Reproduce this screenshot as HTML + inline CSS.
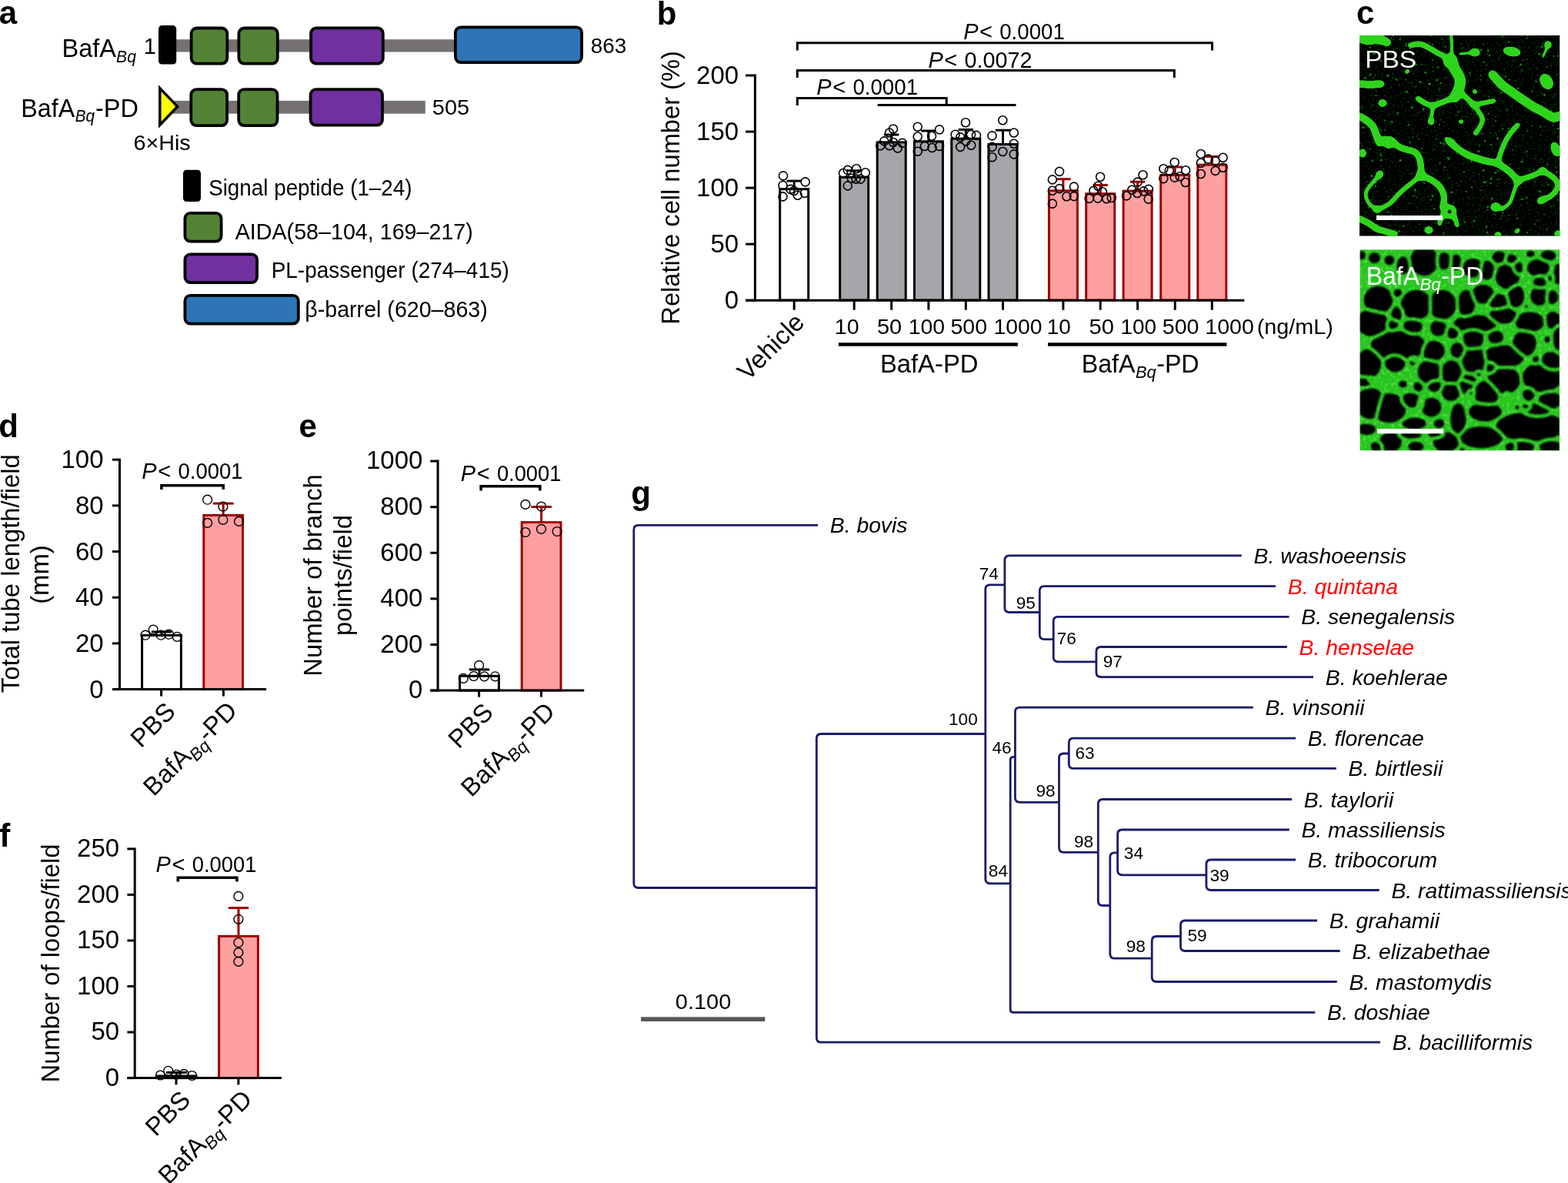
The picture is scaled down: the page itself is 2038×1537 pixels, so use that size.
<!DOCTYPE html><html><head><meta charset="utf-8"><title>Figure</title><style>html,body{margin:0;padding:0;background:#fff;overflow:hidden;}svg{display:block;}text{font-family:'Liberation Sans', Arial, Helvetica, sans-serif;}</style></head><body>
<svg width="2038" height="1537" viewBox="0 0 2038 1537">
<rect width="2038" height="1537" fill="#fff"/>
<text x="-1.26" y="30.5" font-size="42" font-weight="bold">a</text>
<text x="853.87" y="31.5" font-size="42" font-weight="bold">b</text>
<text x="1762.92" y="30.8" font-size="42" font-weight="bold">c</text>
<text x="-1.68" y="568.3" font-size="42" font-weight="bold">d</text>
<text x="388.62" y="567.8" font-size="42" font-weight="bold">e</text>
<text x="-0.73" y="1100.3" font-size="42" font-weight="bold">f</text>
<text x="820.32" y="655" font-size="42" font-weight="bold">g</text>
<rect x="225" y="51.2" width="370" height="16.3" fill="#767171"/>
<rect x="206" y="33.1" width="23.2" height="50.5" rx="4.5" fill="#000"/>
<rect x="248.60" y="36.50" width="46.70" height="46.10" rx="7" fill="#548235" stroke="#000" stroke-width="3.8"/>
<rect x="310.40" y="36.50" width="50.40" height="46.10" rx="7" fill="#548235" stroke="#000" stroke-width="3.8"/>
<rect x="404.10" y="36.40" width="93.70" height="46.30" rx="7" fill="#7030a0" stroke="#000" stroke-width="3.8"/>
<rect x="591.90" y="35.40" width="164.20" height="45.70" rx="7" fill="#2e75b6" stroke="#000" stroke-width="3.8"/>
<text x="80.52" y="73.50" font-size="34" textLength="70.38" lengthAdjust="spacingAndGlyphs">BafA</text>
<text x="151.06" y="80.80" font-size="22.5" font-style="italic" textLength="25.96" lengthAdjust="spacingAndGlyphs">Bq</text>
<text x="186.74" y="69.60" font-size="29">1</text>
<text x="767.82" y="69.00" font-size="28.3" textLength="46.39" lengthAdjust="spacingAndGlyphs">863</text>
<rect x="225" y="130.9" width="327.8" height="16.8" fill="#767171"/>
<path d="M207.8,114.6 L230.6,138.4 L207.8,162.4 Z" fill="#ffff00" stroke="#000" stroke-width="3.5" stroke-linejoin="miter"/>
<rect x="248.30" y="116.10" width="46.80" height="47.00" rx="7" fill="#548235" stroke="#000" stroke-width="3.8"/>
<rect x="310.20" y="116.10" width="50.30" height="47.00" rx="7" fill="#548235" stroke="#000" stroke-width="3.8"/>
<rect x="403.60" y="116.20" width="93.40" height="46.50" rx="7" fill="#7030a0" stroke="#000" stroke-width="3.8"/>
<text x="27.34" y="151.60" font-size="34" textLength="69.86" lengthAdjust="spacingAndGlyphs">BafA</text>
<text x="97.68" y="158.30" font-size="22.5" font-style="italic" textLength="25.44" lengthAdjust="spacingAndGlyphs">Bq</text>
<text x="123.94" y="151.60" font-size="34" textLength="56.00" lengthAdjust="spacingAndGlyphs">-PD</text>
<text x="561.84" y="148.50" font-size="28.3" textLength="48.35" lengthAdjust="spacingAndGlyphs">505</text>
<text x="173.46" y="195.40" font-size="27" textLength="74.23" lengthAdjust="spacingAndGlyphs">6×His</text>
<rect x="238" y="220.8" width="23" height="41.2" rx="4.5" fill="#000"/>
<rect x="240.40" y="276.90" width="47.20" height="36.80" rx="7" fill="#548235" stroke="#000" stroke-width="3.8"/>
<rect x="240.40" y="330.40" width="93.70" height="36.70" rx="7" fill="#7030a0" stroke="#000" stroke-width="3.8"/>
<rect x="240.40" y="383.90" width="147.40" height="36.80" rx="7" fill="#2e75b6" stroke="#000" stroke-width="3.8"/>
<text x="271.15" y="254.00" font-size="29" textLength="264.38" lengthAdjust="spacingAndGlyphs">Signal peptide (1–24)</text>
<text x="305.73" y="310.50" font-size="29" textLength="309.09" lengthAdjust="spacingAndGlyphs">AIDA(58–104, 169–217)</text>
<text x="352.70" y="360.80" font-size="29" textLength="309.07" lengthAdjust="spacingAndGlyphs">PL-passenger (274–415)</text>
<text x="396.30" y="412.00" font-size="29" textLength="237.48" lengthAdjust="spacingAndGlyphs">β-barrel (620–863)</text>
<line x1="981.40" y1="96.50" x2="981.40" y2="391.70" stroke="#000" stroke-width="3" stroke-linecap="butt"/>
<line x1="969.10" y1="390.20" x2="981.40" y2="390.20" stroke="#000" stroke-width="3" stroke-linecap="butt"/>
<text x="941.82" y="401.10" font-size="33">0</text>
<line x1="969.10" y1="317.15" x2="981.40" y2="317.15" stroke="#000" stroke-width="3" stroke-linecap="butt"/>
<text x="923.51" y="328.05" font-size="33">50</text>
<line x1="969.10" y1="244.10" x2="981.40" y2="244.10" stroke="#000" stroke-width="3" stroke-linecap="butt"/>
<text x="905.11" y="255.00" font-size="33">100</text>
<line x1="969.10" y1="171.05" x2="981.40" y2="171.05" stroke="#000" stroke-width="3" stroke-linecap="butt"/>
<text x="905.11" y="181.95" font-size="33">150</text>
<line x1="969.10" y1="98.00" x2="981.40" y2="98.00" stroke="#000" stroke-width="3" stroke-linecap="butt"/>
<text x="905.11" y="108.90" font-size="33">200</text>
<rect x="1013.70" y="245.70" width="37.00" height="144.30" rx="0" fill="#fff" stroke="#000" stroke-width="3"/>
<line x1="1032.20" y1="245.70" x2="1032.20" y2="235.10" stroke="#000" stroke-width="3" stroke-linecap="butt"/>
<line x1="1022.50" y1="235.10" x2="1041.90" y2="235.10" stroke="#000" stroke-width="3" stroke-linecap="butt"/>
<circle cx="1018.0" cy="228.4" r="5.5" fill="none" stroke="#000" stroke-width="1.6"/>
<circle cx="1046.7" cy="236.4" r="5.5" fill="none" stroke="#000" stroke-width="1.6"/>
<circle cx="1017.5" cy="240.9" r="5.5" fill="none" stroke="#000" stroke-width="1.6"/>
<circle cx="1027.5" cy="245.9" r="5.5" fill="none" stroke="#000" stroke-width="1.6"/>
<circle cx="1036.7" cy="253.8" r="5.5" fill="none" stroke="#000" stroke-width="1.6"/>
<circle cx="1017.5" cy="255.4" r="5.5" fill="none" stroke="#000" stroke-width="1.6"/>
<circle cx="1045.9" cy="250.9" r="5.5" fill="none" stroke="#000" stroke-width="1.6"/>
<circle cx="1032.0" cy="248.0" r="5.5" fill="none" stroke="#000" stroke-width="1.6"/>
<rect x="1091.70" y="230.30" width="37.00" height="159.70" rx="0" fill="#a6a5aa" stroke="#000" stroke-width="3"/>
<line x1="1110.20" y1="230.30" x2="1110.20" y2="221.70" stroke="#000" stroke-width="3" stroke-linecap="butt"/>
<line x1="1100.50" y1="221.70" x2="1119.90" y2="221.70" stroke="#000" stroke-width="3" stroke-linecap="butt"/>
<circle cx="1096.0" cy="225.0" r="5.5" fill="none" stroke="#000" stroke-width="1.6"/>
<circle cx="1101.8" cy="220.9" r="5.5" fill="none" stroke="#000" stroke-width="1.6"/>
<circle cx="1113.1" cy="219.2" r="5.5" fill="none" stroke="#000" stroke-width="1.6"/>
<circle cx="1124.8" cy="224.2" r="5.5" fill="none" stroke="#000" stroke-width="1.6"/>
<circle cx="1101.8" cy="241.4" r="5.5" fill="none" stroke="#000" stroke-width="1.6"/>
<circle cx="1106.8" cy="231.7" r="5.5" fill="none" stroke="#000" stroke-width="1.6"/>
<circle cx="1112.6" cy="232.6" r="5.5" fill="none" stroke="#000" stroke-width="1.6"/>
<circle cx="1118.5" cy="232.6" r="5.5" fill="none" stroke="#000" stroke-width="1.6"/>
<rect x="1140.20" y="184.90" width="37.00" height="205.10" rx="0" fill="#a6a5aa" stroke="#000" stroke-width="3"/>
<line x1="1158.70" y1="184.90" x2="1158.70" y2="175.00" stroke="#000" stroke-width="3" stroke-linecap="butt"/>
<line x1="1149.00" y1="175.00" x2="1168.40" y2="175.00" stroke="#000" stroke-width="3" stroke-linecap="butt"/>
<circle cx="1161.0" cy="167.5" r="5.5" fill="none" stroke="#000" stroke-width="1.6"/>
<circle cx="1156.0" cy="172.5" r="5.5" fill="none" stroke="#000" stroke-width="1.6"/>
<circle cx="1149.3" cy="183.4" r="5.5" fill="none" stroke="#000" stroke-width="1.6"/>
<circle cx="1144.3" cy="189.2" r="5.5" fill="none" stroke="#000" stroke-width="1.6"/>
<circle cx="1156.0" cy="189.2" r="5.5" fill="none" stroke="#000" stroke-width="1.6"/>
<circle cx="1161.0" cy="185.0" r="5.5" fill="none" stroke="#000" stroke-width="1.6"/>
<circle cx="1166.8" cy="192.5" r="5.5" fill="none" stroke="#000" stroke-width="1.6"/>
<circle cx="1172.7" cy="185.9" r="5.5" fill="none" stroke="#000" stroke-width="1.6"/>
<rect x="1188.40" y="183.80" width="37.00" height="206.20" rx="0" fill="#a6a5aa" stroke="#000" stroke-width="3"/>
<line x1="1206.90" y1="183.80" x2="1206.90" y2="170.00" stroke="#000" stroke-width="3" stroke-linecap="butt"/>
<line x1="1197.20" y1="170.00" x2="1216.60" y2="170.00" stroke="#000" stroke-width="3" stroke-linecap="butt"/>
<circle cx="1192.7" cy="164.7" r="5.5" fill="none" stroke="#000" stroke-width="1.6"/>
<circle cx="1221.0" cy="168.4" r="5.5" fill="none" stroke="#000" stroke-width="1.6"/>
<circle cx="1192.7" cy="177.5" r="5.5" fill="none" stroke="#000" stroke-width="1.6"/>
<circle cx="1211.0" cy="176.7" r="5.5" fill="none" stroke="#000" stroke-width="1.6"/>
<circle cx="1201.9" cy="190.0" r="5.5" fill="none" stroke="#000" stroke-width="1.6"/>
<circle cx="1211.5" cy="192.0" r="5.5" fill="none" stroke="#000" stroke-width="1.6"/>
<circle cx="1221.0" cy="190.0" r="5.5" fill="none" stroke="#000" stroke-width="1.6"/>
<circle cx="1192.7" cy="196.7" r="5.5" fill="none" stroke="#000" stroke-width="1.6"/>
<rect x="1236.80" y="180.20" width="37.00" height="209.80" rx="0" fill="#a6a5aa" stroke="#000" stroke-width="3"/>
<line x1="1255.30" y1="180.20" x2="1255.30" y2="168.40" stroke="#000" stroke-width="3" stroke-linecap="butt"/>
<line x1="1245.60" y1="168.40" x2="1265.00" y2="168.40" stroke="#000" stroke-width="3" stroke-linecap="butt"/>
<circle cx="1255.0" cy="159.2" r="5.5" fill="none" stroke="#000" stroke-width="1.6"/>
<circle cx="1241.6" cy="174.7" r="5.5" fill="none" stroke="#000" stroke-width="1.6"/>
<circle cx="1248.2" cy="178.4" r="5.5" fill="none" stroke="#000" stroke-width="1.6"/>
<circle cx="1262.0" cy="175.0" r="5.5" fill="none" stroke="#000" stroke-width="1.6"/>
<circle cx="1269.0" cy="175.9" r="5.5" fill="none" stroke="#000" stroke-width="1.6"/>
<circle cx="1255.3" cy="183.4" r="5.5" fill="none" stroke="#000" stroke-width="1.6"/>
<circle cx="1248.2" cy="190.9" r="5.5" fill="none" stroke="#000" stroke-width="1.6"/>
<circle cx="1262.3" cy="188.7" r="5.5" fill="none" stroke="#000" stroke-width="1.6"/>
<rect x="1285.00" y="187.50" width="37.00" height="202.50" rx="0" fill="#a6a5aa" stroke="#000" stroke-width="3"/>
<line x1="1303.50" y1="187.50" x2="1303.50" y2="169.20" stroke="#000" stroke-width="3" stroke-linecap="butt"/>
<line x1="1293.80" y1="169.20" x2="1313.20" y2="169.20" stroke="#000" stroke-width="3" stroke-linecap="butt"/>
<circle cx="1303.3" cy="156.3" r="5.5" fill="none" stroke="#000" stroke-width="1.6"/>
<circle cx="1289.5" cy="176.4" r="5.5" fill="none" stroke="#000" stroke-width="1.6"/>
<circle cx="1317.8" cy="172.5" r="5.5" fill="none" stroke="#000" stroke-width="1.6"/>
<circle cx="1317.8" cy="186.7" r="5.5" fill="none" stroke="#000" stroke-width="1.6"/>
<circle cx="1289.5" cy="190.9" r="5.5" fill="none" stroke="#000" stroke-width="1.6"/>
<circle cx="1303.3" cy="197.0" r="5.5" fill="none" stroke="#000" stroke-width="1.6"/>
<circle cx="1289.5" cy="204.2" r="5.5" fill="none" stroke="#000" stroke-width="1.6"/>
<circle cx="1317.8" cy="200.4" r="5.5" fill="none" stroke="#000" stroke-width="1.6"/>
<rect x="1363.40" y="247.80" width="37.00" height="142.20" rx="0" fill="#ffa0a0" stroke="#9c0000" stroke-width="3"/>
<line x1="1381.90" y1="247.80" x2="1381.90" y2="232.70" stroke="#9c0000" stroke-width="3" stroke-linecap="butt"/>
<line x1="1372.20" y1="232.70" x2="1391.60" y2="232.70" stroke="#9c0000" stroke-width="3" stroke-linecap="butt"/>
<circle cx="1377.0" cy="222.9" r="5.5" fill="none" stroke="#000" stroke-width="1.6"/>
<circle cx="1367.9" cy="233.4" r="5.5" fill="none" stroke="#000" stroke-width="1.6"/>
<circle cx="1395.9" cy="242.6" r="5.5" fill="none" stroke="#000" stroke-width="1.6"/>
<circle cx="1367.9" cy="247.7" r="5.5" fill="none" stroke="#000" stroke-width="1.6"/>
<circle cx="1377.0" cy="245.1" r="5.5" fill="none" stroke="#000" stroke-width="1.6"/>
<circle cx="1386.4" cy="255.3" r="5.5" fill="none" stroke="#000" stroke-width="1.6"/>
<circle cx="1395.9" cy="255.1" r="5.5" fill="none" stroke="#000" stroke-width="1.6"/>
<circle cx="1367.9" cy="264.6" r="5.5" fill="none" stroke="#000" stroke-width="1.6"/>
<rect x="1411.70" y="251.70" width="37.00" height="138.30" rx="0" fill="#ffa0a0" stroke="#9c0000" stroke-width="3"/>
<line x1="1430.20" y1="251.70" x2="1430.20" y2="240.40" stroke="#9c0000" stroke-width="3" stroke-linecap="butt"/>
<line x1="1420.50" y1="240.40" x2="1439.90" y2="240.40" stroke="#9c0000" stroke-width="3" stroke-linecap="butt"/>
<circle cx="1430.1" cy="229.8" r="5.5" fill="none" stroke="#000" stroke-width="1.6"/>
<circle cx="1427.2" cy="241.7" r="5.5" fill="none" stroke="#000" stroke-width="1.6"/>
<circle cx="1421.4" cy="247.7" r="5.5" fill="none" stroke="#000" stroke-width="1.6"/>
<circle cx="1432.9" cy="249.3" r="5.5" fill="none" stroke="#000" stroke-width="1.6"/>
<circle cx="1415.7" cy="257.9" r="5.5" fill="none" stroke="#000" stroke-width="1.6"/>
<circle cx="1426.8" cy="257.6" r="5.5" fill="none" stroke="#000" stroke-width="1.6"/>
<circle cx="1438.3" cy="258.3" r="5.5" fill="none" stroke="#000" stroke-width="1.6"/>
<circle cx="1444.7" cy="257.0" r="5.5" fill="none" stroke="#000" stroke-width="1.6"/>
<rect x="1460.10" y="248.10" width="37.00" height="141.90" rx="0" fill="#ffa0a0" stroke="#9c0000" stroke-width="3"/>
<line x1="1478.60" y1="248.10" x2="1478.60" y2="236.20" stroke="#9c0000" stroke-width="3" stroke-linecap="butt"/>
<line x1="1468.90" y1="236.20" x2="1488.30" y2="236.20" stroke="#9c0000" stroke-width="3" stroke-linecap="butt"/>
<circle cx="1485.5" cy="227.3" r="5.5" fill="none" stroke="#000" stroke-width="1.6"/>
<circle cx="1478.6" cy="236.6" r="5.5" fill="none" stroke="#000" stroke-width="1.6"/>
<circle cx="1471.2" cy="246.8" r="5.5" fill="none" stroke="#000" stroke-width="1.6"/>
<circle cx="1486.3" cy="248.4" r="5.5" fill="none" stroke="#000" stroke-width="1.6"/>
<circle cx="1492.9" cy="245.9" r="5.5" fill="none" stroke="#000" stroke-width="1.6"/>
<circle cx="1464.2" cy="254.4" r="5.5" fill="none" stroke="#000" stroke-width="1.6"/>
<circle cx="1478.2" cy="251.0" r="5.5" fill="none" stroke="#000" stroke-width="1.6"/>
<circle cx="1492.6" cy="258.6" r="5.5" fill="none" stroke="#000" stroke-width="1.6"/>
<rect x="1508.70" y="227.50" width="37.00" height="162.50" rx="0" fill="#ffa0a0" stroke="#9c0000" stroke-width="3"/>
<line x1="1527.20" y1="227.50" x2="1527.20" y2="217.00" stroke="#9c0000" stroke-width="3" stroke-linecap="butt"/>
<line x1="1517.50" y1="217.00" x2="1536.90" y2="217.00" stroke="#9c0000" stroke-width="3" stroke-linecap="butt"/>
<circle cx="1526.7" cy="211.0" r="5.5" fill="none" stroke="#000" stroke-width="1.6"/>
<circle cx="1512.3" cy="219.3" r="5.5" fill="none" stroke="#000" stroke-width="1.6"/>
<circle cx="1519.7" cy="221.6" r="5.5" fill="none" stroke="#000" stroke-width="1.6"/>
<circle cx="1541.1" cy="221.3" r="5.5" fill="none" stroke="#000" stroke-width="1.6"/>
<circle cx="1512.3" cy="232.1" r="5.5" fill="none" stroke="#000" stroke-width="1.6"/>
<circle cx="1526.7" cy="230.6" r="5.5" fill="none" stroke="#000" stroke-width="1.6"/>
<circle cx="1533.7" cy="229.3" r="5.5" fill="none" stroke="#000" stroke-width="1.6"/>
<circle cx="1540.7" cy="237.0" r="5.5" fill="none" stroke="#000" stroke-width="1.6"/>
<rect x="1556.80" y="214.20" width="37.00" height="175.80" rx="0" fill="#ffa0a0" stroke="#9c0000" stroke-width="3"/>
<line x1="1575.30" y1="214.20" x2="1575.30" y2="203.40" stroke="#9c0000" stroke-width="3" stroke-linecap="butt"/>
<line x1="1565.60" y1="203.40" x2="1585.00" y2="203.40" stroke="#9c0000" stroke-width="3" stroke-linecap="butt"/>
<circle cx="1560.8" cy="200.0" r="5.5" fill="none" stroke="#000" stroke-width="1.6"/>
<circle cx="1589.6" cy="204.7" r="5.5" fill="none" stroke="#000" stroke-width="1.6"/>
<circle cx="1570.5" cy="206.6" r="5.5" fill="none" stroke="#000" stroke-width="1.6"/>
<circle cx="1579.7" cy="209.1" r="5.5" fill="none" stroke="#000" stroke-width="1.6"/>
<circle cx="1560.8" cy="211.7" r="5.5" fill="none" stroke="#000" stroke-width="1.6"/>
<circle cx="1589.6" cy="217.8" r="5.5" fill="none" stroke="#000" stroke-width="1.6"/>
<circle cx="1579.7" cy="221.9" r="5.5" fill="none" stroke="#000" stroke-width="1.6"/>
<circle cx="1560.8" cy="226.0" r="5.5" fill="none" stroke="#000" stroke-width="1.6"/>
<line x1="969.00" y1="390.20" x2="1617.30" y2="390.20" stroke="#000" stroke-width="3" stroke-linecap="butt"/>
<line x1="1032.20" y1="390.20" x2="1032.20" y2="402.70" stroke="#000" stroke-width="3" stroke-linecap="butt"/>
<line x1="1110.20" y1="390.20" x2="1110.20" y2="402.70" stroke="#000" stroke-width="3" stroke-linecap="butt"/>
<line x1="1158.70" y1="390.20" x2="1158.70" y2="402.70" stroke="#000" stroke-width="3" stroke-linecap="butt"/>
<line x1="1206.90" y1="390.20" x2="1206.90" y2="402.70" stroke="#000" stroke-width="3" stroke-linecap="butt"/>
<line x1="1255.30" y1="390.20" x2="1255.30" y2="402.70" stroke="#000" stroke-width="3" stroke-linecap="butt"/>
<line x1="1303.50" y1="390.20" x2="1303.50" y2="402.70" stroke="#000" stroke-width="3" stroke-linecap="butt"/>
<line x1="1381.90" y1="390.20" x2="1381.90" y2="402.70" stroke="#000" stroke-width="3" stroke-linecap="butt"/>
<line x1="1430.20" y1="390.20" x2="1430.20" y2="402.70" stroke="#000" stroke-width="3" stroke-linecap="butt"/>
<line x1="1478.60" y1="390.20" x2="1478.60" y2="402.70" stroke="#000" stroke-width="3" stroke-linecap="butt"/>
<line x1="1527.20" y1="390.20" x2="1527.20" y2="402.70" stroke="#000" stroke-width="3" stroke-linecap="butt"/>
<line x1="1575.30" y1="390.20" x2="1575.30" y2="402.70" stroke="#000" stroke-width="3" stroke-linecap="butt"/>
<path d="M1036.3,65.5 V55.8 H1575.5 V65.5" fill="none" stroke="#000" stroke-width="3"/>
<path d="M1036.3,100.9 V91.4 H1526.3 V100.9" fill="none" stroke="#000" stroke-width="3"/>
<path d="M1036.3,137.0 V127.6 H1230.2 V136.5" fill="none" stroke="#000" stroke-width="3"/>
<line x1="1140.70" y1="136.50" x2="1320.50" y2="136.50" stroke="#000" stroke-width="3" stroke-linecap="butt"/>
<text x="1061.33" y="122.80" font-size="29" font-style="italic">P</text>
<text x="1082.15" y="122.80" font-size="29">&lt;</text>
<text x="1108.39" y="122.80" font-size="29" textLength="84.66" lengthAdjust="spacingAndGlyphs">0.0001</text>
<text x="1206.53" y="87.80" font-size="29" font-style="italic">P</text>
<text x="1227.35" y="87.80" font-size="29">&lt;</text>
<text x="1253.55" y="87.80" font-size="29" textLength="88.02" lengthAdjust="spacingAndGlyphs">0.0072</text>
<text x="1252.13" y="50.60" font-size="29" font-style="italic">P</text>
<text x="1272.95" y="50.60" font-size="29">&lt;</text>
<text x="1299.19" y="50.60" font-size="29" textLength="84.66" lengthAdjust="spacingAndGlyphs">0.0001</text>
<text x="1084.76" y="434.30" font-size="28.2" textLength="31.78" lengthAdjust="spacingAndGlyphs">10</text>
<text x="1139.94" y="434.30" font-size="28.2" textLength="32.21" lengthAdjust="spacingAndGlyphs">50</text>
<text x="1180.67" y="434.30" font-size="28.2" textLength="47.43" lengthAdjust="spacingAndGlyphs">100</text>
<text x="1235.46" y="434.30" font-size="28.2" textLength="47.64" lengthAdjust="spacingAndGlyphs">500</text>
<text x="1291.47" y="434.30" font-size="28.2" textLength="63.05" lengthAdjust="spacingAndGlyphs">1000</text>
<text x="1360.81" y="434.30" font-size="28.2" textLength="31.00" lengthAdjust="spacingAndGlyphs">10</text>
<text x="1415.43" y="434.30" font-size="28.2" textLength="32.43" lengthAdjust="spacingAndGlyphs">50</text>
<text x="1456.41" y="434.30" font-size="28.2" textLength="46.57" lengthAdjust="spacingAndGlyphs">100</text>
<text x="1510.86" y="434.30" font-size="28.2" textLength="47.64" lengthAdjust="spacingAndGlyphs">500</text>
<text x="1566.36" y="434.30" font-size="28.2" textLength="63.37" lengthAdjust="spacingAndGlyphs">1000</text>
<text x="1633.80" y="434.30" font-size="28.2" textLength="99.00" lengthAdjust="spacingAndGlyphs">(ng/mL)</text>
<line x1="1089.90" y1="447.50" x2="1322.90" y2="447.50" stroke="#000" stroke-width="4.4" stroke-linecap="butt"/>
<line x1="1362.00" y1="447.50" x2="1594.40" y2="447.50" stroke="#000" stroke-width="4.4" stroke-linecap="butt"/>
<text x="1143.89" y="484.10" font-size="33" textLength="127.57" lengthAdjust="spacingAndGlyphs">BafA-PD</text>
<text x="1405.75" y="484.20" font-size="33" textLength="69.76" lengthAdjust="spacingAndGlyphs">BafA</text>
<text x="1476.00" y="491.20" font-size="22.5" font-style="italic" textLength="26.70" lengthAdjust="spacingAndGlyphs">Bq</text>
<text x="1503.20" y="484.20" font-size="33" textLength="55.41" lengthAdjust="spacingAndGlyphs">-PD</text>
<g transform="translate(882.8,243.9) rotate(-90)">
<text x="-177.76" y="0.00" font-size="33" textLength="355.51" lengthAdjust="spacingAndGlyphs">Relative cell number (%)</text>
</g>
<g transform="translate(1047.3,420.7) rotate(-45)">
<text x="-106.42" y="0.00" font-size="33">Vehicle</text>
</g>
<defs><clipPath id="cp1"><rect x="0" y="0" width="260.4" height="260.7"/></clipPath><clipPath id="cp2"><rect x="0" y="0" width="259.6" height="261.3"/></clipPath><filter id="soft" x="-5%" y="-5%" width="110%" height="110%"><feGaussianBlur stdDeviation="2.2" result="b"/><feColorMatrix in="b" values="1 0 0 0 0  0 1 0 0 0  0 0 1 0 0  0 0 0 9 -3.6" result="g"/><feGaussianBlur in="g" stdDeviation="0.7"/></filter><filter id="soft2" x="-5%" y="-5%" width="110%" height="110%"><feGaussianBlur stdDeviation="1.1"/></filter><filter id="tex2" x="0" y="0" width="100%" height="100%"><feTurbulence type="fractalNoise" baseFrequency="0.22" numOctaves="2" seed="5"/><feColorMatrix values="0 0 0 0 0.22  0 0 0 0 0.95  0 0 0 0 0.12  0 0 0 1.6 -0.8"/></filter><filter id="haze1" x="0" y="0" width="100%" height="100%"><feTurbulence type="fractalNoise" baseFrequency="0.35" numOctaves="2" seed="9"/><feColorMatrix values="0 0 0 0 0  0 0 0 0 0.4  0 0 0 0 0  0 0 0 1.5 -0.85"/></filter></defs>
<g transform="translate(1767,46)" clip-path="url(#cp1)"><rect width="260.4" height="260.7" fill="#000"/><rect width="260.4" height="260.7" filter="url(#haze1)"/><g fill="#1f9a1a" opacity="0.8"><circle cx="84.2" cy="39.2" r="0.6"/><circle cx="18.8" cy="139.3" r="1.0"/><circle cx="151.5" cy="236.5" r="0.8"/><circle cx="9.7" cy="112.7" r="0.6"/><circle cx="62.6" cy="143.3" r="0.6"/><circle cx="215.0" cy="32.2" r="0.8"/><circle cx="164.0" cy="151.6" r="0.6"/><circle cx="150.0" cy="103.1" r="0.8"/><circle cx="12.1" cy="223.2" r="1.0"/><circle cx="109.0" cy="140.6" r="1.5"/><circle cx="80.2" cy="212.2" r="0.8"/><circle cx="26.8" cy="148.5" r="0.8"/><circle cx="96.8" cy="142.4" r="0.6"/><circle cx="146.7" cy="160.9" r="1.2"/><circle cx="176.9" cy="111.2" r="1.0"/><circle cx="121.1" cy="240.1" r="1.0"/><circle cx="77.9" cy="206.5" r="0.8"/><circle cx="21.3" cy="78.1" r="1.2"/><circle cx="227.5" cy="189.7" r="1.0"/><circle cx="158.3" cy="19.0" r="1.5"/><circle cx="108.7" cy="196.9" r="0.8"/><circle cx="242.7" cy="109.6" r="0.6"/><circle cx="198.8" cy="149.0" r="1.0"/><circle cx="88.4" cy="91.0" r="1.2"/><circle cx="150.8" cy="118.6" r="0.6"/><circle cx="245.6" cy="123.3" r="0.6"/><circle cx="15.8" cy="182.4" r="1.5"/><circle cx="258.2" cy="213.7" r="1.0"/><circle cx="186.3" cy="230.6" r="1.0"/><circle cx="5.9" cy="120.0" r="0.8"/><circle cx="158.8" cy="128.4" r="0.8"/><circle cx="199.7" cy="33.6" r="0.8"/><circle cx="103.5" cy="238.4" r="1.2"/><circle cx="21.0" cy="116.8" r="1.5"/><circle cx="72.2" cy="35.6" r="1.2"/><circle cx="224.6" cy="72.4" r="1.2"/><circle cx="256.5" cy="177.5" r="1.2"/><circle cx="249.0" cy="39.2" r="0.8"/><circle cx="39.3" cy="171.2" r="0.6"/><circle cx="126.1" cy="153.2" r="1.0"/><circle cx="73.3" cy="37.9" r="1.5"/><circle cx="96.0" cy="147.2" r="0.8"/><circle cx="179.5" cy="134.0" r="1.5"/><circle cx="170.3" cy="192.3" r="1.2"/><circle cx="233.9" cy="202.8" r="1.5"/><circle cx="102.0" cy="103.7" r="0.6"/><circle cx="125.2" cy="104.1" r="0.8"/><circle cx="17.5" cy="54.3" r="0.8"/><circle cx="28.6" cy="156.2" r="0.6"/><circle cx="0.1" cy="39.3" r="0.6"/><circle cx="246.7" cy="159.6" r="0.6"/><circle cx="227.3" cy="159.7" r="0.8"/><circle cx="164.9" cy="248.4" r="1.5"/><circle cx="94.7" cy="31.9" r="1.2"/><circle cx="258.2" cy="121.2" r="1.2"/><circle cx="81.1" cy="37.5" r="1.0"/><circle cx="192.5" cy="124.4" r="0.8"/><circle cx="134.2" cy="53.4" r="1.5"/><circle cx="94.1" cy="179.4" r="0.6"/><circle cx="197.1" cy="77.5" r="0.6"/><circle cx="181.0" cy="67.9" r="1.0"/><circle cx="236.1" cy="92.5" r="0.8"/><circle cx="138.5" cy="202.6" r="1.0"/><circle cx="165.5" cy="159.4" r="0.8"/><circle cx="209.6" cy="212.8" r="0.8"/><circle cx="52.0" cy="128.1" r="0.6"/><circle cx="257.3" cy="205.4" r="1.2"/><circle cx="67.4" cy="180.1" r="1.0"/><circle cx="116.3" cy="243.6" r="1.0"/><circle cx="248.3" cy="94.8" r="0.8"/><circle cx="26.6" cy="122.2" r="1.0"/><circle cx="53.1" cy="162.3" r="1.5"/><circle cx="218.5" cy="124.7" r="1.0"/><circle cx="207.9" cy="22.0" r="0.6"/><circle cx="236.5" cy="203.4" r="0.8"/><circle cx="124.3" cy="46.4" r="1.0"/><circle cx="22.6" cy="246.0" r="1.2"/><circle cx="120.4" cy="193.3" r="0.6"/><circle cx="188.4" cy="44.2" r="0.8"/><circle cx="7.2" cy="153.6" r="1.2"/><circle cx="209.7" cy="38.0" r="1.5"/><circle cx="254.9" cy="170.9" r="1.0"/><circle cx="40.5" cy="142.6" r="0.6"/><circle cx="3.7" cy="252.4" r="0.6"/><circle cx="136.9" cy="242.7" r="1.2"/><circle cx="256.5" cy="50.6" r="0.8"/><circle cx="7.3" cy="55.3" r="1.5"/><circle cx="62.5" cy="152.5" r="1.0"/><circle cx="141.5" cy="216.9" r="0.6"/><circle cx="236.6" cy="92.0" r="1.2"/><circle cx="172.2" cy="211.9" r="1.5"/><circle cx="109.4" cy="238.6" r="1.5"/><circle cx="34.0" cy="39.5" r="1.5"/><circle cx="4.9" cy="114.4" r="0.8"/><circle cx="158.2" cy="201.8" r="0.8"/><circle cx="44.8" cy="123.1" r="0.6"/><circle cx="144.7" cy="84.8" r="1.5"/><circle cx="138.0" cy="125.4" r="0.6"/><circle cx="229.6" cy="14.8" r="0.8"/><circle cx="72.0" cy="200.8" r="1.5"/><circle cx="117.6" cy="7.2" r="0.6"/><circle cx="115.2" cy="159.3" r="1.5"/><circle cx="157.6" cy="51.8" r="1.0"/><circle cx="117.6" cy="138.7" r="1.2"/><circle cx="132.0" cy="64.4" r="1.5"/><circle cx="227.9" cy="245.0" r="1.0"/><circle cx="239.9" cy="232.1" r="0.8"/><circle cx="218.4" cy="35.7" r="0.6"/><circle cx="102.0" cy="82.2" r="0.8"/><circle cx="111.4" cy="55.3" r="1.0"/><circle cx="203.8" cy="233.2" r="0.8"/><circle cx="244.3" cy="167.3" r="1.0"/><circle cx="37.2" cy="229.5" r="1.2"/><circle cx="57.1" cy="247.7" r="1.2"/><circle cx="230.1" cy="42.3" r="0.8"/><circle cx="42.0" cy="112.2" r="1.5"/><circle cx="105.0" cy="109.5" r="1.0"/><circle cx="82.8" cy="187.8" r="0.6"/><circle cx="87.9" cy="119.3" r="0.6"/><circle cx="99.9" cy="134.5" r="1.0"/><circle cx="133.2" cy="16.7" r="0.8"/><circle cx="252.6" cy="27.2" r="1.0"/><circle cx="70.7" cy="235.5" r="0.8"/><circle cx="70.3" cy="33.7" r="1.2"/><circle cx="220.9" cy="175.8" r="1.0"/><circle cx="105.5" cy="139.5" r="1.5"/><circle cx="148.4" cy="182.1" r="0.6"/><circle cx="72.6" cy="207.9" r="0.8"/><circle cx="110.6" cy="18.8" r="0.6"/><circle cx="165.0" cy="208.4" r="0.6"/><circle cx="158.1" cy="57.8" r="1.0"/><circle cx="224.3" cy="118.0" r="1.0"/><circle cx="258.5" cy="108.6" r="1.0"/><circle cx="161.6" cy="11.2" r="0.8"/><circle cx="243.9" cy="252.0" r="1.0"/><circle cx="13.1" cy="52.5" r="1.0"/><circle cx="163.5" cy="138.1" r="0.8"/><circle cx="75.4" cy="130.0" r="0.8"/><circle cx="70.3" cy="209.0" r="1.0"/><circle cx="9.6" cy="4.8" r="1.5"/><circle cx="143.3" cy="49.3" r="1.2"/><circle cx="63.9" cy="116.2" r="1.2"/><circle cx="170.7" cy="141.9" r="1.2"/><circle cx="252.3" cy="80.0" r="0.8"/><circle cx="255.4" cy="89.1" r="0.8"/><circle cx="105.2" cy="90.4" r="0.6"/><circle cx="217.6" cy="3.7" r="1.0"/><circle cx="112.0" cy="14.4" r="1.2"/><circle cx="226.3" cy="174.3" r="1.0"/><circle cx="155.7" cy="180.1" r="0.6"/><circle cx="119.5" cy="41.0" r="1.2"/><circle cx="0.9" cy="94.7" r="1.0"/><circle cx="252.9" cy="142.2" r="0.8"/><circle cx="9.0" cy="229.4" r="0.8"/><circle cx="92.7" cy="0.3" r="1.2"/><circle cx="21.8" cy="72.5" r="0.8"/><circle cx="64.5" cy="201.8" r="0.6"/><circle cx="68.7" cy="23.3" r="1.2"/><circle cx="152.6" cy="102.4" r="1.0"/><circle cx="79.1" cy="60.5" r="1.5"/><circle cx="249.0" cy="221.8" r="0.8"/><circle cx="171.0" cy="186.2" r="1.5"/><circle cx="101.3" cy="84.8" r="1.2"/><circle cx="38.9" cy="188.3" r="0.8"/><circle cx="11.4" cy="217.2" r="1.5"/><circle cx="163.1" cy="190.8" r="1.5"/><circle cx="36.2" cy="136.2" r="1.5"/><circle cx="147.8" cy="211.4" r="0.6"/><circle cx="214.9" cy="151.9" r="0.8"/><circle cx="22.1" cy="10.9" r="1.0"/><circle cx="249.5" cy="97.9" r="1.2"/><circle cx="145.2" cy="163.2" r="1.5"/><circle cx="177.0" cy="127.2" r="0.6"/><circle cx="118.8" cy="18.2" r="1.5"/><circle cx="233.4" cy="23.9" r="1.5"/><circle cx="17.2" cy="191.6" r="1.0"/><circle cx="210.4" cy="220.0" r="0.8"/><circle cx="189.6" cy="53.4" r="1.2"/><circle cx="128.4" cy="99.5" r="1.2"/><circle cx="236.7" cy="74.7" r="0.6"/><circle cx="160.4" cy="167.1" r="0.6"/><circle cx="155.9" cy="86.3" r="1.0"/><circle cx="161.5" cy="34.7" r="1.2"/><circle cx="15.8" cy="69.9" r="0.6"/><circle cx="180.0" cy="175.7" r="1.0"/><circle cx="184.3" cy="74.2" r="1.2"/><circle cx="121.2" cy="30.8" r="1.5"/><circle cx="51.8" cy="254.3" r="1.2"/><circle cx="4.6" cy="119.3" r="1.5"/><circle cx="251.7" cy="116.9" r="1.0"/><circle cx="100.6" cy="238.3" r="0.8"/><circle cx="19.4" cy="23.5" r="1.5"/><circle cx="68.1" cy="93.5" r="1.5"/><circle cx="213.3" cy="132.3" r="0.6"/><circle cx="182.9" cy="60.2" r="1.2"/><circle cx="102.5" cy="41.4" r="1.2"/><circle cx="177.2" cy="105.4" r="0.8"/><circle cx="108.2" cy="97.8" r="0.6"/><circle cx="218.5" cy="0.5" r="1.0"/><circle cx="218.2" cy="31.2" r="0.8"/><circle cx="185.4" cy="234.4" r="1.0"/><circle cx="65.8" cy="16.9" r="1.2"/><circle cx="259.7" cy="153.2" r="1.0"/><circle cx="240.6" cy="196.5" r="0.6"/><circle cx="73.0" cy="13.4" r="1.0"/><circle cx="165.1" cy="38.7" r="1.0"/><circle cx="113.4" cy="82.1" r="1.0"/><circle cx="204.1" cy="111.2" r="0.6"/><circle cx="211.1" cy="164.0" r="1.5"/><circle cx="142.8" cy="187.1" r="0.6"/><circle cx="242.7" cy="106.8" r="1.5"/><circle cx="195.7" cy="167.6" r="1.0"/><circle cx="126.2" cy="237.1" r="1.5"/><circle cx="33.1" cy="122.8" r="1.0"/><circle cx="73.3" cy="66.5" r="1.0"/><circle cx="105.6" cy="62.1" r="1.2"/><circle cx="144.9" cy="102.5" r="0.8"/><circle cx="167.2" cy="19.5" r="1.5"/><circle cx="235.5" cy="129.2" r="0.8"/><circle cx="117.8" cy="86.5" r="1.2"/><circle cx="111.1" cy="142.4" r="0.8"/><circle cx="23.6" cy="88.9" r="0.6"/><circle cx="83.0" cy="95.8" r="1.5"/><circle cx="52.6" cy="5.2" r="1.2"/><circle cx="99.5" cy="193.9" r="0.8"/><circle cx="98.0" cy="87.9" r="0.6"/><circle cx="129.5" cy="149.3" r="1.0"/><circle cx="32.7" cy="130.9" r="0.8"/><circle cx="24.1" cy="233.2" r="1.2"/><circle cx="103.9" cy="115.9" r="1.0"/><circle cx="220.7" cy="227.0" r="0.6"/><circle cx="33.1" cy="110.6" r="1.2"/><circle cx="251.8" cy="127.4" r="0.6"/><circle cx="101.8" cy="241.0" r="1.5"/><circle cx="222.4" cy="252.8" r="0.8"/><circle cx="203.6" cy="58.2" r="0.8"/><circle cx="135.8" cy="177.3" r="1.2"/><circle cx="22.1" cy="202.0" r="0.6"/><circle cx="203.4" cy="60.5" r="0.6"/><circle cx="167.8" cy="79.0" r="0.8"/><circle cx="162.9" cy="137.3" r="1.2"/><circle cx="181.6" cy="29.2" r="0.6"/><circle cx="78.1" cy="245.3" r="0.8"/><circle cx="100.9" cy="58.1" r="1.5"/><circle cx="0.3" cy="139.7" r="1.2"/><circle cx="72.4" cy="82.3" r="0.8"/><circle cx="123.6" cy="61.0" r="0.8"/><circle cx="7.6" cy="107.1" r="1.0"/><circle cx="14.4" cy="50.5" r="1.2"/><circle cx="21.1" cy="59.2" r="1.2"/><circle cx="240.5" cy="59.0" r="0.6"/><circle cx="180.9" cy="186.8" r="1.0"/><circle cx="177.5" cy="51.5" r="1.0"/><circle cx="192.2" cy="131.3" r="0.8"/><circle cx="128.9" cy="52.1" r="0.8"/><circle cx="60.0" cy="57.6" r="1.0"/><circle cx="28.3" cy="162.1" r="1.5"/><circle cx="48.7" cy="58.1" r="1.2"/><circle cx="236.7" cy="14.7" r="1.5"/><circle cx="38.1" cy="102.3" r="0.8"/><circle cx="6.1" cy="155.0" r="1.2"/><circle cx="13.5" cy="15.6" r="1.2"/><circle cx="116.9" cy="185.1" r="1.0"/><circle cx="190.5" cy="259.4" r="0.8"/><circle cx="85.6" cy="48.2" r="1.5"/><circle cx="194.0" cy="8.3" r="1.2"/><circle cx="218.2" cy="256.1" r="1.2"/><circle cx="44.0" cy="0.7" r="1.0"/><circle cx="21.0" cy="109.2" r="0.6"/><circle cx="145.9" cy="197.3" r="1.2"/><circle cx="92.7" cy="213.6" r="1.2"/><circle cx="22.8" cy="183.4" r="0.8"/><circle cx="96.9" cy="239.1" r="0.8"/><circle cx="84.1" cy="191.7" r="1.2"/><circle cx="7.9" cy="106.8" r="1.2"/><circle cx="10.6" cy="9.1" r="0.6"/><circle cx="208.9" cy="16.1" r="0.8"/><circle cx="194.3" cy="233.6" r="1.0"/><circle cx="94.4" cy="87.1" r="1.5"/><circle cx="11.3" cy="194.1" r="1.0"/><circle cx="240.3" cy="77.3" r="1.5"/><circle cx="238.3" cy="164.8" r="0.6"/><circle cx="6.3" cy="60.8" r="1.2"/><circle cx="186.0" cy="121.1" r="1.2"/><circle cx="205.3" cy="237.5" r="1.2"/><circle cx="34.5" cy="129.1" r="0.6"/><circle cx="208.7" cy="192.0" r="0.8"/><circle cx="157.9" cy="85.2" r="1.0"/><circle cx="119.8" cy="203.8" r="1.5"/><circle cx="20.5" cy="51.3" r="0.8"/><circle cx="64.3" cy="16.8" r="0.6"/><circle cx="125.2" cy="141.6" r="0.8"/><circle cx="254.9" cy="229.7" r="0.6"/><circle cx="68.9" cy="21.9" r="0.6"/><circle cx="109.5" cy="257.0" r="1.2"/><circle cx="45.0" cy="34.6" r="1.2"/><circle cx="161.3" cy="175.3" r="1.5"/><circle cx="220.2" cy="172.8" r="0.6"/><circle cx="202.7" cy="76.4" r="1.0"/><circle cx="147.4" cy="97.0" r="1.0"/><circle cx="51.8" cy="64.3" r="0.8"/><circle cx="61.2" cy="73.2" r="1.5"/><circle cx="48.9" cy="16.8" r="1.0"/><circle cx="258.0" cy="131.9" r="0.8"/><circle cx="168.9" cy="26.1" r="1.2"/><circle cx="257.6" cy="26.6" r="1.2"/><circle cx="229.5" cy="60.1" r="1.2"/><circle cx="237.7" cy="10.5" r="1.0"/><circle cx="60.6" cy="13.1" r="1.5"/><circle cx="253.0" cy="151.6" r="0.6"/><circle cx="96.8" cy="225.2" r="1.2"/><circle cx="156.8" cy="201.5" r="0.6"/><circle cx="27.5" cy="155.0" r="1.5"/><circle cx="90.9" cy="9.7" r="1.0"/><circle cx="36.8" cy="53.0" r="1.0"/><circle cx="9.9" cy="190.4" r="0.8"/><circle cx="211.8" cy="212.9" r="1.2"/><circle cx="176.4" cy="48.1" r="1.0"/><circle cx="20.3" cy="8.2" r="1.2"/><circle cx="142.5" cy="16.5" r="0.6"/><circle cx="206.9" cy="172.6" r="0.8"/><circle cx="166.2" cy="23.7" r="0.8"/><circle cx="103.4" cy="70.5" r="1.0"/><circle cx="173.6" cy="108.6" r="0.6"/><circle cx="81.2" cy="147.3" r="1.0"/><circle cx="107.7" cy="4.7" r="1.0"/><circle cx="167.6" cy="101.6" r="1.2"/><circle cx="53.0" cy="1.5" r="0.8"/><circle cx="110.2" cy="213.3" r="1.2"/><circle cx="150.2" cy="94.8" r="0.8"/><circle cx="33.8" cy="13.4" r="0.8"/><circle cx="166.6" cy="236.5" r="0.6"/><circle cx="148.9" cy="241.1" r="1.5"/><circle cx="44.6" cy="90.5" r="0.8"/><circle cx="135.5" cy="240.6" r="0.6"/><circle cx="99.8" cy="195.9" r="0.8"/><circle cx="78.4" cy="217.7" r="0.6"/><circle cx="253.6" cy="125.5" r="0.6"/><circle cx="158.0" cy="165.5" r="0.6"/><circle cx="235.1" cy="161.3" r="0.8"/><circle cx="166.5" cy="222.7" r="1.5"/><circle cx="105.2" cy="220.1" r="1.2"/><circle cx="47.6" cy="56.7" r="1.2"/><circle cx="244.0" cy="40.7" r="1.0"/><circle cx="32.0" cy="64.2" r="0.8"/><circle cx="10.7" cy="146.2" r="0.6"/><circle cx="173.7" cy="84.3" r="1.2"/><circle cx="155.9" cy="143.0" r="1.0"/><circle cx="168.7" cy="80.1" r="0.8"/><circle cx="110.7" cy="171.3" r="1.2"/><circle cx="130.9" cy="46.5" r="0.6"/><circle cx="160.9" cy="127.3" r="0.8"/><circle cx="116.2" cy="160.8" r="1.2"/><circle cx="217.5" cy="210.7" r="1.2"/><circle cx="27.8" cy="33.4" r="1.2"/><circle cx="95.0" cy="208.6" r="1.5"/><circle cx="132.6" cy="10.6" r="0.8"/><circle cx="21.4" cy="190.7" r="1.5"/><circle cx="20.8" cy="195.5" r="1.2"/><circle cx="169.7" cy="203.9" r="0.6"/><circle cx="222.8" cy="259.0" r="0.6"/><circle cx="50.4" cy="255.2" r="1.2"/><circle cx="74.8" cy="210.9" r="0.8"/><circle cx="178.4" cy="187.5" r="0.8"/><circle cx="17.0" cy="91.2" r="1.0"/><circle cx="41.3" cy="233.1" r="1.0"/><circle cx="235.3" cy="118.7" r="1.0"/><circle cx="130.6" cy="239.2" r="0.8"/><circle cx="153.9" cy="160.1" r="0.8"/><circle cx="83.0" cy="9.6" r="0.8"/><circle cx="104.9" cy="165.5" r="1.0"/><circle cx="176.7" cy="232.8" r="0.8"/><circle cx="206.0" cy="68.7" r="1.5"/><circle cx="12.6" cy="223.2" r="1.2"/><circle cx="144.3" cy="150.8" r="0.6"/><circle cx="65.5" cy="139.3" r="1.2"/><circle cx="191.9" cy="96.6" r="1.2"/><circle cx="257.5" cy="150.1" r="1.0"/><circle cx="86.0" cy="21.2" r="0.8"/><circle cx="46.0" cy="193.3" r="0.6"/><circle cx="77.1" cy="134.2" r="1.0"/><circle cx="166.2" cy="255.9" r="1.5"/><circle cx="241.4" cy="232.9" r="0.6"/><circle cx="194.3" cy="57.6" r="1.0"/><circle cx="160.2" cy="112.4" r="1.5"/><circle cx="94.7" cy="12.4" r="1.2"/><circle cx="59.1" cy="169.8" r="0.6"/><circle cx="14.1" cy="147.5" r="1.0"/><circle cx="27.7" cy="92.9" r="0.8"/><circle cx="107.4" cy="78.3" r="0.8"/><circle cx="53.1" cy="162.2" r="1.2"/><circle cx="41.2" cy="3.7" r="0.8"/><circle cx="183.9" cy="117.2" r="0.6"/><circle cx="165.9" cy="226.5" r="1.0"/><circle cx="104.5" cy="68.7" r="0.6"/><circle cx="14.6" cy="213.4" r="1.0"/><circle cx="154.6" cy="150.4" r="1.5"/><circle cx="243.7" cy="190.7" r="0.8"/><circle cx="42.9" cy="0.1" r="0.6"/><circle cx="138.2" cy="105.6" r="0.8"/><circle cx="41.4" cy="237.1" r="0.6"/><circle cx="3.2" cy="143.2" r="0.8"/><circle cx="37.0" cy="51.9" r="1.5"/><circle cx="167.1" cy="168.4" r="1.2"/><circle cx="211.5" cy="45.4" r="1.0"/><circle cx="16.6" cy="162.8" r="1.2"/><circle cx="186.0" cy="1.7" r="1.2"/><circle cx="193.7" cy="121.0" r="1.2"/><circle cx="45.6" cy="259.1" r="1.0"/><circle cx="60.4" cy="10.1" r="1.0"/><circle cx="231.7" cy="240.5" r="1.0"/><circle cx="185.0" cy="69.2" r="1.5"/><circle cx="176.6" cy="178.3" r="1.5"/><circle cx="252.7" cy="76.9" r="0.8"/><circle cx="22.2" cy="131.9" r="0.8"/><circle cx="67.7" cy="61.4" r="0.8"/><circle cx="245.6" cy="194.0" r="1.0"/><circle cx="49.9" cy="101.1" r="1.5"/><circle cx="62.2" cy="236.0" r="1.5"/><circle cx="122.1" cy="218.3" r="0.6"/></g><g filter="url(#soft)"><path d="M0.0,4.0 C2.0,4.5 8.0,6.8 12.0,7.0 C16.0,7.2 20.0,4.7 24.0,5.0 C28.0,5.3 34.0,8.3 36.0,9.0" fill="none" stroke="#2fd41c" stroke-width="10.35" stroke-linecap="round" stroke-linejoin="round" opacity="1"/><ellipse cx="28" cy="6" rx="8" ry="6" transform="rotate(0 28 6)" fill="#2fd41c" opacity="1"/><ellipse cx="20" cy="-2" rx="10" ry="5" transform="rotate(0 20 -2)" fill="#2fd41c" opacity="1"/><path d="M66.0,13.0 C68.0,12.7 74.0,10.5 78.0,11.0 C82.0,11.5 86.0,14.0 90.0,16.0 C94.0,18.0 98.3,21.0 102.0,23.0 C105.7,25.0 110.3,27.2 112.0,28.0" fill="none" stroke="#2fd41c" stroke-width="6.90" stroke-linecap="round" stroke-linejoin="round" opacity="1"/><circle cx="118" cy="33" r="6.5" fill="none" stroke="#2fd41c" stroke-width="6"/><path d="M119.0,-2.0 C119.2,0.3 119.8,7.2 120.0,12.0 C120.2,16.8 120.0,24.5 120.0,27.0" fill="none" stroke="#2fd41c" stroke-width="4.02" stroke-linecap="round" stroke-linejoin="round" opacity="1"/><path d="M121.0,39.0 C122.0,40.7 125.3,45.8 127.0,49.0 C128.7,52.2 130.7,54.5 131.0,58.0 C131.3,61.5 130.2,66.3 129.0,70.0 C127.8,73.7 124.8,78.3 124.0,80.0" fill="none" stroke="#2fd41c" stroke-width="13.80" stroke-linecap="round" stroke-linejoin="round" opacity="1"/><path d="M124.0,80.0 C121.7,81.0 114.8,84.2 110.0,86.0 C105.2,87.8 99.2,90.7 95.0,91.0 C90.8,91.3 88.2,89.5 85.0,88.0 C81.8,86.5 77.5,83.0 76.0,82.0" fill="none" stroke="#2fd41c" stroke-width="6.90" stroke-linecap="round" stroke-linejoin="round" opacity="1"/><path d="M96.0,91.0 C95.7,92.8 94.5,98.8 94.0,102.0 C93.5,105.2 93.2,108.7 93.0,110.0" fill="none" stroke="#2fd41c" stroke-width="4.60" stroke-linecap="round" stroke-linejoin="round" opacity="1"/><ellipse cx="93" cy="112" rx="4.5" ry="5" transform="rotate(0 93 112)" fill="#2fd41c" opacity="1"/><path d="M0.0,63.0 C2.3,63.2 9.3,64.0 14.0,64.0 C18.7,64.0 25.7,63.2 28.0,63.0" fill="none" stroke="#2fd41c" stroke-width="9.20" stroke-linecap="round" stroke-linejoin="round" opacity="1"/><ellipse cx="30" cy="88" rx="6" ry="5" transform="rotate(0 30 88)" fill="#2fd41c" opacity="1"/><ellipse cx="62" cy="47" rx="4" ry="3" transform="rotate(-40 62 47)" fill="#2fd41c" opacity="1"/><ellipse cx="28" cy="38" rx="3" ry="3" transform="rotate(0 28 38)" fill="#2fd41c" opacity="0.6"/><ellipse cx="91" cy="63" rx="3.5" ry="2" transform="rotate(-20 91 63)" fill="#2fd41c" opacity="1"/><path d="M0.0,105.0 C1.7,106.0 7.0,108.7 10.0,111.0 C13.0,113.3 16.0,115.8 18.0,119.0 C20.0,122.2 20.7,126.5 22.0,130.0 C23.3,133.5 25.3,138.3 26.0,140.0" fill="none" stroke="#2fd41c" stroke-width="9.20" stroke-linecap="round" stroke-linejoin="round" opacity="1"/><path d="M129.0,24.0 L142.0,23.0" fill="none" stroke="#2fd41c" stroke-width="3.45" stroke-linecap="round" stroke-linejoin="round" opacity="1"/><ellipse cx="150" cy="22" rx="7" ry="5.5" transform="rotate(0 150 22)" fill="#2fd41c" opacity="1"/><ellipse cx="198" cy="21" rx="12" ry="6" transform="rotate(10 198 21)" fill="#2fd41c" opacity="1"/><ellipse cx="245" cy="12" rx="5" ry="5" transform="rotate(0 245 12)" fill="#2fd41c" opacity="1"/><path d="M245.0,13.0 C244.3,14.5 242.2,19.3 241.0,22.0 C239.8,24.7 238.5,27.8 238.0,29.0" fill="none" stroke="#2fd41c" stroke-width="3.45" stroke-linecap="round" stroke-linejoin="round" opacity="1"/><path d="M173.0,51.0 C175.0,53.2 181.2,60.5 185.0,64.0 C188.8,67.5 191.8,69.0 196.0,72.0 C200.2,75.0 205.2,78.7 210.0,82.0 C214.8,85.3 220.0,89.0 225.0,92.0 C230.0,95.0 235.5,97.5 240.0,100.0 C244.5,102.5 248.5,106.3 252.0,107.0 C255.5,107.7 259.5,104.5 261.0,104.0" fill="none" stroke="#2fd41c" stroke-width="11.50" stroke-linecap="round" stroke-linejoin="round" opacity="1"/><ellipse cx="243" cy="60" rx="8" ry="11" transform="rotate(-30 243 60)" fill="#2fd41c" opacity="1"/><ellipse cx="150" cy="73" rx="4" ry="3" transform="rotate(30 150 73)" fill="#2fd41c" opacity="1"/><path d="M130.0,73.0 C131.7,74.5 137.0,79.2 140.0,82.0 C143.0,84.8 146.7,88.7 148.0,90.0" fill="none" stroke="#2fd41c" stroke-width="6.90" stroke-linecap="round" stroke-linejoin="round" opacity="1"/><path d="M148.0,90.0 C150.0,89.7 155.5,88.8 160.0,88.0 C164.5,87.2 172.5,85.5 175.0,85.0" fill="none" stroke="#2fd41c" stroke-width="5.75" stroke-linecap="round" stroke-linejoin="round" opacity="1"/><path d="M148.0,90.0 C149.5,92.0 155.0,98.7 157.0,102.0 C159.0,105.3 160.2,107.0 160.0,110.0 C159.8,113.0 157.5,117.2 156.0,120.0 C154.5,122.8 151.8,125.8 151.0,127.0" fill="none" stroke="#2fd41c" stroke-width="5.75" stroke-linecap="round" stroke-linejoin="round" opacity="1"/><ellipse cx="151" cy="127" rx="3.5" ry="3.5" transform="rotate(0 151 127)" fill="#2fd41c" opacity="1"/><ellipse cx="132" cy="112" rx="4" ry="3" transform="rotate(0 132 112)" fill="#2fd41c" opacity="1"/><path d="M206.0,116.0 C204.5,117.7 199.7,122.5 197.0,126.0 C194.3,129.5 192.2,132.8 190.0,137.0 C187.8,141.2 185.7,146.3 184.0,151.0 C182.3,155.7 180.7,162.7 180.0,165.0" fill="none" stroke="#2fd41c" stroke-width="6.32" stroke-linecap="round" stroke-linejoin="round" opacity="1"/><circle cx="38" cy="140" r="5" fill="none" stroke="#2fd41c" stroke-width="4.5"/><path d="M27.0,137.0 C29.2,136.7 36.2,133.8 40.0,135.0 C43.8,136.2 46.7,141.8 50.0,144.0 C53.3,146.2 56.2,146.7 60.0,148.0 C63.8,149.3 70.0,150.0 73.0,152.0 C76.0,154.0 76.8,156.7 78.0,160.0 C79.2,163.3 79.7,168.3 80.0,172.0 C80.3,175.7 80.0,180.3 80.0,182.0" fill="none" stroke="#2fd41c" stroke-width="8.05" stroke-linecap="round" stroke-linejoin="round" opacity="1"/><path d="M80.0,182.0 C78.3,183.3 73.3,187.3 70.0,190.0 C66.7,192.7 63.3,195.2 60.0,198.0 C56.7,200.8 53.3,203.7 50.0,207.0 C46.7,210.3 44.2,214.8 40.0,218.0 C35.8,221.2 27.5,224.7 25.0,226.0" fill="none" stroke="#2fd41c" stroke-width="5.75" stroke-linecap="round" stroke-linejoin="round" opacity="1"/><ellipse cx="23" cy="226" rx="6" ry="5" transform="rotate(0 23 226)" fill="#2fd41c" opacity="1"/><path d="M22.0,226.0 C20.3,224.7 14.3,221.5 12.0,218.0 C9.7,214.5 7.7,208.8 8.0,205.0 C8.3,201.2 11.7,198.2 14.0,195.0 C16.3,191.8 19.8,188.5 22.0,186.0 C24.2,183.5 26.2,181.0 27.0,180.0" fill="none" stroke="#2fd41c" stroke-width="4.60" stroke-linecap="round" stroke-linejoin="round" opacity="1"/><ellipse cx="26" cy="181" rx="5" ry="6" transform="rotate(30 26 181)" fill="#2fd41c" opacity="1"/><path d="M80.0,182.0 C82.0,182.8 88.0,184.7 92.0,187.0 C96.0,189.3 101.0,192.2 104.0,196.0 C107.0,199.8 109.3,205.3 110.0,210.0 C110.7,214.7 108.3,221.7 108.0,224.0" fill="none" stroke="#2fd41c" stroke-width="8.05" stroke-linecap="round" stroke-linejoin="round" opacity="1"/><circle cx="117" cy="229" r="6.5" fill="none" stroke="#2fd41c" stroke-width="6"/><path d="M108.0,232.0 L104.0,245.0" fill="none" stroke="#2fd41c" stroke-width="5.75" stroke-linecap="round" stroke-linejoin="round" opacity="1"/><path d="M124.0,236.0 L127.0,247.0" fill="none" stroke="#2fd41c" stroke-width="5.75" stroke-linecap="round" stroke-linejoin="round" opacity="1"/><ellipse cx="119" cy="139" rx="8" ry="5" transform="rotate(40 119 139)" fill="#2fd41c" opacity="1"/><ellipse cx="112" cy="134" rx="3" ry="2" transform="rotate(40 112 134)" fill="#2fd41c" opacity="1"/><ellipse cx="4" cy="153" rx="5" ry="6" transform="rotate(0 4 153)" fill="#2fd41c" opacity="1"/><path d="M0.0,238.0 C2.0,239.0 8.3,241.8 12.0,244.0 C15.7,246.2 18.2,249.2 22.0,251.0 C25.8,252.8 31.0,253.8 35.0,255.0 C39.0,256.2 44.2,257.5 46.0,258.0" fill="none" stroke="#2fd41c" stroke-width="8.05" stroke-linecap="round" stroke-linejoin="round" opacity="1"/><ellipse cx="90" cy="253" rx="6" ry="5" transform="rotate(0 90 253)" fill="#2fd41c" opacity="1"/><path d="M116.0,137.0 C117.7,138.5 122.0,143.0 126.0,146.0 C130.0,149.0 134.3,152.3 140.0,155.0 C145.7,157.7 153.3,160.0 160.0,162.0 C166.7,164.0 174.0,164.3 180.0,167.0 C186.0,169.7 191.7,174.3 196.0,178.0 C200.3,181.7 204.3,187.2 206.0,189.0" fill="none" stroke="#2fd41c" stroke-width="8.62" stroke-linecap="round" stroke-linejoin="round" opacity="1"/><path d="M205.0,188.0 C207.5,187.3 214.7,185.8 220.0,184.0 C225.3,182.2 234.2,178.2 237.0,177.0" fill="none" stroke="#2fd41c" stroke-width="6.90" stroke-linecap="round" stroke-linejoin="round" opacity="1"/><ellipse cx="238" cy="176" rx="6" ry="5" transform="rotate(0 238 176)" fill="#2fd41c" opacity="1"/><path d="M238.0,177.0 C240.0,178.0 246.7,180.3 250.0,183.0 C253.3,185.7 257.5,189.3 258.0,193.0 C258.5,196.7 255.5,201.8 253.0,205.0 C250.5,208.2 244.7,210.8 243.0,212.0" fill="none" stroke="#2fd41c" stroke-width="6.90" stroke-linecap="round" stroke-linejoin="round" opacity="1"/><ellipse cx="237" cy="214" rx="7" ry="5" transform="rotate(-30 237 214)" fill="#2fd41c" opacity="1"/><path d="M205.0,190.0 C204.2,192.5 201.7,200.3 200.0,205.0 C198.3,209.7 197.5,214.5 195.0,218.0 C192.5,221.5 186.7,224.7 185.0,226.0" fill="none" stroke="#2fd41c" stroke-width="4.60" stroke-linecap="round" stroke-linejoin="round" opacity="1"/><ellipse cx="177" cy="223" rx="7" ry="6" transform="rotate(0 177 223)" fill="#2fd41c" opacity="1"/><ellipse cx="255" cy="148" rx="6" ry="10" transform="rotate(-20 255 148)" fill="#2fd41c" opacity="1"/><ellipse cx="218" cy="151" rx="2.5" ry="2.5" transform="rotate(0 218 151)" fill="#2fd41c" opacity="1"/><ellipse cx="148" cy="204" rx="2" ry="2" transform="rotate(0 148 204)" fill="#2fd41c" opacity="1"/><ellipse cx="162" cy="191" rx="2.5" ry="2.5" transform="rotate(0 162 191)" fill="#2fd41c" opacity="1"/><ellipse cx="205" cy="254" rx="5" ry="3" transform="rotate(-40 205 254)" fill="#2fd41c" opacity="1"/><ellipse cx="180" cy="259" rx="5" ry="4" transform="rotate(0 180 259)" fill="#2fd41c" opacity="1"/><ellipse cx="258" cy="258" rx="5" ry="5" transform="rotate(0 258 258)" fill="#2fd41c" opacity="1"/><ellipse cx="124" cy="80" rx="7" ry="7" transform="rotate(0 124 80)" fill="#2fd41c" opacity="1"/><ellipse cx="148" cy="90" rx="5" ry="5" transform="rotate(0 148 90)" fill="#2fd41c" opacity="1"/><ellipse cx="80" cy="182" rx="7" ry="7" transform="rotate(0 80 182)" fill="#2fd41c" opacity="1"/><ellipse cx="206" cy="189" rx="6" ry="6" transform="rotate(0 206 189)" fill="#2fd41c" opacity="1"/><ellipse cx="180" cy="166" rx="5" ry="5" transform="rotate(0 180 166)" fill="#2fd41c" opacity="1"/><ellipse cx="27" cy="137" rx="6" ry="6" transform="rotate(0 27 137)" fill="#2fd41c" opacity="1"/><ellipse cx="122" cy="38" rx="7" ry="7" transform="rotate(0 122 38)" fill="#2fd41c" opacity="1"/><ellipse cx="96" cy="91" rx="4" ry="4" transform="rotate(0 96 91)" fill="#2fd41c" opacity="1"/><ellipse cx="238" cy="177" rx="4" ry="4" transform="rotate(0 238 177)" fill="#2fd41c" opacity="1"/></g></g>
<g transform="translate(1767.4,324.2)" clip-path="url(#cp2)"><rect width="259.6" height="261.3" fill="#27c41f"/><rect width="259.6" height="261.3" filter="url(#tex2)"/><g fill="#55f045" opacity="0.7"><circle cx="117.6" cy="145.5" r="1.0"/><circle cx="117.5" cy="222.3" r="0.7"/><circle cx="48.0" cy="133.1" r="1.3"/><circle cx="159.6" cy="48.4" r="1.0"/><circle cx="78.9" cy="23.6" r="1.3"/><circle cx="165.0" cy="154.8" r="1.0"/><circle cx="250.8" cy="170.0" r="1.3"/><circle cx="169.0" cy="162.0" r="1.3"/><circle cx="16.4" cy="9.3" r="0.7"/><circle cx="155.9" cy="202.3" r="1.0"/><circle cx="114.5" cy="219.0" r="1.3"/><circle cx="60.7" cy="76.5" r="0.7"/><circle cx="172.2" cy="118.9" r="1.0"/><circle cx="105.8" cy="143.3" r="0.7"/><circle cx="184.0" cy="82.0" r="0.7"/><circle cx="133.4" cy="7.7" r="1.3"/><circle cx="199.2" cy="104.1" r="1.0"/><circle cx="100.5" cy="249.1" r="1.3"/><circle cx="0.1" cy="54.5" r="0.7"/><circle cx="122.2" cy="254.9" r="1.0"/><circle cx="109.1" cy="147.2" r="0.7"/><circle cx="202.4" cy="70.1" r="0.7"/><circle cx="80.9" cy="3.9" r="1.0"/><circle cx="197.1" cy="30.7" r="0.7"/><circle cx="183.8" cy="2.8" r="1.0"/><circle cx="207.2" cy="46.2" r="1.3"/><circle cx="49.0" cy="132.3" r="1.3"/><circle cx="200.1" cy="109.0" r="1.0"/><circle cx="30.3" cy="109.4" r="0.7"/><circle cx="0.1" cy="224.7" r="1.3"/><circle cx="79.1" cy="230.1" r="0.7"/><circle cx="48.7" cy="258.9" r="1.3"/><circle cx="166.9" cy="26.1" r="0.7"/><circle cx="55.4" cy="67.2" r="1.3"/><circle cx="85.5" cy="77.0" r="0.7"/><circle cx="19.3" cy="54.3" r="1.3"/><circle cx="63.2" cy="156.3" r="1.0"/><circle cx="161.8" cy="33.1" r="1.3"/><circle cx="125.8" cy="149.4" r="1.0"/><circle cx="47.5" cy="40.1" r="0.7"/><circle cx="212.6" cy="64.9" r="0.7"/><circle cx="41.2" cy="163.5" r="1.3"/><circle cx="51.1" cy="247.0" r="1.0"/><circle cx="156.9" cy="109.6" r="0.7"/><circle cx="28.4" cy="133.2" r="1.0"/><circle cx="62.0" cy="183.2" r="1.0"/><circle cx="109.4" cy="235.3" r="1.0"/><circle cx="76.3" cy="45.6" r="1.3"/><circle cx="254.1" cy="32.9" r="1.0"/><circle cx="145.4" cy="221.6" r="1.3"/><circle cx="19.3" cy="55.2" r="0.7"/><circle cx="194.7" cy="18.0" r="1.0"/><circle cx="115.9" cy="15.7" r="0.7"/><circle cx="73.3" cy="138.1" r="0.7"/><circle cx="24.0" cy="36.0" r="1.0"/><circle cx="254.9" cy="170.8" r="1.3"/><circle cx="135.7" cy="246.2" r="1.3"/><circle cx="9.1" cy="4.7" r="1.0"/><circle cx="182.3" cy="250.3" r="0.7"/><circle cx="155.6" cy="19.5" r="0.7"/><circle cx="189.9" cy="82.9" r="0.7"/><circle cx="19.6" cy="142.0" r="1.3"/><circle cx="11.6" cy="243.4" r="1.3"/><circle cx="183.0" cy="206.2" r="1.0"/><circle cx="91.5" cy="178.1" r="0.7"/><circle cx="226.5" cy="108.5" r="0.7"/><circle cx="224.5" cy="148.9" r="1.3"/><circle cx="172.2" cy="98.6" r="0.7"/><circle cx="158.3" cy="20.9" r="1.3"/><circle cx="30.1" cy="66.9" r="1.0"/><circle cx="189.3" cy="101.0" r="1.3"/><circle cx="180.5" cy="119.0" r="1.0"/><circle cx="218.0" cy="21.8" r="1.3"/><circle cx="7.7" cy="156.3" r="1.0"/><circle cx="5.8" cy="248.9" r="0.7"/><circle cx="129.3" cy="159.8" r="1.0"/><circle cx="66.5" cy="2.9" r="1.0"/><circle cx="37.2" cy="159.1" r="1.3"/><circle cx="44.1" cy="235.5" r="1.3"/><circle cx="241.9" cy="129.6" r="0.7"/><circle cx="85.0" cy="173.1" r="0.7"/><circle cx="164.9" cy="209.0" r="0.7"/><circle cx="228.9" cy="99.9" r="1.3"/><circle cx="239.4" cy="54.6" r="0.7"/><circle cx="129.1" cy="217.6" r="0.7"/><circle cx="184.9" cy="247.0" r="1.0"/><circle cx="213.7" cy="29.3" r="1.0"/><circle cx="71.5" cy="55.7" r="1.0"/><circle cx="99.5" cy="135.2" r="1.3"/><circle cx="82.0" cy="218.2" r="1.3"/><circle cx="117.6" cy="19.4" r="0.7"/><circle cx="72.3" cy="158.0" r="1.3"/><circle cx="184.2" cy="148.4" r="1.0"/><circle cx="168.8" cy="146.7" r="1.3"/><circle cx="35.3" cy="118.3" r="0.7"/><circle cx="200.0" cy="69.3" r="0.7"/><circle cx="207.2" cy="255.8" r="0.7"/><circle cx="116.1" cy="163.8" r="1.3"/><circle cx="166.4" cy="95.9" r="0.7"/><circle cx="178.0" cy="51.8" r="1.0"/><circle cx="66.6" cy="185.7" r="1.0"/><circle cx="139.1" cy="9.4" r="0.7"/><circle cx="70.8" cy="89.9" r="1.3"/><circle cx="246.2" cy="130.1" r="0.7"/><circle cx="102.3" cy="205.9" r="0.7"/><circle cx="22.7" cy="242.5" r="1.3"/><circle cx="100.9" cy="117.1" r="0.7"/><circle cx="162.6" cy="236.6" r="1.0"/><circle cx="143.0" cy="169.7" r="1.3"/><circle cx="207.2" cy="245.5" r="1.0"/><circle cx="84.9" cy="255.4" r="0.7"/><circle cx="187.7" cy="212.8" r="1.3"/><circle cx="240.3" cy="32.1" r="0.7"/><circle cx="234.0" cy="254.9" r="1.0"/><circle cx="139.6" cy="205.6" r="1.0"/><circle cx="68.1" cy="186.7" r="0.7"/><circle cx="90.6" cy="21.5" r="1.0"/><circle cx="88.9" cy="109.6" r="1.0"/><circle cx="126.7" cy="7.4" r="0.7"/><circle cx="111.5" cy="9.1" r="1.3"/><circle cx="87.1" cy="204.9" r="0.7"/><circle cx="122.3" cy="260.0" r="1.3"/><circle cx="134.7" cy="176.3" r="1.0"/><circle cx="245.9" cy="128.1" r="1.3"/><circle cx="22.4" cy="57.6" r="1.3"/><circle cx="145.3" cy="216.1" r="1.3"/><circle cx="166.1" cy="135.9" r="1.3"/><circle cx="66.7" cy="174.5" r="1.3"/><circle cx="54.1" cy="221.2" r="1.3"/><circle cx="136.3" cy="149.0" r="0.7"/><circle cx="106.9" cy="29.7" r="0.7"/><circle cx="157.4" cy="7.2" r="0.7"/><circle cx="134.2" cy="104.2" r="1.3"/><circle cx="31.7" cy="24.2" r="0.7"/><circle cx="17.1" cy="140.1" r="1.0"/><circle cx="239.4" cy="208.1" r="1.0"/><circle cx="70.0" cy="123.0" r="0.7"/><circle cx="88.3" cy="234.2" r="1.0"/><circle cx="136.5" cy="28.2" r="1.0"/><circle cx="160.7" cy="240.6" r="0.7"/><circle cx="182.5" cy="254.1" r="0.7"/><circle cx="50.5" cy="59.1" r="1.3"/><circle cx="73.9" cy="188.1" r="0.7"/><circle cx="161.1" cy="27.3" r="1.3"/><circle cx="151.4" cy="221.5" r="1.3"/><circle cx="65.1" cy="51.4" r="1.3"/><circle cx="228.5" cy="6.0" r="1.3"/><circle cx="107.5" cy="137.6" r="0.7"/><circle cx="139.9" cy="224.6" r="1.3"/><circle cx="166.0" cy="137.7" r="1.3"/><circle cx="159.0" cy="222.8" r="0.7"/><circle cx="237.9" cy="163.2" r="1.0"/><circle cx="234.7" cy="82.1" r="1.0"/><circle cx="231.6" cy="50.6" r="0.7"/><circle cx="230.8" cy="34.8" r="0.7"/><circle cx="34.5" cy="22.9" r="1.0"/><circle cx="25.2" cy="216.4" r="1.0"/><circle cx="141.3" cy="183.3" r="0.7"/><circle cx="104.7" cy="178.2" r="0.7"/><circle cx="25.0" cy="148.2" r="1.0"/><circle cx="237.0" cy="251.8" r="0.7"/><circle cx="183.2" cy="165.0" r="1.0"/><circle cx="130.7" cy="178.3" r="0.7"/><circle cx="208.7" cy="125.3" r="0.7"/><circle cx="9.7" cy="143.4" r="1.3"/><circle cx="235.3" cy="125.1" r="0.7"/><circle cx="48.0" cy="53.0" r="0.7"/><circle cx="257.5" cy="241.0" r="0.7"/><circle cx="150.7" cy="35.0" r="1.3"/><circle cx="120.1" cy="198.8" r="1.0"/><circle cx="101.6" cy="110.9" r="1.0"/><circle cx="111.8" cy="156.2" r="0.7"/><circle cx="164.8" cy="10.6" r="0.7"/><circle cx="47.1" cy="118.0" r="1.3"/><circle cx="96.3" cy="239.7" r="1.3"/><circle cx="42.9" cy="133.3" r="0.7"/><circle cx="84.2" cy="22.1" r="1.3"/><circle cx="227.7" cy="236.3" r="1.0"/><circle cx="148.1" cy="49.6" r="1.3"/><circle cx="255.5" cy="209.3" r="1.0"/><circle cx="72.7" cy="30.2" r="1.3"/><circle cx="202.3" cy="211.8" r="1.0"/><circle cx="34.6" cy="85.8" r="1.3"/><circle cx="180.6" cy="199.5" r="0.7"/><circle cx="105.5" cy="187.9" r="0.7"/><circle cx="207.3" cy="78.4" r="0.7"/><circle cx="2.8" cy="92.5" r="1.3"/><circle cx="234.7" cy="12.9" r="1.0"/><circle cx="245.6" cy="173.2" r="1.0"/><circle cx="56.2" cy="105.6" r="0.7"/><circle cx="138.6" cy="101.3" r="1.0"/><circle cx="167.0" cy="182.3" r="1.0"/><circle cx="254.8" cy="5.9" r="1.3"/><circle cx="28.1" cy="61.6" r="1.0"/><circle cx="104.4" cy="13.1" r="0.7"/><circle cx="168.5" cy="2.8" r="1.0"/><circle cx="65.2" cy="235.5" r="1.3"/><circle cx="140.5" cy="108.1" r="1.3"/><circle cx="147.7" cy="258.7" r="1.3"/><circle cx="115.5" cy="167.6" r="1.3"/><circle cx="155.4" cy="197.4" r="0.7"/><circle cx="100.5" cy="244.0" r="1.0"/><circle cx="122.7" cy="44.0" r="1.0"/><circle cx="140.9" cy="155.1" r="1.0"/><circle cx="245.8" cy="109.4" r="1.3"/><circle cx="103.6" cy="81.2" r="1.3"/><circle cx="74.3" cy="170.3" r="1.3"/><circle cx="241.7" cy="172.5" r="1.3"/><circle cx="77.0" cy="3.6" r="0.7"/><circle cx="152.3" cy="164.6" r="1.0"/><circle cx="196.2" cy="101.4" r="1.0"/><circle cx="194.6" cy="13.0" r="1.3"/><circle cx="245.6" cy="19.1" r="0.7"/><circle cx="111.7" cy="124.2" r="0.7"/><circle cx="11.8" cy="25.6" r="1.3"/><circle cx="236.5" cy="37.5" r="0.7"/><circle cx="156.9" cy="29.9" r="1.3"/><circle cx="108.5" cy="30.7" r="0.7"/><circle cx="92.7" cy="40.2" r="1.0"/><circle cx="115.1" cy="173.7" r="1.0"/><circle cx="156.3" cy="166.3" r="1.3"/><circle cx="109.1" cy="202.3" r="1.3"/><circle cx="211.9" cy="35.6" r="1.0"/><circle cx="190.9" cy="62.0" r="0.7"/><circle cx="130.8" cy="80.2" r="1.3"/><circle cx="162.5" cy="93.4" r="1.0"/><circle cx="158.6" cy="188.5" r="1.3"/><circle cx="153.8" cy="164.6" r="0.7"/><circle cx="49.4" cy="64.7" r="1.3"/><circle cx="238.1" cy="228.5" r="0.7"/><circle cx="163.4" cy="2.5" r="1.0"/><circle cx="110.6" cy="162.1" r="0.7"/><circle cx="57.9" cy="72.4" r="0.7"/><circle cx="237.4" cy="41.8" r="0.7"/><circle cx="164.1" cy="97.0" r="1.0"/><circle cx="92.1" cy="87.9" r="1.0"/><circle cx="193.7" cy="218.0" r="0.7"/><circle cx="208.6" cy="116.3" r="1.3"/><circle cx="217.9" cy="199.9" r="1.0"/><circle cx="110.3" cy="67.1" r="0.7"/><circle cx="95.9" cy="170.0" r="1.3"/><circle cx="84.6" cy="142.6" r="1.3"/><circle cx="214.8" cy="47.8" r="1.3"/><circle cx="96.0" cy="25.2" r="1.0"/><circle cx="20.4" cy="21.6" r="1.3"/><circle cx="147.7" cy="212.0" r="1.0"/><circle cx="77.7" cy="201.6" r="0.7"/><circle cx="80.6" cy="236.8" r="1.3"/><circle cx="21.2" cy="79.0" r="1.3"/><circle cx="198.7" cy="85.3" r="0.7"/><circle cx="56.9" cy="170.9" r="1.0"/><circle cx="95.3" cy="30.5" r="1.3"/><circle cx="114.7" cy="154.6" r="1.3"/><circle cx="237.5" cy="113.9" r="1.0"/><circle cx="119.2" cy="57.5" r="1.3"/><circle cx="232.6" cy="64.6" r="1.0"/><circle cx="215.4" cy="6.3" r="1.3"/><circle cx="102.9" cy="100.8" r="0.7"/><circle cx="192.1" cy="95.7" r="1.0"/><circle cx="140.5" cy="217.5" r="1.3"/></g><g fill="#000" filter="url(#soft2)"><path fill-rule="evenodd" d="M85.6,33.9 L85.1,33.9 L84.6,34.0 L84.1,34.0 L83.6,34.0 L83.1,34.0 L82.6,34.0 L82.1,33.9 L81.6,33.9 L81.4,33.8 L80.9,33.8 L80.4,33.7 L80.1,33.6 L79.6,33.5 L79.1,33.4 L78.9,33.3 L78.4,33.2 L78.1,33.1 L77.6,32.9 L77.4,32.8 L76.9,32.6 L76.6,32.5 L76.3,32.4 L75.9,32.2 L75.6,32.0 L75.3,31.9 L74.9,31.6 L74.6,31.5 L74.4,31.3 L74.1,31.1 L73.7,30.9 L73.4,30.7 L73.1,30.5 L72.9,30.3 L72.6,30.1 L72.4,29.9 L72.1,29.6 L71.8,29.4 L71.5,29.1 L71.3,28.9 L71.0,28.6 L70.8,28.4 L70.5,28.1 L70.3,27.9 L70.1,27.6 L69.9,27.4 L69.6,27.1 L69.4,26.7 L69.1,26.4 L69.0,26.1 L68.8,25.9 L68.6,25.4 L68.5,25.1 L68.4,24.7 L68.3,24.4 L68.2,23.9 L68.1,23.4 L68.1,23.1 L68.1,22.6 L68.0,22.1 L68.0,21.6 L68.0,21.1 L68.0,20.6 L67.9,20.1 L67.9,19.7 L67.8,19.4 L67.8,18.9 L67.7,18.4 L67.6,17.9 L67.6,17.6 L67.5,17.1 L67.4,16.6 L67.4,16.4 L67.3,15.9 L67.1,15.4 L67.1,15.1 L66.9,14.6 L66.9,14.4 L66.7,13.9 L66.6,13.5 L66.5,13.1 L66.4,12.7 L66.3,12.4 L66.2,11.9 L66.1,11.4 L66.1,11.1 L66.1,10.6 L66.1,10.4 L66.2,9.9 L66.3,9.4 L66.4,9.1 L66.5,8.6 L66.6,8.3 L66.8,7.9 L66.9,7.6 L67.1,7.1 L67.2,6.9 L67.4,6.6 L67.6,6.1 L67.7,5.9 L67.9,5.6 L68.1,5.2 L68.3,4.9 L68.4,4.6 L68.6,4.3 L68.9,4.0 L69.1,3.6 L69.3,3.4 L69.5,3.1 L69.7,2.9 L69.9,2.6 L70.1,2.3 L70.4,2.0 L70.6,1.7 L70.9,1.4 L71.1,1.1 L71.2,0.9 L71.4,0.5 L71.4,0.1 L71.9,0.1 L72.4,0.0 L72.9,0.0 L73.4,0.0 L73.9,0.0 L74.4,0.0 L74.9,0.0 L75.4,0.0 L75.9,0.0 L76.4,0.0 L76.9,0.0 L77.4,0.0 L77.9,0.0 L78.4,0.0 L78.9,0.0 L79.4,0.0 L79.9,0.0 L80.4,0.0 L80.9,0.0 L81.4,0.0 L81.9,0.0 L82.4,0.0 L82.9,0.0 L83.4,0.0 L83.9,0.0 L84.4,0.0 L84.9,0.0 L85.4,0.0 L85.9,0.0 L86.4,0.0 L86.9,0.0 L87.4,0.0 L87.9,0.0 L88.4,0.0 L88.9,0.0 L89.4,0.0 L89.9,0.0 L90.4,0.0 L90.9,0.0 L91.4,0.0 L91.9,0.0 L92.4,0.0 L92.9,0.0 L93.4,0.0 L93.9,0.0 L94.4,0.0 L94.9,0.0 L95.4,0.1 L95.9,0.1 L96.1,0.4 L96.1,0.6 L96.4,1.1 L96.5,1.4 L96.7,1.6 L96.9,1.9 L97.1,2.1 L97.4,2.4 L97.6,2.7 L97.9,3.1 L98.1,3.4 L98.3,3.6 L98.4,3.9 L98.6,4.2 L98.9,4.6 L99.0,4.9 L99.1,5.2 L99.2,5.6 L99.3,6.1 L99.3,6.6 L99.2,7.1 L99.1,7.6 L99.1,7.9 L99.0,8.4 L98.9,8.9 L98.8,9.1 L98.7,9.6 L98.6,10.1 L98.6,10.4 L98.5,10.9 L98.4,11.4 L98.4,11.9 L98.4,12.1 L98.3,12.6 L98.3,13.1 L98.3,13.6 L98.3,14.1 L98.3,14.6 L98.3,15.1 L98.3,15.6 L98.3,16.1 L98.3,16.6 L98.3,17.1 L98.3,17.6 L98.4,18.1 L98.4,18.4 L98.4,18.9 L98.5,19.4 L98.6,19.9 L98.6,20.1 L98.7,20.6 L98.8,21.1 L98.9,21.4 L99.0,21.9 L99.1,22.4 L99.1,22.6 L99.2,23.1 L99.2,23.6 L99.2,24.1 L99.1,24.6 L99.1,24.9 L98.9,25.4 L98.7,25.6 L98.6,25.9 L98.4,26.2 L98.1,26.6 L97.9,26.9 L97.7,27.1 L97.5,27.4 L97.3,27.6 L97.1,27.9 L96.9,28.2 L96.6,28.4 L96.4,28.7 L96.1,28.9 L95.9,29.2 L95.6,29.4 L95.4,29.6 L95.1,29.9 L94.8,30.1 L94.4,30.4 L94.1,30.6 L93.9,30.8 L93.6,30.9 L93.4,31.1 L93.0,31.4 L92.6,31.6 L92.4,31.7 L92.1,31.9 L91.6,32.1 L91.4,32.2 L91.1,32.4 L90.6,32.6 L90.4,32.7 L89.9,32.9 L89.6,33.0 L89.2,33.1 L88.9,33.2 L88.4,33.4 L88.1,33.4 L87.6,33.6 L87.3,33.6 L86.9,33.7 L86.4,33.8 L85.9,33.9 L85.6,33.9Z M249.4,13.9 L248.9,14.0 L248.4,14.0 L247.9,14.0 L247.4,13.9 L247.1,13.9 L246.6,13.8 L246.1,13.6 L245.9,13.6 L245.4,13.5 L245.0,13.4 L244.6,13.3 L244.1,13.1 L243.9,13.1 L243.4,12.9 L243.1,12.8 L242.6,12.6 L242.4,12.6 L241.9,12.4 L241.6,12.3 L241.3,12.1 L240.9,12.0 L240.6,11.8 L240.1,11.6 L239.9,11.5 L239.6,11.4 L239.1,11.2 L238.9,11.0 L238.5,10.9 L238.1,10.7 L237.9,10.5 L237.6,10.4 L237.2,10.1 L236.9,9.9 L236.6,9.7 L236.4,9.6 L236.1,9.3 L235.9,9.1 L235.6,8.8 L235.4,8.4 L235.3,8.1 L235.2,7.6 L235.2,7.1 L235.3,6.6 L235.4,6.4 L235.6,5.9 L235.7,5.6 L235.9,5.4 L236.1,5.0 L236.4,4.7 L236.6,4.4 L236.9,4.1 L237.1,3.9 L237.4,3.7 L237.6,3.5 L237.9,3.3 L238.2,3.1 L238.6,2.9 L238.9,2.7 L239.1,2.6 L239.6,2.4 L239.9,2.3 L240.2,2.1 L240.6,2.0 L241.0,1.9 L241.4,1.8 L241.9,1.6 L242.1,1.6 L242.6,1.5 L243.1,1.4 L243.4,1.4 L243.9,1.3 L244.4,1.3 L244.9,1.2 L245.4,1.2 L245.9,1.3 L246.4,1.3 L246.8,1.4 L247.1,1.4 L247.6,1.5 L248.1,1.6 L248.4,1.7 L248.9,1.8 L249.1,1.9 L249.6,2.1 L249.9,2.2 L250.4,2.4 L250.6,2.5 L250.9,2.6 L251.4,2.9 L251.6,3.0 L251.9,3.2 L252.2,3.4 L252.5,3.6 L252.8,3.9 L253.1,4.1 L253.4,4.4 L253.6,4.6 L253.8,4.9 L254.0,5.1 L254.1,5.4 L254.4,5.8 L254.5,6.1 L254.6,6.4 L254.8,6.9 L254.8,7.4 L254.9,7.7 L254.9,8.1 L254.9,8.4 L254.8,8.9 L254.7,9.4 L254.6,9.6 L254.4,10.1 L254.3,10.4 L254.1,10.6 L253.9,11.0 L253.6,11.3 L253.4,11.6 L253.1,11.9 L252.9,12.1 L252.6,12.3 L252.4,12.5 L252.1,12.7 L251.8,12.9 L251.4,13.1 L251.1,13.3 L250.9,13.4 L250.4,13.6 L250.1,13.7 L249.6,13.9 L249.4,13.9Z M222.1,9.4 L221.6,9.5 L221.1,9.5 L220.6,9.5 L220.1,9.5 L219.6,9.4 L219.3,9.4 L218.9,9.3 L218.5,9.1 L218.1,8.9 L217.9,8.7 L217.6,8.5 L217.4,8.2 L217.1,7.9 L217.0,7.6 L216.9,7.3 L216.7,6.9 L216.7,6.4 L216.6,5.9 L216.7,5.4 L216.8,4.9 L216.9,4.6 L217.1,4.1 L217.3,3.9 L217.5,3.6 L217.7,3.4 L217.9,3.1 L218.2,2.9 L218.6,2.6 L218.9,2.4 L219.1,2.3 L219.5,2.1 L219.9,2.0 L220.1,1.9 L220.6,1.7 L221.1,1.6 L221.4,1.6 L221.9,1.6 L222.4,1.6 L222.7,1.6 L223.1,1.7 L223.6,1.8 L223.9,1.9 L224.4,2.1 L224.6,2.2 L225.0,2.4 L225.4,2.6 L225.6,2.8 L225.9,3.0 L226.1,3.2 L226.4,3.4 L226.6,3.8 L226.9,4.1 L227.0,4.4 L227.1,4.7 L227.2,5.1 L227.3,5.6 L227.3,6.1 L227.2,6.6 L227.1,6.9 L226.9,7.2 L226.6,7.5 L226.4,7.7 L226.1,7.9 L225.8,8.1 L225.4,8.4 L225.1,8.5 L224.9,8.6 L224.4,8.8 L224.1,8.9 L223.6,9.1 L223.4,9.2 L222.9,9.3 L222.4,9.4 L222.1,9.4Z M3.4,12.9 L2.9,12.9 L2.4,12.9 L2.1,12.9 L1.6,12.8 L1.1,12.7 L0.9,12.6 L0.4,12.5 L0.1,12.4 L0.1,11.9 L0.0,11.4 L0.0,10.9 L0.0,10.4 L0.0,9.9 L0.0,9.4 L0.0,8.9 L0.0,8.4 L0.0,7.9 L0.0,7.4 L0.0,6.9 L0.0,6.4 L0.0,5.9 L0.0,5.4 L0.0,4.9 L0.0,4.4 L0.0,3.9 L0.0,3.4 L0.1,2.9 L0.1,2.5 L0.6,2.4 L0.9,2.4 L1.4,2.3 L1.9,2.2 L2.3,2.1 L2.6,2.1 L3.1,2.1 L3.6,2.1 L3.9,2.2 L4.4,2.3 L4.6,2.4 L5.1,2.6 L5.4,2.7 L5.6,2.9 L5.9,3.1 L6.2,3.4 L6.5,3.6 L6.7,3.9 L6.9,4.2 L7.1,4.6 L7.2,4.9 L7.4,5.4 L7.4,5.6 L7.5,6.1 L7.5,6.6 L7.4,7.1 L7.4,7.4 L7.3,7.9 L7.2,8.4 L7.1,8.7 L7.0,9.1 L6.9,9.6 L6.8,9.9 L6.7,10.4 L6.6,10.6 L6.4,11.1 L6.2,11.4 L6.0,11.6 L5.8,11.9 L5.5,12.1 L5.1,12.4 L4.9,12.5 L4.6,12.6 L4.1,12.8 L3.6,12.9 L3.4,12.9Z M180.4,17.1 L179.9,17.2 L179.4,17.3 L178.9,17.3 L178.4,17.2 L178.1,17.1 L177.6,17.0 L177.4,16.8 L177.0,16.6 L176.7,16.4 L176.4,16.2 L176.1,15.9 L175.9,15.7 L175.6,15.5 L175.4,15.2 L175.1,15.0 L174.9,14.7 L174.6,14.4 L174.4,14.2 L174.1,13.9 L173.9,13.6 L173.7,13.4 L173.5,13.1 L173.3,12.9 L173.1,12.6 L172.9,12.2 L172.7,11.9 L172.5,11.6 L172.4,11.2 L172.3,10.9 L172.2,10.4 L172.1,9.9 L172.2,9.4 L172.2,8.9 L172.4,8.4 L172.4,8.1 L172.6,7.6 L172.7,7.4 L172.9,7.0 L173.0,6.6 L173.2,6.4 L173.4,6.1 L173.6,5.7 L173.9,5.4 L174.1,5.1 L174.4,4.9 L174.6,4.6 L174.9,4.4 L175.1,4.2 L175.4,4.0 L175.6,3.8 L176.0,3.6 L176.4,3.4 L176.6,3.3 L176.9,3.1 L177.4,2.9 L177.6,2.8 L178.1,2.7 L178.4,2.6 L178.9,2.5 L179.4,2.4 L179.6,2.4 L180.1,2.3 L180.6,2.3 L181.1,2.3 L181.6,2.3 L182.1,2.3 L182.5,2.4 L182.9,2.4 L183.4,2.5 L183.7,2.6 L184.1,2.7 L184.5,2.9 L184.9,3.0 L185.1,3.1 L185.6,3.4 L185.9,3.5 L186.1,3.7 L186.4,3.9 L186.8,4.1 L187.1,4.4 L187.4,4.6 L187.6,4.9 L187.8,5.1 L188.0,5.4 L188.1,5.6 L188.3,6.1 L188.4,6.4 L188.4,6.9 L188.4,7.4 L188.3,7.6 L188.2,8.1 L188.1,8.5 L188.0,8.9 L187.9,9.3 L187.8,9.6 L187.6,10.1 L187.6,10.4 L187.4,10.9 L187.4,11.1 L187.2,11.6 L187.1,12.1 L187.1,12.4 L186.9,12.9 L186.9,13.1 L186.7,13.6 L186.6,13.9 L186.4,14.4 L186.2,14.6 L186.0,14.9 L185.7,15.1 L185.4,15.4 L185.1,15.6 L184.9,15.7 L184.6,15.9 L184.1,16.1 L183.9,16.2 L183.4,16.3 L183.1,16.4 L182.6,16.6 L182.4,16.7 L181.9,16.8 L181.5,16.9 L181.1,17.0 L180.6,17.1 L180.4,17.1Z M19.1,17.9 L18.8,17.9 L18.4,17.9 L17.9,17.8 L17.4,17.7 L17.1,17.6 L16.6,17.5 L16.3,17.4 L15.9,17.2 L15.6,17.1 L15.1,16.9 L14.9,16.7 L14.6,16.6 L14.3,16.4 L14.0,16.1 L13.7,15.9 L13.4,15.6 L13.2,15.4 L13.0,15.1 L12.8,14.9 L12.6,14.6 L12.4,14.3 L12.2,13.9 L12.1,13.6 L11.9,13.1 L11.8,12.9 L11.7,12.4 L11.6,11.9 L11.6,11.6 L11.6,11.1 L11.6,10.9 L11.7,10.4 L11.8,9.9 L11.9,9.4 L11.9,9.1 L12.1,8.6 L12.2,8.4 L12.4,7.9 L12.5,7.6 L12.6,7.4 L12.9,7.0 L13.1,6.7 L13.4,6.4 L13.6,6.2 L13.9,6.0 L14.1,5.8 L14.4,5.6 L14.7,5.4 L15.1,5.1 L15.4,5.0 L15.7,4.9 L16.1,4.7 L16.4,4.6 L16.9,4.4 L17.1,4.4 L17.6,4.3 L18.1,4.2 L18.6,4.1 L18.9,4.1 L19.2,4.1 L19.6,4.1 L20.1,4.2 L20.6,4.3 L20.9,4.4 L21.4,4.5 L21.7,4.6 L22.1,4.8 L22.4,4.9 L22.9,5.1 L23.1,5.3 L23.4,5.4 L23.7,5.6 L24.0,5.9 L24.3,6.1 L24.6,6.4 L24.8,6.6 L25.0,6.9 L25.2,7.1 L25.4,7.4 L25.6,7.7 L25.8,8.1 L25.9,8.4 L26.1,8.9 L26.2,9.1 L26.3,9.6 L26.4,9.9 L26.4,10.4 L26.5,10.9 L26.4,11.4 L26.4,11.9 L26.4,12.1 L26.3,12.6 L26.1,13.1 L26.0,13.4 L25.9,13.8 L25.7,14.1 L25.6,14.4 L25.4,14.7 L25.1,15.0 L24.9,15.3 L24.6,15.6 L24.4,15.8 L24.1,16.0 L23.9,16.2 L23.6,16.4 L23.3,16.6 L22.9,16.9 L22.6,17.0 L22.3,17.1 L21.9,17.3 L21.6,17.4 L21.1,17.6 L20.9,17.6 L20.4,17.7 L19.9,17.8 L19.4,17.9 L19.1,17.9Z M110.1,25.9 L109.6,25.9 L109.1,26.0 L108.6,25.9 L108.1,25.9 L107.8,25.9 L107.4,25.8 L106.9,25.7 L106.6,25.6 L106.2,25.4 L105.9,25.2 L105.6,25.0 L105.4,24.8 L105.1,24.5 L104.9,24.2 L104.7,23.9 L104.6,23.6 L104.4,23.2 L104.3,22.9 L104.1,22.5 L104.0,22.1 L103.9,21.6 L103.8,21.4 L103.7,20.9 L103.6,20.6 L103.5,20.1 L103.4,19.6 L103.4,19.3 L103.3,18.9 L103.2,18.4 L103.2,17.9 L103.1,17.6 L103.1,17.1 L103.0,16.6 L103.0,16.1 L103.0,15.6 L103.0,15.1 L103.0,14.6 L103.0,14.1 L103.0,13.6 L103.1,13.1 L103.1,12.6 L103.1,12.4 L103.2,11.9 L103.3,11.4 L103.3,10.9 L103.4,10.6 L103.5,10.1 L103.6,9.6 L103.6,9.4 L103.7,8.9 L103.9,8.4 L103.9,8.1 L104.1,7.6 L104.2,7.4 L104.4,6.9 L104.5,6.6 L104.6,6.3 L104.8,5.9 L105.0,5.6 L105.2,5.4 L105.5,5.1 L105.8,4.9 L106.1,4.6 L106.4,4.5 L106.7,4.4 L107.1,4.3 L107.6,4.2 L107.9,4.1 L108.4,4.1 L108.9,4.0 L109.4,4.1 L109.9,4.1 L110.2,4.1 L110.6,4.2 L111.1,4.3 L111.4,4.4 L111.9,4.6 L112.1,4.7 L112.6,4.9 L112.9,5.0 L113.1,5.2 L113.4,5.4 L113.8,5.6 L114.1,5.9 L114.4,6.1 L114.6,6.3 L114.9,6.6 L115.1,6.8 L115.4,7.1 L115.6,7.4 L115.7,7.6 L115.9,7.9 L116.1,8.4 L116.1,8.6 L116.2,9.1 L116.3,9.6 L116.3,10.1 L116.3,10.6 L116.2,11.1 L116.2,11.6 L116.2,12.1 L116.1,12.5 L116.1,12.9 L116.1,13.4 L116.0,13.9 L116.0,14.4 L116.0,14.9 L115.9,15.4 L115.9,15.9 L115.9,16.3 L115.8,16.6 L115.8,17.1 L115.8,17.6 L115.8,18.1 L115.8,18.6 L115.7,19.1 L115.7,19.6 L115.7,20.1 L115.7,20.6 L115.6,21.1 L115.6,21.4 L115.5,21.9 L115.4,22.3 L115.2,22.6 L115.1,22.9 L114.9,23.2 L114.6,23.6 L114.4,23.8 L114.1,24.1 L113.9,24.3 L113.6,24.5 L113.4,24.7 L113.0,24.9 L112.6,25.1 L112.4,25.2 L112.0,25.4 L111.6,25.5 L111.4,25.6 L110.9,25.8 L110.4,25.9 L110.1,25.9Z M197.9,17.2 L197.4,17.2 L196.9,17.3 L196.4,17.2 L195.9,17.1 L195.6,17.1 L195.1,17.0 L194.7,16.9 L194.4,16.8 L194.0,16.6 L193.6,16.5 L193.4,16.4 L193.0,16.1 L192.6,15.9 L192.4,15.7 L192.1,15.4 L192.0,15.1 L191.9,14.9 L191.7,14.4 L191.7,13.9 L191.8,13.4 L191.8,12.9 L191.9,12.6 L192.0,12.1 L192.1,11.6 L192.2,11.4 L192.3,10.9 L192.4,10.6 L192.5,10.1 L192.6,9.8 L192.8,9.4 L192.9,9.1 L193.0,8.6 L193.2,8.4 L193.4,8.0 L193.6,7.6 L193.8,7.4 L194.1,7.1 L194.4,6.9 L194.6,6.8 L195.1,6.6 L195.4,6.5 L195.9,6.4 L196.3,6.4 L196.6,6.3 L197.1,6.3 L197.6,6.4 L197.9,6.4 L198.4,6.5 L198.9,6.6 L199.2,6.6 L199.6,6.8 L200.0,6.9 L200.4,7.0 L200.6,7.1 L201.1,7.4 L201.4,7.5 L201.6,7.7 L201.9,7.9 L202.3,8.1 L202.6,8.4 L202.8,8.6 L203.1,8.9 L203.3,9.1 L203.5,9.4 L203.6,9.6 L203.9,10.1 L204.0,10.4 L204.1,10.8 L204.2,11.1 L204.2,11.6 L204.1,11.9 L203.9,12.4 L203.7,12.6 L203.5,12.9 L203.3,13.1 L203.1,13.4 L202.8,13.6 L202.5,13.9 L202.2,14.1 L201.9,14.4 L201.6,14.6 L201.4,14.8 L201.1,15.0 L200.9,15.2 L200.6,15.4 L200.4,15.6 L200.1,15.9 L199.8,16.1 L199.4,16.4 L199.1,16.6 L198.9,16.7 L198.6,16.9 L198.1,17.1 L197.9,17.2Z M125.4,26.9 L124.9,26.9 L124.4,26.9 L124.1,26.8 L123.6,26.7 L123.3,26.6 L122.9,26.4 L122.6,26.3 L122.3,26.1 L122.0,25.9 L121.7,25.6 L121.4,25.4 L121.2,25.1 L121.0,24.9 L120.8,24.6 L120.6,24.2 L120.5,23.9 L120.4,23.4 L120.4,22.9 L120.4,22.4 L120.4,21.9 L120.4,21.4 L120.5,20.9 L120.5,20.4 L120.5,19.9 L120.5,19.4 L120.5,18.9 L120.5,18.4 L120.5,17.9 L120.6,17.4 L120.6,16.9 L120.6,16.6 L120.7,16.1 L120.7,15.6 L120.7,15.1 L120.8,14.6 L120.8,14.1 L120.8,13.6 L120.9,13.1 L120.9,12.9 L120.9,12.4 L121.0,11.9 L121.0,11.4 L121.0,10.9 L121.1,10.4 L121.1,10.0 L121.2,9.6 L121.3,9.1 L121.4,8.8 L121.5,8.4 L121.7,8.1 L121.9,7.8 L122.1,7.5 L122.4,7.3 L122.6,7.1 L123.0,6.9 L123.4,6.7 L123.6,6.6 L124.1,6.5 L124.6,6.4 L125.1,6.4 L125.6,6.5 L126.1,6.6 L126.4,6.6 L126.9,6.8 L127.1,6.9 L127.5,7.1 L127.9,7.4 L128.1,7.5 L128.4,7.7 L128.6,7.9 L128.9,8.2 L129.1,8.4 L129.4,8.7 L129.6,9.0 L129.9,9.4 L130.0,9.6 L130.2,9.9 L130.4,10.2 L130.6,10.6 L130.7,10.9 L130.9,11.3 L131.0,11.6 L131.1,12.0 L131.2,12.4 L131.3,12.9 L131.3,13.4 L131.3,13.9 L131.3,14.4 L131.3,14.9 L131.2,15.4 L131.1,15.7 L131.0,16.1 L130.9,16.6 L130.9,17.0 L130.8,17.4 L130.7,17.9 L130.6,18.2 L130.5,18.6 L130.4,19.1 L130.3,19.4 L130.2,19.9 L130.1,20.2 L130.0,20.6 L129.9,21.1 L129.8,21.4 L129.7,21.9 L129.6,22.2 L129.5,22.6 L129.4,23.0 L129.3,23.4 L129.1,23.8 L129.0,24.1 L128.9,24.5 L128.7,24.9 L128.5,25.1 L128.4,25.4 L128.1,25.7 L127.9,25.9 L127.6,26.1 L127.2,26.4 L126.9,26.5 L126.6,26.6 L126.1,26.8 L125.6,26.9 L125.4,26.9Z M40.1,19.9 L39.6,20.0 L39.1,20.0 L38.6,20.1 L38.1,20.1 L37.6,20.0 L37.1,19.9 L36.9,19.9 L36.4,19.7 L36.1,19.6 L35.6,19.4 L35.4,19.3 L35.0,19.1 L34.7,18.9 L34.4,18.7 L34.1,18.5 L33.9,18.2 L33.6,18.0 L33.4,17.7 L33.1,17.4 L33.0,17.1 L32.8,16.9 L32.6,16.5 L32.4,16.1 L32.4,15.9 L32.2,15.4 L32.1,14.9 L32.1,14.6 L32.1,14.1 L32.1,13.6 L32.1,13.1 L32.2,12.9 L32.3,12.4 L32.4,12.1 L32.6,11.6 L32.7,11.4 L32.9,11.0 L33.1,10.6 L33.3,10.4 L33.5,10.1 L33.8,9.9 L34.0,9.6 L34.3,9.4 L34.6,9.1 L34.9,9.0 L35.1,8.8 L35.5,8.6 L35.9,8.5 L36.1,8.4 L36.6,8.2 L36.9,8.1 L37.4,8.0 L37.9,8.0 L38.4,7.9 L38.9,7.9 L39.4,8.0 L39.9,8.1 L40.2,8.1 L40.6,8.2 L41.0,8.4 L41.4,8.5 L41.6,8.6 L42.1,8.9 L42.4,9.0 L42.6,9.2 L42.9,9.4 L43.1,9.6 L43.4,9.9 L43.6,10.1 L43.9,10.4 L44.1,10.7 L44.4,11.1 L44.5,11.4 L44.6,11.8 L44.7,12.1 L44.7,12.6 L44.7,13.1 L44.7,13.6 L44.6,14.1 L44.6,14.4 L44.5,14.9 L44.4,15.3 L44.3,15.6 L44.1,16.1 L44.0,16.4 L43.9,16.8 L43.7,17.1 L43.6,17.4 L43.4,17.8 L43.1,18.1 L42.9,18.4 L42.7,18.6 L42.4,18.9 L42.1,19.1 L41.9,19.2 L41.6,19.4 L41.1,19.6 L40.9,19.7 L40.4,19.8 L40.1,19.9Z M57.4,31.9 L56.9,31.9 L56.4,32.0 L55.9,31.9 L55.4,31.9 L55.1,31.8 L54.6,31.7 L54.3,31.6 L53.9,31.5 L53.6,31.3 L53.2,31.1 L52.9,30.9 L52.6,30.8 L52.4,30.6 L52.1,30.4 L51.8,30.1 L51.5,29.9 L51.2,29.6 L51.0,29.4 L50.8,29.1 L50.6,28.9 L50.4,28.6 L50.1,28.3 L49.9,27.9 L49.7,27.6 L49.6,27.4 L49.4,27.0 L49.2,26.6 L49.1,26.4 L48.9,25.9 L48.8,25.6 L48.6,25.1 L48.5,24.9 L48.4,24.4 L48.3,24.1 L48.2,23.6 L48.1,23.1 L48.1,22.9 L48.1,22.4 L48.0,21.9 L48.0,21.4 L48.0,20.9 L48.0,20.4 L48.1,19.9 L48.1,19.6 L48.2,19.1 L48.3,18.6 L48.4,18.4 L48.5,17.9 L48.6,17.5 L48.7,17.1 L48.9,16.7 L49.0,16.4 L49.1,15.9 L49.2,15.6 L49.3,15.1 L49.4,14.9 L49.6,14.4 L49.7,14.1 L49.9,13.7 L50.0,13.4 L50.2,13.1 L50.4,12.8 L50.6,12.5 L50.9,12.1 L51.1,11.9 L51.4,11.6 L51.6,11.4 L51.9,11.1 L52.1,10.9 L52.4,10.8 L52.6,10.6 L53.0,10.4 L53.4,10.2 L53.6,10.0 L54.0,9.9 L54.4,9.7 L54.7,9.6 L55.1,9.5 L55.6,9.4 L56.0,9.4 L56.4,9.4 L56.9,9.4 L57.1,9.4 L57.6,9.5 L58.1,9.6 L58.4,9.7 L58.9,9.9 L59.1,10.0 L59.4,10.1 L59.7,10.4 L60.0,10.6 L60.3,10.9 L60.5,11.1 L60.6,11.4 L60.9,11.8 L61.0,12.1 L61.2,12.4 L61.4,12.9 L61.5,13.1 L61.6,13.6 L61.7,13.9 L61.9,14.3 L62.0,14.6 L62.1,15.1 L62.2,15.4 L62.3,15.9 L62.4,16.1 L62.5,16.6 L62.6,17.1 L62.7,17.4 L62.8,17.9 L62.8,18.4 L62.9,18.6 L63.0,19.1 L63.0,19.6 L63.1,20.1 L63.1,20.4 L63.2,20.9 L63.2,21.4 L63.2,21.9 L63.2,22.4 L63.2,22.9 L63.2,23.4 L63.2,23.9 L63.2,24.4 L63.2,24.9 L63.2,25.4 L63.2,25.9 L63.2,26.4 L63.2,26.9 L63.1,27.1 L63.0,27.6 L62.9,28.0 L62.7,28.4 L62.5,28.6 L62.4,28.9 L62.1,29.2 L61.9,29.5 L61.6,29.8 L61.4,30.0 L61.1,30.2 L60.9,30.4 L60.6,30.6 L60.2,30.9 L59.9,31.1 L59.6,31.2 L59.3,31.4 L58.9,31.6 L58.6,31.6 L58.1,31.8 L57.6,31.9 L57.4,31.9Z M148.9,36.1 L148.4,36.2 L147.9,36.2 L147.4,36.2 L146.9,36.2 L146.4,36.2 L145.9,36.2 L145.4,36.2 L144.9,36.1 L144.6,36.1 L144.1,36.0 L143.6,35.9 L143.4,35.8 L142.9,35.7 L142.6,35.6 L142.1,35.4 L141.9,35.3 L141.4,35.1 L141.1,35.0 L140.8,34.9 L140.4,34.7 L140.1,34.5 L139.9,34.4 L139.4,34.1 L139.1,33.9 L138.9,33.8 L138.6,33.6 L138.4,33.4 L138.1,33.1 L137.8,32.9 L137.5,32.6 L137.3,32.4 L137.0,32.1 L136.8,31.9 L136.6,31.6 L136.3,31.4 L136.1,31.1 L135.9,30.8 L135.6,30.4 L135.4,30.1 L135.3,29.9 L135.1,29.6 L134.9,29.2 L134.7,28.9 L134.6,28.6 L134.4,28.1 L134.3,27.9 L134.1,27.4 L134.1,27.1 L134.0,26.6 L133.9,26.1 L133.9,25.9 L133.9,25.4 L133.9,25.1 L133.9,24.6 L134.0,24.1 L134.1,23.7 L134.2,23.4 L134.3,22.9 L134.4,22.6 L134.5,22.1 L134.6,21.7 L134.7,21.4 L134.8,20.9 L134.9,20.6 L135.0,20.1 L135.1,19.7 L135.2,19.4 L135.4,18.9 L135.4,18.6 L135.6,18.1 L135.7,17.9 L135.9,17.5 L136.1,17.1 L136.2,16.9 L136.4,16.6 L136.6,16.3 L136.9,16.0 L137.1,15.8 L137.4,15.5 L137.6,15.3 L137.9,15.1 L138.1,14.8 L138.4,14.6 L138.7,14.4 L139.1,14.1 L139.4,13.9 L139.6,13.8 L139.9,13.6 L140.3,13.4 L140.6,13.2 L140.9,13.1 L141.4,12.9 L141.6,12.8 L142.0,12.6 L142.4,12.5 L142.7,12.4 L143.1,12.3 L143.6,12.1 L143.9,12.1 L144.4,12.0 L144.9,11.9 L145.1,11.9 L145.6,11.8 L146.1,11.8 L146.6,11.8 L147.1,11.8 L147.6,11.8 L148.1,11.8 L148.6,11.8 L149.1,11.9 L149.4,11.9 L149.9,12.0 L150.4,12.1 L150.6,12.2 L151.1,12.3 L151.4,12.4 L151.9,12.6 L152.1,12.7 L152.6,12.9 L152.9,13.0 L153.2,13.1 L153.6,13.3 L153.9,13.5 L154.1,13.6 L154.5,13.9 L154.9,14.1 L155.1,14.3 L155.4,14.5 L155.6,14.8 L155.9,15.1 L156.0,15.4 L156.1,15.8 L156.2,16.1 L156.2,16.6 L156.2,17.1 L156.2,17.6 L156.1,18.0 L156.1,18.4 L156.0,18.9 L155.9,19.4 L155.9,19.7 L155.8,20.1 L155.7,20.6 L155.7,21.1 L155.6,21.4 L155.5,21.9 L155.5,22.4 L155.4,22.9 L155.4,23.1 L155.3,23.6 L155.2,24.1 L155.1,24.6 L155.1,24.9 L155.0,25.4 L154.9,25.9 L154.9,26.3 L154.8,26.6 L154.8,27.1 L154.7,27.6 L154.6,28.0 L154.6,28.4 L154.5,28.9 L154.4,29.4 L154.4,29.8 L154.3,30.1 L154.2,30.6 L154.2,31.1 L154.1,31.5 L154.1,31.9 L154.0,32.4 L153.9,32.9 L153.8,33.1 L153.7,33.6 L153.6,33.9 L153.4,34.2 L153.1,34.5 L152.9,34.8 L152.6,35.0 L152.4,35.1 L151.9,35.4 L151.6,35.5 L151.3,35.6 L150.9,35.7 L150.4,35.9 L150.1,35.9 L149.6,36.0 L149.1,36.1 L148.9,36.1Z M225.9,33.6 L225.4,33.6 L225.1,33.6 L224.6,33.5 L224.2,33.4 L223.9,33.2 L223.6,33.1 L223.2,32.9 L222.9,32.7 L222.6,32.5 L222.4,32.4 L222.1,32.1 L221.7,31.9 L221.4,31.6 L221.1,31.4 L220.9,31.2 L220.6,30.9 L220.4,30.7 L220.1,30.4 L219.9,30.1 L219.7,29.9 L219.5,29.6 L219.3,29.4 L219.1,29.1 L218.9,28.7 L218.7,28.4 L218.5,28.1 L218.4,27.8 L218.2,27.4 L218.1,27.1 L217.9,26.6 L217.8,26.4 L217.7,25.9 L217.6,25.4 L217.6,25.1 L217.6,24.6 L217.5,24.1 L217.5,23.6 L217.6,23.1 L217.6,22.7 L217.7,22.4 L217.8,21.9 L217.9,21.5 L218.0,21.1 L218.1,20.8 L218.3,20.4 L218.4,20.1 L218.6,19.7 L218.8,19.4 L219.0,19.1 L219.1,18.9 L219.4,18.5 L219.6,18.2 L219.9,17.9 L220.1,17.6 L220.3,17.4 L220.6,17.1 L220.8,16.9 L221.1,16.6 L221.4,16.4 L221.6,16.2 L221.9,16.0 L222.1,15.8 L222.4,15.6 L222.8,15.4 L223.1,15.2 L223.4,15.0 L223.6,14.9 L224.1,14.6 L224.4,14.5 L224.7,14.4 L225.1,14.2 L225.4,14.1 L225.9,13.9 L226.1,13.8 L226.6,13.6 L226.9,13.6 L227.4,13.4 L227.6,13.4 L228.1,13.2 L228.6,13.1 L228.9,13.1 L229.4,13.0 L229.9,12.9 L230.4,12.9 L230.8,12.9 L231.1,12.9 L231.4,12.9 L231.9,12.9 L232.4,13.1 L232.6,13.1 L233.1,13.4 L233.4,13.5 L233.7,13.6 L234.1,13.9 L234.4,14.0 L234.6,14.2 L234.9,14.4 L235.4,14.6 L235.6,14.8 L235.9,14.9 L236.3,15.1 L236.6,15.3 L236.9,15.4 L237.3,15.6 L237.6,15.8 L237.9,15.9 L238.4,16.1 L238.6,16.2 L239.0,16.4 L239.4,16.5 L239.7,16.6 L240.1,16.8 L240.4,16.9 L240.9,17.1 L241.1,17.2 L241.6,17.3 L241.9,17.4 L242.4,17.6 L242.6,17.7 L243.1,17.9 L243.4,18.0 L243.7,18.1 L244.1,18.4 L244.4,18.6 L244.6,18.8 L244.9,19.1 L245.1,19.4 L245.3,19.6 L245.4,19.9 L245.6,20.2 L245.8,20.6 L245.9,20.9 L246.1,21.4 L246.2,21.6 L246.3,22.1 L246.4,22.6 L246.4,22.9 L246.4,23.4 L246.5,23.9 L246.5,24.4 L246.4,24.9 L246.4,25.3 L246.3,25.6 L246.2,26.1 L246.1,26.5 L246.0,26.9 L245.9,27.2 L245.7,27.6 L245.6,27.9 L245.4,28.3 L245.2,28.6 L245.0,28.9 L244.8,29.1 L244.6,29.4 L244.4,29.7 L244.1,29.9 L243.9,30.2 L243.6,30.4 L243.3,30.6 L243.0,30.9 L242.7,31.1 L242.4,31.4 L242.1,31.5 L241.9,31.7 L241.6,31.9 L241.1,32.1 L240.9,32.2 L240.4,32.3 L239.9,32.3 L239.4,32.3 L238.9,32.3 L238.4,32.2 L237.9,32.1 L237.6,32.1 L237.1,32.1 L236.6,32.0 L236.1,32.0 L235.6,32.0 L235.1,32.0 L234.6,32.0 L234.1,32.0 L233.6,32.0 L233.1,32.1 L232.6,32.1 L232.4,32.1 L231.9,32.2 L231.4,32.3 L230.9,32.4 L230.6,32.4 L230.1,32.5 L229.7,32.6 L229.4,32.7 L228.9,32.9 L228.6,32.9 L228.1,33.1 L227.9,33.2 L227.4,33.3 L227.1,33.4 L226.6,33.5 L226.1,33.6 L225.9,33.6Z M166.1,39.1 L165.6,39.2 L165.1,39.2 L164.6,39.2 L164.1,39.2 L163.8,39.1 L163.4,39.1 L162.9,38.9 L162.6,38.9 L162.1,38.7 L161.9,38.6 L161.4,38.4 L161.1,38.3 L160.9,38.1 L160.5,37.9 L160.1,37.7 L159.9,37.5 L159.6,37.3 L159.4,37.0 L159.1,36.7 L158.9,36.4 L158.8,36.1 L158.6,35.6 L158.6,35.4 L158.6,34.9 L158.6,34.4 L158.6,33.9 L158.7,33.6 L158.7,33.1 L158.8,32.6 L158.9,32.1 L158.9,31.9 L159.0,31.4 L159.0,30.9 L159.1,30.4 L159.1,30.1 L159.2,29.6 L159.3,29.1 L159.4,28.6 L159.4,28.4 L159.5,27.9 L159.5,27.4 L159.6,26.9 L159.7,26.6 L159.7,26.1 L159.8,25.6 L159.9,25.2 L159.9,24.9 L160.0,24.4 L160.1,23.9 L160.1,23.5 L160.2,23.1 L160.3,22.6 L160.3,22.1 L160.4,21.8 L160.4,21.4 L160.5,20.9 L160.6,20.4 L160.6,20.1 L160.7,19.6 L160.8,19.1 L160.9,18.6 L160.9,18.4 L161.0,17.9 L161.1,17.4 L161.2,17.1 L161.3,16.6 L161.5,16.4 L161.6,16.1 L161.9,15.8 L162.1,15.5 L162.4,15.4 L162.9,15.1 L163.1,15.0 L163.6,14.9 L163.9,14.9 L164.4,14.8 L164.9,14.8 L165.4,14.8 L165.9,14.8 L166.2,14.9 L166.6,14.9 L167.1,15.1 L167.4,15.1 L167.9,15.3 L168.1,15.4 L168.6,15.6 L168.9,15.8 L169.1,15.9 L169.5,16.1 L169.8,16.4 L170.1,16.6 L170.4,16.8 L170.6,17.0 L170.9,17.3 L171.1,17.5 L171.4,17.8 L171.6,18.0 L171.9,18.3 L172.1,18.6 L172.4,18.8 L172.6,19.1 L172.8,19.4 L173.0,19.6 L173.1,19.9 L173.4,20.3 L173.5,20.6 L173.7,20.9 L173.9,21.3 L174.0,21.6 L174.1,22.0 L174.2,22.4 L174.3,22.9 L174.4,23.4 L174.4,23.9 L174.3,24.4 L174.3,24.9 L174.2,25.4 L174.1,25.9 L174.1,26.1 L174.0,26.6 L173.9,27.1 L173.9,27.4 L173.8,27.9 L173.7,28.4 L173.6,28.7 L173.5,29.1 L173.4,29.6 L173.4,29.9 L173.3,30.4 L173.1,30.9 L173.1,31.1 L173.0,31.6 L172.9,31.9 L172.7,32.4 L172.6,32.8 L172.5,33.1 L172.4,33.6 L172.3,33.9 L172.1,34.4 L172.1,34.6 L171.9,35.1 L171.8,35.4 L171.6,35.7 L171.4,36.1 L171.2,36.4 L171.0,36.6 L170.8,36.9 L170.5,37.1 L170.3,37.4 L169.9,37.6 L169.6,37.8 L169.4,38.0 L169.1,38.1 L168.6,38.4 L168.4,38.5 L168.1,38.6 L167.6,38.8 L167.4,38.9 L166.9,39.0 L166.4,39.1 L166.1,39.1Z M209.1,29.7 L208.6,29.8 L208.1,29.9 L207.6,29.9 L207.1,29.8 L206.6,29.6 L206.4,29.5 L206.0,29.4 L205.6,29.2 L205.4,29.0 L205.1,28.8 L204.9,28.6 L204.6,28.4 L204.4,28.1 L204.1,27.8 L203.9,27.5 L203.6,27.2 L203.4,26.9 L203.3,26.6 L203.1,26.4 L202.9,25.9 L202.7,25.6 L202.6,25.4 L202.4,24.9 L202.3,24.6 L202.1,24.1 L202.1,23.9 L201.9,23.4 L201.9,23.1 L201.8,22.6 L201.7,22.1 L201.7,21.6 L201.8,21.1 L201.9,20.9 L202.1,20.4 L202.3,20.1 L202.5,19.9 L202.8,19.6 L203.0,19.4 L203.3,19.1 L203.6,18.9 L203.9,18.6 L204.1,18.4 L204.4,18.2 L204.6,18.0 L204.9,17.8 L205.1,17.6 L205.4,17.4 L205.7,17.1 L206.1,16.9 L206.4,16.7 L206.6,16.6 L207.1,16.4 L207.6,16.4 L208.1,16.5 L208.4,16.6 L208.8,16.9 L209.1,17.1 L209.4,17.4 L209.6,17.6 L209.8,17.9 L210.0,18.1 L210.1,18.4 L210.4,18.8 L210.6,19.1 L210.7,19.4 L210.9,19.9 L210.9,20.1 L211.1,20.6 L211.1,21.0 L211.2,21.4 L211.2,21.9 L211.2,22.4 L211.2,22.9 L211.2,23.4 L211.2,23.9 L211.2,24.4 L211.2,24.9 L211.2,25.4 L211.2,25.9 L211.2,26.4 L211.1,26.9 L211.1,27.1 L211.0,27.6 L210.9,27.9 L210.7,28.4 L210.5,28.6 L210.3,28.9 L210.1,29.1 L209.8,29.4 L209.4,29.6 L209.1,29.7Z M257.6,45.1 L257.1,45.2 L256.6,45.1 L256.4,45.1 L255.9,44.9 L255.6,44.8 L255.4,44.6 L255.0,44.4 L254.8,44.1 L254.5,43.9 L254.3,43.6 L254.1,43.3 L253.9,42.9 L253.8,42.6 L253.7,42.1 L253.7,41.6 L253.7,41.1 L253.7,40.6 L253.8,40.1 L253.9,39.8 L254.0,39.4 L254.0,38.9 L254.1,38.4 L254.1,37.9 L254.1,37.4 L254.1,36.9 L254.0,36.4 L254.0,35.9 L253.9,35.5 L253.8,35.1 L253.7,34.6 L253.6,34.4 L253.4,33.9 L253.3,33.6 L253.1,33.1 L253.0,32.9 L252.9,32.5 L252.7,32.1 L252.6,31.9 L252.5,31.4 L252.4,31.0 L252.3,30.6 L252.3,30.1 L252.3,29.6 L252.4,29.1 L252.4,28.9 L252.5,28.4 L252.6,27.9 L252.6,27.5 L252.7,27.1 L252.8,26.6 L252.9,26.1 L252.9,25.9 L253.0,25.4 L253.1,24.9 L253.1,24.4 L253.2,24.1 L253.3,23.6 L253.3,23.1 L253.4,22.9 L253.5,22.4 L253.6,21.9 L253.7,21.6 L253.9,21.2 L254.0,20.9 L254.2,20.6 L254.4,20.3 L254.6,20.0 L254.9,19.8 L255.1,19.6 L255.4,19.4 L255.8,19.1 L256.1,19.0 L256.6,18.9 L256.9,18.8 L257.4,18.8 L257.6,18.9 L258.1,19.0 L258.6,19.1 L258.9,19.1 L259.4,19.2 L259.4,19.6 L259.5,20.1 L259.5,20.6 L259.5,21.1 L259.5,21.6 L259.5,22.1 L259.5,22.6 L259.5,23.1 L259.5,23.6 L259.5,24.1 L259.5,24.6 L259.5,25.1 L259.5,25.6 L259.5,26.1 L259.5,26.6 L259.5,27.1 L259.5,27.6 L259.5,28.1 L259.5,28.6 L259.5,29.1 L259.5,29.6 L259.5,30.1 L259.5,30.6 L259.5,31.1 L259.5,31.6 L259.5,32.1 L259.5,32.6 L259.5,33.1 L259.5,33.6 L259.5,34.1 L259.5,34.6 L259.5,35.1 L259.5,35.6 L259.5,36.1 L259.5,36.6 L259.5,37.1 L259.5,37.6 L259.5,38.1 L259.5,38.6 L259.5,39.1 L259.5,39.6 L259.5,40.1 L259.5,40.6 L259.5,41.1 L259.5,41.6 L259.5,42.1 L259.5,42.6 L259.5,43.1 L259.5,43.6 L259.4,44.1 L259.4,44.6 L259.1,44.8 L258.9,44.9 L258.4,45.0 L257.9,45.1 L257.6,45.1Z M190.9,50.9 L190.4,51.0 L189.9,51.0 L189.4,50.9 L189.0,50.9 L188.6,50.8 L188.1,50.7 L187.9,50.6 L187.4,50.5 L187.1,50.4 L186.6,50.2 L186.4,50.1 L185.9,49.9 L185.6,49.8 L185.3,49.6 L184.9,49.4 L184.6,49.3 L184.4,49.1 L183.9,48.9 L183.6,48.7 L183.4,48.5 L183.1,48.3 L182.8,48.1 L182.5,47.9 L182.2,47.6 L181.9,47.4 L181.6,47.1 L181.4,46.9 L181.1,46.7 L180.9,46.4 L180.6,46.1 L180.4,45.9 L180.2,45.6 L180.0,45.4 L179.8,45.1 L179.6,44.9 L179.4,44.6 L179.1,44.2 L178.9,43.9 L178.8,43.6 L178.6,43.4 L178.4,42.9 L178.2,42.6 L178.1,42.4 L177.9,41.9 L177.7,41.6 L177.6,41.4 L177.4,40.9 L177.3,40.6 L177.2,40.1 L177.1,39.9 L176.9,39.4 L176.9,39.1 L176.8,38.6 L176.7,38.1 L176.6,37.7 L176.6,37.4 L176.6,36.9 L176.6,36.5 L176.7,36.1 L176.8,35.6 L176.9,35.1 L176.9,34.9 L177.1,34.4 L177.1,34.1 L177.3,33.6 L177.4,33.3 L177.5,32.9 L177.6,32.4 L177.7,32.1 L177.8,31.6 L177.9,31.4 L178.0,30.9 L178.1,30.4 L178.2,30.1 L178.3,29.6 L178.4,29.2 L178.4,28.9 L178.5,28.4 L178.6,28.0 L178.7,27.6 L178.8,27.1 L178.9,26.9 L179.0,26.4 L179.1,26.1 L179.4,25.6 L179.5,25.4 L179.7,25.1 L179.9,24.8 L180.1,24.5 L180.4,24.2 L180.6,23.9 L180.8,23.6 L181.1,23.4 L181.3,23.1 L181.6,22.9 L181.9,22.6 L182.1,22.4 L182.4,22.2 L182.6,22.1 L182.9,21.9 L183.3,21.6 L183.6,21.4 L183.9,21.3 L184.2,21.1 L184.6,20.9 L184.9,20.8 L185.4,20.6 L185.6,20.5 L186.0,20.4 L186.4,20.2 L186.7,20.1 L187.1,20.0 L187.5,19.9 L187.9,19.8 L188.4,19.7 L188.9,19.8 L189.3,19.9 L189.6,20.0 L190.0,20.1 L190.4,20.3 L190.6,20.4 L191.1,20.6 L191.4,20.7 L191.7,20.9 L192.1,21.0 L192.4,21.1 L192.9,21.3 L193.1,21.4 L193.6,21.5 L193.9,21.6 L194.4,21.8 L194.8,21.9 L195.1,22.0 L195.4,22.1 L195.9,22.4 L196.1,22.5 L196.4,22.8 L196.6,23.1 L196.8,23.4 L196.9,23.6 L197.1,24.1 L197.2,24.4 L197.4,24.9 L197.4,25.1 L197.6,25.6 L197.7,25.9 L197.9,26.4 L198.0,26.6 L198.1,27.1 L198.3,27.4 L198.4,27.6 L198.6,28.1 L198.7,28.4 L198.9,28.6 L199.1,29.1 L199.3,29.4 L199.5,29.6 L199.6,29.9 L199.9,30.2 L200.1,30.5 L200.4,30.8 L200.6,31.1 L200.8,31.4 L201.1,31.6 L201.3,31.9 L201.6,32.1 L201.9,32.4 L202.1,32.6 L202.4,32.8 L202.6,33.0 L202.9,33.1 L203.2,33.4 L203.6,33.6 L203.9,33.7 L204.1,33.9 L204.6,34.1 L204.9,34.2 L205.4,34.4 L205.6,34.5 L206.0,34.6 L206.4,34.8 L206.6,35.0 L206.9,35.2 L207.1,35.5 L207.3,35.9 L207.4,36.1 L207.5,36.6 L207.5,37.1 L207.4,37.6 L207.4,37.9 L207.3,38.4 L207.2,38.9 L207.1,39.1 L207.0,39.6 L206.9,40.0 L206.7,40.4 L206.6,40.7 L206.5,41.1 L206.3,41.4 L206.1,41.8 L205.9,42.1 L205.7,42.4 L205.5,42.6 L205.2,42.9 L204.9,43.1 L204.6,43.3 L204.4,43.4 L203.9,43.6 L203.6,43.7 L203.2,43.9 L202.9,44.0 L202.6,44.1 L202.1,44.3 L201.9,44.4 L201.4,44.6 L201.1,44.7 L200.8,44.9 L200.4,45.1 L200.1,45.2 L199.8,45.4 L199.4,45.6 L199.1,45.7 L198.8,45.9 L198.4,46.1 L198.1,46.2 L197.9,46.4 L197.4,46.6 L197.1,46.8 L196.9,47.0 L196.6,47.1 L196.3,47.4 L195.9,47.6 L195.6,47.8 L195.4,48.0 L195.1,48.2 L194.8,48.4 L194.5,48.6 L194.2,48.9 L193.9,49.1 L193.6,49.3 L193.4,49.5 L193.1,49.7 L192.9,49.9 L192.6,50.1 L192.2,50.4 L191.9,50.6 L191.6,50.7 L191.1,50.9 L190.9,50.9Z M247.9,40.7 L247.4,40.7 L247.0,40.6 L246.6,40.4 L246.4,40.2 L246.1,40.0 L245.9,39.7 L245.6,39.4 L245.5,39.1 L245.3,38.9 L245.1,38.4 L245.0,38.1 L244.9,37.7 L244.8,37.4 L244.7,36.9 L244.8,36.4 L244.9,35.9 L245.0,35.6 L245.2,35.4 L245.4,35.1 L245.7,34.9 L246.1,34.6 L246.4,34.5 L246.9,34.4 L247.4,34.4 L247.9,34.6 L248.1,34.7 L248.4,34.9 L248.6,35.2 L248.8,35.6 L248.9,35.9 L249.1,36.4 L249.1,36.6 L249.2,37.1 L249.2,37.6 L249.2,38.1 L249.2,38.6 L249.1,38.9 L249.0,39.4 L248.9,39.7 L248.6,40.1 L248.4,40.4 L248.1,40.6 L247.9,40.7Z M237.9,47.1 L237.4,47.2 L236.9,47.2 L236.4,47.2 L235.9,47.2 L235.4,47.2 L234.9,47.2 L234.4,47.2 L233.9,47.2 L233.4,47.2 L232.9,47.1 L232.6,47.1 L232.1,47.1 L231.6,47.0 L231.1,46.9 L230.9,46.9 L230.4,46.8 L229.9,46.7 L229.6,46.6 L229.1,46.5 L228.7,46.4 L228.4,46.3 L227.9,46.1 L227.6,46.0 L227.4,45.9 L227.0,45.6 L226.7,45.4 L226.5,45.1 L226.3,44.9 L226.1,44.5 L226.0,44.1 L225.9,43.8 L225.8,43.4 L225.7,42.9 L225.7,42.4 L225.7,41.9 L225.7,41.4 L225.8,40.9 L225.9,40.4 L226.0,40.1 L226.1,39.7 L226.3,39.4 L226.5,39.1 L226.8,38.9 L227.1,38.6 L227.4,38.5 L227.6,38.3 L228.0,38.1 L228.4,38.0 L228.7,37.9 L229.1,37.7 L229.4,37.6 L229.9,37.5 L230.2,37.4 L230.6,37.3 L231.1,37.2 L231.4,37.1 L231.9,37.0 L232.4,37.0 L232.9,36.9 L233.1,36.9 L233.6,36.8 L234.1,36.8 L234.6,36.8 L235.1,36.8 L235.6,36.8 L236.1,36.8 L236.6,36.8 L236.9,36.9 L237.4,36.9 L237.9,37.0 L238.1,37.1 L238.6,37.3 L238.9,37.5 L239.1,37.6 L239.4,37.9 L239.6,38.2 L239.9,38.6 L240.0,38.9 L240.2,39.1 L240.4,39.6 L240.5,39.9 L240.6,40.2 L240.8,40.6 L240.9,40.9 L241.1,41.2 L241.3,41.6 L241.4,41.9 L241.6,42.3 L241.8,42.6 L241.9,43.0 L241.9,43.4 L242.0,43.9 L241.9,44.4 L241.8,44.6 L241.7,45.1 L241.5,45.4 L241.4,45.6 L241.1,45.9 L240.9,46.2 L240.6,46.4 L240.2,46.6 L239.9,46.8 L239.5,46.9 L239.1,47.0 L238.6,47.0 L238.1,47.1 L237.9,47.1Z M162.1,70.1 L161.6,70.2 L161.1,70.2 L160.6,70.2 L160.1,70.2 L159.6,70.2 L159.1,70.2 L158.6,70.2 L158.1,70.2 L157.8,70.1 L157.4,70.1 L156.9,70.0 L156.4,69.9 L156.1,69.8 L155.6,69.7 L155.4,69.6 L154.9,69.4 L154.6,69.3 L154.3,69.1 L153.9,68.9 L153.6,68.6 L153.4,68.4 L153.2,68.1 L153.0,67.9 L152.9,67.6 L152.6,67.2 L152.4,66.9 L152.3,66.6 L152.1,66.2 L151.9,65.9 L151.8,65.6 L151.6,65.2 L151.4,64.9 L151.3,64.6 L151.1,64.2 L151.0,63.9 L150.8,63.6 L150.6,63.1 L150.5,62.9 L150.4,62.6 L150.2,62.1 L150.1,61.9 L149.9,61.4 L149.8,61.1 L149.6,60.8 L149.5,60.4 L149.4,60.1 L149.2,59.6 L149.1,59.4 L148.9,58.9 L148.8,58.6 L148.6,58.1 L148.6,57.9 L148.4,57.4 L148.3,57.1 L148.2,56.6 L148.1,56.4 L147.9,55.9 L147.9,55.6 L147.8,55.1 L147.6,54.6 L147.6,54.4 L147.5,53.9 L147.5,53.4 L147.5,52.9 L147.5,52.4 L147.6,52.0 L147.8,51.6 L147.9,51.4 L148.1,51.0 L148.4,50.7 L148.6,50.4 L148.8,50.1 L149.1,49.9 L149.4,49.6 L149.6,49.4 L149.9,49.2 L150.1,49.0 L150.4,48.8 L150.7,48.6 L151.0,48.4 L151.4,48.2 L151.6,48.0 L151.9,47.9 L152.3,47.6 L152.6,47.5 L152.9,47.3 L153.3,47.1 L153.6,47.0 L153.9,46.9 L154.4,46.7 L154.6,46.6 L155.1,46.4 L155.4,46.4 L155.9,46.2 L156.3,46.1 L156.6,46.1 L157.1,46.0 L157.6,45.9 L157.9,45.9 L158.4,45.8 L158.9,45.8 L159.4,45.8 L159.9,45.8 L160.4,45.8 L160.9,45.8 L161.4,45.8 L161.9,45.8 L162.2,45.9 L162.6,45.9 L163.1,46.0 L163.6,46.1 L163.9,46.2 L164.4,46.3 L164.6,46.4 L165.1,46.5 L165.4,46.6 L165.9,46.8 L166.1,46.9 L166.6,47.1 L166.9,47.2 L167.2,47.4 L167.6,47.6 L167.9,47.7 L168.2,47.9 L168.6,48.1 L168.9,48.3 L169.1,48.5 L169.4,48.6 L169.7,48.9 L170.0,49.1 L170.3,49.4 L170.6,49.6 L170.9,49.8 L171.1,50.1 L171.4,50.3 L171.6,50.6 L171.8,50.9 L172.0,51.1 L172.2,51.4 L172.4,51.6 L172.6,52.0 L172.9,52.4 L173.0,52.6 L173.1,52.9 L173.4,53.3 L173.5,53.6 L173.6,53.9 L173.8,54.4 L173.8,54.9 L173.8,55.4 L173.7,55.9 L173.6,56.2 L173.4,56.6 L173.2,56.9 L173.1,57.1 L172.9,57.4 L172.6,57.7 L172.4,58.0 L172.1,58.3 L171.9,58.5 L171.6,58.8 L171.4,59.1 L171.2,59.4 L171.0,59.6 L170.8,59.9 L170.6,60.1 L170.4,60.4 L170.1,60.7 L169.9,61.0 L169.6,61.3 L169.4,61.6 L169.2,61.9 L169.0,62.1 L168.9,62.4 L168.6,62.7 L168.4,63.1 L168.2,63.4 L168.0,63.6 L167.8,63.9 L167.6,64.2 L167.4,64.6 L167.2,64.9 L167.1,65.1 L166.9,65.4 L166.6,65.9 L166.5,66.1 L166.3,66.4 L166.1,66.7 L165.9,67.1 L165.7,67.4 L165.6,67.6 L165.4,68.0 L165.1,68.4 L165.0,68.6 L164.8,68.9 L164.5,69.1 L164.2,69.4 L163.9,69.6 L163.6,69.7 L163.3,69.9 L162.9,70.0 L162.4,70.1 L162.1,70.1Z M33.4,80.4 L32.9,80.4 L32.5,80.4 L32.1,80.3 L31.6,80.3 L31.1,80.2 L30.8,80.1 L30.4,80.0 L29.9,79.9 L29.5,79.9 L29.1,79.8 L28.6,79.7 L28.3,79.6 L27.9,79.5 L27.4,79.5 L27.0,79.4 L26.6,79.3 L26.1,79.2 L25.8,79.1 L25.4,79.0 L24.9,78.9 L24.6,78.9 L24.1,78.8 L23.6,78.7 L23.4,78.6 L22.9,78.5 L22.4,78.4 L22.1,78.3 L21.6,78.2 L21.2,78.1 L20.9,78.1 L20.4,77.9 L20.1,77.9 L19.6,77.8 L19.1,77.7 L18.9,77.6 L18.4,77.5 L18.0,77.4 L17.6,77.3 L17.1,77.2 L16.9,77.1 L16.4,77.0 L16.0,76.9 L15.6,76.8 L15.1,76.7 L14.9,76.6 L14.4,76.5 L14.0,76.4 L13.6,76.3 L13.1,76.1 L12.9,76.1 L12.4,75.9 L12.1,75.9 L11.6,75.7 L11.3,75.6 L10.9,75.5 L10.4,75.4 L10.1,75.3 L9.6,75.1 L9.4,75.0 L9.0,74.9 L8.6,74.7 L8.4,74.5 L8.1,74.3 L7.9,74.1 L7.6,73.8 L7.4,73.5 L7.1,73.1 L7.0,72.9 L6.9,72.6 L6.7,72.1 L6.6,71.9 L6.4,71.4 L6.3,71.1 L6.1,70.7 L6.0,70.4 L5.9,69.9 L5.8,69.6 L5.7,69.1 L5.6,68.6 L5.6,68.4 L5.5,67.9 L5.4,67.4 L5.4,67.0 L5.3,66.6 L5.3,66.1 L5.3,65.6 L5.3,65.1 L5.3,64.6 L5.4,64.1 L5.4,63.9 L5.5,63.4 L5.5,62.9 L5.6,62.4 L5.7,62.1 L5.8,61.6 L5.9,61.2 L6.0,60.9 L6.1,60.4 L6.2,60.1 L6.4,59.6 L6.5,59.4 L6.6,58.9 L6.8,58.6 L6.9,58.4 L7.1,57.9 L7.2,57.6 L7.4,57.4 L7.6,56.9 L7.8,56.6 L8.0,56.4 L8.1,56.1 L8.4,55.7 L8.6,55.4 L8.8,55.1 L9.0,54.9 L9.2,54.6 L9.4,54.4 L9.6,54.1 L9.9,53.8 L10.1,53.5 L10.4,53.3 L10.6,53.0 L10.9,52.8 L11.1,52.5 L11.4,52.3 L11.6,52.1 L11.9,51.9 L12.2,51.6 L12.5,51.4 L12.9,51.1 L13.1,51.0 L13.4,50.8 L13.6,50.6 L14.0,50.4 L14.4,50.2 L14.6,50.0 L14.9,49.9 L15.4,49.6 L15.6,49.5 L15.9,49.4 L16.4,49.2 L16.6,49.1 L17.1,48.9 L17.4,48.8 L17.8,48.6 L18.1,48.5 L18.6,48.4 L18.9,48.3 L19.4,48.2 L19.6,48.1 L20.1,48.0 L20.6,47.9 L20.9,47.9 L21.4,47.8 L21.9,47.7 L22.4,47.7 L22.9,47.6 L23.1,47.6 L23.6,47.6 L24.1,47.6 L24.6,47.6 L25.1,47.6 L25.4,47.6 L25.9,47.7 L26.4,47.8 L26.9,47.8 L27.2,47.9 L27.6,48.0 L28.1,48.1 L28.4,48.1 L28.9,48.2 L29.4,48.4 L29.6,48.5 L30.1,48.6 L30.4,48.7 L30.9,48.9 L31.1,49.0 L31.5,49.1 L31.9,49.3 L32.1,49.4 L32.6,49.6 L32.9,49.8 L33.1,49.9 L33.5,50.1 L33.9,50.3 L34.1,50.5 L34.4,50.6 L34.7,50.9 L35.1,51.1 L35.4,51.3 L35.6,51.5 L35.9,51.7 L36.1,51.9 L36.4,52.1 L36.7,52.4 L37.0,52.6 L37.2,52.9 L37.5,53.1 L37.7,53.4 L37.9,53.6 L38.2,53.9 L38.4,54.1 L38.6,54.5 L38.9,54.9 L39.0,55.1 L39.1,55.4 L39.3,55.9 L39.4,56.1 L39.5,56.6 L39.6,57.1 L39.6,57.4 L39.7,57.9 L39.8,58.4 L39.9,58.6 L40.0,59.1 L40.1,59.4 L40.3,59.9 L40.4,60.1 L40.6,60.6 L40.8,60.9 L40.9,61.1 L41.1,61.4 L41.4,61.8 L41.6,62.1 L41.7,62.4 L41.9,62.6 L42.1,63.0 L42.3,63.4 L42.4,63.6 L42.5,64.1 L42.6,64.5 L42.7,64.9 L42.7,65.4 L42.7,65.9 L42.7,66.4 L42.6,66.9 L42.6,67.1 L42.5,67.6 L42.5,68.1 L42.4,68.6 L42.3,68.9 L42.2,69.4 L42.1,69.8 L42.0,70.1 L41.9,70.6 L41.8,70.9 L41.6,71.4 L41.5,71.6 L41.4,72.0 L41.2,72.4 L41.1,72.6 L40.9,73.0 L40.7,73.4 L40.5,73.6 L40.3,73.9 L40.1,74.2 L39.9,74.5 L39.6,74.9 L39.5,75.1 L39.3,75.4 L39.1,75.6 L38.9,76.0 L38.6,76.4 L38.4,76.6 L38.3,76.9 L38.1,77.1 L37.9,77.4 L37.6,77.7 L37.4,77.9 L37.1,78.2 L36.9,78.4 L36.6,78.7 L36.4,78.9 L36.1,79.1 L35.8,79.4 L35.4,79.6 L35.1,79.8 L34.9,79.9 L34.5,80.1 L34.1,80.3 L33.6,80.4 L33.4,80.4Z M204.1,74.6 L203.6,74.7 L203.1,74.7 L202.6,74.7 L202.1,74.7 L201.8,74.6 L201.4,74.5 L200.9,74.4 L200.6,74.4 L200.1,74.2 L199.9,74.1 L199.4,73.9 L199.1,73.7 L198.9,73.6 L198.5,73.4 L198.1,73.1 L197.9,73.0 L197.6,72.8 L197.4,72.5 L197.1,72.3 L196.9,72.0 L196.6,71.6 L196.5,71.4 L196.4,71.1 L196.2,70.6 L196.1,70.4 L196.0,69.9 L195.9,69.4 L195.9,69.1 L195.8,68.6 L195.7,68.1 L195.6,67.8 L195.5,67.4 L195.4,66.9 L195.4,66.6 L195.3,66.1 L195.1,65.6 L195.1,65.4 L194.9,64.9 L194.9,64.6 L194.7,64.1 L194.6,63.8 L194.5,63.4 L194.4,63.0 L194.2,62.6 L194.1,62.3 L194.0,61.9 L193.9,61.5 L193.7,61.1 L193.6,60.9 L193.4,60.4 L193.4,60.1 L193.2,59.6 L193.1,59.4 L192.9,58.9 L192.9,58.6 L192.8,58.1 L192.8,57.6 L192.8,57.1 L192.9,56.9 L193.0,56.4 L193.2,56.1 L193.4,55.7 L193.6,55.4 L193.9,55.1 L194.1,54.9 L194.4,54.6 L194.6,54.4 L194.9,54.2 L195.1,54.0 L195.4,53.8 L195.6,53.6 L195.9,53.4 L196.2,53.1 L196.5,52.9 L196.8,52.6 L197.1,52.4 L197.4,52.2 L197.6,52.1 L197.9,51.9 L198.3,51.6 L198.6,51.4 L198.9,51.2 L199.1,51.1 L199.4,50.9 L199.9,50.6 L200.1,50.5 L200.4,50.3 L200.8,50.1 L201.1,49.9 L201.4,49.8 L201.8,49.6 L202.1,49.4 L202.4,49.3 L202.8,49.1 L203.1,49.0 L203.4,48.9 L203.9,48.6 L204.1,48.5 L204.6,48.4 L204.9,48.3 L205.4,48.1 L205.6,48.1 L206.1,47.9 L206.6,47.9 L207.1,47.9 L207.6,48.0 L208.0,48.1 L208.4,48.3 L208.6,48.5 L208.9,48.7 L209.1,48.9 L209.4,49.1 L209.6,49.4 L209.9,49.6 L210.1,49.9 L210.4,50.2 L210.6,50.6 L210.8,50.9 L211.0,51.1 L211.2,51.4 L211.4,51.7 L211.6,52.1 L211.7,52.4 L211.9,52.7 L212.1,53.1 L212.2,53.4 L212.4,53.9 L212.5,54.1 L212.6,54.6 L212.7,54.9 L212.9,55.3 L213.0,55.6 L213.1,56.1 L213.2,56.4 L213.3,56.9 L213.3,57.4 L213.4,57.6 L213.5,58.1 L213.5,58.6 L213.5,59.1 L213.6,59.6 L213.6,60.1 L213.6,60.6 L213.6,61.1 L213.6,61.6 L213.5,62.1 L213.5,62.6 L213.4,63.1 L213.4,63.5 L213.3,63.9 L213.2,64.4 L213.1,64.7 L213.0,65.1 L212.9,65.6 L212.8,65.9 L212.6,66.4 L212.6,66.6 L212.4,67.1 L212.3,67.4 L212.1,67.7 L212.0,68.1 L211.8,68.4 L211.6,68.8 L211.4,69.1 L211.3,69.4 L211.1,69.7 L210.9,70.1 L210.7,70.4 L210.5,70.6 L210.3,70.9 L210.1,71.1 L209.9,71.4 L209.6,71.7 L209.4,71.9 L209.1,72.2 L208.9,72.4 L208.6,72.6 L208.3,72.9 L207.9,73.1 L207.6,73.3 L207.4,73.5 L207.1,73.6 L206.6,73.9 L206.4,74.0 L206.1,74.1 L205.6,74.3 L205.4,74.4 L204.9,74.5 L204.4,74.6 L204.1,74.6Z M234.4,72.6 L233.9,72.7 L233.4,72.7 L232.9,72.7 L232.4,72.7 L231.9,72.7 L231.5,72.6 L231.1,72.6 L230.6,72.5 L230.3,72.4 L229.9,72.3 L229.5,72.1 L229.1,72.0 L228.9,71.9 L228.4,71.6 L228.1,71.5 L227.9,71.4 L227.4,71.1 L227.1,70.9 L226.9,70.7 L226.6,70.6 L226.4,70.4 L226.1,70.1 L225.8,69.9 L225.6,69.6 L225.3,69.4 L225.1,69.1 L224.9,68.9 L224.6,68.6 L224.4,68.3 L224.1,67.9 L223.9,67.6 L223.8,67.4 L223.6,67.1 L223.4,66.7 L223.2,66.4 L223.1,66.1 L222.9,65.6 L222.8,65.4 L222.6,65.0 L222.5,64.6 L222.4,64.3 L222.3,63.9 L222.1,63.4 L222.1,63.1 L222.0,62.6 L221.9,62.1 L221.9,61.7 L221.8,61.4 L221.8,60.9 L221.8,60.4 L221.8,59.9 L221.9,59.4 L221.9,59.1 L222.0,58.6 L222.0,58.1 L222.1,57.7 L222.2,57.4 L222.3,56.9 L222.4,56.6 L222.6,56.1 L222.7,55.9 L222.9,55.4 L223.0,55.1 L223.1,54.8 L223.3,54.4 L223.5,54.1 L223.6,53.9 L223.9,53.5 L224.1,53.1 L224.3,52.9 L224.5,52.6 L224.7,52.4 L224.9,52.1 L225.2,51.9 L225.5,51.6 L225.9,51.4 L226.1,51.3 L226.6,51.1 L226.9,51.1 L227.4,51.1 L227.6,51.1 L228.1,51.2 L228.6,51.3 L228.9,51.4 L229.4,51.5 L229.9,51.6 L230.2,51.6 L230.6,51.7 L231.1,51.8 L231.6,51.8 L231.9,51.9 L232.4,51.9 L232.9,52.0 L233.4,52.0 L233.9,52.0 L234.4,52.0 L234.9,52.0 L235.4,52.0 L235.9,52.0 L236.4,52.0 L236.9,52.0 L237.4,52.0 L237.9,51.9 L238.4,51.9 L238.9,51.9 L239.4,51.9 L239.9,51.9 L240.4,52.0 L240.6,52.2 L241.0,52.4 L241.2,52.6 L241.4,52.9 L241.6,53.3 L241.7,53.6 L241.8,54.1 L241.8,54.6 L241.7,55.1 L241.6,55.5 L241.6,55.9 L241.5,56.4 L241.4,56.8 L241.3,57.1 L241.2,57.6 L241.1,58.1 L241.1,58.4 L241.0,58.9 L240.9,59.4 L240.9,59.9 L240.9,60.1 L240.8,60.6 L240.8,61.1 L240.8,61.6 L240.8,62.1 L240.8,62.6 L240.8,63.1 L240.8,63.6 L240.8,64.1 L240.8,64.6 L240.8,65.1 L240.8,65.6 L240.8,66.1 L240.8,66.6 L240.8,67.1 L240.8,67.6 L240.8,68.1 L240.7,68.6 L240.6,68.9 L240.4,69.4 L240.2,69.6 L240.1,69.9 L239.8,70.1 L239.6,70.4 L239.3,70.6 L238.9,70.9 L238.6,71.1 L238.4,71.2 L238.1,71.4 L237.7,71.6 L237.4,71.8 L237.1,71.9 L236.6,72.1 L236.4,72.2 L235.9,72.3 L235.6,72.4 L235.1,72.5 L234.6,72.6 L234.4,72.6Z M49.9,61.4 L49.4,61.5 L48.9,61.5 L48.4,61.5 L48.0,61.4 L47.6,61.2 L47.4,61.1 L47.0,60.9 L46.7,60.6 L46.4,60.4 L46.1,60.1 L45.9,59.9 L45.7,59.6 L45.5,59.4 L45.4,59.1 L45.1,58.7 L44.9,58.4 L44.8,58.1 L44.6,57.6 L44.6,57.4 L44.5,56.9 L44.4,56.4 L44.4,55.9 L44.5,55.4 L44.6,54.9 L44.6,54.6 L44.8,54.1 L44.9,53.9 L45.1,53.5 L45.3,53.1 L45.5,52.9 L45.7,52.6 L46.0,52.4 L46.4,52.1 L46.6,52.0 L46.9,51.9 L47.4,51.7 L47.8,51.6 L48.1,51.6 L48.6,51.5 L49.1,51.5 L49.6,51.5 L50.1,51.6 L50.4,51.6 L50.9,51.7 L51.4,51.9 L51.6,52.0 L52.0,52.1 L52.4,52.3 L52.6,52.4 L52.9,52.6 L53.2,52.9 L53.4,53.1 L53.6,53.4 L53.9,53.7 L54.1,54.1 L54.2,54.4 L54.3,54.9 L54.4,55.4 L54.4,55.9 L54.3,56.4 L54.2,56.9 L54.1,57.3 L54.0,57.6 L53.9,57.9 L53.6,58.4 L53.5,58.6 L53.3,58.9 L53.1,59.1 L52.9,59.4 L52.6,59.7 L52.4,59.9 L52.1,60.1 L51.8,60.4 L51.5,60.6 L51.1,60.8 L50.9,61.0 L50.6,61.1 L50.1,61.3 L49.9,61.4Z M79.9,89.6 L79.4,89.7 L78.9,89.7 L78.4,89.6 L78.1,89.6 L77.6,89.5 L77.1,89.4 L76.9,89.3 L76.4,89.2 L76.1,89.1 L75.6,89.0 L75.1,88.9 L74.9,88.8 L74.4,88.7 L74.0,88.6 L73.6,88.6 L73.1,88.5 L72.6,88.4 L72.4,88.3 L71.9,88.3 L71.4,88.2 L70.9,88.2 L70.6,88.1 L70.1,88.1 L69.6,88.0 L69.1,88.0 L68.6,88.0 L68.1,88.0 L67.6,88.0 L67.1,88.0 L66.6,88.0 L66.1,88.0 L65.6,88.0 L65.1,88.0 L64.6,88.0 L64.1,87.9 L63.7,87.9 L63.4,87.8 L62.9,87.7 L62.6,87.6 L62.2,87.4 L61.9,87.2 L61.6,87.0 L61.4,86.9 L61.1,86.6 L60.7,86.4 L60.4,86.1 L60.2,85.9 L59.9,85.6 L59.7,85.4 L59.5,85.1 L59.4,84.9 L59.1,84.4 L59.0,84.1 L58.9,83.6 L58.8,83.4 L58.7,82.9 L58.6,82.6 L58.5,82.1 L58.4,81.6 L58.4,81.4 L58.2,80.9 L58.1,80.5 L58.0,80.1 L57.9,79.7 L57.8,79.4 L57.6,78.9 L57.5,78.6 L57.4,78.2 L57.2,77.9 L57.1,77.6 L56.9,77.1 L56.8,76.9 L56.6,76.6 L56.4,76.1 L56.2,75.9 L56.1,75.6 L55.9,75.3 L55.6,74.9 L55.5,74.6 L55.3,74.4 L55.1,74.1 L54.9,73.8 L54.6,73.5 L54.4,73.1 L54.2,72.9 L54.0,72.6 L53.9,72.3 L53.7,71.9 L53.6,71.6 L53.5,71.1 L53.5,70.6 L53.5,70.1 L53.5,69.6 L53.6,69.1 L53.6,68.7 L53.7,68.4 L53.8,67.9 L53.9,67.5 L54.0,67.1 L54.1,66.6 L54.2,66.4 L54.4,65.9 L54.5,65.6 L54.6,65.2 L54.8,64.9 L54.9,64.6 L55.1,64.1 L55.3,63.9 L55.5,63.6 L55.6,63.4 L55.9,63.1 L56.1,62.8 L56.4,62.5 L56.6,62.2 L56.9,61.9 L57.1,61.6 L57.3,61.4 L57.4,61.1 L57.6,60.9 L57.9,60.5 L58.1,60.1 L58.2,59.9 L58.4,59.6 L58.6,59.2 L58.9,58.9 L59.1,58.6 L59.3,58.4 L59.5,58.1 L59.7,57.9 L60.0,57.6 L60.3,57.4 L60.6,57.1 L60.9,56.9 L61.1,56.7 L61.4,56.5 L61.6,56.4 L62.0,56.1 L62.3,55.9 L62.6,55.7 L62.9,55.5 L63.2,55.4 L63.6,55.1 L63.9,55.0 L64.1,54.9 L64.6,54.6 L64.9,54.5 L65.2,54.4 L65.6,54.2 L65.9,54.1 L66.4,53.9 L66.6,53.9 L67.1,53.7 L67.4,53.6 L67.9,53.5 L68.2,53.4 L68.6,53.3 L69.1,53.1 L69.4,53.1 L69.9,53.0 L70.4,52.9 L70.8,52.9 L71.1,52.8 L71.6,52.8 L72.1,52.8 L72.6,52.8 L73.1,52.8 L73.6,52.8 L74.1,52.8 L74.6,52.8 L75.1,52.8 L75.6,52.8 L76.1,52.9 L76.4,52.9 L76.9,53.0 L77.4,53.0 L77.8,53.1 L78.1,53.2 L78.6,53.3 L78.9,53.4 L79.4,53.5 L79.7,53.6 L80.1,53.8 L80.4,53.9 L80.9,54.0 L81.1,54.1 L81.6,54.3 L81.9,54.4 L82.4,54.6 L82.6,54.7 L82.9,54.9 L83.4,55.1 L83.6,55.3 L83.9,55.4 L84.3,55.6 L84.6,55.9 L84.9,56.0 L85.1,56.2 L85.4,56.4 L85.8,56.6 L86.1,56.9 L86.4,57.1 L86.6,57.3 L86.9,57.5 L87.1,57.7 L87.4,57.9 L87.6,58.2 L87.9,58.4 L88.1,58.7 L88.4,59.0 L88.6,59.4 L88.8,59.6 L88.9,59.9 L89.0,60.4 L89.1,60.8 L89.2,61.1 L89.2,61.6 L89.2,62.1 L89.2,62.6 L89.2,63.1 L89.2,63.6 L89.3,64.1 L89.3,64.6 L89.3,65.1 L89.3,65.6 L89.3,66.1 L89.3,66.6 L89.3,67.1 L89.3,67.6 L89.3,68.1 L89.3,68.6 L89.3,69.1 L89.3,69.6 L89.3,70.1 L89.3,70.6 L89.3,71.1 L89.3,71.6 L89.3,72.1 L89.3,72.6 L89.3,73.1 L89.3,73.6 L89.3,74.1 L89.3,74.6 L89.3,75.1 L89.3,75.6 L89.3,76.1 L89.3,76.6 L89.3,77.1 L89.3,77.6 L89.3,78.1 L89.3,78.6 L89.3,79.1 L89.2,79.6 L89.2,80.1 L89.2,80.6 L89.2,81.1 L89.2,81.6 L89.2,82.1 L89.1,82.6 L89.1,82.9 L88.9,83.4 L88.8,83.6 L88.6,84.0 L88.4,84.4 L88.2,84.6 L87.9,84.9 L87.7,85.1 L87.4,85.4 L87.2,85.6 L86.9,85.9 L86.6,86.1 L86.4,86.3 L86.1,86.5 L85.9,86.7 L85.6,86.9 L85.3,87.1 L84.9,87.4 L84.6,87.5 L84.4,87.7 L84.1,87.9 L83.7,88.1 L83.4,88.3 L83.1,88.4 L82.7,88.6 L82.4,88.8 L82.1,88.9 L81.6,89.1 L81.4,89.2 L80.9,89.4 L80.6,89.5 L80.1,89.6 L79.9,89.6Z M111.6,90.2 L111.1,90.3 L110.6,90.3 L110.1,90.3 L109.6,90.3 L109.1,90.2 L108.6,90.1 L108.4,90.1 L107.9,89.9 L107.6,89.8 L107.1,89.7 L106.9,89.6 L106.4,89.5 L105.9,89.4 L105.6,89.3 L105.1,89.2 L104.8,89.1 L104.4,89.0 L103.9,89.0 L103.4,88.9 L103.1,88.8 L102.6,88.8 L102.1,88.7 L101.6,88.7 L101.3,88.6 L100.9,88.6 L100.4,88.5 L99.9,88.4 L99.6,88.4 L99.1,88.2 L98.8,88.1 L98.4,87.9 L98.1,87.8 L97.8,87.6 L97.4,87.4 L97.1,87.2 L96.9,87.0 L96.6,86.8 L96.4,86.6 L96.1,86.4 L95.8,86.1 L95.6,85.9 L95.3,85.6 L95.1,85.4 L94.9,85.1 L94.6,84.7 L94.5,84.4 L94.3,84.1 L94.2,83.6 L94.1,83.3 L94.1,82.9 L94.0,82.4 L94.0,81.9 L94.0,81.4 L94.0,80.9 L94.0,80.4 L94.0,79.9 L94.0,79.4 L94.0,78.9 L94.0,78.4 L94.0,77.9 L94.0,77.4 L94.0,76.9 L94.0,76.4 L94.0,75.9 L94.0,75.4 L94.0,74.9 L94.0,74.4 L94.0,73.9 L94.0,73.4 L94.0,72.9 L94.0,72.4 L94.0,71.9 L94.0,71.4 L94.0,70.9 L94.0,70.4 L94.0,69.9 L94.0,69.4 L94.0,68.9 L94.0,68.4 L94.0,67.9 L94.0,67.4 L94.0,66.9 L94.0,66.4 L94.0,65.9 L94.0,65.4 L94.0,64.9 L94.0,64.4 L94.0,63.9 L94.0,63.4 L94.0,62.9 L94.0,62.4 L94.0,61.9 L94.0,61.4 L94.0,60.9 L94.1,60.4 L94.1,60.1 L94.2,59.6 L94.4,59.2 L94.6,58.9 L94.7,58.6 L94.9,58.4 L95.1,58.1 L95.4,57.8 L95.6,57.5 L95.9,57.3 L96.1,57.1 L96.4,56.8 L96.6,56.6 L96.9,56.4 L97.3,56.1 L97.6,55.9 L97.9,55.7 L98.1,55.5 L98.4,55.4 L98.7,55.1 L99.1,54.9 L99.4,54.8 L99.6,54.6 L100.1,54.4 L100.4,54.3 L100.7,54.1 L101.1,53.9 L101.4,53.8 L101.9,53.7 L102.1,53.6 L102.6,53.4 L102.9,53.3 L103.4,53.2 L103.7,53.1 L104.1,53.0 L104.6,52.9 L105.1,52.9 L105.4,52.8 L105.9,52.8 L106.4,52.8 L106.9,52.8 L107.4,52.8 L107.9,52.8 L108.4,52.8 L108.9,52.8 L109.4,52.8 L109.9,52.9 L110.1,52.9 L110.6,53.0 L111.1,53.1 L111.4,53.1 L111.9,53.3 L112.2,53.4 L112.6,53.5 L113.0,53.6 L113.4,53.7 L113.7,53.9 L114.1,54.0 L114.4,54.1 L114.9,54.4 L115.1,54.5 L115.4,54.6 L115.8,54.9 L116.1,55.0 L116.4,55.2 L116.7,55.4 L117.0,55.6 L117.4,55.9 L117.6,56.0 L117.9,56.2 L118.1,56.4 L118.4,56.6 L118.7,56.9 L119.0,57.1 L119.2,57.4 L119.5,57.6 L119.7,57.9 L120.0,58.1 L120.2,58.4 L120.5,58.6 L120.7,58.9 L120.9,59.1 L121.1,59.4 L121.4,59.7 L121.6,60.0 L121.9,60.4 L122.0,60.6 L122.2,60.9 L122.4,61.2 L122.6,61.6 L122.8,61.9 L122.9,62.1 L123.1,62.5 L123.3,62.9 L123.4,63.1 L123.6,63.5 L123.8,63.9 L123.9,64.2 L124.0,64.6 L124.1,65.1 L124.1,65.4 L124.2,65.9 L124.2,66.4 L124.2,66.9 L124.2,67.4 L124.2,67.9 L124.2,68.4 L124.3,68.9 L124.3,69.4 L124.3,69.9 L124.3,70.4 L124.3,70.9 L124.3,71.4 L124.3,71.9 L124.3,72.4 L124.4,72.7 L124.4,73.1 L124.4,73.6 L124.5,74.1 L124.5,74.6 L124.5,75.1 L124.5,75.6 L124.5,76.1 L124.5,76.6 L124.4,77.1 L124.4,77.4 L124.3,77.9 L124.2,78.4 L124.1,78.6 L123.9,79.1 L123.8,79.4 L123.6,79.9 L123.5,80.1 L123.4,80.4 L123.2,80.9 L123.0,81.1 L122.9,81.4 L122.6,81.8 L122.5,82.1 L122.3,82.4 L122.1,82.6 L121.9,83.0 L121.6,83.3 L121.4,83.6 L121.2,83.9 L121.0,84.1 L120.8,84.4 L120.6,84.6 L120.4,84.9 L120.1,85.2 L119.9,85.4 L119.6,85.7 L119.4,85.9 L119.1,86.2 L118.9,86.4 L118.6,86.6 L118.3,86.9 L118.0,87.1 L117.6,87.4 L117.4,87.5 L117.1,87.7 L116.9,87.9 L116.5,88.1 L116.1,88.4 L115.9,88.5 L115.6,88.6 L115.2,88.9 L114.9,89.0 L114.6,89.1 L114.1,89.4 L113.9,89.5 L113.4,89.6 L113.1,89.7 L112.7,89.9 L112.4,90.0 L111.9,90.1 L111.6,90.2Z M138.4,84.4 L137.9,84.4 L137.4,84.5 L136.9,84.5 L136.4,84.5 L135.9,84.5 L135.4,84.5 L134.9,84.4 L134.5,84.4 L134.1,84.3 L133.6,84.2 L133.2,84.1 L132.9,84.0 L132.5,83.9 L132.1,83.7 L131.9,83.6 L131.6,83.4 L131.4,83.1 L131.1,82.9 L130.9,82.6 L130.6,82.2 L130.4,81.9 L130.3,81.6 L130.1,81.3 L129.9,80.9 L129.8,80.6 L129.7,80.1 L129.6,79.7 L129.6,79.4 L129.5,78.9 L129.5,78.4 L129.4,77.9 L129.4,77.4 L129.4,77.1 L129.3,76.6 L129.3,76.1 L129.3,75.6 L129.3,75.1 L129.2,74.6 L129.2,74.1 L129.2,73.6 L129.2,73.1 L129.2,72.6 L129.1,72.1 L129.1,71.9 L129.1,71.4 L129.0,70.9 L129.0,70.4 L129.0,69.9 L129.0,69.4 L129.0,68.9 L129.0,68.4 L129.0,67.9 L129.0,67.4 L129.0,66.9 L129.0,66.4 L129.0,65.9 L129.0,65.4 L129.0,64.9 L129.0,64.4 L129.0,63.9 L129.0,63.4 L129.0,62.9 L129.0,62.4 L129.1,61.9 L129.1,61.4 L129.1,61.1 L129.3,60.6 L129.4,60.3 L129.5,59.9 L129.6,59.6 L129.8,59.1 L130.0,58.9 L130.1,58.6 L130.4,58.2 L130.5,57.9 L130.7,57.6 L130.9,57.4 L131.1,57.0 L131.4,56.7 L131.6,56.4 L131.8,56.1 L132.1,55.9 L132.3,55.6 L132.5,55.4 L132.8,55.1 L133.1,54.9 L133.4,54.6 L133.6,54.4 L133.9,54.3 L134.1,54.1 L134.5,53.9 L134.9,53.6 L135.1,53.5 L135.5,53.4 L135.9,53.2 L136.1,53.1 L136.6,53.0 L137.1,52.9 L137.4,52.9 L137.9,52.8 L138.4,52.8 L138.9,52.8 L139.4,52.8 L139.7,52.9 L140.1,53.0 L140.6,53.1 L140.9,53.2 L141.3,53.4 L141.6,53.6 L141.9,53.8 L142.1,54.0 L142.4,54.4 L142.5,54.6 L142.6,54.9 L142.8,55.4 L142.9,55.6 L143.0,56.1 L143.1,56.4 L143.3,56.9 L143.4,57.2 L143.5,57.6 L143.6,58.1 L143.7,58.4 L143.9,58.9 L143.9,59.1 L144.1,59.6 L144.2,59.9 L144.4,60.4 L144.5,60.6 L144.6,61.1 L144.7,61.4 L144.9,61.7 L145.0,62.1 L145.1,62.4 L145.3,62.9 L145.4,63.1 L145.6,63.6 L145.7,63.9 L145.9,64.2 L146.0,64.6 L146.1,64.9 L146.4,65.4 L146.5,65.6 L146.6,65.9 L146.8,66.4 L146.9,66.6 L147.1,67.0 L147.3,67.4 L147.4,67.6 L147.6,68.0 L147.8,68.4 L147.9,68.6 L148.1,69.0 L148.3,69.4 L148.4,69.6 L148.6,70.0 L148.8,70.4 L148.9,70.6 L149.1,71.1 L149.2,71.4 L149.3,71.9 L149.4,72.2 L149.4,72.6 L149.4,73.1 L149.4,73.6 L149.4,73.9 L149.3,74.4 L149.2,74.9 L149.1,75.4 L149.1,75.6 L149.0,76.1 L148.9,76.4 L148.8,76.9 L148.6,77.4 L148.5,77.6 L148.4,78.1 L148.3,78.4 L148.1,78.8 L148.0,79.1 L147.9,79.4 L147.6,79.9 L147.5,80.1 L147.4,80.4 L147.1,80.7 L146.9,81.1 L146.6,81.3 L146.4,81.6 L146.1,81.8 L145.9,82.0 L145.6,82.1 L145.2,82.4 L144.9,82.5 L144.6,82.6 L144.1,82.9 L143.9,83.0 L143.5,83.1 L143.1,83.3 L142.8,83.4 L142.4,83.5 L142.1,83.6 L141.6,83.8 L141.2,83.9 L140.9,83.9 L140.4,84.1 L140.1,84.1 L139.6,84.2 L139.1,84.3 L138.6,84.4 L138.4,84.4Z M251.6,70.7 L251.1,70.8 L250.6,70.8 L250.1,70.9 L249.6,70.9 L249.1,70.8 L248.6,70.7 L248.3,70.6 L247.9,70.5 L247.6,70.4 L247.2,70.1 L246.9,69.9 L246.6,69.7 L246.4,69.4 L246.2,69.1 L246.1,68.9 L245.9,68.4 L245.8,68.1 L245.7,67.6 L245.7,67.1 L245.6,66.8 L245.6,66.4 L245.5,65.9 L245.5,65.4 L245.5,64.9 L245.5,64.4 L245.5,63.9 L245.5,63.4 L245.5,62.9 L245.5,62.4 L245.5,61.9 L245.5,61.4 L245.6,60.9 L245.6,60.4 L245.7,60.1 L245.7,59.6 L245.8,59.1 L245.9,58.6 L245.9,58.4 L246.0,57.9 L246.1,57.4 L246.2,57.1 L246.3,56.6 L246.4,56.2 L246.5,55.9 L246.6,55.4 L246.7,55.1 L246.9,54.8 L247.1,54.4 L247.3,54.1 L247.6,53.9 L247.9,53.7 L248.1,53.5 L248.5,53.4 L248.9,53.3 L249.4,53.2 L249.9,53.1 L250.4,53.1 L250.9,53.2 L251.4,53.3 L251.7,53.4 L252.1,53.5 L252.5,53.6 L252.9,53.8 L253.1,53.9 L253.5,54.1 L253.9,54.3 L254.1,54.5 L254.4,54.7 L254.6,54.9 L254.9,55.1 L255.1,55.4 L255.4,55.6 L255.6,55.9 L255.9,56.2 L256.1,56.6 L256.3,56.9 L256.5,57.1 L256.6,57.4 L256.9,57.9 L257.0,58.1 L257.1,58.5 L257.3,58.9 L257.4,59.3 L257.5,59.6 L257.6,60.1 L257.6,60.5 L257.7,60.9 L257.7,61.4 L257.7,61.9 L257.7,62.4 L257.7,62.9 L257.6,63.4 L257.6,63.6 L257.5,64.1 L257.4,64.6 L257.3,64.9 L257.2,65.4 L257.1,65.6 L256.9,66.1 L256.7,66.4 L256.6,66.6 L256.4,67.0 L256.2,67.4 L256.0,67.6 L255.8,67.9 L255.6,68.1 L255.4,68.4 L255.1,68.6 L254.9,68.9 L254.6,69.1 L254.3,69.4 L253.9,69.6 L253.6,69.8 L253.4,70.0 L253.0,70.1 L252.6,70.3 L252.4,70.4 L251.9,70.6 L251.6,70.7Z M178.1,74.9 L177.6,74.9 L177.1,75.0 L176.6,75.0 L176.1,75.0 L175.6,75.0 L175.1,75.0 L174.6,75.0 L174.1,75.0 L173.6,75.0 L173.1,75.0 L172.6,74.9 L172.3,74.9 L171.9,74.8 L171.5,74.6 L171.1,74.4 L170.9,74.3 L170.6,74.1 L170.4,73.9 L170.1,73.6 L169.9,73.3 L169.6,73.0 L169.4,72.6 L169.3,72.4 L169.2,71.9 L169.2,71.4 L169.3,70.9 L169.4,70.6 L169.6,70.1 L169.7,69.9 L169.9,69.6 L170.1,69.2 L170.3,68.9 L170.4,68.6 L170.6,68.3 L170.9,67.9 L171.0,67.6 L171.2,67.4 L171.4,67.0 L171.6,66.6 L171.8,66.4 L171.9,66.1 L172.1,65.8 L172.4,65.5 L172.6,65.1 L172.8,64.9 L172.9,64.6 L173.1,64.4 L173.4,64.0 L173.6,63.7 L173.9,63.4 L174.0,63.1 L174.2,62.9 L174.4,62.6 L174.6,62.4 L174.9,62.0 L175.1,61.7 L175.4,61.4 L175.6,61.1 L175.8,60.9 L176.1,60.6 L176.3,60.4 L176.5,60.1 L176.7,59.9 L176.9,59.6 L177.2,59.4 L177.4,59.1 L177.7,58.9 L178.0,58.6 L178.3,58.4 L178.6,58.2 L178.9,58.1 L179.4,57.9 L179.6,57.9 L180.1,57.8 L180.6,57.8 L181.1,57.8 L181.6,57.8 L181.9,57.9 L182.4,57.9 L182.9,58.0 L183.2,58.1 L183.6,58.2 L184.1,58.4 L184.4,58.4 L184.9,58.6 L185.1,58.7 L185.6,58.9 L185.9,59.0 L186.1,59.1 L186.6,59.4 L186.9,59.5 L187.1,59.7 L187.4,59.9 L187.7,60.1 L187.9,60.4 L188.1,60.6 L188.4,61.0 L188.6,61.4 L188.7,61.6 L188.9,61.9 L189.1,62.4 L189.2,62.6 L189.4,63.1 L189.5,63.4 L189.6,63.8 L189.7,64.1 L189.9,64.6 L190.0,64.9 L190.1,65.4 L190.2,65.6 L190.3,66.1 L190.4,66.4 L190.5,66.9 L190.6,67.4 L190.7,67.6 L190.8,68.1 L190.9,68.6 L190.9,68.9 L191.0,69.4 L191.1,69.9 L191.1,70.4 L191.0,70.9 L190.9,71.4 L190.7,71.6 L190.6,71.9 L190.3,72.1 L190.0,72.4 L189.6,72.5 L189.4,72.7 L188.9,72.8 L188.6,72.9 L188.1,73.1 L187.9,73.1 L187.4,73.3 L187.0,73.4 L186.6,73.5 L186.1,73.6 L185.9,73.6 L185.4,73.8 L184.9,73.9 L184.6,73.9 L184.1,74.0 L183.7,74.1 L183.4,74.2 L182.9,74.3 L182.4,74.4 L182.1,74.4 L181.6,74.5 L181.1,74.5 L180.6,74.6 L180.4,74.7 L179.9,74.7 L179.4,74.8 L178.9,74.8 L178.4,74.9 L178.1,74.9Z M216.1,75.6 L215.9,75.6 L215.4,75.4 L215.1,75.3 L214.9,75.0 L214.7,74.6 L214.7,74.1 L214.8,73.6 L214.9,73.4 L215.1,73.0 L215.4,72.7 L215.6,72.5 L215.9,72.4 L216.4,72.2 L216.9,72.3 L217.3,72.4 L217.6,72.6 L217.9,72.9 L218.0,73.1 L218.1,73.4 L218.2,73.9 L218.1,74.3 L218.0,74.6 L217.8,74.9 L217.5,75.1 L217.2,75.4 L216.9,75.5 L216.4,75.6 L216.1,75.6Z M51.9,90.9 L51.4,91.1 L50.9,91.1 L50.4,91.0 L49.9,90.9 L49.6,90.8 L49.1,90.6 L48.9,90.5 L48.5,90.4 L48.1,90.2 L47.9,90.1 L47.4,89.9 L47.1,89.8 L46.8,89.6 L46.4,89.5 L46.1,89.4 L45.6,89.2 L45.4,89.1 L44.9,88.9 L44.6,88.8 L44.3,88.6 L43.9,88.4 L43.6,88.3 L43.2,88.1 L42.9,87.9 L42.6,87.8 L42.4,87.6 L42.1,87.4 L41.9,87.1 L41.6,86.7 L41.5,86.4 L41.4,86.1 L41.2,85.6 L41.1,85.4 L41.0,84.9 L40.9,84.4 L40.9,83.9 L40.9,83.4 L41.0,82.9 L41.1,82.4 L41.2,82.1 L41.4,81.6 L41.5,81.4 L41.6,80.9 L41.8,80.6 L41.9,80.3 L42.1,79.9 L42.2,79.6 L42.4,79.3 L42.6,78.9 L42.8,78.6 L42.9,78.4 L43.1,78.0 L43.4,77.6 L43.6,77.4 L43.7,77.1 L43.9,76.9 L44.1,76.6 L44.4,76.3 L44.6,76.0 L44.9,75.7 L45.1,75.4 L45.4,75.2 L45.6,75.0 L45.9,74.8 L46.1,74.6 L46.5,74.4 L46.9,74.2 L47.3,74.1 L47.6,74.1 L47.9,74.1 L48.4,74.3 L48.6,74.4 L49.0,74.6 L49.4,74.9 L49.6,75.1 L49.9,75.3 L50.1,75.6 L50.4,75.8 L50.6,76.1 L50.8,76.4 L51.0,76.6 L51.2,76.9 L51.4,77.1 L51.6,77.5 L51.9,77.9 L52.0,78.1 L52.1,78.4 L52.4,78.8 L52.5,79.1 L52.6,79.4 L52.9,79.9 L53.0,80.1 L53.1,80.6 L53.2,80.9 L53.4,81.3 L53.5,81.6 L53.6,82.1 L53.7,82.4 L53.8,82.9 L53.9,83.4 L53.9,83.6 L54.0,84.1 L54.1,84.6 L54.1,85.0 L54.2,85.4 L54.2,85.9 L54.2,86.4 L54.2,86.9 L54.2,87.4 L54.1,87.9 L54.1,88.1 L54.0,88.6 L53.9,88.9 L53.6,89.4 L53.5,89.6 L53.3,89.9 L53.1,90.1 L52.8,90.4 L52.5,90.6 L52.1,90.8 L51.9,90.9Z M186.6,96.6 L186.1,96.6 L185.8,96.6 L185.4,96.6 L184.9,96.5 L184.4,96.4 L184.1,96.3 L183.6,96.1 L183.4,96.0 L183.1,95.9 L182.6,95.6 L182.4,95.5 L182.1,95.3 L181.8,95.1 L181.4,94.9 L181.1,94.7 L180.9,94.6 L180.5,94.4 L180.1,94.1 L179.9,94.0 L179.6,93.8 L179.3,93.6 L179.0,93.4 L178.6,93.1 L178.4,93.0 L178.1,92.8 L177.9,92.6 L177.6,92.4 L177.2,92.1 L176.9,91.9 L176.6,91.7 L176.4,91.5 L176.1,91.3 L175.8,91.1 L175.5,90.9 L175.2,90.6 L174.9,90.4 L174.6,90.2 L174.4,90.0 L174.1,89.8 L173.9,89.6 L173.6,89.4 L173.3,89.1 L173.0,88.9 L172.7,88.6 L172.4,88.4 L172.1,88.2 L171.9,87.9 L171.6,87.7 L171.4,87.5 L171.1,87.3 L170.9,87.1 L170.6,86.9 L170.4,86.6 L170.1,86.4 L169.8,86.1 L169.6,85.9 L169.4,85.6 L169.1,85.3 L168.9,84.9 L168.8,84.6 L168.8,84.1 L168.8,83.6 L168.9,83.3 L169.0,82.9 L169.1,82.6 L169.4,82.2 L169.6,81.9 L169.8,81.6 L169.9,81.4 L170.2,81.1 L170.4,80.9 L170.7,80.6 L171.0,80.4 L171.4,80.2 L171.6,80.1 L172.1,79.9 L172.4,79.9 L172.9,79.8 L173.4,79.8 L173.9,79.8 L174.4,79.8 L174.9,79.8 L175.4,79.7 L175.9,79.7 L176.4,79.7 L176.9,79.7 L177.4,79.7 L177.9,79.7 L178.4,79.7 L178.7,79.6 L179.1,79.6 L179.6,79.5 L180.1,79.5 L180.6,79.4 L181.1,79.4 L181.4,79.3 L181.9,79.3 L182.4,79.2 L182.7,79.1 L183.1,79.1 L183.6,79.0 L184.1,78.9 L184.4,78.8 L184.9,78.7 L185.4,78.6 L185.6,78.6 L186.1,78.5 L186.5,78.4 L186.9,78.3 L187.4,78.1 L187.6,78.1 L188.1,78.0 L188.4,77.9 L188.9,77.7 L189.3,77.6 L189.6,77.5 L190.1,77.4 L190.4,77.3 L190.9,77.2 L191.1,77.1 L191.6,76.9 L191.9,76.9 L192.4,76.7 L192.9,76.7 L193.4,76.7 L193.9,76.7 L194.4,76.8 L194.6,76.9 L195.1,77.1 L195.4,77.2 L195.6,77.4 L196.1,77.6 L196.4,77.8 L196.6,77.9 L197.1,78.1 L197.4,78.3 L197.6,78.4 L198.1,78.6 L198.4,78.7 L198.7,78.9 L199.1,79.1 L199.4,79.2 L199.7,79.4 L200.1,79.6 L200.4,79.8 L200.6,80.0 L200.9,80.2 L201.1,80.4 L201.4,80.6 L201.6,80.9 L201.9,81.2 L202.1,81.5 L202.4,81.8 L202.6,82.1 L202.7,82.4 L202.9,82.9 L202.9,83.1 L203.0,83.6 L203.0,84.1 L202.9,84.6 L202.8,84.9 L202.6,85.4 L202.5,85.6 L202.4,86.0 L202.2,86.4 L202.1,86.6 L201.9,87.0 L201.7,87.4 L201.5,87.6 L201.4,87.9 L201.1,88.3 L201.0,88.6 L200.8,88.9 L200.6,89.2 L200.4,89.6 L200.2,89.9 L200.1,90.1 L199.9,90.4 L199.6,90.8 L199.4,91.1 L199.3,91.4 L199.1,91.6 L198.9,92.0 L198.6,92.4 L198.4,92.6 L198.2,92.9 L198.0,93.1 L197.8,93.4 L197.6,93.6 L197.3,93.9 L197.0,94.1 L196.7,94.4 L196.4,94.6 L196.1,94.7 L195.8,94.9 L195.4,95.0 L195.1,95.1 L194.6,95.3 L194.4,95.4 L193.9,95.5 L193.6,95.6 L193.1,95.8 L192.6,95.9 L192.4,95.9 L191.9,96.0 L191.4,96.1 L191.1,96.2 L190.6,96.3 L190.1,96.3 L189.8,96.4 L189.4,96.4 L188.9,96.5 L188.4,96.5 L187.9,96.5 L187.4,96.6 L186.9,96.6 L186.6,96.6Z M14.1,112.6 L13.6,112.7 L13.1,112.7 L12.7,112.6 L12.4,112.6 L11.9,112.5 L11.4,112.4 L11.1,112.4 L10.6,112.2 L10.2,112.1 L9.9,112.0 L9.4,111.9 L9.1,111.8 L8.6,111.6 L8.4,111.5 L7.9,111.4 L7.6,111.3 L7.3,111.1 L6.9,110.9 L6.6,110.8 L6.3,110.6 L5.9,110.4 L5.6,110.3 L5.3,110.1 L4.9,109.9 L4.6,109.7 L4.4,109.6 L4.0,109.4 L3.6,109.1 L3.4,108.9 L3.1,108.7 L2.9,108.6 L2.6,108.4 L2.3,108.1 L2.0,107.9 L1.7,107.6 L1.4,107.4 L1.1,107.2 L0.9,107.0 L0.5,106.9 L0.1,106.8 L0.1,106.4 L0.0,105.9 L0.0,105.4 L0.0,104.9 L0.0,104.4 L0.0,103.9 L0.0,103.4 L0.0,102.9 L0.0,102.4 L0.0,101.9 L0.0,101.4 L0.0,100.9 L0.0,100.4 L0.0,99.9 L0.0,99.4 L0.0,98.9 L0.0,98.4 L0.0,97.9 L0.0,97.4 L0.0,96.9 L0.0,96.4 L0.0,95.9 L0.0,95.4 L0.0,94.9 L0.0,94.4 L0.0,93.9 L0.0,93.4 L0.0,92.9 L0.0,92.4 L0.0,91.9 L0.0,91.4 L0.0,90.9 L0.0,90.4 L0.0,89.9 L0.0,89.4 L0.0,88.9 L0.0,88.4 L0.0,87.9 L0.0,87.4 L0.0,86.9 L0.0,86.4 L0.0,85.9 L0.0,85.4 L0.0,84.9 L0.0,84.4 L0.1,83.9 L0.1,83.4 L0.4,83.2 L0.6,83.1 L1.1,82.9 L1.4,82.7 L1.6,82.5 L1.9,82.3 L2.1,82.1 L2.4,81.8 L2.6,81.6 L3.0,81.4 L3.3,81.1 L3.6,80.9 L3.9,80.7 L4.1,80.6 L4.4,80.4 L4.9,80.1 L5.1,80.0 L5.5,79.9 L5.9,79.7 L6.4,79.6 L6.6,79.6 L7.1,79.6 L7.4,79.6 L7.9,79.7 L8.4,79.8 L8.7,79.9 L9.1,80.0 L9.6,80.1 L9.9,80.2 L10.4,80.3 L10.6,80.4 L11.1,80.5 L11.4,80.6 L11.9,80.7 L12.3,80.9 L12.6,81.0 L13.1,81.1 L13.4,81.2 L13.9,81.3 L14.3,81.4 L14.6,81.5 L15.1,81.6 L15.4,81.7 L15.9,81.8 L16.3,81.9 L16.6,82.0 L17.1,82.1 L17.4,82.2 L17.9,82.3 L18.3,82.4 L18.6,82.5 L19.1,82.6 L19.4,82.6 L19.9,82.7 L20.4,82.9 L20.6,82.9 L21.1,83.0 L21.6,83.1 L21.9,83.2 L22.4,83.3 L22.7,83.4 L23.1,83.5 L23.6,83.6 L23.9,83.6 L24.4,83.7 L24.9,83.8 L25.1,83.9 L25.6,84.0 L26.1,84.1 L26.4,84.1 L26.9,84.2 L27.4,84.3 L27.6,84.4 L28.1,84.5 L28.6,84.6 L28.9,84.6 L29.4,84.7 L29.9,84.8 L30.1,84.9 L30.6,85.0 L31.1,85.1 L31.4,85.2 L31.9,85.3 L32.1,85.4 L32.6,85.6 L32.9,85.8 L33.1,86.0 L33.4,86.3 L33.6,86.6 L33.8,86.9 L34.0,87.1 L34.2,87.4 L34.4,87.8 L34.5,88.1 L34.7,88.4 L34.9,88.9 L34.9,89.1 L35.1,89.6 L35.1,89.9 L35.2,90.4 L35.1,90.8 L35.1,91.1 L34.9,91.6 L34.8,91.9 L34.6,92.3 L34.5,92.6 L34.3,92.9 L34.1,93.4 L34.0,93.6 L33.9,94.0 L33.7,94.4 L33.6,94.7 L33.5,95.1 L33.4,95.6 L33.3,95.9 L33.2,96.4 L33.2,96.9 L33.1,97.1 L33.1,97.6 L33.1,98.1 L33.1,98.6 L33.1,99.1 L33.1,99.5 L33.2,99.9 L33.3,100.4 L33.3,100.9 L33.4,101.1 L33.5,101.6 L33.5,102.1 L33.5,102.6 L33.4,103.1 L33.3,103.4 L33.1,103.6 L32.9,104.0 L32.6,104.2 L32.4,104.4 L32.1,104.6 L31.8,104.9 L31.4,105.1 L31.1,105.3 L30.9,105.4 L30.6,105.6 L30.2,105.9 L29.9,106.0 L29.6,106.2 L29.3,106.4 L28.9,106.6 L28.6,106.8 L28.4,106.9 L28.0,107.1 L27.6,107.3 L27.4,107.5 L27.1,107.6 L26.6,107.9 L26.4,108.0 L26.1,108.1 L25.7,108.4 L25.4,108.5 L25.1,108.6 L24.6,108.9 L24.4,109.0 L24.1,109.1 L23.6,109.3 L23.4,109.5 L23.0,109.6 L22.6,109.8 L22.4,109.9 L21.9,110.1 L21.6,110.2 L21.3,110.4 L20.9,110.5 L20.6,110.6 L20.1,110.8 L19.9,110.9 L19.4,111.1 L19.1,111.2 L18.7,111.4 L18.4,111.5 L18.0,111.6 L17.6,111.7 L17.2,111.9 L16.9,112.0 L16.4,112.1 L16.1,112.2 L15.6,112.4 L15.4,112.4 L14.9,112.5 L14.4,112.6 L14.1,112.6Z M249.4,102.7 L248.9,102.7 L248.4,102.7 L248.1,102.6 L247.6,102.5 L247.4,102.4 L246.9,102.1 L246.6,102.0 L246.4,101.9 L246.0,101.6 L245.6,101.4 L245.4,101.2 L245.1,100.9 L244.9,100.7 L244.6,100.4 L244.5,100.1 L244.3,99.9 L244.1,99.4 L244.1,99.1 L243.9,98.6 L243.9,98.4 L243.8,97.9 L243.7,97.4 L243.6,96.9 L243.6,96.6 L243.5,96.1 L243.4,95.6 L243.4,95.1 L243.3,94.9 L243.3,94.4 L243.2,93.9 L243.2,93.4 L243.1,92.9 L243.1,92.6 L243.1,92.1 L243.0,91.6 L243.0,91.1 L243.0,90.6 L243.0,90.1 L242.9,89.6 L242.9,89.1 L242.9,88.9 L242.8,88.4 L242.8,87.9 L242.8,87.4 L242.8,86.9 L242.9,86.4 L242.9,86.1 L243.0,85.6 L243.1,85.4 L243.4,84.9 L243.5,84.6 L243.7,84.4 L243.9,84.1 L244.1,83.9 L244.4,83.6 L244.6,83.4 L244.9,83.1 L245.2,82.9 L245.6,82.6 L245.9,82.4 L246.1,82.3 L246.4,82.1 L246.9,81.9 L247.1,81.7 L247.4,81.6 L247.9,81.4 L248.1,81.3 L248.6,81.2 L248.9,81.1 L249.4,81.0 L249.9,80.9 L250.2,80.9 L250.6,80.8 L251.1,80.8 L251.6,80.9 L251.9,80.9 L252.4,81.0 L252.9,81.1 L253.2,81.1 L253.6,81.3 L254.0,81.4 L254.4,81.5 L254.6,81.6 L255.1,81.9 L255.4,82.0 L255.6,82.1 L256.0,82.4 L256.4,82.6 L256.6,82.8 L256.9,83.0 L257.1,83.2 L257.4,83.4 L257.7,83.6 L258.0,83.9 L258.3,84.1 L258.6,84.4 L258.9,84.5 L259.3,84.6 L259.4,84.9 L259.4,85.4 L259.5,85.9 L259.5,86.4 L259.5,86.9 L259.5,87.4 L259.5,87.9 L259.5,88.4 L259.5,88.9 L259.5,89.4 L259.5,89.9 L259.5,90.4 L259.5,90.9 L259.5,91.4 L259.5,91.9 L259.5,92.4 L259.5,92.9 L259.5,93.4 L259.5,93.9 L259.5,94.4 L259.5,94.9 L259.5,95.4 L259.4,95.9 L259.4,96.4 L259.0,96.4 L258.6,96.4 L258.1,96.5 L257.7,96.6 L257.4,96.7 L257.0,96.9 L256.6,97.0 L256.4,97.1 L255.9,97.4 L255.6,97.5 L255.4,97.7 L255.1,97.9 L254.7,98.1 L254.4,98.4 L254.1,98.6 L253.9,98.8 L253.6,99.0 L253.4,99.3 L253.1,99.5 L252.9,99.8 L252.6,100.0 L252.4,100.3 L252.1,100.5 L251.9,100.8 L251.6,101.0 L251.4,101.3 L251.1,101.6 L250.9,101.8 L250.6,102.0 L250.4,102.2 L250.1,102.4 L249.6,102.6 L249.4,102.7Z M227.9,105.9 L227.4,105.9 L226.9,105.9 L226.4,105.9 L226.1,105.8 L225.6,105.7 L225.2,105.6 L224.9,105.5 L224.4,105.4 L224.1,105.3 L223.6,105.2 L223.2,105.1 L222.9,105.0 L222.4,104.9 L222.1,104.9 L221.6,104.8 L221.1,104.6 L220.9,104.6 L220.4,104.5 L219.9,104.4 L219.6,104.3 L219.1,104.2 L218.7,104.1 L218.4,104.1 L217.9,104.0 L217.4,103.9 L217.1,103.8 L216.6,103.7 L216.1,103.6 L215.9,103.6 L215.4,103.5 L214.9,103.4 L214.4,103.4 L214.1,103.3 L213.6,103.3 L213.1,103.2 L212.7,103.1 L212.4,103.1 L211.9,103.0 L211.4,103.0 L210.9,102.9 L210.5,102.9 L210.1,102.8 L209.6,102.8 L209.1,102.7 L208.6,102.7 L208.2,102.6 L207.9,102.6 L207.4,102.4 L207.1,102.3 L206.6,102.1 L206.4,102.0 L206.1,101.8 L205.9,101.6 L205.6,101.4 L205.3,101.1 L205.0,100.9 L204.8,100.6 L204.6,100.4 L204.4,100.1 L204.1,99.8 L203.9,99.5 L203.6,99.1 L203.5,98.9 L203.3,98.6 L203.1,98.3 L202.9,97.9 L202.8,97.6 L202.6,97.1 L202.6,96.9 L202.5,96.4 L202.5,95.9 L202.6,95.4 L202.6,95.1 L202.8,94.6 L203.0,94.4 L203.1,94.1 L203.4,93.7 L203.5,93.4 L203.7,93.1 L203.9,92.8 L204.1,92.4 L204.3,92.1 L204.5,91.9 L204.6,91.6 L204.9,91.2 L205.1,90.9 L205.2,90.6 L205.4,90.3 L205.6,89.9 L205.8,89.6 L205.9,89.4 L206.1,89.0 L206.3,88.6 L206.4,88.4 L206.6,88.0 L206.8,87.6 L206.9,87.4 L207.1,86.9 L207.3,86.6 L207.4,86.4 L207.6,85.9 L207.8,85.6 L207.9,85.4 L208.1,85.0 L208.4,84.7 L208.6,84.5 L208.9,84.3 L209.1,84.1 L209.4,83.9 L209.8,83.6 L210.1,83.5 L210.4,83.4 L210.9,83.1 L211.1,83.0 L211.5,82.9 L211.9,82.7 L212.2,82.6 L212.6,82.5 L212.9,82.4 L213.4,82.2 L213.7,82.1 L214.1,82.0 L214.6,81.9 L214.9,81.8 L215.4,81.7 L215.9,81.6 L216.1,81.6 L216.6,81.5 L217.1,81.4 L217.5,81.4 L217.9,81.3 L218.4,81.3 L218.9,81.3 L219.4,81.2 L219.9,81.2 L220.4,81.2 L220.9,81.2 L221.4,81.2 L221.9,81.2 L222.4,81.2 L222.9,81.2 L223.4,81.3 L223.9,81.3 L224.4,81.4 L224.6,81.4 L225.1,81.5 L225.6,81.5 L226.1,81.6 L226.4,81.7 L226.9,81.8 L227.3,81.9 L227.6,82.0 L228.1,82.1 L228.4,82.2 L228.9,82.3 L229.1,82.4 L229.6,82.5 L229.9,82.6 L230.4,82.8 L230.6,82.9 L231.1,83.1 L231.4,83.2 L231.7,83.4 L232.1,83.6 L232.4,83.7 L232.7,83.9 L233.1,84.1 L233.4,84.2 L233.6,84.4 L234.0,84.6 L234.4,84.9 L234.6,85.0 L234.9,85.2 L235.1,85.4 L235.4,85.6 L235.7,85.9 L236.0,86.1 L236.2,86.4 L236.5,86.6 L236.7,86.9 L236.9,87.1 L237.1,87.4 L237.4,87.7 L237.6,88.1 L237.7,88.4 L237.9,88.8 L238.0,89.1 L238.1,89.6 L238.1,90.0 L238.2,90.4 L238.2,90.9 L238.2,91.4 L238.3,91.9 L238.3,92.4 L238.3,92.9 L238.4,93.4 L238.4,93.6 L238.4,94.1 L238.5,94.6 L238.5,95.1 L238.6,95.6 L238.6,96.0 L238.7,96.4 L238.7,96.9 L238.7,97.4 L238.7,97.9 L238.6,98.2 L238.5,98.6 L238.4,99.0 L238.2,99.4 L238.0,99.6 L237.8,99.9 L237.6,100.1 L237.4,100.4 L237.1,100.7 L236.9,101.0 L236.6,101.2 L236.4,101.5 L236.1,101.7 L235.9,101.9 L235.6,102.2 L235.4,102.4 L235.1,102.6 L234.7,102.9 L234.4,103.1 L234.1,103.3 L233.9,103.5 L233.6,103.6 L233.2,103.9 L232.9,104.0 L232.6,104.2 L232.2,104.4 L231.9,104.5 L231.6,104.6 L231.1,104.9 L230.9,105.0 L230.5,105.1 L230.1,105.3 L229.8,105.4 L229.4,105.5 L229.1,105.6 L228.6,105.7 L228.1,105.8 L227.9,105.9Z M164.6,105.9 L164.1,106.0 L163.6,106.0 L163.1,106.0 L162.6,106.0 L162.3,105.9 L161.9,105.7 L161.6,105.6 L161.1,105.4 L160.9,105.3 L160.4,105.1 L160.1,105.0 L159.8,104.9 L159.4,104.7 L159.1,104.6 L158.6,104.4 L158.4,104.3 L158.0,104.1 L157.6,104.0 L157.4,103.9 L156.9,103.7 L156.6,103.6 L156.1,103.4 L155.9,103.4 L155.4,103.2 L155.1,103.1 L154.6,103.0 L154.2,102.9 L153.9,102.8 L153.4,102.7 L153.1,102.6 L152.6,102.5 L152.1,102.4 L151.9,102.3 L151.4,102.2 L150.9,102.2 L150.5,102.1 L150.1,102.1 L149.6,102.0 L149.1,102.0 L148.6,102.0 L148.1,102.0 L147.6,102.0 L147.1,102.0 L146.6,102.0 L146.1,102.0 L145.6,102.0 L145.1,102.0 L144.6,102.1 L144.1,102.1 L143.9,102.1 L143.4,102.2 L142.9,102.3 L142.4,102.4 L142.1,102.4 L141.6,102.5 L141.1,102.6 L140.9,102.7 L140.4,102.8 L140.1,102.9 L139.6,103.0 L139.3,103.1 L138.9,103.3 L138.5,103.4 L138.1,103.5 L137.8,103.6 L137.4,103.8 L137.0,103.9 L136.6,104.0 L136.4,104.1 L135.9,104.3 L135.6,104.4 L135.1,104.6 L134.9,104.7 L134.4,104.9 L134.1,104.9 L133.6,105.0 L133.1,105.0 L132.6,105.0 L132.2,104.9 L131.9,104.8 L131.6,104.6 L131.1,104.4 L130.9,104.2 L130.6,104.0 L130.4,103.7 L130.1,103.5 L129.9,103.2 L129.6,102.9 L129.4,102.6 L129.2,102.4 L129.0,102.1 L128.7,101.9 L128.5,101.6 L128.2,101.4 L128.0,101.1 L127.7,100.9 L127.4,100.6 L127.1,100.4 L126.9,100.1 L126.6,99.9 L126.4,99.8 L126.1,99.6 L125.8,99.4 L125.5,99.1 L125.1,98.9 L124.9,98.8 L124.6,98.6 L124.2,98.4 L123.9,98.2 L123.6,98.1 L123.3,97.9 L123.0,97.6 L122.7,97.4 L122.6,97.1 L122.4,96.8 L122.3,96.4 L122.2,95.9 L122.3,95.4 L122.4,94.9 L122.5,94.6 L122.6,94.3 L122.8,93.9 L123.0,93.6 L123.1,93.4 L123.4,93.1 L123.6,92.8 L123.9,92.5 L124.1,92.2 L124.4,92.0 L124.6,91.8 L124.9,91.5 L125.1,91.3 L125.4,91.1 L125.8,90.9 L126.1,90.6 L126.4,90.5 L126.6,90.3 L126.9,90.1 L127.3,89.9 L127.6,89.7 L127.9,89.6 L128.3,89.4 L128.6,89.2 L128.9,89.1 L129.4,88.9 L129.6,88.9 L130.1,88.8 L130.6,88.7 L131.1,88.8 L131.6,88.8 L132.1,88.9 L132.4,88.9 L132.9,89.0 L133.4,89.1 L133.7,89.1 L134.1,89.2 L134.6,89.2 L135.1,89.2 L135.6,89.2 L136.1,89.2 L136.6,89.2 L137.1,89.2 L137.6,89.2 L138.1,89.2 L138.6,89.2 L139.0,89.1 L139.4,89.1 L139.9,89.0 L140.4,88.9 L140.6,88.9 L141.1,88.8 L141.6,88.6 L141.9,88.6 L142.4,88.4 L142.6,88.4 L143.1,88.2 L143.4,88.1 L143.9,88.0 L144.2,87.9 L144.6,87.7 L144.9,87.6 L145.4,87.4 L145.6,87.3 L146.1,87.1 L146.4,87.0 L146.7,86.9 L147.1,86.7 L147.4,86.6 L147.7,86.4 L148.1,86.2 L148.4,86.1 L148.8,85.9 L149.1,85.8 L149.5,85.6 L149.9,85.5 L150.4,85.4 L150.6,85.4 L151.1,85.3 L151.6,85.3 L152.1,85.3 L152.6,85.3 L153.1,85.3 L153.6,85.3 L154.1,85.3 L154.6,85.3 L155.0,85.4 L155.4,85.4 L155.9,85.5 L156.4,85.5 L156.9,85.5 L157.4,85.6 L157.6,85.6 L158.1,85.7 L158.6,85.8 L159.1,85.8 L159.5,85.9 L159.9,85.9 L160.4,86.0 L160.9,86.1 L161.1,86.1 L161.6,86.2 L162.1,86.3 L162.4,86.4 L162.9,86.6 L163.1,86.6 L163.6,86.9 L163.9,87.0 L164.1,87.2 L164.4,87.4 L164.7,87.6 L165.0,87.9 L165.2,88.1 L165.5,88.4 L165.7,88.6 L166.0,88.9 L166.3,89.1 L166.5,89.4 L166.8,89.6 L167.0,89.9 L167.3,90.1 L167.6,90.4 L167.8,90.6 L168.1,90.9 L168.4,91.1 L168.6,91.3 L168.9,91.5 L169.1,91.8 L169.4,92.0 L169.6,92.2 L169.9,92.4 L170.1,92.6 L170.4,92.9 L170.7,93.1 L171.0,93.4 L171.3,93.6 L171.6,93.8 L171.9,94.0 L172.1,94.2 L172.4,94.4 L172.6,94.6 L172.9,94.9 L173.3,95.1 L173.6,95.4 L173.9,95.6 L174.1,95.8 L174.4,96.0 L174.6,96.1 L174.9,96.4 L175.3,96.6 L175.6,96.9 L175.9,97.1 L176.1,97.3 L176.4,97.6 L176.5,97.9 L176.7,98.1 L176.8,98.6 L176.8,99.1 L176.6,99.5 L176.4,99.9 L176.3,100.1 L176.1,100.4 L175.8,100.6 L175.6,100.9 L175.3,101.1 L174.9,101.4 L174.6,101.6 L174.4,101.7 L174.1,101.9 L173.6,102.1 L173.4,102.2 L173.0,102.4 L172.6,102.5 L172.3,102.6 L171.9,102.8 L171.6,102.9 L171.1,103.1 L170.9,103.2 L170.5,103.4 L170.1,103.5 L169.9,103.7 L169.4,103.9 L169.1,104.0 L168.9,104.2 L168.5,104.4 L168.1,104.6 L167.9,104.7 L167.6,104.9 L167.1,105.1 L166.9,105.2 L166.5,105.4 L166.1,105.5 L165.8,105.6 L165.4,105.7 L164.9,105.9 L164.6,105.9Z M43.6,102.7 L43.1,102.7 L42.6,102.7 L42.1,102.7 L41.6,102.7 L41.1,102.6 L40.9,102.6 L40.4,102.5 L40.0,102.4 L39.6,102.2 L39.4,102.0 L39.1,101.9 L38.9,101.6 L38.6,101.3 L38.4,100.9 L38.3,100.6 L38.1,100.1 L38.1,99.9 L38.0,99.4 L37.9,98.9 L37.9,98.4 L37.9,97.9 L37.9,97.4 L38.0,96.9 L38.1,96.4 L38.2,96.1 L38.3,95.6 L38.4,95.4 L38.6,94.9 L38.8,94.6 L38.9,94.4 L39.1,94.0 L39.4,93.7 L39.6,93.4 L39.9,93.2 L40.1,93.0 L40.5,92.9 L40.9,92.8 L41.4,92.8 L41.8,92.9 L42.1,93.0 L42.6,93.1 L42.9,93.2 L43.3,93.4 L43.6,93.5 L43.9,93.6 L44.4,93.8 L44.6,93.9 L45.1,94.1 L45.4,94.2 L45.7,94.4 L46.1,94.6 L46.4,94.7 L46.8,94.9 L47.1,95.0 L47.4,95.1 L47.9,95.4 L48.1,95.5 L48.4,95.6 L48.7,95.9 L49.0,96.1 L49.3,96.4 L49.5,96.6 L49.6,96.9 L49.8,97.4 L49.8,97.9 L49.8,98.4 L49.7,98.9 L49.6,99.1 L49.4,99.6 L49.2,99.9 L49.0,100.1 L48.8,100.4 L48.5,100.6 L48.2,100.9 L47.9,101.1 L47.6,101.2 L47.4,101.4 L46.9,101.6 L46.6,101.8 L46.4,101.9 L45.9,102.1 L45.6,102.2 L45.1,102.4 L44.9,102.4 L44.4,102.5 L43.9,102.6 L43.6,102.7Z M74.4,107.1 L73.9,107.2 L73.4,107.2 L72.9,107.2 L72.4,107.2 L71.9,107.2 L71.4,107.2 L70.9,107.2 L70.4,107.2 L69.9,107.2 L69.4,107.2 L69.0,107.1 L68.6,107.1 L68.1,107.0 L67.6,106.9 L67.4,106.9 L66.9,106.8 L66.4,106.7 L66.1,106.6 L65.6,106.5 L65.3,106.4 L64.9,106.2 L64.6,106.1 L64.1,106.0 L63.9,105.9 L63.4,105.7 L63.1,105.6 L62.7,105.4 L62.4,105.2 L62.1,105.1 L61.7,104.9 L61.4,104.7 L61.1,104.6 L60.8,104.4 L60.4,104.1 L60.1,104.0 L59.9,103.8 L59.6,103.6 L59.2,103.4 L58.9,103.1 L58.6,102.9 L58.4,102.7 L58.1,102.5 L57.9,102.2 L57.6,102.0 L57.4,101.6 L57.2,101.4 L57.1,101.1 L56.9,100.6 L56.9,100.3 L56.8,99.9 L56.8,99.4 L56.9,98.9 L56.9,98.6 L57.0,98.1 L57.1,97.7 L57.2,97.4 L57.4,97.0 L57.5,96.6 L57.7,96.4 L57.9,96.0 L58.1,95.6 L58.3,95.4 L58.4,95.1 L58.6,94.9 L58.9,94.6 L59.1,94.4 L59.4,94.1 L59.7,93.9 L60.1,93.6 L60.4,93.5 L60.6,93.4 L61.1,93.2 L61.4,93.1 L61.9,93.0 L62.4,92.9 L62.7,92.9 L63.1,92.8 L63.6,92.8 L64.1,92.8 L64.6,92.8 L65.1,92.8 L65.6,92.8 L66.1,92.8 L66.6,92.8 L67.1,92.8 L67.6,92.8 L68.1,92.8 L68.6,92.8 L69.1,92.8 L69.6,92.9 L69.9,92.9 L70.4,92.9 L70.9,93.0 L71.4,93.1 L71.8,93.1 L72.1,93.2 L72.6,93.3 L73.1,93.4 L73.4,93.4 L73.9,93.5 L74.4,93.6 L74.6,93.7 L75.1,93.8 L75.4,93.9 L75.9,94.0 L76.3,94.1 L76.6,94.2 L77.0,94.4 L77.4,94.5 L77.7,94.6 L78.1,94.8 L78.4,94.9 L78.8,95.1 L79.1,95.3 L79.4,95.5 L79.6,95.7 L79.9,95.9 L80.1,96.2 L80.4,96.6 L80.5,96.9 L80.7,97.1 L80.8,97.6 L80.9,97.9 L81.0,98.4 L81.1,98.9 L81.2,99.1 L81.2,99.6 L81.2,100.1 L81.2,100.6 L81.1,101.1 L81.1,101.4 L81.0,101.9 L80.9,102.3 L80.8,102.6 L80.6,103.0 L80.5,103.4 L80.3,103.6 L80.1,104.0 L79.9,104.4 L79.7,104.6 L79.5,104.9 L79.3,105.1 L79.1,105.4 L78.8,105.6 L78.5,105.9 L78.1,106.1 L77.9,106.3 L77.6,106.4 L77.1,106.6 L76.9,106.7 L76.4,106.8 L76.0,106.9 L75.6,107.0 L75.1,107.0 L74.6,107.1 L74.4,107.1Z M102.4,112.4 L101.9,112.4 L101.5,112.4 L101.1,112.3 L100.6,112.3 L100.1,112.2 L99.8,112.1 L99.4,112.0 L98.9,111.9 L98.6,111.8 L98.2,111.6 L97.9,111.5 L97.6,111.4 L97.1,111.1 L96.9,111.0 L96.6,110.8 L96.3,110.6 L96.0,110.4 L95.6,110.1 L95.4,109.9 L95.1,109.7 L94.9,109.5 L94.6,109.2 L94.4,108.9 L94.1,108.7 L93.9,108.4 L93.7,108.1 L93.5,107.9 L93.3,107.6 L93.1,107.3 L92.9,106.9 L92.8,106.6 L92.6,106.4 L92.4,105.9 L92.3,105.6 L92.1,105.1 L92.1,104.9 L91.9,104.4 L91.9,104.1 L91.8,103.6 L91.7,103.1 L91.6,102.6 L91.6,102.4 L91.6,101.9 L91.6,101.5 L91.7,101.1 L91.7,100.6 L91.8,100.1 L91.9,99.8 L92.0,99.4 L92.1,98.9 L92.2,98.6 L92.4,98.2 L92.5,97.9 L92.6,97.6 L92.9,97.1 L93.0,96.9 L93.2,96.6 L93.4,96.3 L93.6,96.0 L93.9,95.6 L94.1,95.4 L94.3,95.1 L94.6,94.9 L94.8,94.6 L95.1,94.4 L95.4,94.2 L95.6,94.0 L96.0,93.9 L96.4,93.7 L96.6,93.6 L97.1,93.5 L97.6,93.4 L98.0,93.4 L98.4,93.3 L98.9,93.3 L99.4,93.3 L99.9,93.3 L100.4,93.4 L100.6,93.4 L101.1,93.4 L101.6,93.5 L102.1,93.6 L102.6,93.6 L102.9,93.7 L103.4,93.7 L103.9,93.8 L104.1,93.9 L104.6,94.0 L105.1,94.1 L105.4,94.2 L105.9,94.3 L106.1,94.4 L106.6,94.6 L106.9,94.6 L107.4,94.8 L107.6,94.9 L108.1,95.1 L108.4,95.2 L108.7,95.4 L109.1,95.6 L109.4,95.7 L109.6,95.9 L110.0,96.1 L110.3,96.4 L110.6,96.6 L110.8,96.9 L111.0,97.1 L111.2,97.4 L111.4,97.7 L111.6,98.1 L111.7,98.4 L111.8,98.9 L111.9,99.1 L112.0,99.6 L112.0,100.1 L111.9,100.6 L111.9,100.9 L111.8,101.4 L111.6,101.8 L111.5,102.1 L111.4,102.5 L111.2,102.9 L111.1,103.1 L110.9,103.6 L110.9,103.9 L110.7,104.4 L110.6,104.6 L110.4,105.1 L110.4,105.4 L110.2,105.9 L110.1,106.3 L110.0,106.6 L109.9,107.1 L109.8,107.4 L109.7,107.9 L109.6,108.1 L109.4,108.6 L109.3,108.9 L109.1,109.1 L108.9,109.5 L108.6,109.8 L108.4,110.1 L108.1,110.3 L107.9,110.5 L107.6,110.7 L107.3,110.9 L106.9,111.1 L106.6,111.2 L106.4,111.4 L105.9,111.6 L105.6,111.7 L105.1,111.9 L104.9,111.9 L104.4,112.1 L104.1,112.1 L103.6,112.2 L103.1,112.3 L102.6,112.4 L102.4,112.4Z M257.4,130.4 L256.9,130.4 L256.6,130.3 L256.1,130.2 L255.9,130.0 L255.6,129.9 L255.3,129.6 L255.1,129.4 L254.8,129.1 L254.6,128.9 L254.4,128.6 L254.1,128.2 L253.9,127.9 L253.8,127.6 L253.6,127.3 L253.4,126.9 L253.3,126.6 L253.2,126.1 L253.1,125.9 L252.9,125.4 L252.8,125.1 L252.7,124.6 L252.6,124.4 L252.5,123.9 L252.4,123.4 L252.3,123.1 L252.2,122.6 L252.1,122.1 L252.1,121.9 L252.0,121.4 L251.9,120.9 L251.9,120.5 L251.8,120.1 L251.8,119.6 L251.8,119.1 L251.8,118.6 L251.8,118.1 L251.9,117.6 L251.9,117.1 L251.8,116.6 L251.8,116.1 L251.8,115.6 L251.7,115.1 L251.6,114.6 L251.6,114.4 L251.6,113.9 L251.5,113.4 L251.5,112.9 L251.5,112.4 L251.5,111.9 L251.5,111.4 L251.5,110.9 L251.6,110.4 L251.6,109.9 L251.7,109.6 L251.8,109.1 L251.9,108.8 L252.0,108.4 L252.1,108.1 L252.4,107.7 L252.6,107.4 L252.7,107.1 L252.9,106.9 L253.1,106.5 L253.4,106.2 L253.6,105.9 L253.8,105.6 L254.0,105.4 L254.2,105.1 L254.4,104.9 L254.6,104.5 L254.9,104.2 L255.1,103.9 L255.4,103.7 L255.6,103.4 L255.9,103.1 L256.1,102.9 L256.4,102.7 L256.6,102.5 L256.9,102.3 L257.1,102.1 L257.5,101.9 L257.9,101.7 L258.1,101.6 L258.6,101.4 L258.9,101.3 L259.4,101.3 L259.4,101.6 L259.5,102.1 L259.5,102.6 L259.5,103.1 L259.5,103.6 L259.5,104.1 L259.5,104.6 L259.5,105.1 L259.5,105.6 L259.5,106.1 L259.5,106.6 L259.5,107.1 L259.5,107.6 L259.5,108.1 L259.5,108.6 L259.5,109.1 L259.5,109.6 L259.5,110.1 L259.5,110.6 L259.5,111.1 L259.5,111.6 L259.5,112.1 L259.5,112.6 L259.5,113.1 L259.5,113.6 L259.5,114.1 L259.5,114.6 L259.5,115.1 L259.5,115.6 L259.5,116.1 L259.5,116.6 L259.5,117.1 L259.5,117.6 L259.5,118.1 L259.5,118.6 L259.5,119.1 L259.5,119.6 L259.5,120.1 L259.5,120.6 L259.5,121.1 L259.5,121.6 L259.5,122.1 L259.5,122.6 L259.5,123.1 L259.5,123.6 L259.5,124.1 L259.5,124.6 L259.5,125.1 L259.5,125.6 L259.5,126.1 L259.5,126.6 L259.5,127.1 L259.5,127.6 L259.5,128.1 L259.5,128.6 L259.5,129.1 L259.4,129.6 L259.4,130.0 L258.9,130.0 L258.5,130.1 L258.1,130.2 L257.6,130.4 L257.4,130.4Z M121.6,115.6 L121.1,115.7 L120.6,115.7 L120.1,115.7 L119.6,115.7 L119.4,115.6 L118.9,115.5 L118.4,115.4 L118.1,115.3 L117.6,115.2 L117.4,115.0 L117.0,114.9 L116.6,114.6 L116.4,114.5 L116.1,114.3 L115.9,114.1 L115.6,113.9 L115.4,113.6 L115.1,113.4 L114.9,113.1 L114.6,112.7 L114.5,112.4 L114.4,112.1 L114.2,111.6 L114.1,111.1 L114.1,110.6 L114.2,110.1 L114.2,109.6 L114.3,109.1 L114.4,108.9 L114.5,108.4 L114.6,107.9 L114.7,107.6 L114.8,107.1 L114.9,106.8 L115.0,106.4 L115.1,105.9 L115.2,105.6 L115.4,105.2 L115.5,104.9 L115.6,104.5 L115.8,104.1 L115.9,103.9 L116.1,103.4 L116.3,103.1 L116.5,102.9 L116.7,102.6 L117.0,102.4 L117.4,102.1 L117.6,102.0 L118.1,101.9 L118.4,101.9 L118.9,101.9 L119.1,101.9 L119.6,101.9 L120.1,102.0 L120.5,102.1 L120.9,102.2 L121.3,102.4 L121.6,102.5 L121.9,102.6 L122.4,102.9 L122.6,103.0 L122.9,103.2 L123.2,103.4 L123.6,103.6 L123.9,103.8 L124.1,104.0 L124.4,104.2 L124.6,104.4 L124.9,104.7 L125.1,104.9 L125.4,105.2 L125.6,105.5 L125.9,105.8 L126.1,106.1 L126.3,106.4 L126.5,106.6 L126.7,106.9 L126.9,107.2 L127.1,107.6 L127.2,107.9 L127.4,108.2 L127.5,108.6 L127.6,108.9 L127.7,109.4 L127.7,109.9 L127.6,110.2 L127.5,110.6 L127.4,111.1 L127.2,111.4 L127.1,111.6 L126.9,112.1 L126.7,112.4 L126.5,112.6 L126.3,112.9 L126.1,113.1 L125.9,113.4 L125.6,113.7 L125.4,113.9 L125.1,114.1 L124.8,114.4 L124.4,114.6 L124.1,114.8 L123.9,114.9 L123.4,115.1 L123.1,115.3 L122.8,115.4 L122.4,115.5 L121.9,115.6 L121.6,115.6Z M61.9,141.1 L61.4,141.3 L60.9,141.2 L60.6,141.1 L60.1,140.9 L59.9,140.8 L59.6,140.6 L59.4,140.4 L59.1,140.1 L58.7,139.9 L58.4,139.6 L58.1,139.4 L57.9,139.2 L57.6,139.0 L57.4,138.8 L57.1,138.6 L56.7,138.4 L56.4,138.2 L56.1,138.0 L55.9,137.9 L55.4,137.6 L55.1,137.5 L54.9,137.3 L54.5,137.1 L54.1,137.0 L53.9,136.9 L53.4,136.6 L53.1,136.5 L52.8,136.4 L52.4,136.2 L52.1,136.1 L51.6,136.0 L51.3,135.9 L50.9,135.7 L50.4,135.6 L50.1,135.5 L49.6,135.4 L49.4,135.4 L48.9,135.3 L48.4,135.2 L47.9,135.1 L47.6,135.1 L47.1,135.0 L46.6,135.0 L46.1,135.0 L45.6,135.0 L45.1,135.0 L44.6,135.0 L44.1,135.0 L43.6,135.1 L43.1,135.1 L42.9,135.1 L42.4,135.2 L41.9,135.3 L41.5,135.4 L41.1,135.4 L40.6,135.6 L40.4,135.6 L39.9,135.8 L39.6,135.9 L39.1,136.0 L38.8,136.1 L38.4,136.3 L38.1,136.4 L37.6,136.6 L37.4,136.7 L37.0,136.9 L36.6,137.0 L36.4,137.2 L35.9,137.4 L35.6,137.5 L35.4,137.7 L35.0,137.9 L34.6,138.1 L34.4,138.3 L34.1,138.4 L33.9,138.6 L33.5,138.9 L33.1,139.1 L32.9,139.3 L32.6,139.5 L32.4,139.7 L32.0,139.9 L31.6,140.1 L31.4,140.2 L30.9,140.2 L30.4,140.2 L30.1,140.1 L29.8,139.9 L29.5,139.6 L29.2,139.4 L29.0,139.1 L28.8,138.9 L28.6,138.6 L28.3,138.4 L28.1,138.1 L27.9,137.8 L27.6,137.5 L27.4,137.3 L27.1,137.0 L26.9,136.7 L26.6,136.4 L26.4,136.1 L26.2,135.9 L25.9,135.6 L25.7,135.4 L25.5,135.1 L25.2,134.9 L25.0,134.6 L24.7,134.4 L24.5,134.1 L24.2,133.9 L24.0,133.6 L23.7,133.4 L23.5,133.1 L23.2,132.9 L23.0,132.6 L22.7,132.4 L22.5,132.1 L22.2,131.9 L21.9,131.6 L21.6,131.4 L21.4,131.1 L21.1,130.9 L20.9,130.7 L20.6,130.5 L20.4,130.3 L20.1,130.1 L19.9,129.9 L19.6,129.6 L19.2,129.4 L18.9,129.1 L18.6,128.9 L18.4,128.7 L18.1,128.6 L17.9,128.4 L17.5,128.1 L17.2,127.9 L16.9,127.7 L16.6,127.5 L16.4,127.4 L16.0,127.1 L15.7,126.9 L15.4,126.6 L15.1,126.4 L14.9,126.1 L14.8,125.9 L14.6,125.6 L14.4,125.1 L14.4,124.7 L14.3,124.4 L14.3,123.9 L14.4,123.5 L14.4,123.1 L14.5,122.6 L14.6,122.2 L14.7,121.9 L14.9,121.4 L15.0,121.1 L15.1,120.7 L15.3,120.4 L15.4,120.1 L15.6,119.7 L15.8,119.4 L16.0,119.1 L16.1,118.9 L16.4,118.5 L16.6,118.2 L16.8,117.9 L17.1,117.6 L17.3,117.4 L17.6,117.1 L17.9,116.9 L18.1,116.7 L18.4,116.6 L18.7,116.4 L19.1,116.2 L19.4,116.1 L19.9,115.9 L20.1,115.8 L20.6,115.7 L20.9,115.6 L21.4,115.4 L21.6,115.3 L22.0,115.1 L22.4,115.0 L22.7,114.9 L23.1,114.7 L23.4,114.6 L23.9,114.4 L24.1,114.3 L24.4,114.1 L24.9,113.9 L25.1,113.8 L25.5,113.6 L25.9,113.5 L26.1,113.4 L26.6,113.1 L26.9,113.0 L27.2,112.9 L27.6,112.6 L27.9,112.5 L28.1,112.4 L28.6,112.1 L28.9,112.0 L29.1,111.8 L29.5,111.6 L29.9,111.4 L30.1,111.3 L30.4,111.1 L30.9,110.9 L31.1,110.7 L31.4,110.6 L31.7,110.4 L32.1,110.1 L32.4,110.0 L32.6,109.8 L33.0,109.6 L33.4,109.4 L33.6,109.2 L33.9,109.1 L34.2,108.9 L34.6,108.6 L34.9,108.4 L35.1,108.3 L35.4,108.1 L35.8,107.9 L36.1,107.7 L36.4,107.6 L36.9,107.4 L37.1,107.4 L37.6,107.3 L38.1,107.2 L38.6,107.3 L39.1,107.3 L39.6,107.3 L40.0,107.4 L40.4,107.4 L40.9,107.5 L41.4,107.5 L41.9,107.5 L42.4,107.5 L42.9,107.5 L43.4,107.5 L43.9,107.4 L44.4,107.4 L44.6,107.3 L45.1,107.3 L45.6,107.2 L45.9,107.1 L46.4,107.0 L46.6,106.9 L47.1,106.7 L47.4,106.6 L47.9,106.5 L48.2,106.4 L48.6,106.2 L49.1,106.1 L49.4,106.1 L49.9,106.1 L50.4,106.0 L50.9,106.0 L51.4,106.0 L51.9,106.0 L52.4,106.0 L52.9,106.0 L53.4,106.1 L53.9,106.1 L54.1,106.2 L54.6,106.3 L54.9,106.4 L55.4,106.6 L55.6,106.7 L55.9,106.9 L56.3,107.1 L56.6,107.4 L56.9,107.6 L57.1,107.7 L57.4,107.9 L57.7,108.1 L58.1,108.4 L58.4,108.5 L58.6,108.7 L59.0,108.9 L59.4,109.1 L59.6,109.2 L59.9,109.4 L60.4,109.6 L60.6,109.7 L61.0,109.9 L61.4,110.0 L61.6,110.1 L62.1,110.3 L62.4,110.4 L62.9,110.6 L63.1,110.7 L63.6,110.9 L63.9,110.9 L64.4,111.1 L64.6,111.2 L65.1,111.3 L65.5,111.4 L65.9,111.5 L66.4,111.6 L66.6,111.6 L67.1,111.7 L67.6,111.8 L68.1,111.9 L68.4,111.9 L68.9,111.9 L69.4,112.0 L69.9,112.0 L70.4,112.0 L70.9,112.0 L71.4,112.0 L71.9,112.0 L72.4,112.0 L72.9,112.0 L73.4,112.0 L73.9,112.0 L74.4,112.0 L74.9,112.0 L75.4,112.0 L75.9,112.1 L76.1,112.2 L76.6,112.4 L76.9,112.5 L77.2,112.6 L77.6,112.9 L77.9,113.1 L78.1,113.2 L78.4,113.4 L78.7,113.6 L79.1,113.9 L79.4,114.1 L79.6,114.3 L79.9,114.5 L80.1,114.7 L80.4,114.9 L80.6,115.1 L80.9,115.4 L81.2,115.6 L81.4,115.9 L81.7,116.1 L81.9,116.4 L82.2,116.6 L82.4,116.9 L82.6,117.2 L82.9,117.5 L83.1,117.8 L83.3,118.1 L83.4,118.4 L83.6,118.8 L83.7,119.1 L83.8,119.6 L83.7,120.1 L83.6,120.5 L83.5,120.9 L83.3,121.1 L83.1,121.5 L82.9,121.9 L82.8,122.1 L82.6,122.4 L82.4,122.8 L82.2,123.1 L82.1,123.4 L81.9,123.8 L81.7,124.1 L81.6,124.4 L81.4,124.8 L81.2,125.1 L81.1,125.4 L80.9,125.9 L80.8,126.1 L80.6,126.6 L80.5,126.9 L80.4,127.3 L80.3,127.6 L80.1,128.0 L80.0,128.4 L79.9,128.8 L79.8,129.1 L79.6,129.6 L79.6,129.9 L79.4,130.4 L79.4,130.6 L79.3,131.1 L79.2,131.6 L79.1,131.9 L79.0,132.4 L78.9,132.9 L78.9,133.2 L78.8,133.6 L78.8,134.1 L78.7,134.6 L78.6,135.0 L78.5,135.4 L78.4,135.8 L78.2,136.1 L78.1,136.4 L77.9,136.7 L77.6,136.9 L77.4,137.2 L77.1,137.4 L76.7,137.6 L76.4,137.8 L76.1,138.0 L75.8,138.1 L75.4,138.3 L74.9,138.4 L74.6,138.4 L74.1,138.4 L73.9,138.4 L73.4,138.3 L72.9,138.1 L72.6,138.0 L72.1,137.9 L71.9,137.8 L71.4,137.7 L70.9,137.6 L70.6,137.6 L70.1,137.6 L69.6,137.5 L69.1,137.6 L68.6,137.6 L68.3,137.6 L67.9,137.7 L67.4,137.8 L67.1,137.9 L66.6,138.0 L66.4,138.1 L65.9,138.3 L65.6,138.4 L65.3,138.6 L64.9,138.9 L64.6,139.0 L64.4,139.2 L64.1,139.4 L63.8,139.6 L63.5,139.9 L63.3,140.1 L63.0,140.4 L62.7,140.6 L62.4,140.9 L62.1,141.0 L61.9,141.1Z M176.4,121.6 L175.9,121.7 L175.4,121.7 L174.9,121.7 L174.4,121.7 L173.9,121.6 L173.6,121.6 L173.1,121.5 L172.6,121.5 L172.2,121.4 L171.9,121.3 L171.4,121.1 L171.1,121.0 L170.8,120.9 L170.4,120.6 L170.1,120.5 L169.9,120.3 L169.6,120.1 L169.4,119.8 L169.1,119.5 L168.9,119.2 L168.6,118.9 L168.4,118.6 L168.3,118.4 L168.1,118.1 L167.9,117.6 L167.8,117.4 L167.6,117.0 L167.5,116.6 L167.4,116.3 L167.3,115.9 L167.2,115.4 L167.1,115.1 L167.1,114.6 L167.0,114.1 L167.1,113.6 L167.1,113.1 L167.1,112.9 L167.2,112.4 L167.4,111.9 L167.4,111.6 L167.6,111.2 L167.8,110.9 L168.0,110.6 L168.2,110.4 L168.4,110.1 L168.7,109.9 L169.0,109.6 L169.3,109.4 L169.6,109.2 L169.9,109.0 L170.1,108.9 L170.5,108.6 L170.9,108.4 L171.1,108.3 L171.4,108.1 L171.9,107.9 L172.1,107.8 L172.5,107.6 L172.9,107.4 L173.1,107.3 L173.6,107.1 L173.9,107.0 L174.4,106.9 L174.6,106.8 L175.1,106.6 L175.4,106.6 L175.9,106.4 L176.2,106.4 L176.6,106.3 L177.1,106.2 L177.5,106.1 L177.9,106.1 L178.4,106.0 L178.9,106.0 L179.4,105.9 L179.9,105.9 L180.4,106.0 L180.9,106.1 L181.1,106.2 L181.5,106.4 L181.9,106.5 L182.1,106.7 L182.4,106.9 L182.8,107.1 L183.1,107.4 L183.4,107.6 L183.6,107.8 L183.9,108.1 L184.1,108.3 L184.4,108.6 L184.6,108.9 L184.8,109.1 L184.9,109.4 L185.1,109.7 L185.4,110.1 L185.5,110.4 L185.6,110.6 L185.8,111.1 L185.9,111.4 L186.1,111.9 L186.1,112.1 L186.2,112.6 L186.3,113.1 L186.4,113.6 L186.4,113.9 L186.4,114.2 L186.4,114.6 L186.3,115.1 L186.2,115.6 L186.1,115.9 L186.0,116.4 L185.9,116.7 L185.7,117.1 L185.6,117.4 L185.4,117.8 L185.2,118.1 L185.0,118.4 L184.8,118.6 L184.6,118.9 L184.4,119.1 L184.1,119.4 L183.7,119.6 L183.4,119.8 L183.1,119.9 L182.7,120.1 L182.4,120.3 L182.1,120.4 L181.6,120.5 L181.4,120.6 L180.9,120.8 L180.6,120.9 L180.1,121.0 L179.7,121.1 L179.4,121.2 L178.9,121.3 L178.5,121.4 L178.1,121.4 L177.6,121.5 L177.1,121.6 L176.6,121.6 L176.4,121.6Z M148.4,126.4 L147.9,126.4 L147.4,126.5 L146.9,126.5 L146.4,126.5 L145.9,126.5 L145.4,126.5 L144.9,126.5 L144.4,126.5 L143.9,126.5 L143.4,126.5 L142.9,126.5 L142.4,126.4 L141.9,126.4 L141.6,126.4 L141.1,126.3 L140.6,126.2 L140.2,126.1 L139.9,126.0 L139.5,125.9 L139.1,125.6 L138.9,125.4 L138.6,125.2 L138.4,124.9 L138.2,124.6 L138.0,124.4 L137.9,124.1 L137.6,123.7 L137.4,123.4 L137.3,123.1 L137.1,122.9 L136.9,122.5 L136.7,122.1 L136.5,121.9 L136.3,121.6 L136.1,121.3 L135.9,120.9 L135.8,120.6 L135.6,120.4 L135.4,119.9 L135.3,119.6 L135.2,119.1 L135.1,118.9 L135.0,118.4 L134.9,117.9 L134.8,117.6 L134.8,117.1 L134.7,116.6 L134.7,116.1 L134.6,115.7 L134.6,115.4 L134.6,114.9 L134.6,114.4 L134.6,114.1 L134.7,113.6 L134.7,113.1 L134.8,112.6 L134.9,112.1 L134.9,111.9 L135.0,111.4 L135.1,111.1 L135.3,110.6 L135.4,110.4 L135.6,110.1 L135.9,109.8 L136.1,109.6 L136.4,109.4 L136.7,109.1 L137.1,108.9 L137.4,108.8 L137.7,108.6 L138.1,108.5 L138.4,108.4 L138.9,108.2 L139.1,108.1 L139.6,107.9 L139.9,107.9 L140.4,107.7 L140.7,107.6 L141.1,107.5 L141.6,107.4 L141.9,107.3 L142.4,107.2 L142.9,107.1 L143.1,107.1 L143.6,107.0 L144.1,106.9 L144.5,106.9 L144.9,106.8 L145.4,106.8 L145.9,106.8 L146.4,106.8 L146.9,106.8 L147.4,106.8 L147.9,106.8 L148.4,106.8 L148.9,106.8 L149.4,106.8 L149.7,106.9 L150.1,106.9 L150.6,107.0 L151.1,107.1 L151.4,107.1 L151.9,107.2 L152.4,107.4 L152.6,107.4 L153.1,107.5 L153.4,107.6 L153.9,107.7 L154.3,107.9 L154.6,108.0 L155.1,108.1 L155.4,108.2 L155.8,108.4 L156.1,108.5 L156.4,108.6 L156.9,108.8 L157.1,108.9 L157.6,109.1 L157.9,109.3 L158.1,109.4 L158.6,109.6 L158.9,109.8 L159.1,110.0 L159.4,110.1 L159.6,110.4 L159.9,110.7 L160.1,111.1 L160.3,111.4 L160.4,111.7 L160.5,112.1 L160.6,112.6 L160.6,112.9 L160.7,113.4 L160.7,113.9 L160.7,114.4 L160.7,114.9 L160.7,115.4 L160.7,115.9 L160.7,116.4 L160.7,116.9 L160.6,117.2 L160.6,117.6 L160.5,118.1 L160.4,118.6 L160.4,118.9 L160.2,119.4 L160.1,119.8 L160.0,120.1 L159.9,120.6 L159.8,120.9 L159.6,121.3 L159.5,121.6 L159.4,121.9 L159.2,122.4 L159.0,122.6 L158.9,122.9 L158.6,123.4 L158.5,123.6 L158.3,123.9 L158.1,124.1 L157.8,124.4 L157.5,124.6 L157.2,124.9 L156.9,125.0 L156.6,125.1 L156.1,125.3 L155.8,125.4 L155.4,125.5 L154.9,125.6 L154.6,125.6 L154.1,125.7 L153.6,125.8 L153.1,125.9 L152.9,125.9 L152.4,126.0 L151.9,126.0 L151.4,126.1 L151.1,126.1 L150.6,126.2 L150.1,126.2 L149.6,126.3 L149.1,126.3 L148.6,126.4 L148.4,126.4Z M218.1,137.9 L217.9,137.9 L217.4,137.8 L216.9,137.7 L216.6,137.6 L216.2,137.4 L215.9,137.2 L215.6,137.1 L215.3,136.9 L214.9,136.6 L214.6,136.5 L214.4,136.3 L214.1,136.1 L213.7,135.9 L213.4,135.6 L213.1,135.5 L212.9,135.3 L212.6,135.1 L212.3,134.9 L212.0,134.6 L211.7,134.4 L211.4,134.2 L211.1,134.0 L210.9,133.8 L210.6,133.6 L210.4,133.4 L210.1,133.1 L209.8,132.9 L209.5,132.6 L209.2,132.4 L208.9,132.1 L208.6,131.9 L208.4,131.7 L208.1,131.5 L207.9,131.3 L207.6,131.1 L207.4,130.9 L207.1,130.6 L206.8,130.4 L206.6,130.1 L206.3,129.9 L206.0,129.6 L205.8,129.4 L205.5,129.1 L205.3,128.9 L205.0,128.6 L204.8,128.4 L204.5,128.1 L204.2,127.9 L204.0,127.6 L203.7,127.4 L203.5,127.1 L203.2,126.9 L203.0,126.6 L202.8,126.4 L202.5,126.1 L202.3,125.9 L202.0,125.6 L201.8,125.4 L201.5,125.1 L201.3,124.9 L201.1,124.6 L200.8,124.4 L200.6,124.1 L200.4,123.8 L200.1,123.5 L199.9,123.2 L199.6,122.9 L199.4,122.6 L199.3,122.4 L199.1,122.0 L199.0,121.6 L198.9,121.1 L198.9,120.6 L198.9,120.1 L199.0,119.6 L199.0,119.1 L199.1,118.6 L199.2,118.4 L199.3,117.9 L199.4,117.5 L199.5,117.1 L199.6,116.6 L199.7,116.4 L199.9,115.9 L200.0,115.6 L200.1,115.2 L200.3,114.9 L200.4,114.6 L200.6,114.1 L200.7,113.9 L200.9,113.6 L201.1,113.1 L201.3,112.9 L201.4,112.6 L201.6,112.3 L201.9,111.9 L202.1,111.6 L202.3,111.4 L202.4,111.1 L202.6,110.9 L202.9,110.6 L203.1,110.3 L203.4,110.0 L203.6,109.8 L203.9,109.5 L204.1,109.3 L204.4,109.1 L204.6,108.8 L204.9,108.6 L205.2,108.4 L205.6,108.1 L205.9,108.0 L206.1,107.8 L206.6,107.7 L206.9,107.6 L207.4,107.5 L207.9,107.5 L208.4,107.5 L208.9,107.6 L209.4,107.6 L209.7,107.6 L210.1,107.7 L210.6,107.7 L211.1,107.8 L211.6,107.8 L211.9,107.9 L212.4,107.9 L212.9,108.0 L213.4,108.1 L213.7,108.1 L214.1,108.2 L214.6,108.3 L215.1,108.4 L215.4,108.4 L215.9,108.5 L216.4,108.6 L216.7,108.6 L217.1,108.7 L217.6,108.8 L218.0,108.9 L218.4,109.0 L218.9,109.1 L219.2,109.1 L219.6,109.2 L220.1,109.3 L220.4,109.4 L220.9,109.5 L221.4,109.6 L221.6,109.7 L222.1,109.8 L222.5,109.9 L222.9,110.0 L223.4,110.1 L223.6,110.2 L224.1,110.4 L224.4,110.5 L224.6,110.6 L225.0,110.9 L225.4,111.1 L225.6,111.4 L225.9,111.6 L226.1,111.9 L226.3,112.1 L226.4,112.4 L226.6,112.7 L226.9,113.1 L227.0,113.4 L227.2,113.6 L227.4,114.1 L227.5,114.4 L227.6,114.6 L227.9,115.1 L228.0,115.4 L228.1,115.8 L228.2,116.1 L228.4,116.6 L228.5,116.9 L228.6,117.4 L228.7,117.6 L228.8,118.1 L228.9,118.6 L228.9,118.9 L229.0,119.4 L229.1,119.9 L229.1,120.2 L229.2,120.6 L229.2,121.1 L229.2,121.6 L229.2,122.1 L229.2,122.6 L229.2,123.1 L229.1,123.6 L229.1,123.9 L229.0,124.4 L229.0,124.9 L228.9,125.4 L228.8,125.6 L228.7,126.1 L228.6,126.5 L228.5,126.9 L228.4,127.4 L228.3,127.6 L228.1,128.1 L228.0,128.4 L227.9,128.8 L227.7,129.1 L227.6,129.4 L227.4,129.9 L227.3,130.1 L227.1,130.4 L226.9,130.9 L226.7,131.1 L226.6,131.4 L226.4,131.7 L226.1,132.1 L225.9,132.4 L225.7,132.6 L225.6,132.9 L225.4,133.1 L225.1,133.4 L224.9,133.7 L224.6,134.0 L224.4,134.2 L224.1,134.5 L223.9,134.7 L223.6,134.9 L223.4,135.2 L223.1,135.4 L222.8,135.6 L222.5,135.9 L222.2,136.1 L221.9,136.3 L221.6,136.5 L221.4,136.7 L221.0,136.9 L220.6,137.1 L220.4,137.2 L220.0,137.4 L219.6,137.5 L219.4,137.6 L218.9,137.8 L218.4,137.9 L218.1,137.9Z M244.9,121.1 L244.4,121.2 L243.9,121.3 L243.4,121.2 L243.1,121.1 L242.6,121.0 L242.4,120.8 L242.0,120.6 L241.7,120.4 L241.5,120.1 L241.3,119.9 L241.1,119.6 L240.9,119.3 L240.7,118.9 L240.6,118.6 L240.5,118.1 L240.4,117.6 L240.4,117.4 L240.3,116.9 L240.4,116.4 L240.4,116.1 L240.5,115.6 L240.6,115.2 L240.8,114.9 L240.9,114.6 L241.1,114.3 L241.4,114.0 L241.6,113.7 L241.9,113.5 L242.1,113.3 L242.4,113.1 L242.9,112.9 L243.1,112.9 L243.6,112.8 L244.1,112.7 L244.6,112.8 L244.9,112.9 L245.4,113.1 L245.6,113.3 L245.9,113.5 L246.1,113.8 L246.4,114.1 L246.5,114.4 L246.6,114.7 L246.8,115.1 L246.9,115.6 L246.9,115.9 L247.0,116.4 L247.0,116.9 L247.0,117.4 L247.0,117.9 L246.9,118.4 L246.9,118.7 L246.8,119.1 L246.6,119.6 L246.5,119.9 L246.3,120.1 L246.1,120.4 L245.8,120.6 L245.5,120.9 L245.1,121.0 L244.9,121.1Z M102.4,143.1 L101.9,143.2 L101.4,143.3 L100.9,143.3 L100.4,143.2 L99.9,143.1 L99.6,143.1 L99.1,143.0 L98.6,142.9 L98.3,142.9 L97.9,142.8 L97.4,142.7 L97.0,142.6 L96.6,142.5 L96.1,142.4 L95.8,142.4 L95.4,142.3 L94.9,142.2 L94.5,142.1 L94.1,142.1 L93.6,142.0 L93.2,141.9 L92.9,141.8 L92.4,141.7 L91.9,141.6 L91.6,141.6 L91.1,141.5 L90.6,141.4 L90.4,141.3 L89.9,141.2 L89.4,141.1 L89.1,141.1 L88.6,141.0 L88.1,140.9 L87.9,140.9 L87.4,140.8 L86.9,140.7 L86.6,140.6 L86.1,140.5 L85.6,140.4 L85.4,140.3 L84.9,140.1 L84.6,140.0 L84.4,139.8 L84.1,139.6 L83.9,139.4 L83.6,138.9 L83.5,138.6 L83.4,138.1 L83.3,137.9 L83.3,137.4 L83.3,136.9 L83.3,136.4 L83.4,136.1 L83.4,135.6 L83.5,135.1 L83.5,134.6 L83.6,134.1 L83.6,133.8 L83.7,133.4 L83.8,132.9 L83.9,132.4 L83.9,132.1 L84.0,131.6 L84.1,131.1 L84.2,130.9 L84.3,130.4 L84.4,130.1 L84.5,129.6 L84.6,129.3 L84.8,128.9 L84.9,128.6 L85.1,128.1 L85.2,127.9 L85.4,127.4 L85.5,127.1 L85.6,126.8 L85.8,126.4 L86.0,126.1 L86.1,125.8 L86.3,125.4 L86.5,125.1 L86.6,124.8 L86.9,124.4 L87.0,124.1 L87.2,123.9 L87.4,123.6 L87.6,123.2 L87.8,122.9 L88.0,122.6 L88.2,122.4 L88.4,122.1 L88.6,121.7 L88.9,121.4 L89.1,121.1 L89.3,120.9 L89.5,120.6 L89.8,120.4 L90.0,120.1 L90.3,119.9 L90.6,119.6 L90.9,119.5 L91.1,119.4 L91.6,119.2 L91.9,119.1 L92.4,119.0 L92.8,118.9 L93.1,118.8 L93.6,118.7 L94.1,118.7 L94.6,118.6 L94.9,118.6 L95.4,118.6 L95.9,118.6 L96.2,118.6 L96.6,118.7 L97.1,118.7 L97.6,118.8 L98.1,118.9 L98.4,118.9 L98.9,119.0 L99.4,119.1 L99.6,119.2 L100.1,119.3 L100.4,119.4 L100.9,119.5 L101.2,119.6 L101.6,119.8 L101.9,119.9 L102.4,120.1 L102.6,120.2 L102.9,120.4 L103.4,120.6 L103.6,120.8 L103.9,120.9 L104.2,121.1 L104.6,121.4 L104.9,121.6 L105.1,121.8 L105.4,121.9 L105.6,122.1 L105.9,122.4 L106.2,122.6 L106.4,122.9 L106.7,123.1 L106.9,123.4 L107.2,123.6 L107.4,123.9 L107.6,124.2 L107.9,124.5 L108.1,124.8 L108.3,125.1 L108.5,125.4 L108.6,125.6 L108.9,126.1 L109.0,126.4 L109.2,126.6 L109.4,127.1 L109.5,127.4 L109.6,127.7 L109.8,128.1 L109.9,128.5 L110.0,128.9 L110.1,129.4 L110.1,129.6 L110.2,130.1 L110.3,130.6 L110.3,131.1 L110.4,131.6 L110.3,132.1 L110.3,132.6 L110.3,133.1 L110.2,133.6 L110.1,133.9 L110.0,134.4 L109.9,134.9 L109.8,135.1 L109.7,135.6 L109.6,135.9 L109.4,136.3 L109.2,136.6 L109.1,136.9 L108.9,137.4 L108.7,137.6 L108.6,137.9 L108.4,138.2 L108.1,138.6 L107.9,138.9 L107.7,139.1 L107.5,139.4 L107.3,139.6 L107.1,139.9 L106.9,140.1 L106.6,140.4 L106.4,140.6 L106.1,140.9 L105.8,141.1 L105.5,141.4 L105.2,141.6 L104.9,141.8 L104.6,142.0 L104.4,142.2 L104.1,142.4 L103.6,142.6 L103.4,142.7 L103.1,142.9 L102.6,143.1 L102.4,143.1Z M128.1,140.6 L127.6,140.7 L127.1,140.8 L126.6,140.7 L126.1,140.6 L125.9,140.6 L125.4,140.4 L125.1,140.4 L124.6,140.2 L124.4,140.1 L123.9,139.9 L123.6,139.8 L123.3,139.6 L122.9,139.4 L122.6,139.3 L122.3,139.1 L121.9,138.9 L121.6,138.7 L121.4,138.5 L121.1,138.3 L120.9,138.1 L120.6,137.9 L120.4,137.6 L120.1,137.3 L119.9,136.9 L119.7,136.6 L119.5,136.4 L119.4,136.1 L119.1,135.6 L119.0,135.4 L118.9,135.0 L118.7,134.6 L118.6,134.4 L118.5,133.9 L118.4,133.5 L118.3,133.1 L118.2,132.6 L118.1,132.1 L118.1,131.9 L118.1,131.4 L118.1,130.9 L118.1,130.4 L118.1,129.9 L118.2,129.6 L118.2,129.1 L118.3,128.6 L118.4,128.4 L118.6,127.9 L118.6,127.6 L118.8,127.1 L118.9,126.9 L119.1,126.4 L119.3,126.1 L119.4,125.9 L119.6,125.5 L119.8,125.1 L120.0,124.9 L120.2,124.6 L120.4,124.4 L120.6,124.1 L120.9,123.8 L121.1,123.5 L121.4,123.3 L121.6,123.1 L121.9,122.9 L122.2,122.6 L122.5,122.4 L122.9,122.2 L123.1,122.0 L123.4,121.9 L123.9,121.6 L124.1,121.5 L124.6,121.4 L124.9,121.3 L125.4,121.2 L125.8,121.1 L126.1,121.1 L126.6,121.1 L127.1,121.0 L127.6,121.1 L128.1,121.1 L128.4,121.2 L128.9,121.3 L129.2,121.4 L129.6,121.5 L129.9,121.6 L130.3,121.9 L130.6,122.1 L130.9,122.4 L131.1,122.6 L131.3,122.9 L131.5,123.1 L131.7,123.4 L131.9,123.6 L132.1,124.0 L132.4,124.3 L132.6,124.6 L132.7,124.9 L132.9,125.1 L133.1,125.5 L133.3,125.9 L133.5,126.1 L133.6,126.4 L133.9,126.9 L134.0,127.1 L134.1,127.4 L134.3,127.9 L134.4,128.1 L134.5,128.6 L134.5,129.1 L134.5,129.6 L134.5,130.1 L134.4,130.6 L134.3,130.9 L134.2,131.4 L134.1,131.6 L133.9,132.1 L133.9,132.4 L133.7,132.9 L133.6,133.1 L133.4,133.6 L133.3,133.9 L133.1,134.2 L132.9,134.6 L132.8,134.9 L132.6,135.2 L132.4,135.6 L132.3,135.9 L132.1,136.2 L131.9,136.6 L131.7,136.9 L131.5,137.1 L131.4,137.4 L131.1,137.8 L130.9,138.1 L130.7,138.4 L130.5,138.6 L130.3,138.9 L130.1,139.1 L129.9,139.4 L129.6,139.6 L129.4,139.9 L129.1,140.1 L128.7,140.4 L128.4,140.5 L128.1,140.6Z M201.1,151.1 L200.6,151.2 L200.1,151.2 L199.6,151.1 L199.3,151.1 L198.9,151.1 L198.4,151.1 L197.9,151.0 L197.4,151.0 L196.9,151.0 L196.4,150.9 L195.9,150.9 L195.5,150.9 L195.1,150.8 L194.6,150.8 L194.1,150.8 L193.6,150.8 L193.1,150.8 L192.6,150.8 L192.1,150.8 L191.6,150.8 L191.1,150.8 L190.6,150.8 L190.1,150.8 L189.6,150.8 L189.1,150.8 L188.6,150.8 L188.1,150.8 L187.6,150.8 L187.1,150.8 L186.6,150.8 L186.1,150.8 L185.6,150.8 L185.1,150.8 L184.6,150.8 L184.1,150.8 L183.6,150.8 L183.1,150.7 L182.6,150.7 L182.1,150.7 L181.6,150.7 L181.1,150.7 L180.6,150.7 L180.3,150.6 L179.9,150.5 L179.5,150.4 L179.1,150.2 L178.9,150.0 L178.6,149.8 L178.4,149.6 L178.1,149.3 L177.9,149.0 L177.6,148.8 L177.4,148.5 L177.1,148.3 L176.9,148.0 L176.6,147.8 L176.4,147.5 L176.1,147.3 L175.9,147.0 L175.6,146.8 L175.4,146.6 L175.1,146.4 L174.8,146.1 L174.4,145.9 L174.1,145.7 L173.9,145.5 L173.6,145.4 L173.1,145.2 L172.9,145.1 L172.4,144.9 L172.1,144.8 L171.6,144.6 L171.4,144.6 L170.9,144.5 L170.4,144.4 L170.1,144.4 L169.6,144.3 L169.1,144.3 L168.6,144.2 L168.1,144.2 L167.9,144.1 L167.4,143.9 L167.1,143.8 L166.9,143.6 L166.6,143.4 L166.4,143.0 L166.2,142.6 L166.1,142.4 L165.9,141.9 L165.9,141.6 L165.7,141.1 L165.6,140.7 L165.6,140.4 L165.5,139.9 L165.4,139.5 L165.3,139.1 L165.2,138.6 L165.1,138.2 L165.1,137.9 L165.0,137.4 L164.9,136.9 L164.9,136.6 L164.8,136.1 L164.7,135.6 L164.6,135.1 L164.6,134.9 L164.5,134.4 L164.5,133.9 L164.4,133.4 L164.4,132.9 L164.5,132.4 L164.5,131.9 L164.6,131.6 L164.9,131.1 L165.0,130.9 L165.3,130.6 L165.5,130.4 L165.8,130.1 L166.1,129.9 L166.4,129.7 L166.6,129.5 L166.9,129.4 L167.3,129.1 L167.6,129.0 L167.9,128.8 L168.2,128.6 L168.6,128.4 L168.9,128.3 L169.2,128.1 L169.6,127.9 L169.9,127.8 L170.3,127.6 L170.6,127.5 L170.9,127.4 L171.4,127.2 L171.6,127.1 L172.1,126.9 L172.4,126.8 L172.9,126.7 L173.4,126.6 L173.6,126.6 L174.1,126.5 L174.6,126.5 L175.1,126.5 L175.6,126.5 L176.1,126.5 L176.6,126.4 L177.1,126.4 L177.4,126.3 L177.9,126.3 L178.4,126.2 L178.9,126.1 L179.1,126.1 L179.6,126.0 L180.1,125.9 L180.4,125.8 L180.9,125.7 L181.1,125.6 L181.6,125.5 L182.0,125.4 L182.4,125.2 L182.8,125.1 L183.1,125.0 L183.6,124.9 L183.9,124.8 L184.4,124.7 L184.8,124.6 L185.1,124.6 L185.6,124.5 L186.1,124.5 L186.6,124.5 L187.1,124.5 L187.6,124.5 L188.1,124.5 L188.6,124.5 L189.1,124.5 L189.6,124.5 L190.1,124.5 L190.6,124.6 L191.1,124.6 L191.4,124.6 L191.9,124.7 L192.4,124.8 L192.9,124.8 L193.3,124.9 L193.6,124.9 L194.1,125.0 L194.4,125.1 L194.9,125.3 L195.1,125.4 L195.4,125.6 L195.8,125.9 L196.1,126.1 L196.3,126.4 L196.6,126.6 L196.8,126.9 L197.0,127.1 L197.3,127.4 L197.5,127.6 L197.8,127.9 L198.0,128.1 L198.3,128.4 L198.5,128.6 L198.8,128.9 L199.0,129.1 L199.3,129.4 L199.5,129.6 L199.8,129.9 L200.0,130.1 L200.3,130.4 L200.5,130.6 L200.8,130.9 L201.0,131.1 L201.3,131.4 L201.5,131.6 L201.8,131.9 L202.0,132.1 L202.3,132.4 L202.5,132.6 L202.8,132.9 L203.0,133.1 L203.3,133.4 L203.5,133.6 L203.8,133.9 L204.0,134.1 L204.3,134.4 L204.6,134.6 L204.9,134.9 L205.1,135.1 L205.4,135.3 L205.6,135.5 L205.9,135.7 L206.1,136.0 L206.4,136.2 L206.6,136.4 L206.9,136.6 L207.2,136.9 L207.5,137.1 L207.8,137.4 L208.1,137.6 L208.4,137.8 L208.6,138.0 L208.9,138.2 L209.1,138.4 L209.4,138.6 L209.8,138.9 L210.1,139.1 L210.4,139.3 L210.6,139.5 L210.9,139.7 L211.1,139.9 L211.4,140.1 L211.8,140.4 L212.0,140.6 L212.3,140.9 L212.5,141.1 L212.6,141.4 L212.8,141.9 L212.8,142.4 L212.7,142.9 L212.6,143.2 L212.4,143.6 L212.3,143.9 L212.1,144.1 L211.9,144.4 L211.6,144.8 L211.4,145.1 L211.1,145.4 L210.9,145.6 L210.7,145.9 L210.4,146.1 L210.1,146.4 L209.9,146.6 L209.6,146.8 L209.4,147.0 L209.1,147.2 L208.9,147.4 L208.6,147.6 L208.3,147.9 L207.9,148.1 L207.6,148.3 L207.4,148.5 L207.1,148.6 L206.7,148.9 L206.4,149.0 L206.1,149.2 L205.8,149.4 L205.4,149.6 L205.1,149.7 L204.8,149.9 L204.4,150.1 L204.1,150.2 L203.7,150.4 L203.4,150.5 L203.1,150.6 L202.6,150.8 L202.4,150.9 L201.9,151.0 L201.4,151.1 L201.1,151.1Z M18.9,164.4 L18.6,164.4 L18.1,164.3 L17.6,164.2 L17.4,164.1 L16.9,164.0 L16.5,163.9 L16.1,163.8 L15.6,163.7 L15.1,163.6 L14.9,163.6 L14.4,163.6 L13.9,163.6 L13.4,163.6 L13.1,163.6 L12.6,163.7 L12.1,163.7 L11.6,163.7 L11.1,163.6 L10.9,163.6 L10.4,163.5 L9.9,163.5 L9.4,163.4 L9.1,163.3 L8.6,163.2 L8.1,163.2 L7.8,163.1 L7.4,163.1 L6.9,163.0 L6.4,163.0 L5.9,163.0 L5.4,163.0 L4.9,163.0 L4.4,163.0 L3.9,162.9 L3.4,162.9 L3.1,162.8 L2.6,162.7 L2.4,162.6 L2.0,162.4 L1.6,162.1 L1.4,162.0 L1.1,161.8 L0.8,161.6 L0.4,161.5 L0.1,161.4 L0.1,160.9 L0.0,160.4 L0.0,159.9 L0.0,159.4 L0.0,158.9 L0.0,158.4 L0.0,157.9 L0.0,157.4 L0.0,156.9 L0.0,156.4 L0.0,155.9 L0.0,155.4 L0.0,154.9 L0.0,154.4 L0.0,153.9 L0.0,153.4 L0.0,152.9 L0.0,152.4 L0.0,151.9 L0.0,151.4 L0.0,150.9 L0.0,150.4 L0.0,149.9 L0.0,149.4 L0.0,148.9 L0.0,148.4 L0.0,147.9 L0.0,147.4 L0.0,146.9 L0.0,146.4 L0.0,145.9 L0.0,145.4 L0.0,144.9 L0.0,144.4 L0.0,143.9 L0.0,143.4 L0.0,142.9 L0.0,142.4 L0.0,141.9 L0.0,141.4 L0.0,140.9 L0.0,140.4 L0.0,139.9 L0.0,139.4 L0.0,138.9 L0.0,138.4 L0.0,137.9 L0.0,137.4 L0.0,136.9 L0.0,136.4 L0.0,135.9 L0.1,135.4 L0.1,134.9 L0.1,134.6 L0.6,134.4 L0.9,134.3 L1.2,134.1 L1.5,133.9 L1.7,133.6 L2.0,133.4 L2.3,133.1 L2.5,132.9 L2.8,132.6 L3.1,132.4 L3.4,132.2 L3.6,132.0 L3.9,131.8 L4.1,131.6 L4.4,131.4 L4.8,131.1 L5.1,130.9 L5.4,130.8 L5.7,130.6 L6.1,130.4 L6.4,130.3 L6.7,130.1 L7.1,130.0 L7.4,129.9 L7.9,129.7 L8.3,129.6 L8.6,129.6 L9.1,129.5 L9.6,129.6 L10.0,129.6 L10.4,129.7 L10.8,129.9 L11.1,130.0 L11.4,130.1 L11.9,130.3 L12.1,130.5 L12.4,130.6 L12.9,130.9 L13.1,131.0 L13.4,131.2 L13.7,131.4 L14.1,131.6 L14.4,131.8 L14.6,131.9 L14.9,132.1 L15.3,132.4 L15.6,132.6 L15.9,132.8 L16.1,133.0 L16.4,133.2 L16.7,133.4 L17.0,133.6 L17.3,133.9 L17.6,134.1 L17.9,134.3 L18.1,134.5 L18.4,134.8 L18.6,135.0 L18.9,135.2 L19.1,135.4 L19.4,135.6 L19.7,135.9 L19.9,136.1 L20.2,136.4 L20.5,136.6 L20.7,136.9 L21.0,137.1 L21.2,137.4 L21.5,137.6 L21.7,137.9 L21.9,138.1 L22.1,138.4 L22.4,138.6 L22.6,138.9 L22.9,139.2 L23.1,139.5 L23.4,139.8 L23.6,140.1 L23.9,140.4 L24.1,140.6 L24.3,140.9 L24.5,141.1 L24.7,141.4 L24.9,141.6 L25.1,141.9 L25.4,142.2 L25.6,142.5 L25.9,142.8 L26.1,143.1 L26.3,143.4 L26.4,143.6 L26.6,143.9 L26.9,144.3 L27.0,144.6 L27.1,144.9 L27.3,145.4 L27.4,145.6 L27.5,146.1 L27.6,146.6 L27.6,146.9 L27.7,147.4 L27.7,147.9 L27.7,148.4 L27.7,148.9 L27.6,149.4 L27.6,149.6 L27.6,150.1 L27.5,150.6 L27.4,151.1 L27.4,151.5 L27.3,151.9 L27.2,152.4 L27.1,152.8 L27.1,153.1 L26.9,153.6 L26.9,153.9 L26.7,154.4 L26.6,154.7 L26.5,155.1 L26.4,155.4 L26.2,155.9 L26.1,156.1 L25.9,156.6 L25.8,156.9 L25.6,157.3 L25.5,157.6 L25.4,157.9 L25.1,158.3 L25.0,158.6 L24.8,158.9 L24.6,159.2 L24.4,159.6 L24.2,159.9 L24.0,160.1 L23.9,160.4 L23.6,160.7 L23.4,161.0 L23.1,161.3 L22.9,161.6 L22.7,161.9 L22.5,162.1 L22.2,162.4 L22.0,162.6 L21.7,162.9 L21.4,163.1 L21.2,163.4 L20.9,163.6 L20.6,163.8 L20.4,163.9 L20.0,164.1 L19.6,164.3 L19.1,164.4 L18.9,164.4Z M147.6,159.2 L147.1,159.3 L146.6,159.3 L146.1,159.2 L145.6,159.2 L145.4,159.1 L144.9,159.0 L144.4,158.9 L144.1,158.9 L143.6,158.8 L143.1,158.7 L142.6,158.6 L142.4,158.6 L141.9,158.5 L141.4,158.5 L140.9,158.4 L140.6,158.3 L140.1,158.1 L139.9,158.0 L139.6,157.9 L139.2,157.6 L138.9,157.4 L138.6,157.2 L138.4,156.9 L138.1,156.7 L137.9,156.4 L137.6,156.2 L137.4,155.9 L137.1,155.6 L136.9,155.4 L136.8,155.1 L136.6,154.9 L136.4,154.6 L136.1,154.2 L135.9,153.9 L135.8,153.6 L135.6,153.3 L135.4,152.9 L135.3,152.6 L135.1,152.2 L135.0,151.9 L134.9,151.6 L134.7,151.1 L134.6,150.9 L134.4,150.4 L134.3,150.1 L134.1,149.7 L134.0,149.4 L133.9,149.1 L133.7,148.6 L133.6,148.3 L133.5,147.9 L133.4,147.4 L133.3,147.1 L133.2,146.6 L133.1,146.1 L133.1,145.9 L133.1,145.4 L133.0,144.9 L133.1,144.4 L133.1,143.9 L133.1,143.6 L133.3,143.1 L133.4,142.8 L133.6,142.4 L133.7,142.1 L133.9,141.8 L134.1,141.5 L134.4,141.1 L134.6,140.9 L134.8,140.6 L134.9,140.4 L135.1,140.1 L135.4,139.8 L135.6,139.4 L135.8,139.1 L136.0,138.9 L136.1,138.6 L136.4,138.2 L136.5,137.9 L136.7,137.6 L136.9,137.2 L137.0,136.9 L137.2,136.6 L137.4,136.2 L137.5,135.9 L137.6,135.6 L137.8,135.1 L137.9,134.9 L138.1,134.4 L138.2,134.1 L138.4,133.7 L138.5,133.4 L138.6,133.1 L138.8,132.6 L139.0,132.4 L139.1,132.1 L139.4,131.8 L139.6,131.6 L140.1,131.4 L140.4,131.3 L140.9,131.2 L141.4,131.2 L141.9,131.2 L142.4,131.2 L142.9,131.2 L143.4,131.2 L143.9,131.2 L144.4,131.2 L144.9,131.2 L145.4,131.2 L145.9,131.2 L146.4,131.2 L146.9,131.2 L147.4,131.2 L147.9,131.2 L148.4,131.2 L148.9,131.1 L149.1,131.1 L149.6,131.1 L150.1,131.0 L150.6,131.0 L151.1,130.9 L151.6,130.9 L151.9,130.9 L152.4,130.8 L152.9,130.7 L153.4,130.7 L153.6,130.6 L154.1,130.6 L154.6,130.5 L155.1,130.4 L155.4,130.3 L155.9,130.3 L156.4,130.2 L156.9,130.1 L157.4,130.1 L157.9,130.2 L158.3,130.4 L158.6,130.6 L158.9,130.8 L159.1,131.1 L159.2,131.4 L159.4,131.9 L159.4,132.1 L159.5,132.6 L159.6,133.1 L159.6,133.6 L159.6,133.9 L159.7,134.4 L159.8,134.9 L159.8,135.4 L159.9,135.9 L159.9,136.1 L160.0,136.6 L160.1,137.1 L160.1,137.5 L160.2,137.9 L160.3,138.4 L160.4,138.9 L160.4,139.1 L160.5,139.6 L160.6,140.1 L160.7,140.4 L160.8,140.9 L160.9,141.4 L160.9,141.6 L161.0,142.1 L161.1,142.5 L161.2,142.9 L161.3,143.4 L161.4,143.6 L161.5,144.1 L161.6,144.5 L161.7,144.9 L161.8,145.4 L161.9,145.7 L161.9,146.1 L162.0,146.6 L162.0,147.1 L161.9,147.6 L161.9,147.9 L161.7,148.4 L161.6,148.7 L161.5,149.1 L161.4,149.4 L161.2,149.9 L161.1,150.2 L161.0,150.6 L160.9,151.1 L160.8,151.4 L160.7,151.9 L160.6,152.2 L160.5,152.6 L160.5,153.1 L160.4,153.6 L160.4,153.9 L160.3,154.4 L160.2,154.9 L160.1,155.2 L160.0,155.6 L159.9,155.9 L159.6,156.2 L159.4,156.4 L158.9,156.6 L158.4,156.6 L157.9,156.5 L157.4,156.4 L157.1,156.3 L156.6,156.2 L156.4,156.1 L155.9,156.0 L155.4,155.9 L154.9,155.9 L154.6,155.9 L154.4,155.9 L153.9,155.9 L153.4,156.0 L152.9,156.1 L152.6,156.2 L152.1,156.3 L151.9,156.4 L151.4,156.6 L151.1,156.8 L150.9,156.9 L150.5,157.1 L150.2,157.4 L149.9,157.6 L149.6,157.8 L149.4,158.0 L149.1,158.2 L148.9,158.4 L148.6,158.6 L148.3,158.9 L147.9,159.1 L147.6,159.2Z M252.9,153.9 L252.4,153.9 L251.9,153.9 L251.6,153.9 L251.1,153.8 L250.6,153.8 L250.1,153.7 L249.6,153.7 L249.4,153.6 L248.9,153.5 L248.4,153.4 L248.1,153.4 L247.6,153.2 L247.2,153.1 L246.9,153.0 L246.4,152.9 L246.1,152.8 L245.7,152.6 L245.4,152.5 L245.1,152.4 L244.6,152.2 L244.4,152.0 L244.0,151.9 L243.6,151.7 L243.4,151.5 L243.1,151.4 L242.7,151.1 L242.4,151.0 L242.1,150.8 L241.9,150.6 L241.5,150.4 L241.1,150.1 L240.9,149.9 L240.6,149.8 L240.4,149.6 L240.1,149.4 L239.9,149.1 L239.6,148.9 L239.3,148.6 L239.0,148.4 L238.8,148.1 L238.5,147.9 L238.3,147.6 L238.1,147.4 L237.9,147.1 L237.6,146.8 L237.4,146.4 L237.3,146.1 L237.1,145.6 L237.1,145.4 L237.1,144.9 L237.1,144.4 L237.1,143.9 L237.1,143.6 L237.2,143.1 L237.2,142.6 L237.2,142.1 L237.2,141.6 L237.2,141.1 L237.1,140.6 L237.1,140.1 L237.2,139.6 L237.2,139.1 L237.4,138.7 L237.5,138.4 L237.7,138.1 L237.9,137.8 L238.1,137.5 L238.4,137.2 L238.6,137.0 L238.9,136.7 L239.1,136.5 L239.4,136.3 L239.6,136.1 L239.9,135.9 L240.2,135.6 L240.5,135.4 L240.9,135.2 L241.1,135.0 L241.4,134.9 L241.8,134.6 L242.1,134.5 L242.4,134.4 L242.9,134.1 L243.1,134.0 L243.6,133.9 L243.9,133.8 L244.4,133.6 L244.6,133.6 L245.1,133.4 L245.4,133.4 L245.9,133.3 L246.4,133.2 L246.9,133.1 L247.1,133.1 L247.6,133.1 L248.1,133.1 L248.6,133.1 L249.0,133.1 L249.4,133.2 L249.9,133.2 L250.4,133.3 L250.6,133.4 L251.1,133.5 L251.6,133.6 L251.9,133.7 L252.3,133.9 L252.6,134.0 L252.9,134.1 L253.3,134.4 L253.6,134.5 L253.9,134.7 L254.2,134.9 L254.6,135.1 L254.9,135.3 L255.1,135.4 L255.5,135.6 L255.9,135.9 L256.1,136.0 L256.4,136.2 L256.6,136.4 L257.0,136.6 L257.3,136.9 L257.5,137.1 L257.8,137.4 L258.1,137.6 L258.4,137.8 L258.6,138.0 L258.9,138.1 L259.4,138.3 L259.4,138.6 L259.5,139.1 L259.5,139.6 L259.5,140.1 L259.5,140.6 L259.5,141.1 L259.5,141.6 L259.5,142.1 L259.5,142.6 L259.5,143.1 L259.5,143.6 L259.5,144.1 L259.5,144.6 L259.5,145.1 L259.5,145.6 L259.5,146.1 L259.5,146.6 L259.5,147.1 L259.5,147.6 L259.5,148.1 L259.5,148.6 L259.5,149.1 L259.5,149.6 L259.5,150.1 L259.5,150.6 L259.5,151.1 L259.5,151.6 L259.4,152.1 L259.4,152.6 L259.1,152.8 L258.6,152.8 L258.4,152.9 L257.9,153.0 L257.4,153.1 L257.1,153.2 L256.6,153.3 L256.4,153.4 L255.9,153.5 L255.4,153.6 L255.0,153.6 L254.6,153.7 L254.1,153.8 L253.6,153.8 L253.1,153.9 L252.9,153.9Z M229.9,145.9 L229.4,146.0 L228.9,146.1 L228.4,146.0 L227.9,146.0 L227.5,145.9 L227.1,145.8 L226.8,145.6 L226.4,145.4 L226.1,145.3 L225.9,145.1 L225.6,144.9 L225.3,144.6 L225.1,144.4 L224.9,144.0 L224.7,143.6 L224.6,143.3 L224.6,142.9 L224.6,142.4 L224.7,142.1 L224.9,141.6 L225.0,141.4 L225.2,141.1 L225.4,140.8 L225.6,140.5 L225.9,140.3 L226.1,140.0 L226.4,139.8 L226.6,139.6 L227.0,139.4 L227.4,139.2 L227.6,139.0 L227.9,138.9 L228.4,138.7 L228.6,138.6 L229.1,138.5 L229.6,138.4 L230.1,138.4 L230.6,138.6 L230.9,138.7 L231.2,138.9 L231.4,139.1 L231.6,139.4 L231.9,139.8 L232.0,140.1 L232.1,140.5 L232.2,140.9 L232.3,141.4 L232.4,141.9 L232.4,142.1 L232.4,142.6 L232.4,142.9 L232.3,143.4 L232.2,143.9 L232.1,144.1 L231.9,144.5 L231.6,144.8 L231.4,145.1 L231.1,145.3 L230.9,145.5 L230.6,145.6 L230.1,145.8 L229.9,145.9Z M46.9,159.4 L46.4,159.4 L45.9,159.4 L45.4,159.4 L45.0,159.4 L44.6,159.3 L44.1,159.3 L43.6,159.2 L43.4,159.1 L42.9,159.0 L42.4,158.9 L42.1,158.8 L41.6,158.6 L41.4,158.5 L40.9,158.4 L40.6,158.2 L40.4,158.1 L39.9,157.9 L39.6,157.8 L39.4,157.6 L38.9,157.4 L38.6,157.2 L38.4,157.0 L38.1,156.8 L37.9,156.6 L37.5,156.4 L37.3,156.1 L37.0,155.9 L36.7,155.6 L36.5,155.4 L36.2,155.1 L36.0,154.9 L35.8,154.6 L35.6,154.4 L35.4,154.1 L35.1,153.8 L34.9,153.5 L34.7,153.1 L34.5,152.9 L34.4,152.6 L34.1,152.2 L34.0,151.9 L33.9,151.6 L33.7,151.1 L33.6,150.9 L33.4,150.4 L33.3,150.1 L33.2,149.6 L33.1,149.3 L33.0,148.9 L33.0,148.4 L32.9,147.9 L32.9,147.4 L32.9,147.1 L32.9,146.7 L32.9,146.4 L33.0,145.9 L33.1,145.6 L33.4,145.1 L33.5,144.9 L33.7,144.6 L34.0,144.4 L34.2,144.1 L34.5,143.9 L34.8,143.6 L35.1,143.4 L35.4,143.2 L35.6,143.0 L35.9,142.9 L36.2,142.6 L36.6,142.4 L36.9,142.2 L37.1,142.1 L37.5,141.9 L37.9,141.7 L38.1,141.5 L38.4,141.4 L38.9,141.2 L39.1,141.1 L39.6,140.9 L39.9,140.7 L40.2,140.6 L40.6,140.5 L41.0,140.4 L41.4,140.3 L41.9,140.1 L42.1,140.1 L42.6,140.0 L43.1,139.9 L43.5,139.9 L43.9,139.8 L44.4,139.8 L44.9,139.8 L45.4,139.8 L45.9,139.8 L46.4,139.8 L46.9,139.8 L47.2,139.9 L47.6,139.9 L48.1,140.0 L48.6,140.1 L48.9,140.2 L49.4,140.3 L49.6,140.4 L50.1,140.5 L50.4,140.6 L50.9,140.8 L51.1,140.9 L51.6,141.1 L51.9,141.2 L52.2,141.4 L52.6,141.6 L52.9,141.7 L53.2,141.9 L53.6,142.1 L53.9,142.3 L54.1,142.4 L54.4,142.6 L54.8,142.9 L55.1,143.1 L55.4,143.3 L55.6,143.4 L55.9,143.6 L56.2,143.9 L56.5,144.1 L56.8,144.4 L57.0,144.6 L57.3,144.9 L57.5,145.1 L57.8,145.4 L58.0,145.6 L58.2,145.9 L58.4,146.1 L58.6,146.5 L58.8,146.9 L58.9,147.1 L59.0,147.6 L59.1,148.1 L59.1,148.6 L59.0,149.1 L58.9,149.6 L58.8,149.9 L58.6,150.4 L58.5,150.6 L58.4,151.1 L58.2,151.4 L58.1,151.6 L57.9,152.1 L57.8,152.4 L57.6,152.6 L57.4,153.1 L57.2,153.4 L57.0,153.6 L56.8,153.9 L56.6,154.1 L56.4,154.5 L56.1,154.7 L55.9,155.0 L55.6,155.3 L55.4,155.5 L55.1,155.8 L54.9,156.0 L54.6,156.2 L54.4,156.4 L54.1,156.6 L53.8,156.9 L53.5,157.1 L53.1,157.3 L52.9,157.5 L52.6,157.6 L52.2,157.9 L51.9,158.0 L51.6,158.1 L51.1,158.4 L50.9,158.5 L50.4,158.6 L50.1,158.7 L49.6,158.9 L49.4,158.9 L48.9,159.1 L48.6,159.1 L48.1,159.2 L47.6,159.3 L47.1,159.4 L46.9,159.4Z M125.1,171.7 L124.6,171.8 L124.1,171.8 L123.6,171.8 L123.1,171.8 L122.6,171.7 L122.1,171.7 L121.6,171.7 L121.1,171.7 L120.6,171.6 L120.4,171.6 L119.9,171.6 L119.4,171.5 L118.9,171.5 L118.4,171.5 L117.9,171.5 L117.4,171.5 L116.9,171.5 L116.4,171.5 L115.9,171.5 L115.4,171.5 L114.9,171.5 L114.4,171.5 L113.9,171.5 L113.4,171.5 L112.9,171.5 L112.4,171.4 L111.9,171.4 L111.6,171.3 L111.1,171.2 L110.9,171.1 L110.6,170.9 L110.2,170.6 L109.9,170.4 L109.7,170.1 L109.5,169.9 L109.3,169.6 L109.1,169.4 L108.9,169.1 L108.6,168.7 L108.4,168.4 L108.3,168.1 L108.1,167.7 L108.0,167.4 L107.9,166.9 L107.9,166.6 L107.8,166.1 L107.8,165.6 L107.8,165.1 L107.8,164.6 L107.8,164.1 L107.8,163.6 L107.7,163.1 L107.7,162.6 L107.7,162.1 L107.7,161.6 L107.7,161.1 L107.7,160.6 L107.7,160.1 L107.7,159.6 L107.7,159.1 L107.7,158.6 L107.7,158.1 L107.8,157.6 L107.8,157.1 L107.8,156.6 L107.8,156.1 L107.8,155.6 L107.8,155.1 L107.8,154.6 L107.8,154.1 L107.9,153.6 L107.9,153.4 L107.9,152.9 L108.0,152.4 L108.1,151.9 L108.2,151.6 L108.3,151.1 L108.4,150.9 L108.6,150.4 L108.8,150.1 L108.9,149.9 L109.1,149.6 L109.4,149.2 L109.6,148.9 L109.9,148.6 L110.1,148.4 L110.3,148.1 L110.6,147.9 L110.8,147.6 L111.1,147.4 L111.4,147.2 L111.6,147.0 L111.9,146.8 L112.1,146.6 L112.4,146.4 L112.8,146.1 L113.1,145.9 L113.4,145.8 L113.7,145.6 L114.1,145.4 L114.4,145.3 L114.8,145.1 L115.1,145.0 L115.5,144.9 L115.9,144.8 L116.4,144.6 L116.6,144.6 L117.1,144.5 L117.6,144.4 L117.9,144.4 L118.4,144.3 L118.9,144.3 L119.4,144.3 L119.9,144.3 L120.1,144.4 L120.6,144.4 L121.1,144.5 L121.5,144.6 L121.9,144.7 L122.4,144.8 L122.6,144.9 L123.1,145.1 L123.4,145.2 L123.8,145.4 L124.1,145.5 L124.4,145.7 L124.8,145.9 L125.1,146.1 L125.4,146.3 L125.6,146.4 L125.9,146.6 L126.3,146.9 L126.6,147.1 L126.9,147.4 L127.1,147.6 L127.4,147.8 L127.6,148.1 L127.9,148.4 L128.1,148.6 L128.3,148.9 L128.4,149.1 L128.6,149.4 L128.9,149.9 L129.0,150.1 L129.1,150.4 L129.4,150.9 L129.5,151.1 L129.6,151.4 L129.8,151.9 L129.9,152.1 L130.1,152.6 L130.2,152.9 L130.4,153.2 L130.5,153.6 L130.6,153.9 L130.8,154.4 L130.9,154.6 L131.1,155.1 L131.2,155.4 L131.4,155.7 L131.5,156.1 L131.6,156.5 L131.7,156.9 L131.8,157.4 L131.9,157.6 L131.9,158.1 L132.0,158.6 L132.0,159.1 L132.0,159.6 L131.9,160.1 L131.9,160.5 L131.8,160.9 L131.6,161.4 L131.5,161.6 L131.4,162.0 L131.2,162.4 L131.0,162.6 L130.9,162.9 L130.6,163.3 L130.5,163.6 L130.3,163.9 L130.1,164.3 L130.0,164.6 L129.9,164.9 L129.6,165.4 L129.5,165.6 L129.4,166.0 L129.2,166.4 L129.1,166.6 L128.9,167.1 L128.7,167.4 L128.6,167.6 L128.4,168.0 L128.1,168.4 L128.0,168.6 L127.8,168.9 L127.6,169.2 L127.4,169.6 L127.2,169.9 L127.0,170.1 L126.8,170.4 L126.6,170.6 L126.4,170.9 L126.1,171.2 L125.8,171.4 L125.4,171.6 L125.1,171.7Z M69.9,150.2 L69.4,150.3 L68.9,150.4 L68.4,150.4 L67.9,150.3 L67.4,150.1 L67.1,150.0 L66.8,149.9 L66.5,149.6 L66.2,149.4 L66.0,149.1 L65.8,148.9 L65.6,148.5 L65.5,148.1 L65.4,147.8 L65.3,147.4 L65.2,146.9 L65.3,146.4 L65.4,145.9 L65.5,145.6 L65.6,145.3 L65.9,145.0 L66.1,144.8 L66.6,144.8 L66.9,144.9 L67.3,145.1 L67.6,145.4 L67.8,145.6 L68.1,145.9 L68.4,146.1 L68.6,146.3 L68.9,146.5 L69.1,146.6 L69.6,146.9 L69.9,147.0 L70.4,147.1 L70.6,147.2 L71.1,147.3 L71.4,147.4 L71.7,147.6 L71.9,148.1 L71.7,148.6 L71.6,148.9 L71.4,149.1 L71.1,149.4 L70.9,149.6 L70.5,149.9 L70.1,150.1 L69.9,150.2Z M86.1,173.4 L85.6,173.5 L85.1,173.4 L84.9,173.3 L84.4,173.1 L84.1,172.9 L83.9,172.7 L83.6,172.5 L83.4,172.3 L83.1,172.0 L82.9,171.8 L82.6,171.5 L82.4,171.3 L82.1,171.0 L81.9,170.8 L81.6,170.6 L81.4,170.3 L81.1,170.1 L80.8,169.9 L80.5,169.6 L80.1,169.4 L79.9,169.2 L79.6,169.1 L79.3,168.9 L79.0,168.6 L78.7,168.4 L78.4,168.1 L78.2,167.9 L78.0,167.6 L77.8,167.4 L77.6,167.1 L77.4,166.7 L77.2,166.4 L77.1,166.1 L76.9,165.7 L76.8,165.4 L76.6,165.1 L76.5,164.6 L76.4,164.4 L76.2,163.9 L76.1,163.6 L76.0,163.1 L75.9,162.6 L75.8,162.4 L75.7,161.9 L75.7,161.4 L75.6,161.1 L75.6,160.6 L75.5,160.1 L75.5,159.6 L75.5,159.1 L75.5,158.6 L75.5,158.1 L75.5,157.6 L75.6,157.1 L75.6,156.8 L75.7,156.4 L75.8,155.9 L75.9,155.4 L75.9,155.1 L76.1,154.6 L76.1,154.4 L76.3,153.9 L76.4,153.6 L76.6,153.1 L76.7,152.9 L76.9,152.4 L77.0,152.1 L77.1,151.8 L77.3,151.4 L77.5,151.1 L77.6,150.8 L77.9,150.4 L78.1,150.1 L78.2,149.9 L78.4,149.6 L78.6,149.3 L78.9,149.0 L79.1,148.7 L79.4,148.4 L79.6,148.1 L79.8,147.9 L80.0,147.6 L80.3,147.4 L80.6,147.1 L80.8,146.9 L81.1,146.6 L81.4,146.4 L81.6,146.2 L81.9,146.1 L82.2,145.9 L82.6,145.6 L82.9,145.5 L83.3,145.4 L83.6,145.3 L84.1,145.2 L84.6,145.2 L85.1,145.3 L85.6,145.4 L85.9,145.4 L86.4,145.5 L86.9,145.6 L87.2,145.6 L87.6,145.7 L88.1,145.8 L88.5,145.9 L88.9,145.9 L89.4,146.0 L89.8,146.1 L90.1,146.2 L90.6,146.3 L91.1,146.4 L91.4,146.4 L91.9,146.5 L92.4,146.6 L92.6,146.7 L93.1,146.8 L93.6,146.8 L93.9,146.9 L94.4,147.0 L94.9,147.1 L95.1,147.1 L95.6,147.2 L96.1,147.3 L96.4,147.4 L96.9,147.5 L97.4,147.6 L97.6,147.6 L98.1,147.7 L98.6,147.8 L98.9,147.9 L99.4,148.0 L99.6,148.1 L100.1,148.3 L100.4,148.5 L100.6,148.7 L100.9,148.9 L101.1,149.1 L101.4,149.4 L101.6,149.7 L101.9,150.0 L102.1,150.4 L102.2,150.6 L102.4,150.9 L102.6,151.4 L102.7,151.6 L102.9,152.1 L102.9,152.4 L103.0,152.9 L103.0,153.4 L103.0,153.9 L103.0,154.4 L103.0,154.9 L103.0,155.4 L103.0,155.9 L103.0,156.4 L103.0,156.9 L103.0,157.4 L103.0,157.9 L103.0,158.4 L103.0,158.9 L103.0,159.4 L103.0,159.9 L103.0,160.4 L103.0,160.9 L103.0,161.4 L103.0,161.9 L103.0,162.4 L103.0,162.9 L103.0,163.4 L103.0,163.9 L103.0,164.4 L102.9,164.9 L102.9,165.3 L102.8,165.6 L102.6,166.1 L102.5,166.4 L102.3,166.6 L102.0,166.9 L101.7,167.1 L101.4,167.3 L101.0,167.4 L100.6,167.5 L100.1,167.5 L99.6,167.6 L99.3,167.6 L98.9,167.7 L98.4,167.7 L97.9,167.8 L97.5,167.9 L97.1,168.0 L96.6,168.1 L96.3,168.1 L95.9,168.2 L95.4,168.4 L95.1,168.5 L94.6,168.6 L94.4,168.7 L93.9,168.9 L93.6,168.9 L93.1,169.1 L92.9,169.2 L92.5,169.4 L92.1,169.5 L91.9,169.6 L91.4,169.9 L91.1,170.0 L90.9,170.1 L90.5,170.4 L90.1,170.6 L89.9,170.7 L89.6,170.9 L89.3,171.1 L89.0,171.4 L88.7,171.6 L88.4,171.9 L88.1,172.1 L87.9,172.3 L87.6,172.5 L87.4,172.7 L87.1,172.9 L86.8,173.1 L86.4,173.3 L86.1,173.4Z M168.6,158.4 L168.1,158.4 L167.6,158.4 L167.4,158.4 L166.9,158.3 L166.5,158.1 L166.1,157.9 L165.9,157.7 L165.6,157.4 L165.4,157.1 L165.3,156.9 L165.2,156.4 L165.1,156.0 L165.1,155.6 L165.1,155.1 L165.1,154.6 L165.1,154.3 L165.2,153.9 L165.3,153.4 L165.3,152.9 L165.4,152.6 L165.5,152.1 L165.6,151.7 L165.7,151.4 L165.9,151.0 L166.1,150.6 L166.2,150.4 L166.4,150.1 L166.6,149.9 L166.9,149.6 L167.4,149.4 L167.6,149.3 L168.1,149.1 L168.4,149.1 L168.9,149.1 L169.4,149.1 L169.6,149.2 L170.1,149.3 L170.6,149.4 L170.9,149.5 L171.2,149.6 L171.6,149.8 L171.9,149.9 L172.2,150.1 L172.5,150.4 L172.8,150.6 L173.1,150.9 L173.4,151.1 L173.6,151.4 L173.8,151.6 L174.0,151.9 L174.2,152.1 L174.4,152.6 L174.5,152.9 L174.5,153.4 L174.5,153.9 L174.4,154.3 L174.2,154.6 L174.1,154.9 L173.9,155.3 L173.6,155.6 L173.4,155.9 L173.1,156.1 L172.9,156.4 L172.6,156.6 L172.4,156.8 L172.1,157.0 L171.9,157.2 L171.5,157.4 L171.1,157.6 L170.9,157.7 L170.5,157.9 L170.1,158.0 L169.9,158.1 L169.4,158.3 L168.9,158.3 L168.6,158.4Z M235.4,184.6 L234.9,184.7 L234.4,184.8 L233.9,184.8 L233.4,184.8 L232.9,184.8 L232.4,184.7 L231.9,184.6 L231.6,184.6 L231.1,184.4 L230.9,184.4 L230.4,184.2 L230.1,184.0 L229.9,183.9 L229.5,183.6 L229.2,183.4 L229.0,183.1 L228.7,182.9 L228.5,182.6 L228.2,182.4 L228.0,182.1 L227.7,181.9 L227.5,181.6 L227.2,181.4 L227.0,181.1 L226.7,180.9 L226.5,180.6 L226.2,180.4 L225.9,180.1 L225.6,179.9 L225.4,179.7 L225.1,179.6 L224.9,179.4 L224.5,179.1 L224.1,178.9 L223.9,178.8 L223.5,178.6 L223.1,178.4 L222.9,178.3 L222.4,178.1 L222.1,178.1 L221.6,177.9 L221.4,177.8 L220.9,177.7 L220.6,177.6 L220.1,177.5 L219.6,177.4 L219.2,177.4 L218.9,177.3 L218.4,177.3 L217.9,177.2 L217.4,177.2 L217.1,177.1 L216.6,177.0 L216.4,176.9 L215.9,176.6 L215.6,176.4 L215.4,176.2 L215.1,175.9 L214.9,175.7 L214.6,175.4 L214.4,175.1 L214.3,174.9 L214.1,174.6 L213.9,174.3 L213.6,173.9 L213.5,173.6 L213.3,173.4 L213.1,173.0 L213.0,172.6 L212.9,172.4 L212.7,171.9 L212.6,171.5 L212.6,171.1 L212.5,170.6 L212.4,170.1 L212.4,169.8 L212.3,169.4 L212.3,168.9 L212.2,168.4 L212.1,167.9 L212.1,167.6 L212.0,167.1 L212.0,166.6 L211.9,166.1 L211.9,165.9 L211.8,165.4 L211.7,164.9 L211.7,164.4 L211.7,163.9 L211.7,163.4 L211.7,162.9 L211.8,162.4 L211.9,162.0 L212.0,161.6 L212.1,161.2 L212.2,160.9 L212.4,160.5 L212.5,160.1 L212.6,159.9 L212.9,159.4 L213.0,159.1 L213.1,158.9 L213.4,158.5 L213.6,158.1 L213.7,157.9 L213.9,157.6 L214.1,157.3 L214.4,157.0 L214.6,156.6 L214.8,156.4 L215.0,156.1 L215.2,155.9 L215.4,155.6 L215.6,155.4 L215.9,155.1 L216.1,154.9 L216.4,154.6 L216.6,154.4 L216.9,154.1 L217.2,153.9 L217.5,153.6 L217.8,153.4 L218.1,153.1 L218.4,152.9 L218.6,152.7 L218.9,152.5 L219.1,152.3 L219.4,152.1 L219.8,151.9 L220.1,151.6 L220.4,151.5 L220.6,151.3 L220.9,151.1 L221.4,150.9 L221.6,150.7 L221.9,150.6 L222.4,150.4 L222.6,150.3 L223.1,150.2 L223.4,150.1 L223.9,150.1 L224.4,150.1 L224.6,150.2 L225.1,150.3 L225.5,150.4 L225.9,150.5 L226.4,150.6 L226.6,150.7 L227.1,150.8 L227.6,150.9 L227.9,150.9 L228.4,150.9 L228.9,150.9 L229.4,150.9 L229.6,150.9 L230.1,150.8 L230.6,150.7 L230.9,150.6 L231.4,150.5 L231.7,150.4 L232.1,150.3 L232.6,150.2 L233.1,150.2 L233.6,150.2 L234.0,150.4 L234.4,150.6 L234.6,150.8 L234.9,151.0 L235.1,151.2 L235.4,151.4 L235.6,151.7 L235.9,151.9 L236.2,152.1 L236.4,152.4 L236.7,152.6 L237.0,152.9 L237.3,153.1 L237.6,153.4 L237.9,153.6 L238.1,153.8 L238.4,154.0 L238.6,154.2 L238.9,154.4 L239.2,154.6 L239.6,154.9 L239.9,155.0 L240.1,155.2 L240.4,155.4 L240.8,155.6 L241.1,155.8 L241.4,155.9 L241.8,156.1 L242.1,156.3 L242.4,156.4 L242.8,156.6 L243.1,156.8 L243.4,156.9 L243.9,157.1 L244.1,157.1 L244.6,157.3 L244.9,157.4 L245.4,157.6 L245.6,157.6 L246.1,157.8 L246.4,157.9 L246.9,158.0 L247.4,158.1 L247.6,158.2 L248.1,158.3 L248.6,158.4 L248.9,158.4 L249.4,158.5 L249.9,158.5 L250.4,158.6 L250.6,158.6 L251.1,158.7 L251.6,158.7 L252.1,158.7 L252.6,158.7 L253.1,158.7 L253.6,158.6 L253.9,158.6 L254.4,158.5 L254.9,158.5 L255.4,158.4 L255.6,158.4 L256.1,158.3 L256.6,158.2 L256.9,158.1 L257.4,158.0 L257.9,157.9 L258.1,157.8 L258.6,157.8 L259.1,157.7 L259.4,157.9 L259.4,158.4 L259.5,158.9 L259.5,159.4 L259.5,159.9 L259.5,160.4 L259.5,160.9 L259.5,161.4 L259.5,161.9 L259.5,162.4 L259.5,162.9 L259.5,163.4 L259.5,163.9 L259.5,164.4 L259.5,164.9 L259.5,165.4 L259.5,165.9 L259.5,166.4 L259.5,166.9 L259.5,167.4 L259.5,167.9 L259.5,168.4 L259.5,168.9 L259.5,169.4 L259.5,169.9 L259.5,170.4 L259.5,170.9 L259.5,171.4 L259.5,171.9 L259.5,172.4 L259.5,172.9 L259.5,173.4 L259.5,173.9 L259.5,174.4 L259.5,174.9 L259.5,175.4 L259.4,175.9 L259.4,176.4 L259.1,176.4 L258.7,176.6 L258.4,176.8 L258.1,177.0 L257.9,177.2 L257.6,177.4 L257.4,177.7 L257.1,177.9 L256.8,178.1 L256.5,178.4 L256.2,178.6 L255.9,178.9 L255.6,179.1 L255.4,179.3 L255.1,179.5 L254.9,179.7 L254.6,179.9 L254.2,180.1 L253.9,180.4 L253.6,180.5 L253.4,180.7 L253.0,180.9 L252.6,181.1 L252.4,181.2 L251.9,181.4 L251.6,181.5 L251.1,181.6 L250.9,181.6 L250.4,181.7 L249.9,181.7 L249.4,181.7 L248.9,181.8 L248.4,181.8 L247.9,181.8 L247.4,181.8 L246.9,181.9 L246.6,181.9 L246.1,182.0 L245.6,182.0 L245.1,182.1 L244.9,182.2 L244.4,182.2 L243.9,182.3 L243.6,182.4 L243.1,182.5 L242.6,182.6 L242.4,182.6 L241.9,182.7 L241.4,182.9 L241.1,182.9 L240.6,183.0 L240.3,183.1 L239.9,183.2 L239.4,183.4 L239.1,183.4 L238.6,183.6 L238.4,183.7 L237.9,183.8 L237.6,183.9 L237.1,184.1 L236.9,184.2 L236.4,184.3 L236.1,184.4 L235.6,184.6 L235.4,184.6Z M184.9,187.2 L184.4,187.1 L184.1,187.1 L183.8,186.9 L183.4,186.6 L183.2,186.4 L183.0,186.1 L182.8,185.9 L182.6,185.6 L182.4,185.3 L182.1,185.0 L181.9,184.6 L181.7,184.4 L181.5,184.1 L181.4,183.9 L181.1,183.6 L180.9,183.2 L180.6,182.9 L180.4,182.6 L180.3,182.4 L180.1,182.1 L179.9,181.9 L179.6,181.5 L179.4,181.2 L179.1,180.9 L178.9,180.6 L178.7,180.4 L178.5,180.1 L178.3,179.9 L178.1,179.6 L177.9,179.3 L177.6,179.0 L177.4,178.7 L177.1,178.4 L176.9,178.1 L176.7,177.9 L176.4,177.6 L176.2,177.4 L176.0,177.1 L175.8,176.9 L175.6,176.6 L175.4,176.4 L175.1,176.1 L174.9,175.8 L174.6,175.6 L174.4,175.3 L174.1,175.0 L173.9,174.8 L173.6,174.5 L173.4,174.3 L173.1,174.0 L172.9,173.8 L172.6,173.5 L172.4,173.3 L172.1,173.0 L171.9,172.8 L171.6,172.5 L171.4,172.3 L171.1,172.0 L170.9,171.8 L170.6,171.5 L170.4,171.3 L170.1,171.0 L169.9,170.8 L169.6,170.5 L169.4,170.3 L169.1,170.1 L168.9,169.9 L168.6,169.6 L168.3,169.4 L168.0,169.1 L167.8,168.9 L167.5,168.6 L167.2,168.4 L167.0,168.1 L166.8,167.9 L166.6,167.5 L166.5,167.1 L166.4,166.6 L166.4,166.4 L166.4,166.1 L166.5,165.6 L166.6,165.1 L166.7,164.9 L166.9,164.6 L167.1,164.2 L167.4,164.0 L167.6,163.8 L167.9,163.6 L168.4,163.4 L168.6,163.3 L169.1,163.2 L169.5,163.1 L169.9,163.0 L170.4,162.9 L170.6,162.9 L171.1,162.7 L171.4,162.6 L171.9,162.4 L172.1,162.3 L172.6,162.1 L172.9,162.0 L173.1,161.9 L173.6,161.6 L173.9,161.4 L174.1,161.3 L174.4,161.1 L174.7,160.9 L175.0,160.6 L175.3,160.4 L175.6,160.1 L175.9,159.9 L176.1,159.7 L176.4,159.4 L176.6,159.2 L176.9,158.9 L177.1,158.6 L177.4,158.4 L177.6,158.1 L177.8,157.9 L177.9,157.6 L178.1,157.4 L178.4,157.1 L178.6,156.8 L178.9,156.5 L179.1,156.3 L179.4,156.1 L179.7,155.9 L180.1,155.7 L180.5,155.6 L180.9,155.6 L181.4,155.5 L181.9,155.5 L182.4,155.5 L182.9,155.5 L183.4,155.5 L183.9,155.5 L184.4,155.5 L184.9,155.5 L185.4,155.5 L185.9,155.5 L186.4,155.5 L186.9,155.5 L187.4,155.5 L187.9,155.5 L188.4,155.5 L188.9,155.5 L189.4,155.5 L189.9,155.5 L190.4,155.5 L190.9,155.5 L191.4,155.5 L191.9,155.5 L192.4,155.5 L192.9,155.5 L193.4,155.5 L193.9,155.6 L194.4,155.6 L194.7,155.6 L195.1,155.7 L195.6,155.7 L196.1,155.7 L196.6,155.8 L197.1,155.8 L197.6,155.8 L198.1,155.9 L198.4,155.9 L198.9,156.0 L199.4,156.0 L199.7,156.1 L200.1,156.2 L200.4,156.4 L200.9,156.6 L201.1,156.7 L201.4,156.9 L201.7,157.1 L202.1,157.4 L202.4,157.6 L202.6,157.9 L202.9,158.1 L203.1,158.3 L203.4,158.6 L203.6,158.8 L203.9,159.1 L204.1,159.4 L204.3,159.6 L204.5,159.9 L204.7,160.1 L204.9,160.4 L205.1,160.7 L205.4,161.0 L205.6,161.4 L205.8,161.6 L205.9,161.9 L206.1,162.3 L206.3,162.6 L206.4,162.9 L206.5,163.4 L206.6,163.7 L206.7,164.1 L206.8,164.6 L206.9,165.0 L206.9,165.4 L207.0,165.9 L207.1,166.4 L207.1,166.8 L207.2,167.1 L207.2,167.6 L207.3,168.1 L207.4,168.5 L207.4,168.9 L207.5,169.4 L207.5,169.9 L207.6,170.4 L207.6,170.6 L207.7,171.1 L207.7,171.6 L207.8,172.1 L207.8,172.6 L207.8,173.1 L207.7,173.6 L207.6,174.1 L207.6,174.4 L207.4,174.9 L207.4,175.1 L207.2,175.6 L207.1,175.9 L206.9,176.3 L206.7,176.6 L206.6,176.9 L206.4,177.3 L206.2,177.6 L206.1,177.9 L205.9,178.2 L205.6,178.6 L205.4,178.9 L205.3,179.1 L205.1,179.4 L204.9,179.7 L204.6,180.0 L204.4,180.3 L204.1,180.6 L203.9,180.9 L203.7,181.1 L203.4,181.4 L203.2,181.6 L202.9,181.9 L202.7,182.1 L202.4,182.4 L202.1,182.6 L201.9,182.8 L201.6,183.0 L201.4,183.2 L201.1,183.4 L200.8,183.6 L200.4,183.9 L200.1,184.1 L199.9,184.2 L199.6,184.4 L199.2,184.6 L198.9,184.8 L198.6,185.0 L198.3,185.1 L197.9,185.3 L197.6,185.4 L197.1,185.6 L196.6,185.6 L196.1,185.6 L195.6,185.4 L195.4,185.3 L195.0,185.1 L194.6,184.9 L194.4,184.7 L194.1,184.6 L193.7,184.4 L193.4,184.2 L193.1,184.1 L192.6,184.0 L192.1,183.9 L191.9,183.9 L191.4,183.8 L190.9,183.8 L190.4,183.9 L190.1,183.9 L189.6,184.0 L189.3,184.1 L188.9,184.3 L188.6,184.4 L188.3,184.6 L187.9,184.9 L187.6,185.1 L187.4,185.3 L187.1,185.5 L186.9,185.8 L186.6,186.0 L186.4,186.3 L186.1,186.5 L185.9,186.7 L185.6,186.9 L185.1,187.1 L184.9,187.2Z M155.9,164.7 L155.4,164.8 L154.9,164.8 L154.4,164.7 L154.1,164.5 L153.8,164.4 L153.5,164.1 L153.2,163.9 L153.0,163.6 L152.8,163.4 L152.6,162.9 L152.6,162.6 L152.6,162.1 L152.7,161.9 L152.9,161.5 L153.1,161.3 L153.4,161.1 L153.9,160.9 L154.1,160.9 L154.6,160.9 L154.9,160.9 L155.4,161.0 L155.7,161.1 L156.1,161.4 L156.3,161.6 L156.5,161.9 L156.7,162.1 L156.9,162.6 L156.9,162.9 L156.9,163.4 L156.8,163.6 L156.6,164.0 L156.4,164.3 L156.1,164.5 L155.9,164.7Z M149.4,171.4 L148.9,171.6 L148.4,171.6 L147.9,171.5 L147.4,171.4 L147.1,171.4 L146.6,171.2 L146.3,171.1 L145.9,171.0 L145.5,170.9 L145.1,170.7 L144.8,170.6 L144.4,170.5 L144.0,170.4 L143.6,170.2 L143.3,170.1 L142.9,170.0 L142.6,169.9 L142.1,169.7 L141.9,169.6 L141.4,169.4 L141.1,169.3 L140.6,169.2 L140.4,169.1 L139.9,168.9 L139.6,168.8 L139.1,168.6 L138.9,168.5 L138.4,168.4 L138.1,168.3 L137.7,168.1 L137.4,168.0 L137.1,167.9 L136.6,167.7 L136.4,167.6 L136.0,167.4 L135.6,167.1 L135.4,166.9 L135.2,166.6 L135.1,166.4 L135.0,165.9 L135.1,165.4 L135.1,165.1 L135.4,164.7 L135.6,164.4 L135.8,164.1 L136.0,163.9 L136.4,163.6 L136.6,163.5 L136.9,163.4 L137.4,163.2 L137.8,163.1 L138.1,163.1 L138.6,163.1 L139.1,163.1 L139.4,163.1 L139.9,163.2 L140.4,163.2 L140.9,163.3 L141.4,163.3 L141.8,163.4 L142.1,163.4 L142.6,163.5 L143.1,163.6 L143.4,163.6 L143.9,163.7 L144.4,163.8 L144.6,163.9 L145.1,164.0 L145.6,164.1 L145.9,164.2 L146.4,164.4 L146.6,164.5 L146.9,164.6 L147.4,164.9 L147.6,165.1 L147.9,165.3 L148.1,165.5 L148.4,165.7 L148.6,166.0 L148.9,166.2 L149.1,166.5 L149.4,166.7 L149.6,167.0 L149.9,167.3 L150.1,167.5 L150.4,167.8 L150.6,168.1 L150.8,168.4 L150.9,168.6 L151.1,169.1 L151.0,169.6 L150.9,170.1 L150.7,170.4 L150.5,170.6 L150.3,170.9 L150.0,171.1 L149.6,171.3 L149.4,171.4Z M7.4,177.1 L6.9,177.2 L6.4,177.2 L5.9,177.2 L5.4,177.2 L4.9,177.2 L4.4,177.2 L3.9,177.2 L3.4,177.2 L2.9,177.2 L2.4,177.2 L1.9,177.1 L1.6,177.1 L1.1,177.1 L0.6,177.0 L0.1,177.0 L0.1,176.6 L0.0,176.1 L0.0,175.6 L0.0,175.1 L0.0,174.6 L0.0,174.1 L0.0,173.6 L0.0,173.1 L0.0,172.6 L0.0,172.1 L0.0,171.6 L0.0,171.1 L0.0,170.6 L0.0,170.1 L0.0,169.6 L0.0,169.1 L0.0,168.6 L0.1,168.1 L0.1,167.9 L0.6,167.9 L1.1,167.8 L1.6,167.8 L2.1,167.8 L2.6,167.8 L3.1,167.8 L3.6,167.8 L4.1,167.8 L4.6,167.8 L5.1,167.8 L5.6,167.8 L6.1,167.8 L6.6,167.9 L6.9,167.9 L7.4,168.0 L7.6,168.1 L8.0,168.4 L8.3,168.6 L8.6,168.9 L8.8,169.1 L8.9,169.4 L9.1,169.8 L9.3,170.1 L9.4,170.4 L9.6,170.7 L9.9,171.1 L10.0,171.4 L10.2,171.6 L10.4,171.9 L10.7,172.1 L10.9,172.4 L11.2,172.6 L11.6,172.9 L11.9,173.1 L12.1,173.3 L12.4,173.4 L12.6,173.6 L13.0,173.9 L13.2,174.1 L13.4,174.6 L13.4,174.7 L13.2,175.1 L13.1,175.4 L12.8,175.6 L12.4,175.9 L12.1,176.0 L11.8,176.1 L11.4,176.3 L11.1,176.4 L10.6,176.5 L10.3,176.6 L9.9,176.7 L9.4,176.8 L9.1,176.9 L8.6,177.0 L8.1,177.0 L7.6,177.1 L7.4,177.1Z M57.6,179.2 L57.1,179.3 L56.6,179.3 L56.1,179.3 L55.6,179.3 L55.1,179.2 L54.6,179.1 L54.4,179.1 L53.9,178.9 L53.6,178.8 L53.2,178.6 L52.9,178.5 L52.6,178.3 L52.3,178.1 L52.0,177.9 L51.7,177.6 L51.5,177.4 L51.3,177.1 L51.1,176.8 L50.9,176.4 L50.8,176.1 L50.7,175.6 L50.6,175.1 L50.7,174.6 L50.7,174.1 L50.9,173.7 L51.0,173.4 L51.1,173.1 L51.4,172.8 L51.6,172.4 L51.9,172.2 L52.1,172.0 L52.4,171.8 L52.6,171.6 L53.0,171.4 L53.4,171.2 L53.6,171.1 L54.1,170.9 L54.4,170.8 L54.9,170.7 L55.4,170.6 L55.6,170.6 L56.1,170.6 L56.6,170.6 L56.9,170.7 L57.4,170.7 L57.8,170.9 L58.1,171.0 L58.5,171.1 L58.9,171.3 L59.1,171.4 L59.4,171.6 L59.8,171.9 L60.1,172.1 L60.3,172.4 L60.5,172.6 L60.7,172.9 L60.9,173.1 L61.1,173.6 L61.2,173.9 L61.3,174.4 L61.4,174.9 L61.3,175.4 L61.3,175.9 L61.1,176.3 L61.0,176.6 L60.9,176.9 L60.6,177.2 L60.4,177.6 L60.1,177.8 L59.9,178.0 L59.6,178.2 L59.4,178.4 L59.0,178.6 L58.6,178.8 L58.4,178.9 L57.9,179.1 L57.6,179.2Z M169.6,198.6 L169.1,198.7 L168.6,198.7 L168.1,198.7 L167.6,198.7 L167.1,198.7 L166.6,198.7 L166.1,198.7 L165.6,198.7 L165.3,198.6 L164.9,198.6 L164.4,198.6 L163.9,198.5 L163.4,198.5 L162.9,198.5 L162.4,198.4 L161.9,198.4 L161.6,198.4 L161.1,198.3 L160.6,198.2 L160.1,198.2 L159.6,198.1 L159.4,198.1 L158.9,198.0 L158.4,198.0 L157.9,197.9 L157.6,197.8 L157.1,197.8 L156.6,197.7 L156.3,197.6 L155.9,197.5 L155.4,197.4 L155.0,197.4 L154.6,197.3 L154.1,197.2 L153.9,197.1 L153.4,196.9 L153.1,196.8 L152.8,196.6 L152.4,196.4 L152.1,196.1 L151.9,195.9 L151.7,195.6 L151.5,195.4 L151.4,195.1 L151.1,194.7 L151.0,194.4 L150.9,194.1 L150.6,193.6 L150.5,193.4 L150.4,192.9 L150.3,192.6 L150.1,192.1 L150.1,191.9 L150.0,191.4 L150.0,190.9 L150.0,190.4 L150.1,190.0 L150.2,189.6 L150.4,189.2 L150.5,188.9 L150.6,188.5 L150.7,188.1 L150.9,187.7 L150.9,187.4 L151.0,186.9 L151.1,186.4 L151.1,185.9 L151.1,185.4 L151.0,184.9 L150.9,184.4 L150.9,184.1 L150.8,183.6 L150.7,183.1 L150.6,182.6 L150.6,182.1 L150.7,181.6 L150.8,181.1 L150.9,180.7 L151.0,180.4 L151.1,179.9 L151.2,179.6 L151.4,179.1 L151.5,178.9 L151.6,178.5 L151.8,178.1 L151.9,177.9 L152.1,177.5 L152.4,177.1 L152.6,176.9 L152.7,176.6 L152.9,176.4 L153.1,176.1 L153.4,175.8 L153.6,175.5 L153.9,175.3 L154.1,175.0 L154.4,174.8 L154.6,174.5 L154.9,174.3 L155.1,174.1 L155.4,173.8 L155.6,173.6 L155.9,173.4 L156.3,173.1 L156.6,172.9 L156.9,172.7 L157.1,172.5 L157.4,172.4 L157.8,172.1 L158.1,172.0 L158.4,171.8 L158.8,171.6 L159.1,171.5 L159.4,171.4 L159.9,171.2 L160.1,171.1 L160.6,170.9 L161.0,170.9 L161.4,170.8 L161.9,170.9 L162.1,170.9 L162.6,171.1 L162.9,171.2 L163.2,171.4 L163.6,171.6 L163.9,171.8 L164.1,172.0 L164.4,172.2 L164.6,172.4 L164.9,172.6 L165.2,172.9 L165.5,173.1 L165.8,173.4 L166.1,173.6 L166.3,173.9 L166.6,174.1 L166.9,174.3 L167.1,174.6 L167.4,174.8 L167.6,175.0 L167.9,175.3 L168.1,175.5 L168.4,175.8 L168.6,176.0 L168.9,176.3 L169.1,176.5 L169.4,176.8 L169.6,177.0 L169.9,177.3 L170.1,177.5 L170.4,177.8 L170.6,178.1 L170.9,178.4 L171.1,178.6 L171.3,178.9 L171.5,179.1 L171.8,179.4 L172.0,179.6 L172.2,179.9 L172.4,180.1 L172.6,180.4 L172.9,180.7 L173.1,181.0 L173.4,181.3 L173.6,181.6 L173.8,181.9 L174.0,182.1 L174.2,182.4 L174.4,182.6 L174.6,182.9 L174.9,183.2 L175.1,183.5 L175.4,183.8 L175.6,184.1 L175.8,184.4 L176.0,184.6 L176.2,184.9 L176.4,185.1 L176.6,185.5 L176.9,185.8 L177.1,186.1 L177.3,186.4 L177.5,186.6 L177.6,186.9 L177.9,187.2 L178.1,187.6 L178.3,187.9 L178.5,188.1 L178.7,188.4 L178.9,188.7 L179.1,189.1 L179.3,189.4 L179.4,189.6 L179.6,190.0 L179.7,190.4 L179.9,190.9 L179.9,191.1 L179.9,191.6 L179.9,191.9 L179.8,192.4 L179.6,192.9 L179.5,193.1 L179.4,193.6 L179.2,193.9 L179.1,194.2 L178.9,194.6 L178.8,194.9 L178.6,195.2 L178.4,195.6 L178.2,195.9 L178.1,196.1 L177.9,196.4 L177.6,196.8 L177.4,197.0 L177.1,197.3 L176.9,197.5 L176.6,197.6 L176.1,197.9 L175.9,198.0 L175.4,198.1 L175.1,198.1 L174.6,198.2 L174.1,198.3 L173.6,198.3 L173.2,198.4 L172.9,198.4 L172.4,198.4 L171.9,198.5 L171.4,198.5 L170.9,198.5 L170.4,198.6 L169.9,198.6 L169.6,198.6Z M136.6,187.6 L136.1,187.7 L135.8,187.6 L135.4,187.5 L135.1,187.4 L134.8,187.1 L134.5,186.9 L134.3,186.6 L134.1,186.4 L133.9,186.0 L133.7,185.6 L133.6,185.4 L133.4,184.9 L133.3,184.6 L133.1,184.2 L133.0,183.9 L132.9,183.6 L132.7,183.1 L132.6,182.9 L132.4,182.4 L132.3,182.1 L132.2,181.6 L132.1,181.4 L131.9,180.9 L131.8,180.6 L131.6,180.2 L131.5,179.9 L131.4,179.5 L131.3,179.1 L131.1,178.7 L131.0,178.4 L130.9,178.0 L130.8,177.6 L130.6,177.2 L130.5,176.9 L130.4,176.4 L130.3,176.1 L130.3,175.6 L130.2,175.1 L130.2,174.6 L130.3,174.1 L130.4,173.9 L130.6,173.4 L130.8,173.1 L130.9,172.9 L131.1,172.6 L131.4,172.3 L131.6,172.1 L132.0,171.9 L132.4,171.7 L132.9,171.7 L133.4,171.7 L133.9,171.8 L134.1,171.9 L134.6,172.1 L134.9,172.2 L135.4,172.3 L135.6,172.4 L136.1,172.6 L136.4,172.7 L136.8,172.9 L137.1,173.0 L137.5,173.1 L137.9,173.2 L138.3,173.4 L138.6,173.5 L139.0,173.6 L139.4,173.8 L139.7,173.9 L140.1,174.0 L140.4,174.1 L140.9,174.3 L141.1,174.4 L141.6,174.6 L141.9,174.7 L142.4,174.8 L142.6,174.9 L143.1,175.1 L143.4,175.2 L143.9,175.3 L144.1,175.4 L144.6,175.6 L144.9,175.7 L145.2,175.9 L145.6,176.1 L145.9,176.3 L146.1,176.5 L146.3,176.9 L146.4,177.1 L146.5,177.6 L146.5,178.1 L146.4,178.6 L146.3,178.9 L146.1,179.2 L145.9,179.6 L145.6,179.8 L145.4,180.0 L145.1,180.1 L144.6,180.3 L144.4,180.4 L143.9,180.6 L143.6,180.7 L143.1,180.8 L142.9,180.9 L142.4,181.1 L142.1,181.2 L141.8,181.4 L141.4,181.6 L141.1,181.8 L140.9,181.9 L140.6,182.1 L140.3,182.4 L140.1,182.6 L139.8,182.9 L139.6,183.1 L139.4,183.4 L139.1,183.7 L138.9,184.1 L138.7,184.4 L138.6,184.6 L138.4,185.0 L138.2,185.4 L138.1,185.6 L137.9,186.1 L137.8,186.4 L137.6,186.8 L137.4,187.1 L137.2,187.4 L136.9,187.5 L136.6,187.6Z M77.9,184.1 L77.4,184.2 L76.9,184.2 L76.4,184.2 L76.1,184.1 L75.6,184.0 L75.2,183.9 L74.9,183.8 L74.5,183.6 L74.1,183.5 L73.9,183.4 L73.4,183.1 L73.1,183.0 L72.9,182.9 L72.4,182.6 L72.1,182.4 L71.9,182.2 L71.6,182.0 L71.4,181.8 L71.1,181.6 L70.9,181.2 L70.6,180.9 L70.5,180.6 L70.4,180.4 L70.2,179.9 L70.1,179.6 L70.0,179.1 L69.9,178.6 L69.9,178.1 L69.9,177.6 L70.0,177.1 L70.1,176.6 L70.1,176.4 L70.3,175.9 L70.4,175.6 L70.6,175.1 L70.7,174.9 L70.9,174.5 L71.1,174.1 L71.3,173.9 L71.5,173.6 L71.7,173.4 L72.0,173.1 L72.3,172.9 L72.6,172.7 L72.9,172.5 L73.4,172.4 L73.6,172.3 L74.1,172.3 L74.6,172.4 L74.9,172.4 L75.4,172.5 L75.7,172.6 L76.1,172.8 L76.4,172.9 L76.9,173.1 L77.1,173.2 L77.4,173.4 L77.8,173.6 L78.1,173.8 L78.4,174.0 L78.6,174.2 L78.9,174.4 L79.1,174.7 L79.4,174.9 L79.6,175.2 L79.9,175.5 L80.1,175.8 L80.3,176.1 L80.5,176.4 L80.6,176.6 L80.9,177.0 L81.0,177.4 L81.2,177.6 L81.4,178.1 L81.5,178.4 L81.6,178.9 L81.6,179.1 L81.7,179.6 L81.6,180.0 L81.6,180.4 L81.4,180.9 L81.3,181.1 L81.1,181.5 L80.9,181.9 L80.7,182.1 L80.5,182.4 L80.3,182.6 L80.1,182.9 L79.8,183.1 L79.5,183.4 L79.1,183.6 L78.9,183.8 L78.6,183.9 L78.1,184.1 L77.9,184.1Z M98.4,184.6 L97.9,184.7 L97.4,184.7 L96.9,184.7 L96.4,184.7 L95.9,184.7 L95.5,184.6 L95.1,184.6 L94.6,184.5 L94.3,184.4 L93.9,184.3 L93.5,184.1 L93.1,184.0 L92.9,183.9 L92.4,183.6 L92.1,183.5 L91.9,183.3 L91.6,183.1 L91.2,182.9 L90.9,182.6 L90.6,182.4 L90.4,182.1 L90.1,181.9 L89.9,181.6 L89.7,181.4 L89.5,181.1 L89.4,180.9 L89.1,180.5 L89.0,180.1 L88.9,179.8 L88.8,179.4 L88.8,178.9 L88.8,178.4 L88.9,178.1 L89.1,177.7 L89.3,177.4 L89.5,177.1 L89.7,176.9 L89.9,176.6 L90.1,176.4 L90.4,176.1 L90.7,175.9 L91.0,175.6 L91.3,175.4 L91.6,175.2 L91.9,175.0 L92.1,174.8 L92.5,174.6 L92.9,174.4 L93.1,174.3 L93.4,174.1 L93.9,173.9 L94.1,173.8 L94.5,173.6 L94.9,173.5 L95.2,173.4 L95.6,173.2 L95.9,173.1 L96.4,173.0 L96.8,172.9 L97.1,172.8 L97.6,172.7 L98.0,172.6 L98.4,172.6 L98.9,172.5 L99.4,172.4 L99.9,172.4 L100.1,172.4 L100.6,172.3 L101.1,172.3 L101.6,172.3 L102.1,172.3 L102.4,172.4 L102.9,172.5 L103.3,172.6 L103.6,172.7 L103.9,172.9 L104.2,173.1 L104.5,173.4 L104.7,173.6 L104.9,173.9 L105.1,174.4 L105.1,174.6 L105.2,175.1 L105.2,175.6 L105.2,176.1 L105.1,176.4 L105.0,176.9 L104.9,177.3 L104.8,177.6 L104.6,178.1 L104.5,178.4 L104.4,178.7 L104.2,179.1 L104.1,179.4 L103.9,179.9 L103.8,180.1 L103.6,180.4 L103.4,180.9 L103.3,181.1 L103.1,181.4 L102.9,181.8 L102.7,182.1 L102.5,182.4 L102.3,182.6 L102.1,182.9 L101.9,183.1 L101.6,183.4 L101.3,183.6 L100.9,183.9 L100.6,184.0 L100.4,184.1 L99.9,184.3 L99.6,184.4 L99.1,184.5 L98.6,184.6 L98.4,184.6Z M120.1,196.6 L119.6,196.7 L119.1,196.7 L118.6,196.7 L118.1,196.7 L117.6,196.7 L117.1,196.7 L116.6,196.6 L116.4,196.6 L115.9,196.5 L115.4,196.4 L115.1,196.3 L114.6,196.2 L114.4,196.1 L113.9,195.9 L113.6,195.8 L113.3,195.6 L112.9,195.4 L112.6,195.3 L112.3,195.1 L111.9,194.9 L111.6,194.7 L111.4,194.5 L111.1,194.3 L110.9,194.1 L110.6,193.9 L110.3,193.6 L110.1,193.4 L109.8,193.1 L109.6,192.9 L109.4,192.6 L109.1,192.3 L108.9,192.0 L108.6,191.6 L108.5,191.4 L108.3,191.1 L108.1,190.8 L107.9,190.4 L107.8,190.1 L107.6,189.9 L107.4,189.4 L107.3,189.1 L107.2,188.6 L107.1,188.4 L106.9,187.9 L106.9,187.6 L106.8,187.1 L106.7,186.6 L106.7,186.1 L106.7,185.6 L106.7,185.1 L106.9,184.6 L107.0,184.4 L107.1,184.0 L107.3,183.6 L107.4,183.4 L107.6,182.9 L107.8,182.6 L107.9,182.4 L108.1,181.9 L108.2,181.6 L108.4,181.3 L108.6,180.9 L108.7,180.6 L108.9,180.1 L109.0,179.9 L109.1,179.4 L109.2,179.1 L109.4,178.8 L109.5,178.4 L109.6,178.1 L109.9,177.7 L110.1,177.4 L110.3,177.1 L110.6,176.9 L110.9,176.7 L111.1,176.6 L111.6,176.5 L112.0,176.4 L112.4,176.3 L112.9,176.3 L113.4,176.3 L113.9,176.3 L114.4,176.3 L114.9,176.3 L115.4,176.3 L115.9,176.3 L116.4,176.3 L116.9,176.3 L117.4,176.3 L117.9,176.3 L118.4,176.3 L118.9,176.3 L119.4,176.3 L119.7,176.4 L120.1,176.4 L120.6,176.4 L121.1,176.5 L121.6,176.5 L122.1,176.5 L122.6,176.5 L123.1,176.6 L123.5,176.6 L123.9,176.7 L124.4,176.9 L124.6,177.0 L124.9,177.1 L125.2,177.4 L125.5,177.6 L125.6,177.9 L125.9,178.3 L126.0,178.6 L126.1,178.9 L126.3,179.4 L126.4,179.6 L126.6,180.1 L126.7,180.4 L126.8,180.9 L126.9,181.1 L127.1,181.6 L127.2,181.9 L127.4,182.4 L127.5,182.6 L127.6,183.1 L127.7,183.4 L127.9,183.8 L128.0,184.1 L128.1,184.5 L128.3,184.9 L128.4,185.2 L128.5,185.6 L128.6,185.9 L128.8,186.4 L128.9,186.6 L129.1,187.1 L129.1,187.4 L129.2,187.9 L129.3,188.4 L129.3,188.9 L129.2,189.4 L129.1,189.7 L129.0,190.1 L128.9,190.4 L128.6,190.9 L128.5,191.1 L128.3,191.4 L128.1,191.7 L127.9,192.0 L127.6,192.4 L127.4,192.6 L127.2,192.9 L126.9,193.1 L126.7,193.4 L126.4,193.6 L126.1,193.9 L125.9,194.0 L125.6,194.2 L125.4,194.4 L125.0,194.6 L124.6,194.9 L124.4,195.0 L124.1,195.2 L123.7,195.4 L123.4,195.5 L123.1,195.7 L122.7,195.9 L122.4,196.0 L122.1,196.1 L121.6,196.3 L121.4,196.4 L120.9,196.5 L120.4,196.6 L120.1,196.6Z M14.6,220.1 L14.1,220.1 L13.6,220.1 L13.3,220.1 L12.9,220.1 L12.4,220.0 L11.9,220.0 L11.4,219.9 L11.1,219.9 L10.6,219.8 L10.1,219.7 L9.8,219.6 L9.4,219.5 L8.9,219.4 L8.6,219.3 L8.1,219.1 L7.9,219.0 L7.4,218.9 L7.1,218.7 L6.8,218.6 L6.4,218.4 L6.1,218.3 L5.8,218.1 L5.4,217.9 L5.1,217.8 L4.8,217.6 L4.4,217.4 L4.1,217.2 L3.9,217.0 L3.6,216.9 L3.3,216.6 L3.0,216.4 L2.6,216.1 L2.4,215.9 L2.1,215.7 L1.9,215.5 L1.6,215.3 L1.4,215.1 L1.1,214.9 L0.6,214.7 L0.4,214.6 L0.1,214.4 L0.1,213.9 L0.0,213.4 L0.0,212.9 L0.0,212.4 L0.0,211.9 L0.0,211.4 L0.0,210.9 L0.0,210.4 L0.0,209.9 L0.0,209.4 L0.0,208.9 L0.0,208.4 L0.0,207.9 L0.0,207.4 L0.0,206.9 L0.0,206.4 L0.0,205.9 L0.0,205.4 L0.0,204.9 L0.0,204.4 L0.0,203.9 L0.0,203.4 L0.0,202.9 L0.0,202.4 L0.0,201.9 L0.0,201.4 L0.0,200.9 L0.0,200.4 L0.0,199.9 L0.0,199.4 L0.0,198.9 L0.0,198.4 L0.0,197.9 L0.0,197.4 L0.0,196.9 L0.0,196.4 L0.0,195.9 L0.0,195.4 L0.0,194.9 L0.0,194.4 L0.0,193.9 L0.0,193.4 L0.0,192.9 L0.0,192.4 L0.0,191.9 L0.0,191.4 L0.0,190.9 L0.0,190.4 L0.0,189.9 L0.0,189.4 L0.0,188.9 L0.0,188.4 L0.0,187.9 L0.0,187.4 L0.0,186.9 L0.0,186.4 L0.1,185.9 L0.1,185.4 L0.5,185.4 L0.9,185.2 L1.1,185.1 L1.4,184.9 L1.7,184.6 L2.0,184.4 L2.3,184.1 L2.6,183.9 L2.9,183.7 L3.1,183.5 L3.4,183.3 L3.7,183.1 L4.1,182.9 L4.4,182.7 L4.6,182.6 L5.1,182.4 L5.4,182.3 L5.9,182.2 L6.1,182.1 L6.6,182.0 L7.1,182.0 L7.6,181.9 L8.0,181.9 L8.4,181.8 L8.9,181.8 L9.4,181.7 L9.6,181.6 L10.1,181.5 L10.6,181.4 L10.9,181.3 L11.4,181.2 L11.7,181.1 L12.1,181.0 L12.5,180.9 L12.9,180.8 L13.3,180.6 L13.6,180.5 L14.1,180.4 L14.4,180.3 L14.9,180.2 L15.4,180.1 L15.6,180.1 L16.1,180.1 L16.6,180.1 L16.9,180.1 L17.4,180.2 L17.9,180.3 L18.2,180.4 L18.6,180.5 L19.1,180.6 L19.4,180.7 L19.9,180.9 L20.1,181.0 L20.6,181.1 L20.9,181.3 L21.2,181.4 L21.6,181.6 L21.9,181.7 L22.2,181.9 L22.6,182.1 L22.9,182.2 L23.2,182.4 L23.6,182.6 L23.9,182.8 L24.1,183.0 L24.4,183.1 L24.7,183.4 L25.0,183.6 L25.3,183.9 L25.6,184.1 L25.9,184.3 L26.1,184.6 L26.4,184.8 L26.6,185.1 L26.9,185.4 L27.0,185.6 L27.2,185.9 L27.4,186.4 L27.4,186.6 L27.4,187.1 L27.4,187.6 L27.3,187.9 L27.2,188.4 L27.1,188.7 L27.0,189.1 L26.9,189.5 L26.7,189.9 L26.6,190.2 L26.5,190.6 L26.4,191.0 L26.3,191.4 L26.1,191.8 L26.0,192.1 L25.9,192.5 L25.8,192.9 L25.6,193.3 L25.5,193.6 L25.4,194.0 L25.3,194.4 L25.1,194.8 L25.0,195.1 L24.9,195.6 L24.8,195.9 L24.7,196.4 L24.6,196.6 L24.4,197.1 L24.4,197.4 L24.2,197.9 L24.1,198.2 L24.0,198.6 L23.9,199.0 L23.8,199.4 L23.6,199.8 L23.5,200.1 L23.4,200.6 L23.3,200.9 L23.2,201.4 L23.1,201.6 L23.0,202.1 L22.9,202.5 L22.8,202.9 L22.6,203.4 L22.6,203.6 L22.4,204.1 L22.4,204.4 L22.2,204.9 L22.1,205.3 L22.0,205.6 L21.9,206.1 L21.8,206.4 L21.7,206.9 L21.6,207.2 L21.5,207.6 L21.4,208.1 L21.3,208.4 L21.2,208.9 L21.1,209.1 L21.0,209.6 L20.9,210.0 L20.8,210.4 L20.7,210.9 L20.6,211.1 L20.5,211.6 L20.4,212.1 L20.3,212.4 L20.2,212.9 L20.1,213.3 L20.0,213.6 L19.9,214.1 L19.9,214.4 L19.8,214.9 L19.6,215.4 L19.6,215.6 L19.5,216.1 L19.4,216.6 L19.3,216.9 L19.2,217.4 L19.1,217.6 L18.9,218.1 L18.8,218.4 L18.6,218.7 L18.4,219.0 L18.1,219.3 L17.9,219.4 L17.5,219.6 L17.1,219.8 L16.7,219.9 L16.4,219.9 L15.9,220.0 L15.4,220.1 L14.9,220.1 L14.6,220.1Z M220.9,196.2 L220.4,196.2 L219.9,196.3 L219.4,196.3 L218.9,196.3 L218.4,196.2 L217.9,196.1 L217.6,196.1 L217.1,195.9 L216.9,195.8 L216.4,195.6 L216.1,195.5 L215.9,195.3 L215.5,195.1 L215.2,194.9 L214.9,194.6 L214.6,194.4 L214.4,194.2 L214.1,193.9 L213.9,193.7 L213.6,193.4 L213.4,193.1 L213.2,192.9 L213.1,192.6 L212.9,192.3 L212.6,191.9 L212.5,191.6 L212.4,191.3 L212.2,190.9 L212.1,190.5 L212.0,190.1 L211.9,189.6 L211.9,189.4 L211.8,188.9 L211.8,188.4 L211.8,187.9 L211.8,187.4 L211.8,186.9 L211.9,186.6 L212.0,186.1 L212.1,185.6 L212.2,185.4 L212.4,184.9 L212.5,184.6 L212.6,184.3 L212.9,184.0 L213.1,183.7 L213.4,183.4 L213.6,183.2 L213.9,183.1 L214.2,182.9 L214.6,182.7 L214.9,182.6 L215.4,182.4 L215.6,182.4 L216.1,182.3 L216.6,182.2 L217.0,182.1 L217.4,182.1 L217.9,182.1 L218.2,182.1 L218.6,182.2 L219.1,182.2 L219.6,182.4 L219.9,182.4 L220.4,182.6 L220.6,182.6 L221.1,182.8 L221.4,182.9 L221.7,183.1 L222.1,183.3 L222.4,183.5 L222.6,183.6 L223.0,183.9 L223.3,184.1 L223.6,184.4 L223.9,184.6 L224.1,184.8 L224.4,185.1 L224.6,185.4 L224.8,185.6 L225.0,185.9 L225.2,186.1 L225.4,186.4 L225.6,186.8 L225.8,187.1 L226.0,187.4 L226.1,187.6 L226.4,188.1 L226.5,188.4 L226.6,188.9 L226.7,189.1 L226.8,189.6 L226.8,190.1 L226.7,190.6 L226.6,191.1 L226.5,191.4 L226.4,191.8 L226.2,192.1 L226.1,192.4 L225.9,192.7 L225.6,193.1 L225.4,193.4 L225.2,193.6 L224.9,193.9 L224.7,194.1 L224.4,194.4 L224.1,194.6 L223.9,194.8 L223.6,195.0 L223.4,195.2 L223.1,195.4 L222.6,195.6 L222.4,195.7 L221.9,195.9 L221.6,196.0 L221.1,196.1 L220.9,196.2Z M144.9,188.2 L144.4,188.3 L143.9,188.3 L143.5,188.1 L143.3,187.9 L143.1,187.5 L143.1,187.1 L143.1,186.8 L143.3,186.4 L143.5,186.1 L143.8,185.9 L144.1,185.7 L144.4,185.6 L144.9,185.6 L145.1,185.6 L145.5,185.9 L145.7,186.1 L145.8,186.6 L145.8,187.1 L145.6,187.4 L145.4,187.8 L145.1,188.0 L144.9,188.2Z M68.9,205.1 L68.4,205.2 L67.9,205.2 L67.4,205.2 L66.9,205.2 L66.4,205.2 L66.1,205.1 L65.6,204.9 L65.4,204.8 L64.9,204.6 L64.6,204.5 L64.4,204.3 L64.0,204.1 L63.6,203.9 L63.4,203.7 L63.1,203.5 L62.9,203.4 L62.5,203.1 L62.2,202.9 L61.9,202.6 L61.6,202.4 L61.4,202.2 L61.1,202.0 L60.9,201.8 L60.6,201.6 L60.4,201.3 L60.1,201.1 L59.9,200.8 L59.6,200.5 L59.4,200.2 L59.1,199.9 L58.9,199.6 L58.8,199.4 L58.6,199.1 L58.4,198.8 L58.1,198.4 L58.0,198.1 L57.8,197.9 L57.6,197.4 L57.5,197.1 L57.4,196.9 L57.2,196.4 L57.1,196.1 L56.9,195.6 L56.9,195.4 L56.7,194.9 L56.7,194.4 L56.6,194.1 L56.6,193.6 L56.5,193.1 L56.5,192.6 L56.6,192.1 L56.6,191.6 L56.6,191.4 L56.7,190.9 L56.9,190.4 L57.0,190.1 L57.1,189.8 L57.4,189.4 L57.6,189.1 L57.9,188.9 L58.1,188.7 L58.4,188.5 L58.6,188.4 L59.1,188.1 L59.4,188.0 L59.7,187.9 L60.1,187.7 L60.4,187.6 L60.9,187.4 L61.1,187.3 L61.6,187.2 L61.9,187.1 L62.4,187.0 L62.9,186.9 L63.1,186.9 L63.6,186.8 L64.1,186.7 L64.6,186.7 L65.1,186.6 L65.4,186.6 L65.9,186.6 L66.4,186.6 L66.7,186.6 L67.1,186.7 L67.6,186.7 L68.1,186.8 L68.6,186.8 L68.9,186.9 L69.4,187.0 L69.9,187.1 L70.1,187.2 L70.6,187.3 L70.9,187.4 L71.4,187.6 L71.6,187.7 L72.1,187.9 L72.4,188.0 L72.7,188.1 L73.1,188.3 L73.4,188.4 L73.8,188.6 L74.1,188.8 L74.4,188.9 L74.7,189.1 L75.0,189.4 L75.3,189.6 L75.6,189.9 L75.8,190.1 L76.0,190.4 L76.2,190.6 L76.4,191.0 L76.5,191.4 L76.4,191.9 L76.4,192.1 L76.2,192.6 L76.1,192.9 L75.9,193.2 L75.6,193.6 L75.5,193.9 L75.4,194.1 L75.2,194.6 L75.1,194.9 L74.9,195.3 L74.8,195.6 L74.6,196.1 L74.5,196.4 L74.4,196.9 L74.3,197.1 L74.2,197.6 L74.1,197.9 L74.0,198.4 L73.9,198.9 L73.9,199.2 L73.8,199.6 L73.7,200.1 L73.7,200.6 L73.6,201.0 L73.6,201.4 L73.5,201.9 L73.4,202.4 L73.3,202.6 L73.1,203.1 L73.0,203.4 L72.7,203.6 L72.5,203.9 L72.1,204.1 L71.9,204.3 L71.6,204.4 L71.1,204.6 L70.9,204.7 L70.4,204.8 L70.1,204.9 L69.6,205.0 L69.1,205.1 L68.9,205.1Z M252.9,206.4 L252.4,206.5 L251.9,206.5 L251.4,206.5 L250.9,206.4 L250.6,206.3 L250.1,206.1 L249.9,206.0 L249.5,205.9 L249.1,205.7 L248.9,205.6 L248.5,205.4 L248.1,205.2 L247.9,205.1 L247.4,204.9 L247.1,204.8 L246.8,204.6 L246.4,204.4 L246.1,204.3 L245.8,204.1 L245.4,203.9 L245.1,203.8 L244.8,203.6 L244.4,203.4 L244.1,203.3 L243.8,203.1 L243.4,202.9 L243.1,202.8 L242.9,202.6 L242.4,202.4 L242.1,202.2 L241.9,202.1 L241.5,201.9 L241.1,201.7 L240.9,201.6 L240.5,201.4 L240.1,201.2 L239.9,201.1 L239.5,200.9 L239.1,200.7 L238.9,200.5 L238.6,200.4 L238.1,200.1 L237.9,200.0 L237.6,199.8 L237.2,199.6 L236.9,199.4 L236.6,199.3 L236.3,199.1 L235.9,198.9 L235.6,198.7 L235.4,198.6 L235.0,198.4 L234.6,198.2 L234.4,198.0 L234.1,197.9 L233.8,197.6 L233.5,197.4 L233.3,197.1 L233.1,196.9 L232.9,196.5 L232.7,196.1 L232.6,195.6 L232.6,195.4 L232.6,195.0 L232.7,194.6 L232.7,194.1 L232.8,193.6 L232.9,193.4 L233.1,192.9 L233.2,192.6 L233.4,192.2 L233.5,191.9 L233.6,191.6 L233.9,191.3 L234.1,190.9 L234.4,190.7 L234.6,190.4 L234.9,190.2 L235.1,190.0 L235.4,189.9 L235.9,189.6 L236.1,189.5 L236.4,189.4 L236.9,189.2 L237.1,189.1 L237.6,188.9 L237.9,188.8 L238.3,188.6 L238.6,188.5 L239.1,188.4 L239.4,188.3 L239.9,188.1 L240.1,188.1 L240.6,187.9 L240.9,187.9 L241.4,187.7 L241.8,187.6 L242.1,187.5 L242.6,187.4 L242.9,187.4 L243.4,187.3 L243.9,187.2 L244.1,187.1 L244.6,187.0 L245.1,186.9 L245.6,186.9 L245.9,186.8 L246.4,186.8 L246.9,186.7 L247.4,186.6 L247.6,186.6 L248.1,186.6 L248.6,186.5 L249.1,186.5 L249.6,186.5 L250.1,186.5 L250.6,186.5 L251.1,186.5 L251.6,186.5 L252.1,186.5 L252.6,186.5 L253.1,186.5 L253.6,186.5 L254.1,186.6 L254.6,186.6 L254.9,186.7 L255.4,186.8 L255.6,186.9 L256.1,187.1 L256.4,187.3 L256.6,187.4 L256.9,187.6 L257.3,187.9 L257.6,188.1 L257.9,188.3 L258.1,188.5 L258.4,188.6 L258.9,188.9 L259.1,189.0 L259.4,189.1 L259.4,189.6 L259.5,190.1 L259.5,190.6 L259.5,191.1 L259.5,191.6 L259.5,192.1 L259.5,192.6 L259.5,193.1 L259.5,193.6 L259.5,194.1 L259.5,194.6 L259.5,195.1 L259.5,195.6 L259.5,196.1 L259.5,196.6 L259.5,197.1 L259.5,197.6 L259.5,198.1 L259.5,198.6 L259.5,199.1 L259.5,199.6 L259.5,200.1 L259.5,200.6 L259.5,201.1 L259.5,201.6 L259.5,202.1 L259.4,202.6 L259.4,203.0 L258.9,203.1 L258.6,203.2 L258.3,203.4 L258.0,203.6 L257.6,203.9 L257.4,204.1 L257.1,204.3 L256.9,204.4 L256.6,204.6 L256.2,204.9 L255.9,205.1 L255.6,205.2 L255.4,205.4 L254.9,205.6 L254.6,205.8 L254.4,205.9 L253.9,206.1 L253.6,206.2 L253.1,206.4 L252.9,206.4Z M40.6,224.9 L40.1,224.9 L39.6,225.0 L39.1,225.0 L38.6,225.0 L38.1,225.0 L37.6,225.0 L37.1,225.0 L36.6,225.0 L36.1,225.0 L35.6,224.9 L35.2,224.9 L34.9,224.8 L34.4,224.8 L33.9,224.7 L33.5,224.6 L33.1,224.6 L32.6,224.4 L32.3,224.4 L31.9,224.3 L31.4,224.1 L31.1,224.1 L30.6,223.9 L30.4,223.9 L29.9,223.7 L29.6,223.6 L29.1,223.5 L28.9,223.4 L28.4,223.2 L28.1,223.1 L27.7,222.9 L27.4,222.7 L27.1,222.6 L26.6,222.4 L26.4,222.2 L26.1,222.1 L25.7,221.9 L25.4,221.7 L25.1,221.5 L24.9,221.3 L24.6,221.1 L24.4,220.8 L24.1,220.4 L24.0,220.1 L23.9,219.7 L23.8,219.4 L23.8,218.9 L23.9,218.5 L23.9,218.1 L24.0,217.6 L24.1,217.1 L24.2,216.9 L24.3,216.4 L24.4,215.9 L24.4,215.6 L24.6,215.1 L24.6,214.8 L24.7,214.4 L24.8,213.9 L24.9,213.6 L25.0,213.1 L25.1,212.7 L25.2,212.4 L25.3,211.9 L25.4,211.6 L25.5,211.1 L25.6,210.6 L25.7,210.4 L25.8,209.9 L25.9,209.5 L26.0,209.1 L26.1,208.6 L26.2,208.4 L26.3,207.9 L26.4,207.6 L26.5,207.1 L26.6,206.7 L26.7,206.4 L26.8,205.9 L26.9,205.6 L27.0,205.1 L27.1,204.8 L27.3,204.4 L27.4,203.9 L27.5,203.6 L27.6,203.1 L27.7,202.9 L27.8,202.4 L27.9,202.1 L28.0,201.6 L28.1,201.2 L28.2,200.9 L28.4,200.4 L28.4,200.1 L28.6,199.6 L28.7,199.4 L28.8,198.9 L28.9,198.6 L29.0,198.1 L29.1,197.8 L29.3,197.4 L29.4,197.0 L29.5,196.6 L29.6,196.2 L29.7,195.9 L29.9,195.4 L29.9,195.1 L30.1,194.6 L30.2,194.4 L30.3,193.9 L30.4,193.6 L30.6,193.1 L30.7,192.9 L30.8,192.4 L30.9,192.1 L31.1,191.6 L31.2,191.4 L31.3,190.9 L31.4,190.6 L31.6,190.1 L31.7,189.9 L31.9,189.4 L32.0,189.1 L32.1,188.8 L32.4,188.4 L32.6,188.1 L32.9,187.9 L33.1,187.7 L33.4,187.6 L33.9,187.4 L34.1,187.3 L34.6,187.2 L35.1,187.1 L35.4,187.1 L35.9,187.1 L36.4,187.0 L36.9,187.0 L37.4,187.0 L37.9,187.0 L38.4,187.0 L38.9,187.0 L39.4,187.0 L39.9,187.0 L40.4,187.1 L40.8,187.1 L41.1,187.2 L41.6,187.2 L42.1,187.3 L42.5,187.4 L42.9,187.4 L43.4,187.6 L43.7,187.6 L44.1,187.7 L44.6,187.9 L44.9,187.9 L45.4,188.1 L45.6,188.1 L46.1,188.3 L46.4,188.4 L46.9,188.5 L47.1,188.6 L47.6,188.8 L47.9,188.9 L48.3,189.1 L48.6,189.3 L48.9,189.4 L49.4,189.6 L49.6,189.8 L49.9,189.9 L50.2,190.1 L50.5,190.4 L50.8,190.6 L51.0,190.9 L51.2,191.1 L51.4,191.4 L51.5,191.9 L51.6,192.2 L51.7,192.6 L51.7,193.1 L51.8,193.6 L51.8,194.1 L51.8,194.6 L51.9,194.9 L51.9,195.4 L52.0,195.9 L52.1,196.2 L52.2,196.6 L52.4,197.1 L52.4,197.4 L52.6,197.9 L52.7,198.1 L52.9,198.6 L53.0,198.9 L53.1,199.2 L53.3,199.6 L53.5,199.9 L53.6,200.2 L53.9,200.6 L54.0,200.9 L54.2,201.1 L54.4,201.4 L54.6,201.8 L54.9,202.1 L55.0,202.4 L55.2,202.6 L55.4,202.9 L55.6,203.1 L55.9,203.4 L56.1,203.7 L56.4,204.0 L56.6,204.2 L56.9,204.5 L57.1,204.7 L57.4,205.0 L57.6,205.2 L57.9,205.4 L58.1,205.7 L58.4,205.9 L58.6,206.1 L58.9,206.4 L59.1,206.6 L59.4,206.9 L59.6,207.2 L59.8,207.6 L59.9,207.9 L60.0,208.4 L60.0,208.9 L60.0,209.4 L59.9,209.9 L59.8,210.1 L59.7,210.6 L59.6,210.9 L59.4,211.4 L59.4,211.6 L59.2,212.1 L59.1,212.4 L58.9,212.8 L58.7,213.1 L58.6,213.4 L58.4,213.8 L58.2,214.1 L58.1,214.4 L57.9,214.7 L57.6,215.1 L57.5,215.4 L57.3,215.6 L57.1,215.9 L56.9,216.2 L56.6,216.5 L56.4,216.8 L56.1,217.1 L55.9,217.4 L55.7,217.6 L55.5,217.9 L55.2,218.1 L55.0,218.4 L54.7,218.6 L54.5,218.9 L54.2,219.1 L53.9,219.4 L53.6,219.6 L53.4,219.8 L53.1,220.0 L52.9,220.2 L52.6,220.4 L52.3,220.6 L51.9,220.9 L51.6,221.1 L51.4,221.2 L51.1,221.4 L50.7,221.6 L50.4,221.8 L50.1,222.0 L49.8,222.1 L49.4,222.4 L49.1,222.5 L48.9,222.6 L48.4,222.8 L48.1,223.0 L47.7,223.1 L47.4,223.3 L47.1,223.4 L46.6,223.5 L46.4,223.6 L45.9,223.8 L45.6,223.9 L45.1,224.0 L44.7,224.1 L44.4,224.2 L43.9,224.3 L43.6,224.4 L43.1,224.5 L42.6,224.6 L42.4,224.7 L41.9,224.7 L41.4,224.8 L40.9,224.9 L40.6,224.9Z M94.9,217.1 L94.4,217.2 L93.9,217.2 L93.4,217.2 L92.9,217.2 L92.4,217.2 L91.9,217.2 L91.4,217.2 L91.1,217.1 L90.6,217.1 L90.1,217.0 L89.8,216.9 L89.4,216.8 L88.9,216.6 L88.6,216.5 L88.2,216.4 L87.9,216.2 L87.6,216.1 L87.1,215.9 L86.9,215.8 L86.6,215.6 L86.2,215.4 L85.9,215.2 L85.6,215.0 L85.4,214.9 L85.1,214.6 L84.7,214.4 L84.4,214.1 L84.1,213.9 L83.9,213.6 L83.6,213.4 L83.4,213.1 L83.2,212.9 L83.0,212.6 L82.8,212.4 L82.6,212.1 L82.4,211.8 L82.1,211.5 L81.9,211.1 L81.8,210.9 L81.6,210.5 L81.5,210.1 L81.4,209.6 L81.5,209.1 L81.6,208.6 L81.7,208.4 L81.9,208.0 L82.1,207.6 L82.3,207.4 L82.4,207.1 L82.6,206.8 L82.9,206.4 L83.0,206.1 L83.1,205.9 L83.3,205.4 L83.4,205.1 L83.6,204.7 L83.7,204.4 L83.9,203.9 L84.0,203.6 L84.1,203.1 L84.2,202.9 L84.3,202.4 L84.4,202.0 L84.4,201.6 L84.5,201.1 L84.6,200.6 L84.6,200.3 L84.7,199.9 L84.7,199.4 L84.7,198.9 L84.7,198.4 L84.8,197.9 L84.8,197.4 L84.8,196.9 L84.9,196.6 L85.0,196.1 L85.1,195.9 L85.4,195.5 L85.6,195.2 L85.9,194.9 L86.1,194.7 L86.4,194.5 L86.6,194.4 L87.1,194.1 L87.4,194.0 L87.6,193.9 L88.1,193.7 L88.4,193.6 L88.9,193.4 L89.1,193.3 L89.6,193.2 L89.9,193.1 L90.4,193.0 L90.9,192.9 L91.1,192.9 L91.6,192.8 L92.1,192.8 L92.6,192.8 L93.1,192.8 L93.6,192.8 L94.1,192.8 L94.6,192.8 L94.9,192.9 L95.4,192.9 L95.9,193.0 L96.2,193.1 L96.6,193.2 L97.1,193.4 L97.4,193.5 L97.8,193.6 L98.1,193.8 L98.4,193.9 L98.9,194.1 L99.1,194.2 L99.4,194.4 L99.8,194.6 L100.1,194.8 L100.4,195.0 L100.6,195.1 L100.9,195.4 L101.3,195.6 L101.6,195.9 L101.9,196.1 L102.1,196.4 L102.4,196.6 L102.6,196.9 L102.8,197.1 L103.0,197.4 L103.2,197.6 L103.4,197.9 L103.6,198.2 L103.9,198.5 L104.1,198.9 L104.2,199.1 L104.4,199.4 L104.6,199.8 L104.8,200.1 L104.9,200.4 L105.1,200.9 L105.2,201.1 L105.3,201.6 L105.4,201.9 L105.5,202.4 L105.6,202.9 L105.7,203.1 L105.7,203.6 L105.8,204.1 L105.8,204.6 L105.8,205.1 L105.8,205.6 L105.7,206.1 L105.7,206.6 L105.6,207.1 L105.6,207.4 L105.5,207.9 L105.4,208.2 L105.3,208.6 L105.1,209.0 L105.0,209.4 L104.9,209.6 L104.6,210.1 L104.5,210.4 L104.4,210.6 L104.1,211.1 L103.9,211.4 L103.8,211.6 L103.6,211.9 L103.4,212.2 L103.1,212.5 L102.9,212.8 L102.6,213.1 L102.4,213.4 L102.1,213.6 L101.9,213.9 L101.6,214.1 L101.4,214.3 L101.1,214.5 L100.9,214.7 L100.6,214.9 L100.2,215.1 L99.9,215.3 L99.6,215.5 L99.4,215.6 L98.9,215.9 L98.6,216.0 L98.4,216.1 L97.9,216.3 L97.6,216.4 L97.1,216.6 L96.9,216.7 L96.4,216.8 L96.1,216.9 L95.6,217.0 L95.1,217.1 L94.9,217.1Z M128.4,238.6 L127.9,238.8 L127.4,238.8 L126.9,238.7 L126.6,238.6 L126.1,238.4 L125.9,238.3 L125.6,238.1 L125.3,237.9 L124.9,237.6 L124.6,237.4 L124.4,237.2 L124.1,237.0 L123.9,236.8 L123.6,236.6 L123.4,236.4 L123.1,236.1 L122.8,235.9 L122.5,235.6 L122.2,235.4 L121.9,235.1 L121.7,234.9 L121.4,234.6 L121.2,234.4 L121.0,234.1 L120.8,233.9 L120.6,233.5 L120.4,233.1 L120.3,232.9 L120.1,232.5 L120.0,232.1 L119.9,231.9 L119.7,231.4 L119.6,231.1 L119.5,230.6 L119.4,230.4 L119.2,229.9 L119.1,229.5 L119.0,229.1 L118.9,228.6 L118.9,228.4 L118.7,227.9 L118.6,227.4 L118.6,227.1 L118.5,226.6 L118.4,226.1 L118.4,225.9 L118.3,225.4 L118.2,224.9 L118.2,224.4 L118.1,223.9 L118.1,223.6 L118.1,223.1 L118.0,222.6 L118.0,222.1 L118.0,221.6 L118.0,221.1 L118.0,220.6 L118.0,220.1 L118.0,219.6 L118.0,219.1 L118.0,218.6 L118.0,218.1 L118.0,217.6 L118.0,217.1 L118.1,216.6 L118.1,216.1 L118.2,215.9 L118.2,215.4 L118.3,214.9 L118.3,214.4 L118.4,214.1 L118.5,213.6 L118.5,213.1 L118.6,212.7 L118.7,212.4 L118.8,211.9 L118.9,211.5 L119.0,211.1 L119.1,210.6 L119.2,210.4 L119.3,209.9 L119.4,209.6 L119.5,209.1 L119.6,208.8 L119.8,208.4 L119.9,208.1 L120.1,207.6 L120.2,207.4 L120.4,206.9 L120.5,206.6 L120.6,206.3 L120.8,205.9 L121.0,205.6 L121.1,205.3 L121.4,204.9 L121.5,204.6 L121.7,204.4 L121.9,204.1 L122.1,203.7 L122.4,203.4 L122.5,203.1 L122.7,202.9 L123.0,202.6 L123.2,202.4 L123.4,202.1 L123.7,201.9 L124.0,201.6 L124.3,201.4 L124.6,201.1 L124.9,201.0 L125.1,200.8 L125.4,200.6 L125.9,200.4 L126.1,200.3 L126.6,200.2 L126.9,200.1 L127.4,200.0 L127.9,200.0 L128.4,200.0 L128.9,200.1 L129.2,200.1 L129.6,200.2 L130.0,200.4 L130.4,200.5 L130.6,200.7 L131.0,200.9 L131.4,201.1 L131.6,201.3 L131.9,201.5 L132.1,201.7 L132.4,201.9 L132.6,202.2 L132.9,202.4 L133.1,202.7 L133.4,203.0 L133.6,203.4 L133.8,203.6 L134.0,203.9 L134.2,204.1 L134.4,204.5 L134.6,204.9 L134.8,205.1 L134.9,205.4 L135.1,205.8 L135.3,206.1 L135.4,206.4 L135.6,206.9 L135.7,207.1 L135.8,207.6 L135.9,207.9 L136.0,208.4 L136.1,208.9 L136.1,209.4 L136.2,209.6 L136.2,210.1 L136.3,210.6 L136.3,211.1 L136.4,211.4 L136.5,211.9 L136.5,212.4 L136.6,212.9 L136.7,213.1 L136.8,213.6 L136.9,214.1 L136.9,214.4 L137.0,214.9 L137.1,215.4 L137.2,215.6 L137.3,216.1 L137.4,216.5 L137.5,216.9 L137.6,217.4 L137.7,217.6 L137.8,218.1 L137.9,218.6 L137.9,218.9 L137.9,219.4 L138.0,219.9 L138.0,220.4 L138.0,220.9 L138.0,221.4 L138.0,221.9 L138.0,222.4 L138.0,222.9 L137.9,223.4 L137.9,223.9 L137.8,224.1 L137.8,224.6 L137.7,225.1 L137.7,225.6 L137.6,225.9 L137.5,226.4 L137.5,226.9 L137.4,227.3 L137.3,227.6 L137.2,228.1 L137.1,228.4 L136.9,228.9 L136.8,229.1 L136.6,229.4 L136.4,229.9 L136.2,230.1 L136.1,230.4 L135.9,230.6 L135.6,231.0 L135.4,231.3 L135.1,231.6 L134.9,231.9 L134.7,232.1 L134.5,232.4 L134.3,232.6 L134.1,232.9 L133.9,233.2 L133.6,233.5 L133.4,233.8 L133.1,234.1 L132.9,234.4 L132.7,234.6 L132.5,234.9 L132.3,235.1 L132.1,235.4 L131.9,235.6 L131.6,235.9 L131.4,236.2 L131.1,236.5 L130.9,236.7 L130.6,237.0 L130.4,237.2 L130.1,237.4 L129.9,237.6 L129.6,237.9 L129.3,238.1 L128.9,238.4 L128.6,238.5 L128.4,238.6Z M235.1,214.1 L234.6,214.2 L234.1,214.2 L233.6,214.2 L233.1,214.2 L232.6,214.2 L232.1,214.2 L231.6,214.2 L231.1,214.2 L230.6,214.2 L230.1,214.2 L229.6,214.2 L229.1,214.2 L228.6,214.2 L228.1,214.1 L227.9,214.1 L227.4,214.1 L226.9,214.0 L226.4,213.9 L225.9,213.9 L225.6,213.8 L225.1,213.8 L224.6,213.7 L224.3,213.6 L223.9,213.5 L223.4,213.4 L223.1,213.4 L222.6,213.3 L222.1,213.1 L221.9,213.1 L221.4,212.9 L221.1,212.9 L220.6,212.7 L220.4,212.6 L219.9,212.4 L219.6,212.3 L219.4,212.1 L219.1,211.9 L218.8,211.6 L218.7,211.1 L218.9,210.7 L219.1,210.4 L219.4,210.2 L219.6,210.0 L219.9,209.9 L220.3,209.6 L220.6,209.4 L220.9,209.2 L221.1,209.0 L221.4,208.8 L221.6,208.6 L221.9,208.4 L222.2,208.1 L222.4,207.9 L222.6,207.6 L222.9,207.3 L223.1,206.9 L223.3,206.6 L223.5,206.4 L223.6,206.0 L223.8,205.6 L223.9,205.4 L224.0,204.9 L224.1,204.4 L224.1,204.1 L224.2,203.6 L224.2,203.1 L224.2,202.6 L224.2,202.1 L224.3,201.6 L224.4,201.4 L224.6,201.1 L224.9,200.8 L225.2,200.6 L225.6,200.5 L226.1,200.4 L226.4,200.3 L226.9,200.3 L227.4,200.3 L227.8,200.4 L228.1,200.4 L228.6,200.6 L228.9,200.6 L229.4,200.8 L229.6,201.0 L230.0,201.1 L230.4,201.3 L230.6,201.5 L230.9,201.6 L231.3,201.9 L231.6,202.0 L231.9,202.2 L232.3,202.4 L232.6,202.6 L232.9,202.7 L233.2,202.9 L233.6,203.1 L233.9,203.3 L234.1,203.4 L234.5,203.6 L234.9,203.8 L235.1,204.0 L235.4,204.1 L235.9,204.4 L236.1,204.5 L236.4,204.6 L236.8,204.9 L237.1,205.0 L237.4,205.2 L237.8,205.4 L238.1,205.6 L238.4,205.7 L238.7,205.9 L239.1,206.1 L239.4,206.2 L239.7,206.4 L240.1,206.6 L240.4,206.7 L240.6,206.9 L241.1,207.1 L241.4,207.3 L241.6,207.4 L242.0,207.6 L242.4,207.8 L242.6,207.9 L243.0,208.1 L243.4,208.3 L243.6,208.4 L244.0,208.6 L244.4,208.8 L244.6,208.9 L245.0,209.1 L245.4,209.3 L245.6,209.5 L245.9,209.8 L246.1,210.1 L246.2,210.4 L246.1,210.9 L246.0,211.1 L245.7,211.4 L245.4,211.6 L245.1,211.8 L244.9,211.9 L244.4,212.1 L244.1,212.2 L243.7,212.4 L243.4,212.5 L242.9,212.6 L242.6,212.7 L242.1,212.9 L241.9,212.9 L241.4,213.1 L241.1,213.1 L240.6,213.3 L240.1,213.4 L239.9,213.4 L239.4,213.5 L238.9,213.6 L238.6,213.7 L238.1,213.8 L237.6,213.8 L237.3,213.9 L236.9,213.9 L236.4,214.0 L235.9,214.1 L235.4,214.1 L235.1,214.1Z M166.6,223.1 L166.1,223.2 L165.6,223.2 L165.1,223.2 L164.6,223.2 L164.1,223.2 L163.6,223.2 L163.1,223.2 L162.6,223.2 L162.1,223.2 L161.6,223.2 L161.1,223.2 L160.6,223.2 L160.1,223.2 L159.6,223.1 L159.4,223.1 L158.9,223.1 L158.4,223.0 L157.9,222.9 L157.4,222.9 L157.1,222.8 L156.6,222.7 L156.1,222.6 L155.9,222.6 L155.4,222.5 L154.9,222.4 L154.6,222.3 L154.1,222.2 L153.9,222.1 L153.4,222.0 L153.1,221.9 L152.6,221.7 L152.3,221.6 L151.9,221.5 L151.6,221.4 L151.1,221.2 L150.9,221.1 L150.4,220.9 L150.1,220.8 L149.8,220.6 L149.4,220.4 L149.1,220.3 L148.8,220.1 L148.4,219.9 L148.1,219.8 L147.9,219.6 L147.5,219.4 L147.1,219.1 L146.9,219.0 L146.6,218.8 L146.4,218.6 L146.0,218.4 L145.7,218.1 L145.4,217.9 L145.1,217.6 L144.9,217.4 L144.6,217.2 L144.4,216.9 L144.1,216.6 L143.9,216.4 L143.7,216.1 L143.5,215.9 L143.4,215.6 L143.1,215.3 L142.9,214.9 L142.7,214.6 L142.6,214.4 L142.4,213.9 L142.3,213.6 L142.1,213.1 L142.1,212.9 L141.9,212.4 L141.9,211.9 L141.8,211.6 L141.8,211.1 L141.8,210.6 L141.9,210.1 L141.9,209.9 L142.0,209.4 L142.1,208.9 L142.2,208.6 L142.4,208.2 L142.5,207.9 L142.6,207.6 L142.9,207.1 L143.0,206.9 L143.2,206.6 L143.4,206.3 L143.6,206.0 L143.9,205.7 L144.1,205.4 L144.3,205.1 L144.6,204.9 L144.8,204.6 L145.1,204.4 L145.4,204.2 L145.6,203.9 L145.9,203.8 L146.1,203.6 L146.4,203.4 L146.7,203.1 L147.1,202.9 L147.4,202.7 L147.6,202.5 L147.9,202.4 L148.4,202.1 L148.6,202.0 L148.9,201.9 L149.4,201.7 L149.6,201.6 L150.1,201.5 L150.6,201.5 L151.1,201.5 L151.6,201.6 L151.9,201.6 L152.4,201.7 L152.9,201.8 L153.1,201.9 L153.6,202.0 L154.1,202.1 L154.4,202.1 L154.9,202.2 L155.4,202.3 L155.6,202.4 L156.1,202.5 L156.6,202.6 L157.1,202.6 L157.4,202.7 L157.9,202.7 L158.4,202.8 L158.8,202.9 L159.1,202.9 L159.6,203.0 L160.1,203.0 L160.6,203.1 L161.1,203.1 L161.4,203.2 L161.9,203.2 L162.4,203.2 L162.9,203.3 L163.4,203.3 L163.9,203.3 L164.4,203.4 L164.6,203.4 L165.1,203.4 L165.6,203.5 L166.1,203.5 L166.6,203.5 L167.1,203.5 L167.6,203.5 L168.1,203.5 L168.6,203.5 L169.1,203.5 L169.6,203.4 L170.1,203.4 L170.4,203.4 L170.9,203.3 L171.4,203.3 L171.9,203.3 L172.4,203.2 L172.9,203.2 L173.4,203.2 L173.7,203.1 L174.1,203.1 L174.6,203.0 L175.1,203.0 L175.6,202.9 L176.0,202.9 L176.4,202.8 L176.9,202.8 L177.4,202.8 L177.9,202.8 L178.3,202.9 L178.6,203.0 L179.0,203.1 L179.4,203.3 L179.6,203.4 L179.9,203.6 L180.3,203.9 L180.6,204.1 L180.9,204.4 L181.1,204.6 L181.4,204.8 L181.6,205.1 L181.9,205.4 L182.1,205.6 L182.3,205.9 L182.5,206.1 L182.6,206.4 L182.9,206.7 L183.1,207.1 L183.3,207.4 L183.4,207.6 L183.6,208.1 L183.7,208.4 L183.9,208.9 L183.9,209.1 L184.1,209.6 L184.1,210.1 L184.2,210.4 L184.2,210.9 L184.2,211.4 L184.1,211.9 L184.1,212.1 L184.0,212.6 L183.9,213.0 L183.8,213.4 L183.6,213.7 L183.4,214.1 L183.2,214.4 L183.0,214.6 L182.8,214.9 L182.5,215.1 L182.3,215.4 L182.0,215.6 L181.7,215.9 L181.4,216.1 L181.1,216.3 L180.9,216.5 L180.6,216.7 L180.4,216.9 L180.1,217.1 L179.7,217.4 L179.4,217.6 L179.1,217.8 L178.9,218.0 L178.6,218.1 L178.3,218.4 L177.9,218.6 L177.6,218.8 L177.4,218.9 L177.1,219.1 L176.6,219.4 L176.4,219.5 L176.1,219.7 L175.8,219.9 L175.4,220.1 L175.1,220.2 L174.9,220.4 L174.4,220.6 L174.1,220.8 L173.9,220.9 L173.5,221.1 L173.1,221.3 L172.9,221.4 L172.4,221.6 L172.1,221.7 L171.8,221.9 L171.4,222.1 L171.1,222.2 L170.6,222.3 L170.4,222.4 L169.9,222.6 L169.6,222.6 L169.1,222.8 L168.6,222.9 L168.4,222.9 L167.9,223.0 L167.4,223.0 L166.9,223.1 L166.6,223.1Z M215.6,206.2 L215.1,206.2 L214.6,206.2 L214.2,206.1 L213.9,206.1 L213.4,205.9 L213.1,205.8 L212.8,205.6 L212.5,205.4 L212.3,205.1 L212.1,204.8 L211.9,204.4 L211.9,204.1 L211.8,203.6 L211.9,203.2 L212.0,202.9 L212.1,202.5 L212.4,202.2 L212.6,202.0 L212.9,201.9 L213.4,201.7 L213.6,201.6 L214.1,201.5 L214.6,201.4 L215.1,201.4 L215.6,201.5 L216.1,201.5 L216.5,201.6 L216.9,201.7 L217.3,201.9 L217.6,202.0 L217.9,202.1 L218.2,202.4 L218.5,202.6 L218.7,202.9 L218.9,203.3 L219.0,203.6 L218.9,204.1 L218.9,204.4 L218.6,204.8 L218.4,205.1 L218.1,205.3 L217.9,205.5 L217.6,205.6 L217.1,205.8 L216.9,205.9 L216.4,206.0 L215.9,206.1 L215.6,206.2Z M205.6,207.6 L205.1,207.7 L204.6,207.7 L204.2,207.6 L203.9,207.5 L203.6,207.4 L203.3,207.1 L203.0,206.9 L202.8,206.6 L202.6,206.2 L202.5,205.9 L202.4,205.5 L202.3,205.1 L202.3,204.6 L202.4,204.4 L202.5,203.9 L202.6,203.6 L202.9,203.3 L203.1,203.0 L203.4,202.8 L203.6,202.6 L204.1,202.4 L204.5,202.4 L204.9,202.4 L205.1,202.4 L205.6,202.6 L205.9,202.7 L206.1,202.9 L206.4,203.3 L206.6,203.6 L206.7,203.9 L206.8,204.4 L206.9,204.6 L207.0,205.1 L207.0,205.6 L206.9,206.1 L206.9,206.4 L206.6,206.9 L206.4,207.1 L206.2,207.4 L205.9,207.5 L205.6,207.6Z M231.1,248.6 L230.6,248.7 L230.1,248.7 L229.6,248.7 L229.1,248.8 L228.6,248.8 L228.1,248.8 L227.6,248.8 L227.1,248.7 L226.8,248.6 L226.4,248.5 L225.9,248.4 L225.6,248.3 L225.2,248.1 L224.9,248.0 L224.6,247.9 L224.1,247.7 L223.9,247.6 L223.4,247.4 L223.1,247.3 L222.6,247.2 L222.4,247.1 L221.9,246.9 L221.6,246.9 L221.1,246.7 L220.7,246.6 L220.4,246.5 L219.9,246.4 L219.6,246.4 L219.1,246.2 L218.6,246.1 L218.4,246.1 L217.9,246.0 L217.4,245.9 L217.1,245.8 L216.6,245.7 L216.1,245.7 L215.8,245.6 L215.4,245.6 L214.9,245.5 L214.4,245.4 L213.9,245.4 L213.6,245.4 L213.1,245.3 L212.6,245.3 L212.1,245.3 L211.6,245.3 L211.1,245.3 L210.6,245.3 L210.1,245.3 L209.6,245.3 L209.1,245.3 L208.6,245.3 L208.1,245.3 L207.6,245.3 L207.1,245.3 L206.6,245.3 L206.1,245.3 L205.6,245.4 L205.4,245.4 L204.9,245.4 L204.4,245.5 L203.9,245.6 L203.4,245.6 L203.1,245.7 L202.6,245.7 L202.1,245.8 L201.8,245.9 L201.4,245.9 L200.9,246.0 L200.4,246.1 L200.0,246.1 L199.6,246.1 L199.1,246.1 L198.9,246.1 L198.4,246.1 L197.9,246.0 L197.4,245.9 L197.1,245.8 L196.6,245.7 L196.4,245.6 L195.9,245.5 L195.6,245.4 L195.1,245.2 L194.8,245.1 L194.4,245.0 L194.0,244.9 L193.6,244.7 L193.3,244.6 L192.9,244.5 L192.6,244.4 L192.1,244.2 L191.9,244.1 L191.5,243.9 L191.1,243.7 L190.9,243.5 L190.6,243.4 L190.3,243.1 L190.1,242.9 L189.8,242.6 L189.6,242.4 L189.4,242.1 L189.1,241.8 L188.9,241.5 L188.6,241.2 L188.4,240.9 L188.1,240.6 L187.9,240.4 L187.7,240.1 L187.5,239.9 L187.3,239.6 L187.1,239.4 L186.9,239.1 L186.6,238.9 L186.4,238.6 L186.1,238.3 L185.9,238.0 L185.6,237.8 L185.4,237.5 L185.1,237.3 L184.9,237.0 L184.6,236.8 L184.4,236.5 L184.1,236.3 L183.9,236.0 L183.6,235.8 L183.4,235.6 L183.1,235.4 L182.9,235.1 L182.6,234.9 L182.3,234.6 L182.0,234.4 L181.7,234.1 L181.4,233.9 L181.1,233.6 L180.9,233.4 L180.6,233.2 L180.4,233.0 L180.1,232.8 L179.9,232.6 L179.6,232.4 L179.3,232.1 L179.0,231.9 L178.7,231.6 L178.4,231.4 L178.2,231.1 L178.0,230.9 L177.8,230.6 L177.6,230.3 L177.5,229.9 L177.4,229.4 L177.4,228.9 L177.5,228.4 L177.6,227.9 L177.6,227.6 L177.8,227.1 L177.9,226.9 L178.1,226.4 L178.2,226.1 L178.4,225.8 L178.6,225.4 L178.8,225.1 L178.9,224.9 L179.1,224.6 L179.4,224.2 L179.6,223.9 L179.9,223.6 L180.1,223.4 L180.3,223.1 L180.5,222.9 L180.8,222.6 L181.0,222.4 L181.3,222.1 L181.6,221.9 L181.8,221.6 L182.1,221.4 L182.4,221.2 L182.6,221.0 L182.9,220.8 L183.1,220.6 L183.4,220.4 L183.8,220.1 L184.1,219.9 L184.4,219.7 L184.6,219.5 L184.9,219.4 L185.3,219.1 L185.6,218.9 L185.9,218.8 L186.1,218.6 L186.6,218.4 L186.9,218.2 L187.1,218.1 L187.5,217.9 L187.9,217.7 L188.1,217.6 L188.5,217.4 L188.9,217.2 L189.1,217.1 L189.6,216.9 L189.9,216.7 L190.1,216.6 L190.6,216.4 L190.9,216.3 L191.3,216.1 L191.6,216.0 L192.0,215.9 L192.4,215.7 L192.6,215.6 L193.1,215.4 L193.4,215.3 L193.9,215.2 L194.1,215.1 L194.6,214.9 L194.9,214.8 L195.4,214.7 L195.6,214.6 L196.1,214.5 L196.5,214.4 L196.9,214.3 L197.3,214.1 L197.6,214.0 L198.1,213.9 L198.4,213.8 L198.9,213.7 L199.3,213.6 L199.6,213.5 L200.1,213.4 L200.4,213.4 L200.9,213.2 L201.4,213.1 L201.6,213.1 L202.1,213.0 L202.6,212.9 L202.9,212.9 L203.4,212.8 L203.9,212.8 L204.4,212.8 L204.9,212.7 L205.4,212.7 L205.9,212.6 L206.1,212.6 L206.6,212.5 L207.1,212.4 L207.4,212.3 L207.9,212.3 L208.4,212.2 L208.9,212.2 L209.4,212.4 L209.6,212.5 L209.9,212.6 L210.3,212.9 L210.6,213.1 L210.9,213.2 L211.1,213.4 L211.4,213.6 L211.8,213.9 L212.1,214.1 L212.4,214.3 L212.6,214.4 L213.0,214.6 L213.4,214.9 L213.6,215.0 L213.9,215.1 L214.3,215.4 L214.6,215.5 L214.9,215.6 L215.4,215.8 L215.6,216.0 L216.0,216.1 L216.4,216.3 L216.7,216.4 L217.1,216.6 L217.4,216.6 L217.9,216.8 L218.1,216.9 L218.6,217.1 L218.9,217.2 L219.4,217.3 L219.6,217.4 L220.1,217.6 L220.4,217.6 L220.9,217.8 L221.3,217.9 L221.6,218.0 L222.1,218.1 L222.4,218.1 L222.9,218.2 L223.4,218.3 L223.6,218.4 L224.1,218.5 L224.6,218.5 L225.1,218.6 L225.4,218.7 L225.9,218.7 L226.4,218.8 L226.9,218.8 L227.3,218.9 L227.6,218.9 L228.1,218.9 L228.6,219.0 L229.1,219.0 L229.6,219.0 L230.1,219.0 L230.6,219.0 L231.1,219.0 L231.6,219.0 L232.1,219.0 L232.6,219.0 L233.1,219.0 L233.6,219.0 L234.1,219.0 L234.6,219.0 L235.1,218.9 L235.6,218.9 L235.9,218.9 L236.4,218.8 L236.9,218.7 L237.4,218.7 L237.8,218.6 L238.1,218.6 L238.6,218.5 L239.1,218.4 L239.4,218.4 L239.9,218.3 L240.4,218.2 L240.6,218.1 L241.1,218.0 L241.6,217.9 L241.9,217.8 L242.4,217.7 L242.6,217.6 L243.1,217.5 L243.5,217.4 L243.9,217.2 L244.2,217.1 L244.6,217.0 L245.0,216.9 L245.4,216.7 L245.7,216.6 L246.1,216.5 L246.4,216.4 L246.9,216.2 L247.1,216.1 L247.6,215.9 L247.9,215.8 L248.3,215.6 L248.6,215.5 L249.1,215.4 L249.4,215.4 L249.9,215.4 L250.2,215.4 L250.6,215.4 L251.1,215.6 L251.4,215.6 L251.9,215.8 L252.1,215.9 L252.6,216.1 L252.9,216.2 L253.3,216.4 L253.6,216.5 L253.9,216.6 L254.4,216.8 L254.6,217.0 L255.0,217.1 L255.4,217.3 L255.6,217.4 L256.0,217.6 L256.4,217.8 L256.6,217.9 L257.0,218.1 L257.4,218.3 L257.6,218.5 L258.0,218.6 L258.4,218.8 L258.7,218.9 L259.1,219.0 L259.4,219.1 L259.4,219.6 L259.5,220.1 L259.5,220.6 L259.5,221.1 L259.5,221.6 L259.5,222.1 L259.5,222.6 L259.5,223.1 L259.5,223.6 L259.5,224.1 L259.5,224.6 L259.5,225.1 L259.5,225.6 L259.5,226.1 L259.5,226.6 L259.5,227.1 L259.5,227.6 L259.5,228.1 L259.5,228.6 L259.5,229.1 L259.5,229.6 L259.5,230.1 L259.5,230.6 L259.5,231.1 L259.5,231.6 L259.5,232.1 L259.5,232.6 L259.5,233.1 L259.5,233.6 L259.5,234.1 L259.5,234.6 L259.5,235.1 L259.5,235.6 L259.5,236.1 L259.5,236.6 L259.5,237.1 L259.5,237.6 L259.5,238.1 L259.5,238.6 L259.5,239.1 L259.5,239.6 L259.5,240.1 L259.4,240.6 L259.4,241.0 L258.9,241.1 L258.6,241.1 L258.1,241.3 L257.9,241.4 L257.5,241.6 L257.1,241.8 L256.9,241.9 L256.5,242.1 L256.1,242.3 L255.9,242.4 L255.5,242.6 L255.1,242.8 L254.9,242.9 L254.4,243.1 L254.1,243.3 L253.9,243.4 L253.4,243.6 L253.1,243.7 L252.6,243.8 L252.4,243.9 L251.9,244.1 L251.5,244.1 L251.1,244.2 L250.6,244.2 L250.1,244.2 L249.6,244.3 L249.1,244.3 L248.6,244.3 L248.1,244.3 L247.8,244.4 L247.4,244.4 L246.9,244.5 L246.4,244.5 L245.9,244.5 L245.4,244.6 L245.1,244.6 L244.6,244.7 L244.1,244.8 L243.6,244.9 L243.4,244.9 L242.9,245.0 L242.4,245.1 L242.1,245.2 L241.6,245.3 L241.3,245.4 L240.9,245.5 L240.4,245.6 L240.1,245.7 L239.6,245.9 L239.4,245.9 L238.9,246.1 L238.6,246.2 L238.1,246.4 L237.9,246.4 L237.4,246.6 L237.1,246.7 L236.8,246.9 L236.4,247.1 L236.1,247.2 L235.7,247.4 L235.4,247.5 L235.1,247.6 L234.6,247.9 L234.4,248.0 L234.0,248.1 L233.6,248.2 L233.1,248.4 L232.9,248.4 L232.4,248.5 L231.9,248.6 L231.4,248.6 L231.1,248.6Z M73.9,233.4 L73.4,233.4 L72.9,233.4 L72.6,233.4 L72.1,233.3 L71.6,233.3 L71.1,233.3 L70.6,233.3 L70.1,233.3 L69.6,233.2 L69.1,233.2 L68.6,233.2 L68.1,233.2 L67.6,233.2 L67.3,233.1 L66.9,233.1 L66.4,233.1 L65.9,233.0 L65.4,233.0 L64.9,232.9 L64.4,232.9 L64.1,232.8 L63.6,232.7 L63.1,232.6 L62.9,232.6 L62.4,232.4 L62.1,232.3 L61.6,232.2 L61.4,232.1 L60.9,231.9 L60.6,231.8 L60.3,231.6 L59.9,231.5 L59.6,231.3 L59.2,231.1 L58.9,230.9 L58.6,230.8 L58.4,230.6 L58.0,230.4 L57.7,230.1 L57.4,229.9 L57.1,229.7 L56.9,229.4 L56.6,229.2 L56.4,228.9 L56.2,228.6 L56.0,228.4 L55.8,228.1 L55.6,227.7 L55.5,227.4 L55.4,227.1 L55.3,226.6 L55.3,226.1 L55.3,225.6 L55.4,225.4 L55.6,224.9 L55.8,224.6 L56.0,224.4 L56.3,224.1 L56.5,223.9 L56.8,223.6 L57.1,223.4 L57.4,223.2 L57.6,223.0 L57.9,222.8 L58.1,222.6 L58.5,222.4 L58.9,222.1 L59.1,222.0 L59.4,221.8 L59.7,221.6 L60.1,221.4 L60.4,221.2 L60.6,221.1 L61.0,220.9 L61.4,220.7 L61.6,220.6 L62.0,220.4 L62.4,220.2 L62.6,220.1 L63.0,219.9 L63.4,219.7 L63.6,219.6 L64.1,219.4 L64.4,219.3 L64.8,219.1 L65.1,219.0 L65.6,218.9 L65.9,218.8 L66.4,218.7 L66.9,218.6 L67.1,218.6 L67.6,218.6 L68.1,218.5 L68.6,218.5 L69.1,218.5 L69.6,218.5 L70.1,218.5 L70.6,218.5 L71.1,218.5 L71.6,218.5 L72.1,218.5 L72.6,218.5 L73.1,218.5 L73.6,218.6 L74.1,218.6 L74.4,218.6 L74.9,218.7 L75.4,218.8 L75.9,218.8 L76.1,218.9 L76.6,219.0 L77.1,219.1 L77.4,219.1 L77.9,219.2 L78.3,219.4 L78.6,219.5 L79.1,219.6 L79.4,219.7 L79.9,219.9 L80.1,220.0 L80.6,220.1 L80.9,220.3 L81.2,220.4 L81.6,220.6 L81.9,220.7 L82.2,220.9 L82.6,221.1 L82.9,221.3 L83.1,221.4 L83.4,221.6 L83.8,221.9 L84.1,222.1 L84.4,222.4 L84.6,222.6 L84.9,222.9 L85.1,223.1 L85.3,223.4 L85.4,223.6 L85.6,223.9 L85.8,224.4 L85.9,224.6 L86.1,225.1 L86.1,225.4 L86.2,225.9 L86.2,226.4 L86.1,226.6 L86.0,227.1 L85.9,227.5 L85.7,227.9 L85.6,228.1 L85.4,228.5 L85.1,228.8 L84.9,229.1 L84.6,229.4 L84.4,229.6 L84.1,229.9 L83.9,230.1 L83.6,230.2 L83.4,230.4 L83.1,230.6 L82.6,230.9 L82.4,231.0 L82.1,231.2 L81.7,231.4 L81.4,231.5 L81.1,231.6 L80.6,231.9 L80.4,232.0 L79.9,232.1 L79.6,232.2 L79.2,232.4 L78.9,232.5 L78.4,232.6 L78.1,232.7 L77.6,232.8 L77.4,232.9 L76.9,233.0 L76.4,233.1 L76.1,233.1 L75.6,233.2 L75.1,233.3 L74.6,233.3 L74.1,233.4 L73.9,233.4Z M103.1,231.9 L102.6,231.9 L102.1,231.9 L101.8,231.9 L101.4,231.8 L100.9,231.7 L100.6,231.6 L100.1,231.4 L99.9,231.3 L99.5,231.1 L99.1,230.9 L98.9,230.7 L98.6,230.5 L98.4,230.3 L98.1,230.1 L97.9,229.8 L97.6,229.5 L97.4,229.2 L97.2,228.9 L97.1,228.6 L96.9,228.2 L96.7,227.9 L96.6,227.6 L96.5,227.1 L96.4,226.6 L96.4,226.1 L96.4,225.6 L96.5,225.1 L96.6,224.6 L96.7,224.4 L96.9,224.0 L97.1,223.6 L97.3,223.4 L97.5,223.1 L97.8,222.9 L98.1,222.6 L98.4,222.4 L98.6,222.3 L98.9,222.1 L99.3,221.9 L99.6,221.7 L99.9,221.6 L100.4,221.4 L100.6,221.3 L101.0,221.1 L101.4,221.0 L101.8,220.9 L102.1,220.8 L102.6,220.6 L102.9,220.6 L103.4,220.5 L103.9,220.4 L104.4,220.4 L104.9,220.4 L105.4,220.5 L105.9,220.6 L106.1,220.7 L106.5,220.9 L106.9,221.1 L107.1,221.3 L107.4,221.5 L107.6,221.7 L107.9,221.9 L108.1,222.2 L108.4,222.5 L108.6,222.8 L108.8,223.1 L108.9,223.4 L109.1,223.8 L109.3,224.1 L109.4,224.4 L109.5,224.9 L109.6,225.4 L109.6,225.9 L109.6,226.4 L109.5,226.9 L109.4,227.4 L109.4,227.6 L109.2,228.1 L109.1,228.4 L108.9,228.7 L108.6,229.1 L108.5,229.4 L108.3,229.6 L108.0,229.9 L107.8,230.1 L107.5,230.4 L107.2,230.6 L106.9,230.8 L106.6,230.9 L106.2,231.1 L105.9,231.3 L105.6,231.4 L105.1,231.5 L104.7,231.6 L104.4,231.7 L103.9,231.8 L103.4,231.8 L103.1,231.9Z M11.9,240.6 L11.4,240.7 L10.9,240.8 L10.4,240.8 L9.9,240.8 L9.4,240.9 L8.9,240.9 L8.4,240.8 L7.9,240.8 L7.4,240.8 L6.9,240.7 L6.4,240.7 L6.1,240.6 L5.6,240.5 L5.1,240.4 L4.9,240.4 L4.4,240.3 L3.9,240.1 L3.6,240.0 L3.2,239.9 L2.9,239.8 L2.5,239.6 L2.1,239.5 L1.9,239.4 L1.4,239.2 L1.1,239.1 L0.6,238.9 L0.4,238.9 L0.1,238.6 L0.0,238.1 L0.0,237.6 L0.0,237.1 L0.0,236.6 L0.0,236.1 L0.0,235.6 L0.0,235.1 L0.0,234.6 L0.0,234.1 L0.0,233.6 L0.0,233.1 L0.0,232.6 L0.0,232.1 L0.0,231.6 L0.0,231.1 L0.0,230.6 L0.0,230.1 L0.0,229.6 L0.0,229.1 L0.1,228.6 L0.1,228.1 L0.4,228.1 L0.9,228.0 L1.3,227.9 L1.6,227.7 L1.9,227.6 L2.4,227.4 L2.6,227.3 L3.1,227.2 L3.4,227.1 L3.9,227.0 L4.4,226.9 L4.6,226.8 L5.1,226.8 L5.6,226.8 L6.1,226.8 L6.6,226.8 L7.1,226.8 L7.6,226.8 L8.1,226.8 L8.6,226.8 L9.0,226.9 L9.4,226.9 L9.9,227.0 L10.4,227.0 L10.9,227.0 L11.4,227.1 L11.6,227.1 L12.1,227.2 L12.6,227.3 L13.1,227.3 L13.4,227.4 L13.9,227.5 L14.4,227.5 L14.8,227.6 L15.1,227.7 L15.6,227.8 L15.9,227.9 L16.4,228.0 L16.6,228.1 L17.1,228.4 L17.4,228.5 L17.6,228.6 L18.0,228.9 L18.3,229.1 L18.6,229.4 L18.9,229.6 L19.1,229.9 L19.3,230.1 L19.5,230.4 L19.7,230.6 L19.9,230.9 L20.1,231.4 L20.2,231.6 L20.4,232.0 L20.5,232.4 L20.6,232.9 L20.6,233.4 L20.6,233.9 L20.5,234.4 L20.4,234.9 L20.3,235.1 L20.1,235.6 L20.0,235.9 L19.9,236.1 L19.6,236.5 L19.4,236.8 L19.1,237.1 L18.9,237.4 L18.6,237.6 L18.4,237.9 L18.1,238.1 L17.9,238.3 L17.6,238.4 L17.4,238.6 L17.0,238.9 L16.6,239.1 L16.4,239.2 L16.0,239.4 L15.6,239.6 L15.4,239.7 L14.9,239.9 L14.6,239.9 L14.1,240.1 L13.9,240.2 L13.4,240.3 L13.1,240.4 L12.6,240.5 L12.1,240.6 L11.9,240.6Z M161.6,257.9 L161.1,257.9 L160.6,258.0 L160.1,258.0 L159.6,258.0 L159.1,258.0 L158.6,258.0 L158.1,258.0 L157.6,258.0 L157.1,258.0 L156.6,258.0 L156.1,258.0 L155.6,258.0 L155.1,257.9 L154.6,257.9 L154.3,257.9 L153.9,257.8 L153.4,257.8 L152.9,257.7 L152.4,257.7 L151.9,257.7 L151.6,257.6 L151.1,257.6 L150.6,257.5 L150.1,257.4 L149.8,257.4 L149.4,257.3 L148.9,257.2 L148.4,257.1 L148.1,257.1 L147.6,257.0 L147.1,256.9 L146.9,256.8 L146.4,256.7 L146.0,256.6 L145.6,256.5 L145.1,256.4 L144.9,256.3 L144.4,256.2 L144.1,256.1 L143.6,256.0 L143.3,255.9 L142.9,255.7 L142.5,255.6 L142.1,255.5 L141.8,255.4 L141.4,255.2 L141.1,255.1 L140.6,255.0 L140.4,254.9 L139.9,254.6 L139.6,254.5 L139.3,254.4 L138.9,254.2 L138.6,254.1 L138.3,253.9 L137.9,253.7 L137.6,253.6 L137.3,253.4 L136.9,253.1 L136.6,253.0 L136.4,252.9 L136.0,252.6 L135.6,252.4 L135.4,252.2 L135.1,252.0 L134.9,251.9 L134.6,251.6 L134.3,251.4 L134.0,251.1 L133.7,250.9 L133.5,250.6 L133.3,250.4 L133.1,250.1 L132.9,249.8 L132.7,249.4 L132.6,249.1 L132.4,248.7 L132.3,248.4 L132.1,248.0 L132.0,247.6 L131.9,247.2 L131.8,246.9 L131.6,246.5 L131.5,246.1 L131.4,245.7 L131.3,245.4 L131.1,244.9 L131.1,244.6 L131.0,244.1 L131.0,243.6 L131.1,243.1 L131.2,242.9 L131.4,242.6 L131.6,242.3 L131.9,242.0 L132.1,241.7 L132.4,241.5 L132.6,241.2 L132.9,241.0 L133.1,240.7 L133.4,240.5 L133.6,240.2 L133.9,240.0 L134.1,239.7 L134.4,239.5 L134.6,239.2 L134.9,239.0 L135.1,238.7 L135.4,238.5 L135.6,238.2 L135.9,237.9 L136.1,237.6 L136.3,237.4 L136.6,237.1 L136.8,236.9 L137.0,236.6 L137.2,236.4 L137.4,236.1 L137.6,235.8 L137.9,235.5 L138.1,235.2 L138.4,234.9 L138.6,234.7 L138.9,234.4 L139.1,234.1 L139.4,233.9 L139.6,233.7 L139.9,233.5 L140.1,233.4 L140.6,233.1 L140.9,233.0 L141.1,232.9 L141.6,232.7 L141.9,232.6 L142.4,232.4 L142.6,232.3 L143.1,232.2 L143.4,232.1 L143.9,231.9 L144.1,231.9 L144.6,231.7 L145.0,231.6 L145.4,231.5 L145.9,231.4 L146.1,231.4 L146.6,231.2 L147.1,231.1 L147.4,231.1 L147.9,231.0 L148.3,230.9 L148.6,230.8 L149.1,230.7 L149.6,230.7 L149.9,230.6 L150.4,230.5 L150.9,230.5 L151.4,230.4 L151.6,230.4 L152.1,230.3 L152.6,230.3 L153.1,230.2 L153.6,230.2 L154.1,230.1 L154.4,230.1 L154.9,230.1 L155.4,230.0 L155.9,230.0 L156.4,230.0 L156.9,230.0 L157.4,230.0 L157.9,230.0 L158.4,230.0 L158.9,230.0 L159.4,230.0 L159.9,230.0 L160.4,230.0 L160.9,230.1 L161.4,230.1 L161.7,230.1 L162.1,230.2 L162.6,230.2 L163.1,230.3 L163.6,230.3 L164.1,230.3 L164.4,230.4 L164.9,230.4 L165.4,230.5 L165.9,230.6 L166.2,230.6 L166.6,230.7 L167.1,230.8 L167.6,230.9 L167.9,230.9 L168.4,231.1 L168.6,231.1 L169.1,231.3 L169.4,231.4 L169.8,231.6 L170.1,231.8 L170.4,231.9 L170.7,232.1 L171.1,232.4 L171.4,232.5 L171.6,232.7 L171.9,232.9 L172.3,233.1 L172.6,233.3 L172.9,233.5 L173.1,233.6 L173.5,233.9 L173.9,234.1 L174.1,234.3 L174.4,234.4 L174.6,234.6 L175.0,234.9 L175.3,235.1 L175.6,235.3 L175.9,235.5 L176.1,235.7 L176.4,235.9 L176.7,236.1 L177.0,236.4 L177.3,236.6 L177.6,236.9 L177.9,237.1 L178.1,237.3 L178.4,237.5 L178.6,237.7 L178.9,237.9 L179.2,238.1 L179.5,238.4 L179.7,238.6 L180.0,238.9 L180.3,239.1 L180.6,239.4 L180.9,239.6 L181.1,239.8 L181.4,240.1 L181.6,240.3 L181.9,240.6 L182.1,240.8 L182.4,241.1 L182.6,241.4 L182.8,241.6 L183.0,241.9 L183.2,242.1 L183.5,242.4 L183.7,242.6 L183.9,242.9 L184.1,243.2 L184.4,243.5 L184.6,243.8 L184.8,244.1 L185.0,244.4 L185.1,244.7 L185.3,245.1 L185.4,245.5 L185.4,245.9 L185.4,246.4 L185.3,246.6 L185.2,247.1 L185.1,247.4 L184.9,247.8 L184.7,248.1 L184.5,248.4 L184.4,248.6 L184.1,248.9 L183.9,249.3 L183.6,249.6 L183.4,249.9 L183.1,250.1 L182.9,250.4 L182.6,250.6 L182.4,250.9 L182.1,251.1 L181.9,251.3 L181.6,251.5 L181.4,251.7 L181.1,251.9 L180.8,252.1 L180.4,252.4 L180.1,252.5 L179.9,252.7 L179.6,252.9 L179.2,253.1 L178.9,253.3 L178.6,253.4 L178.2,253.6 L177.9,253.8 L177.6,253.9 L177.2,254.1 L176.9,254.3 L176.6,254.4 L176.2,254.6 L175.9,254.8 L175.6,254.9 L175.1,255.1 L174.9,255.1 L174.4,255.3 L174.1,255.4 L173.6,255.6 L173.4,255.7 L172.9,255.8 L172.6,255.9 L172.1,256.1 L171.9,256.1 L171.4,256.3 L171.0,256.4 L170.6,256.5 L170.1,256.6 L169.9,256.6 L169.4,256.8 L168.9,256.9 L168.6,256.9 L168.1,257.0 L167.7,257.1 L167.4,257.2 L166.9,257.3 L166.4,257.3 L166.1,257.4 L165.6,257.5 L165.1,257.5 L164.6,257.6 L164.4,257.6 L163.9,257.7 L163.4,257.7 L162.9,257.8 L162.4,257.8 L161.9,257.9 L161.6,257.9Z M94.6,243.1 L94.1,243.2 L93.6,243.2 L93.1,243.2 L92.6,243.2 L92.1,243.2 L91.6,243.2 L91.3,243.1 L90.9,243.0 L90.4,242.9 L90.1,242.7 L89.9,242.5 L89.6,242.2 L89.4,241.9 L89.3,241.6 L89.2,241.1 L89.2,240.6 L89.4,240.1 L89.5,239.9 L89.6,239.6 L89.9,239.3 L90.1,239.1 L90.4,238.9 L90.7,238.6 L91.1,238.4 L91.4,238.3 L91.6,238.1 L92.1,237.9 L92.4,237.8 L92.9,237.6 L93.1,237.5 L93.6,237.4 L93.9,237.3 L94.4,237.2 L94.7,237.1 L95.1,237.0 L95.6,237.0 L96.1,236.9 L96.6,236.9 L97.1,236.9 L97.6,237.0 L98.1,237.1 L98.6,237.1 L98.9,237.2 L99.4,237.3 L99.9,237.4 L100.1,237.4 L100.6,237.5 L101.0,237.6 L101.4,237.7 L101.9,237.9 L102.1,237.9 L102.6,238.1 L102.9,238.2 L103.4,238.4 L103.6,238.5 L103.9,238.6 L104.3,238.9 L104.6,239.1 L104.8,239.4 L104.9,239.6 L104.9,240.1 L104.8,240.4 L104.6,240.6 L104.3,240.9 L104.0,241.1 L103.6,241.3 L103.4,241.4 L102.9,241.6 L102.6,241.7 L102.1,241.9 L101.9,241.9 L101.4,242.1 L101.1,242.1 L100.6,242.2 L100.1,242.3 L99.9,242.4 L99.4,242.5 L98.9,242.6 L98.6,242.6 L98.1,242.7 L97.6,242.8 L97.1,242.8 L96.9,242.9 L96.4,242.9 L95.9,243.0 L95.4,243.1 L94.9,243.1 L94.6,243.1Z M48.4,261.1 L47.9,261.2 L47.4,261.2 L46.9,261.2 L46.4,261.2 L45.9,261.2 L45.4,261.2 L44.9,261.2 L44.4,261.2 L43.9,261.2 L43.4,261.2 L42.9,261.2 L42.4,261.2 L41.9,261.2 L41.4,261.2 L40.9,261.2 L40.4,261.2 L39.9,261.2 L39.4,261.2 L38.9,261.2 L38.4,261.2 L37.9,261.2 L37.4,261.2 L36.9,261.2 L36.4,261.2 L35.9,261.2 L35.4,261.2 L34.9,261.2 L34.4,261.2 L33.9,261.2 L33.4,261.2 L32.9,261.2 L32.4,261.2 L31.9,261.1 L31.9,260.6 L31.8,260.4 L31.8,259.9 L31.7,259.4 L31.7,258.9 L31.7,258.4 L31.7,257.9 L31.7,257.4 L31.6,256.9 L31.6,256.6 L31.5,256.1 L31.4,255.6 L31.3,255.4 L31.2,254.9 L31.1,254.6 L30.9,254.1 L30.8,253.9 L30.6,253.4 L30.5,253.1 L30.4,252.8 L30.1,252.4 L30.0,252.1 L29.8,251.9 L29.6,251.6 L29.4,251.2 L29.1,250.9 L28.9,250.6 L28.7,250.4 L28.5,250.1 L28.2,249.9 L28.0,249.6 L27.7,249.4 L27.5,249.1 L27.3,248.9 L27.0,248.6 L26.8,248.4 L26.6,248.1 L26.4,247.6 L26.3,247.4 L26.2,246.9 L26.3,246.4 L26.4,245.9 L26.4,245.6 L26.6,245.2 L26.8,244.9 L26.9,244.6 L27.1,244.2 L27.3,243.9 L27.5,243.6 L27.6,243.4 L27.9,243.0 L28.1,242.7 L28.4,242.4 L28.6,242.1 L28.8,241.9 L29.1,241.6 L29.3,241.4 L29.6,241.1 L29.9,240.9 L30.1,240.7 L30.4,240.5 L30.6,240.3 L30.9,240.1 L31.2,239.9 L31.6,239.6 L31.9,239.5 L32.1,239.3 L32.5,239.1 L32.9,238.9 L33.1,238.8 L33.5,238.6 L33.9,238.5 L34.1,238.4 L34.6,238.2 L34.9,238.1 L35.4,238.0 L35.7,237.9 L36.1,237.8 L36.6,237.6 L36.9,237.6 L37.4,237.5 L37.9,237.4 L38.1,237.4 L38.6,237.3 L39.1,237.3 L39.6,237.3 L40.1,237.3 L40.6,237.3 L41.1,237.3 L41.6,237.3 L41.9,237.4 L42.4,237.4 L42.9,237.5 L43.3,237.6 L43.6,237.7 L44.1,237.8 L44.4,237.9 L44.9,238.0 L45.1,238.1 L45.6,238.3 L45.9,238.4 L46.4,238.6 L46.6,238.7 L46.9,238.9 L47.3,239.1 L47.6,239.4 L47.9,239.6 L48.1,239.9 L48.2,240.1 L48.4,240.4 L48.6,240.9 L48.7,241.1 L48.8,241.6 L49.0,241.9 L49.1,242.2 L49.3,242.6 L49.5,242.9 L49.7,243.1 L49.9,243.4 L50.1,243.7 L50.4,244.0 L50.6,244.2 L50.9,244.5 L51.1,244.7 L51.4,245.0 L51.6,245.2 L51.9,245.4 L52.1,245.6 L52.4,245.9 L52.8,246.1 L53.0,246.4 L53.3,246.6 L53.5,246.9 L53.7,247.1 L53.9,247.4 L54.1,247.8 L54.2,248.1 L54.4,248.6 L54.4,248.9 L54.5,249.4 L54.5,249.9 L54.5,250.4 L54.4,250.9 L54.4,251.4 L54.4,251.6 L54.3,252.1 L54.2,252.6 L54.1,252.9 L54.0,253.4 L53.9,253.6 L53.7,254.1 L53.6,254.4 L53.4,254.9 L53.3,255.1 L53.1,255.4 L52.9,255.8 L52.7,256.1 L52.5,256.4 L52.4,256.6 L52.1,257.0 L51.9,257.3 L51.6,257.6 L51.4,257.9 L51.2,258.1 L50.9,258.4 L50.7,258.6 L50.4,258.9 L50.1,259.1 L49.9,259.3 L49.6,259.6 L49.4,259.8 L49.1,260.0 L48.9,260.3 L48.6,260.6 L48.5,260.9 L48.4,261.1Z M121.9,261.1 L121.4,261.2 L120.9,261.2 L120.4,261.2 L119.9,261.2 L119.4,261.2 L118.9,261.2 L118.4,261.2 L117.9,261.2 L117.4,261.2 L116.9,261.2 L116.4,261.2 L115.9,261.2 L115.4,261.2 L114.9,261.2 L114.4,261.2 L113.9,261.2 L113.4,261.2 L112.9,261.2 L112.4,261.2 L111.9,261.2 L111.4,261.2 L110.9,261.2 L110.4,261.2 L109.9,261.2 L109.4,261.2 L108.9,261.2 L108.4,261.2 L107.9,261.2 L107.4,261.2 L106.9,261.2 L106.4,261.2 L105.9,261.2 L105.4,261.2 L104.9,261.2 L104.4,261.2 L103.9,261.2 L103.4,261.2 L102.9,261.2 L102.4,261.2 L102.0,261.1 L101.9,260.7 L101.7,260.4 L101.4,260.1 L101.2,259.9 L100.9,259.6 L100.6,259.5 L100.4,259.3 L100.1,259.1 L99.9,258.9 L99.6,258.6 L99.3,258.4 L99.0,258.1 L98.8,257.9 L98.5,257.6 L98.3,257.4 L98.1,257.1 L97.9,256.9 L97.6,256.6 L97.4,256.2 L97.1,255.9 L97.0,255.6 L96.8,255.4 L96.6,255.1 L96.4,254.6 L96.3,254.4 L96.1,254.1 L96.0,253.6 L95.9,253.4 L95.7,252.9 L95.6,252.6 L95.5,252.1 L95.4,251.6 L95.4,251.3 L95.3,250.9 L95.3,250.4 L95.3,249.9 L95.4,249.6 L95.5,249.1 L95.6,248.8 L95.9,248.5 L96.1,248.2 L96.4,248.1 L96.8,247.9 L97.1,247.7 L97.6,247.6 L97.9,247.6 L98.4,247.5 L98.9,247.4 L99.1,247.4 L99.6,247.3 L100.1,247.2 L100.5,247.1 L100.9,247.0 L101.4,246.9 L101.6,246.9 L102.1,246.8 L102.6,246.6 L102.9,246.5 L103.4,246.4 L103.6,246.3 L104.1,246.2 L104.4,246.1 L104.9,245.9 L105.1,245.8 L105.6,245.6 L105.9,245.5 L106.1,245.4 L106.6,245.1 L106.9,245.0 L107.1,244.9 L107.6,244.6 L107.9,244.4 L108.1,244.2 L108.4,244.1 L108.6,243.9 L108.9,243.6 L109.2,243.4 L109.4,243.1 L109.7,242.9 L109.9,242.6 L110.1,242.3 L110.4,241.9 L110.5,241.6 L110.6,241.4 L110.8,240.9 L110.9,240.6 L111.0,240.1 L111.0,239.6 L111.0,239.1 L111.1,238.6 L111.2,238.4 L111.4,237.9 L111.6,237.7 L111.9,237.5 L112.2,237.4 L112.6,237.3 L113.1,237.2 L113.6,237.3 L114.1,237.3 L114.6,237.3 L115.0,237.4 L115.4,237.4 L115.9,237.5 L116.4,237.6 L116.6,237.7 L117.1,237.8 L117.4,237.9 L117.8,238.1 L118.1,238.3 L118.4,238.4 L118.6,238.6 L119.0,238.9 L119.3,239.1 L119.6,239.4 L119.9,239.6 L120.1,239.8 L120.4,240.0 L120.6,240.2 L120.9,240.4 L121.1,240.6 L121.4,240.9 L121.7,241.1 L122.0,241.4 L122.4,241.6 L122.6,241.8 L122.9,242.0 L123.1,242.2 L123.4,242.4 L123.7,242.6 L124.0,242.9 L124.4,243.1 L124.6,243.3 L124.9,243.6 L125.1,243.8 L125.4,244.1 L125.6,244.4 L125.7,244.6 L125.9,244.9 L126.1,245.4 L126.2,245.6 L126.4,246.0 L126.5,246.4 L126.6,246.6 L126.8,247.1 L126.9,247.4 L127.1,247.9 L127.2,248.1 L127.3,248.6 L127.4,248.9 L127.6,249.4 L127.7,249.6 L127.8,250.1 L127.9,250.4 L128.0,250.9 L128.1,251.4 L128.2,251.6 L128.2,252.1 L128.2,252.6 L128.1,253.1 L128.1,253.4 L127.9,253.9 L127.8,254.1 L127.6,254.5 L127.4,254.9 L127.3,255.1 L127.1,255.4 L126.9,255.8 L126.6,256.1 L126.4,256.4 L126.3,256.6 L126.1,256.9 L125.9,257.1 L125.6,257.4 L125.4,257.7 L125.1,257.9 L124.9,258.2 L124.6,258.4 L124.4,258.6 L124.1,258.9 L123.8,259.1 L123.5,259.4 L123.2,259.6 L122.9,259.8 L122.6,260.1 L122.4,260.3 L122.1,260.6 L122.0,260.9 L121.9,261.1Z M66.1,245.4 L65.6,245.4 L65.1,245.4 L64.6,245.5 L64.1,245.5 L63.6,245.4 L63.2,245.4 L62.9,245.3 L62.4,245.2 L62.0,245.1 L61.6,245.0 L61.2,244.9 L60.9,244.8 L60.5,244.6 L60.1,244.5 L59.9,244.4 L59.4,244.2 L59.1,244.1 L58.7,243.9 L58.4,243.7 L58.1,243.6 L57.6,243.4 L57.4,243.2 L57.1,243.1 L56.7,242.9 L56.4,242.7 L56.1,242.5 L55.8,242.4 L55.5,242.1 L55.1,241.9 L54.9,241.7 L54.6,241.5 L54.4,241.2 L54.1,240.9 L54.0,240.6 L53.9,240.4 L53.8,239.9 L53.9,239.4 L54.0,239.1 L54.1,238.9 L54.4,238.6 L54.7,238.4 L55.1,238.1 L55.4,238.0 L55.8,237.9 L56.1,237.8 L56.6,237.7 L57.0,237.6 L57.4,237.6 L57.9,237.5 L58.4,237.5 L58.9,237.5 L59.4,237.6 L59.9,237.6 L60.2,237.6 L60.6,237.7 L61.1,237.7 L61.6,237.7 L62.1,237.7 L62.6,237.7 L63.1,237.7 L63.6,237.8 L64.1,237.8 L64.6,237.8 L65.1,237.8 L65.6,237.8 L66.1,237.8 L66.5,237.9 L66.9,237.9 L67.4,237.9 L67.9,238.0 L68.4,238.0 L68.9,238.0 L69.4,238.0 L69.9,238.0 L70.4,238.0 L70.9,238.1 L71.4,238.1 L71.7,238.1 L72.1,238.2 L72.6,238.2 L73.1,238.2 L73.6,238.2 L74.1,238.3 L74.6,238.3 L75.1,238.3 L75.6,238.3 L75.9,238.4 L76.4,238.4 L76.9,238.5 L77.4,238.6 L77.6,238.6 L78.1,238.8 L78.4,238.9 L78.8,239.1 L79.1,239.3 L79.4,239.5 L79.6,239.8 L79.8,240.1 L79.9,240.4 L80.1,240.9 L80.0,241.4 L79.9,241.8 L79.7,242.1 L79.5,242.4 L79.2,242.6 L78.9,242.9 L78.6,243.1 L78.4,243.2 L78.1,243.4 L77.6,243.6 L77.4,243.7 L77.0,243.9 L76.6,244.0 L76.3,244.1 L75.9,244.2 L75.4,244.4 L75.1,244.4 L74.6,244.5 L74.1,244.6 L73.9,244.7 L73.4,244.7 L72.9,244.8 L72.4,244.8 L71.9,244.8 L71.5,244.9 L71.1,244.9 L70.6,245.0 L70.1,245.0 L69.6,245.0 L69.1,245.1 L68.6,245.1 L68.4,245.1 L67.9,245.2 L67.4,245.2 L66.9,245.3 L66.4,245.4 L66.1,245.4Z M259.4,261.1 L258.9,261.2 L258.4,261.2 L257.9,261.2 L257.4,261.2 L256.9,261.2 L256.4,261.2 L255.9,261.2 L255.4,261.2 L254.9,261.2 L254.4,261.2 L253.9,261.2 L253.4,261.2 L252.9,261.2 L252.4,261.2 L251.9,261.2 L251.4,261.2 L250.9,261.2 L250.4,261.2 L249.9,261.2 L249.4,261.2 L248.9,261.2 L248.4,261.2 L247.9,261.2 L247.4,261.2 L246.9,261.2 L246.4,261.2 L245.9,261.2 L245.4,261.2 L244.9,261.2 L244.4,261.2 L243.9,261.2 L243.4,261.2 L242.9,261.2 L242.4,261.2 L241.9,261.2 L241.4,261.2 L240.9,261.2 L240.4,261.2 L239.9,261.2 L239.4,261.2 L238.9,261.2 L238.4,261.2 L237.9,261.2 L237.4,261.2 L236.9,261.2 L236.4,261.2 L235.9,261.2 L235.4,261.1 L235.3,260.9 L235.1,260.4 L235.0,260.1 L234.9,259.8 L234.6,259.4 L234.5,259.1 L234.4,258.9 L234.2,258.4 L234.1,258.1 L233.9,257.6 L233.8,257.4 L233.7,256.9 L233.7,256.4 L233.7,255.9 L233.7,255.4 L233.8,254.9 L233.9,254.6 L234.1,254.2 L234.4,253.9 L234.6,253.6 L234.8,253.4 L235.1,253.1 L235.4,252.9 L235.6,252.8 L235.9,252.6 L236.3,252.4 L236.6,252.2 L236.9,252.0 L237.2,251.9 L237.6,251.7 L237.9,251.6 L238.3,251.4 L238.6,251.2 L238.9,251.1 L239.4,250.9 L239.6,250.8 L240.1,250.6 L240.4,250.5 L240.9,250.4 L241.1,250.3 L241.6,250.2 L241.9,250.1 L242.4,250.0 L242.9,249.9 L243.1,249.8 L243.6,249.7 L244.1,249.6 L244.4,249.6 L244.9,249.5 L245.4,249.4 L245.7,249.4 L246.1,249.3 L246.6,249.3 L247.1,249.2 L247.6,249.2 L248.1,249.1 L248.4,249.1 L248.9,249.1 L249.4,249.1 L249.9,249.1 L250.4,249.1 L250.6,249.1 L251.1,249.2 L251.6,249.2 L252.1,249.3 L252.6,249.3 L253.1,249.4 L253.4,249.4 L253.9,249.5 L254.4,249.5 L254.9,249.6 L255.1,249.7 L255.6,249.8 L255.9,249.9 L256.4,250.0 L256.6,250.1 L257.1,250.4 L257.4,250.5 L257.6,250.7 L257.9,250.9 L258.3,251.1 L258.6,251.3 L258.9,251.4 L259.4,251.5 L259.4,251.9 L259.5,252.4 L259.5,252.9 L259.5,253.4 L259.5,253.9 L259.5,254.4 L259.5,254.9 L259.5,255.4 L259.5,255.9 L259.5,256.4 L259.5,256.9 L259.5,257.4 L259.5,257.9 L259.5,258.4 L259.5,258.9 L259.5,259.4 L259.4,259.9 L259.4,260.4 L259.4,260.9 L259.4,261.1Z M80.1,261.1 L79.6,261.2 L79.1,261.2 L78.6,261.2 L78.1,261.2 L77.6,261.2 L77.1,261.2 L76.6,261.2 L76.1,261.2 L75.6,261.2 L75.1,261.2 L74.6,261.2 L74.1,261.2 L73.6,261.2 L73.1,261.2 L72.6,261.2 L72.1,261.2 L71.6,261.2 L71.1,261.2 L70.6,261.2 L70.1,261.2 L69.6,261.2 L69.1,261.2 L68.6,261.2 L68.1,261.2 L67.6,261.2 L67.1,261.2 L66.6,261.2 L66.1,261.2 L65.9,261.1 L65.7,260.6 L65.5,260.4 L65.3,260.1 L65.1,259.9 L64.9,259.6 L64.6,259.4 L64.4,259.1 L64.1,258.8 L63.9,258.4 L63.7,258.1 L63.6,257.9 L63.4,257.4 L63.3,257.1 L63.2,256.6 L63.1,256.1 L63.1,255.6 L63.2,255.1 L63.4,254.6 L63.5,254.4 L63.6,254.0 L63.8,253.6 L64.0,253.4 L64.2,253.1 L64.4,252.9 L64.7,252.6 L64.9,252.4 L65.2,252.1 L65.6,251.9 L65.9,251.7 L66.1,251.5 L66.4,251.4 L66.8,251.1 L67.1,251.0 L67.4,250.9 L67.9,250.7 L68.1,250.6 L68.6,250.4 L68.9,250.3 L69.4,250.2 L69.7,250.1 L70.1,250.0 L70.6,249.9 L71.1,249.9 L71.4,249.8 L71.9,249.8 L72.4,249.8 L72.9,249.8 L73.4,249.8 L73.9,249.8 L74.4,249.8 L74.9,249.9 L75.1,249.9 L75.6,250.0 L76.1,250.1 L76.4,250.1 L76.9,250.3 L77.3,250.4 L77.6,250.5 L78.0,250.6 L78.4,250.8 L78.6,250.9 L79.1,251.1 L79.4,251.2 L79.6,251.4 L80.1,251.6 L80.4,251.8 L80.6,252.0 L80.9,252.2 L81.1,252.4 L81.4,252.7 L81.6,252.9 L81.9,253.2 L82.1,253.6 L82.3,253.9 L82.4,254.1 L82.6,254.6 L82.7,254.9 L82.8,255.4 L82.9,255.9 L82.9,256.4 L82.8,256.9 L82.6,257.4 L82.5,257.6 L82.4,258.0 L82.2,258.4 L82.0,258.6 L81.8,258.9 L81.6,259.1 L81.4,259.4 L81.1,259.6 L80.9,259.9 L80.6,260.2 L80.4,260.5 L80.2,260.9 L80.1,261.1Z M224.6,261.1 L224.1,261.2 L223.6,261.2 L223.1,261.2 L222.6,261.2 L222.1,261.2 L221.6,261.2 L221.1,261.2 L220.6,261.2 L220.1,261.2 L219.6,261.2 L219.1,261.2 L218.6,261.2 L218.1,261.2 L217.6,261.2 L217.1,261.2 L216.6,261.2 L216.1,261.2 L215.6,261.2 L215.1,261.2 L214.6,261.2 L214.1,261.2 L213.6,261.2 L213.1,261.2 L212.6,261.2 L212.1,261.2 L211.6,261.2 L211.1,261.2 L210.6,261.2 L210.1,261.2 L209.6,261.2 L209.1,261.2 L208.6,261.2 L208.1,261.2 L207.6,261.2 L207.1,261.2 L206.6,261.2 L206.1,261.2 L205.6,261.2 L205.1,261.2 L204.6,261.2 L204.4,261.1 L204.4,260.8 L204.4,260.4 L204.5,259.9 L204.6,259.5 L204.7,259.1 L204.9,258.6 L204.9,258.4 L205.0,257.9 L205.1,257.4 L205.1,257.1 L205.2,256.6 L205.2,256.1 L205.2,255.6 L205.2,255.1 L205.1,254.7 L205.1,254.4 L205.0,253.9 L204.9,253.4 L204.8,253.1 L204.7,252.6 L204.6,252.1 L204.6,251.9 L204.6,251.6 L204.8,251.1 L204.9,250.9 L205.1,250.6 L205.6,250.4 L205.9,250.3 L206.4,250.1 L206.6,250.1 L207.1,250.1 L207.6,250.0 L208.1,250.0 L208.6,250.0 L209.1,250.0 L209.6,250.0 L210.1,250.0 L210.6,250.0 L211.1,250.0 L211.6,250.0 L212.1,250.1 L212.6,250.1 L212.9,250.1 L213.4,250.2 L213.9,250.2 L214.4,250.3 L214.9,250.3 L215.1,250.4 L215.6,250.5 L216.1,250.5 L216.6,250.6 L216.9,250.7 L217.4,250.8 L217.9,250.9 L218.1,250.9 L218.6,251.0 L219.0,251.1 L219.4,251.2 L219.9,251.4 L220.1,251.4 L220.6,251.6 L220.9,251.6 L221.4,251.8 L221.6,251.9 L222.1,252.0 L222.4,252.1 L222.9,252.3 L223.1,252.4 L223.6,252.6 L223.9,252.8 L224.1,252.9 L224.6,253.1 L224.9,253.3 L225.1,253.4 L225.4,253.6 L225.7,253.9 L225.9,254.1 L226.1,254.5 L226.3,254.9 L226.4,255.1 L226.5,255.6 L226.5,256.1 L226.5,256.6 L226.4,257.1 L226.4,257.4 L226.2,257.9 L226.1,258.1 L225.9,258.6 L225.7,258.9 L225.6,259.1 L225.4,259.5 L225.2,259.9 L225.0,260.1 L224.9,260.5 L224.7,260.9 L224.6,261.1Z M26.4,261.1 L25.9,261.2 L25.4,261.2 L24.9,261.2 L24.4,261.2 L23.9,261.2 L23.4,261.2 L22.9,261.2 L22.4,261.2 L21.9,261.2 L21.4,261.2 L20.9,261.2 L20.4,261.2 L19.9,261.2 L19.4,261.2 L18.9,261.2 L18.4,261.2 L17.9,261.2 L17.4,261.2 L16.9,261.2 L16.4,261.1 L16.4,260.9 L16.2,260.4 L16.0,260.1 L15.9,259.9 L15.6,259.5 L15.4,259.2 L15.2,258.9 L15.0,258.6 L14.9,258.3 L14.7,257.9 L14.6,257.6 L14.4,257.1 L14.4,256.7 L14.3,256.4 L14.3,255.9 L14.4,255.4 L14.4,255.1 L14.5,254.6 L14.6,254.2 L14.8,253.9 L14.9,253.6 L15.1,253.2 L15.3,252.9 L15.5,252.6 L15.8,252.4 L16.0,252.1 L16.2,251.9 L16.5,251.6 L16.9,251.4 L17.1,251.2 L17.4,251.0 L17.7,250.9 L18.1,250.7 L18.4,250.6 L18.9,250.4 L19.1,250.4 L19.6,250.3 L20.1,250.3 L20.4,250.4 L20.9,250.5 L21.2,250.6 L21.6,250.8 L21.9,250.9 L22.2,251.1 L22.6,251.4 L22.9,251.5 L23.1,251.7 L23.4,251.9 L23.7,252.1 L24.1,252.4 L24.3,252.6 L24.6,252.9 L24.8,253.1 L25.0,253.4 L25.2,253.6 L25.4,253.9 L25.6,254.2 L25.9,254.6 L26.0,254.9 L26.1,255.1 L26.3,255.6 L26.4,255.9 L26.6,256.4 L26.7,256.6 L26.8,257.1 L26.8,257.6 L26.8,258.1 L26.8,258.6 L26.8,259.1 L26.7,259.6 L26.6,259.9 L26.6,260.4 L26.5,260.9 L26.4,261.1Z M199.1,261.1 L198.6,261.2 L198.1,261.2 L197.6,261.2 L197.1,261.2 L196.6,261.2 L196.1,261.2 L195.6,261.2 L195.1,261.2 L194.6,261.2 L194.1,261.2 L193.6,261.2 L193.1,261.2 L192.6,261.2 L192.1,261.2 L191.6,261.2 L191.2,261.1 L191.1,260.6 L191.0,260.4 L190.9,260.1 L190.6,259.7 L190.4,259.4 L190.2,259.1 L190.0,258.9 L189.9,258.6 L189.6,258.1 L189.5,257.9 L189.4,257.4 L189.3,257.1 L189.2,256.6 L189.2,256.1 L189.3,255.6 L189.4,255.2 L189.5,254.9 L189.6,254.6 L189.9,254.2 L190.1,253.9 L190.2,253.6 L190.4,253.4 L190.7,253.1 L190.9,252.9 L191.1,252.6 L191.5,252.4 L191.8,252.1 L192.1,251.9 L192.4,251.8 L192.9,251.6 L193.1,251.5 L193.6,251.4 L193.9,251.4 L194.4,251.3 L194.9,251.2 L195.4,251.1 L195.6,251.1 L196.1,251.1 L196.6,251.1 L197.1,251.1 L197.4,251.1 L197.9,251.3 L198.1,251.4 L198.5,251.6 L198.8,251.9 L199.1,252.1 L199.3,252.4 L199.4,252.6 L199.6,253.0 L199.8,253.4 L199.9,253.6 L200.1,254.1 L200.2,254.4 L200.3,254.9 L200.3,255.4 L200.4,255.7 L200.4,256.1 L200.4,256.5 L200.3,256.9 L200.3,257.4 L200.2,257.9 L200.1,258.1 L199.9,258.6 L199.9,258.9 L199.7,259.4 L199.6,259.6 L199.5,260.1 L199.4,260.5 L199.3,260.9 L199.1,261.1Z M136.1,261.2 L135.6,261.2 L135.1,261.2 L134.6,261.2 L134.1,261.2 L133.6,261.2 L133.1,261.2 L132.6,261.2 L132.1,261.2 L131.6,261.2 L131.1,261.2 L130.6,261.2 L130.4,260.9 L130.4,260.4 L130.5,259.9 L130.6,259.4 L130.7,259.1 L130.9,258.7 L131.1,258.4 L131.4,258.2 L131.6,258.0 L132.0,257.9 L132.4,257.8 L132.9,257.7 L133.4,257.7 L133.9,257.8 L134.1,257.9 L134.6,258.1 L134.9,258.2 L135.1,258.4 L135.4,258.6 L135.7,258.9 L135.9,259.2 L136.1,259.6 L136.2,259.9 L136.3,260.4 L136.4,260.9 L136.1,261.2Z"/></g></g>
<text x="1774.25" y="87.50" font-size="31" fill="#fff" textLength="66.79" lengthAdjust="spacingAndGlyphs">PBS</text>
<rect x="1789" y="280" width="86" height="6" fill="#fff"/>
<rect x="1790" y="557.2" width="86" height="6.1" fill="#fff"/>
<text x="1775.66" y="370.40" font-size="33" fill="#fff" textLength="69.40" lengthAdjust="spacingAndGlyphs">BafA</text>
<text x="1845.36" y="377.40" font-size="22.5" font-style="italic" fill="#fff">Bq</text>
<text x="1873.18" y="370.40" font-size="33" fill="#fff" textLength="55.13" lengthAdjust="spacingAndGlyphs">-PD</text>
<line x1="155.50" y1="595.70" x2="155.50" y2="897.10" stroke="#000" stroke-width="3" stroke-linecap="butt"/>
<line x1="146.00" y1="895.60" x2="155.50" y2="895.60" stroke="#000" stroke-width="3" stroke-linecap="butt"/>
<text x="116.22" y="906.60" font-size="33">0</text>
<line x1="146.00" y1="835.92" x2="155.50" y2="835.92" stroke="#000" stroke-width="3" stroke-linecap="butt"/>
<text x="97.91" y="846.92" font-size="33">20</text>
<line x1="146.00" y1="776.24" x2="155.50" y2="776.24" stroke="#000" stroke-width="3" stroke-linecap="butt"/>
<text x="97.91" y="787.24" font-size="33">40</text>
<line x1="146.00" y1="716.56" x2="155.50" y2="716.56" stroke="#000" stroke-width="3" stroke-linecap="butt"/>
<text x="97.91" y="727.56" font-size="33">60</text>
<line x1="146.00" y1="656.88" x2="155.50" y2="656.88" stroke="#000" stroke-width="3" stroke-linecap="butt"/>
<text x="97.91" y="667.88" font-size="33">80</text>
<line x1="146.00" y1="597.20" x2="155.50" y2="597.20" stroke="#000" stroke-width="3" stroke-linecap="butt"/>
<text x="79.51" y="608.20" font-size="33">100</text>
<rect x="184.60" y="825.40" width="50.80" height="70.20" rx="0" fill="#fff" stroke="#000" stroke-width="3"/>
<line x1="210.00" y1="825.40" x2="210.00" y2="820.90" stroke="#000" stroke-width="3" stroke-linecap="butt"/>
<line x1="196.90" y1="820.90" x2="223.10" y2="820.90" stroke="#000" stroke-width="3" stroke-linecap="butt"/>
<circle cx="189.0" cy="825.2" r="5.9" fill="none" stroke="#000" stroke-width="1.4"/>
<circle cx="199.2" cy="818.0" r="5.9" fill="none" stroke="#000" stroke-width="1.4"/>
<circle cx="209.2" cy="825.2" r="5.9" fill="none" stroke="#000" stroke-width="1.4"/>
<circle cx="219.5" cy="824.2" r="5.9" fill="none" stroke="#000" stroke-width="1.4"/>
<circle cx="230.2" cy="827.3" r="5.9" fill="none" stroke="#000" stroke-width="1.4"/>
<rect x="264.80" y="669.50" width="50.80" height="226.10" rx="0" fill="#ffa0a0" stroke="#9c0000" stroke-width="3"/>
<line x1="290.20" y1="669.50" x2="290.20" y2="654.10" stroke="#9c0000" stroke-width="3" stroke-linecap="butt"/>
<line x1="276.70" y1="654.10" x2="303.70" y2="654.10" stroke="#9c0000" stroke-width="3" stroke-linecap="butt"/>
<circle cx="269.6" cy="649.2" r="5.9" fill="none" stroke="#000" stroke-width="1.4"/>
<circle cx="289.9" cy="658.0" r="5.9" fill="none" stroke="#000" stroke-width="1.4"/>
<circle cx="269.6" cy="679.4" r="5.9" fill="none" stroke="#000" stroke-width="1.4"/>
<circle cx="289.9" cy="675.3" r="5.9" fill="none" stroke="#000" stroke-width="1.4"/>
<circle cx="310.5" cy="677.4" r="5.9" fill="none" stroke="#000" stroke-width="1.4"/>
<line x1="146.00" y1="895.60" x2="346.10" y2="895.60" stroke="#000" stroke-width="3" stroke-linecap="butt"/>
<line x1="209.60" y1="895.60" x2="209.60" y2="904.60" stroke="#000" stroke-width="3" stroke-linecap="butt"/>
<line x1="290.40" y1="895.60" x2="290.40" y2="904.60" stroke="#000" stroke-width="3" stroke-linecap="butt"/>
<path d="M209.9,635.9 V630.7 H290.2 V635.9" fill="none" stroke="#000" stroke-width="3.5"/>
<text x="184.23" y="621.70" font-size="29" font-style="italic">P</text>
<text x="205.25" y="621.70" font-size="29">&lt;</text>
<text x="231.50" y="621.70" font-size="29" textLength="83.93" lengthAdjust="spacingAndGlyphs">0.0001</text>
<g transform="translate(25.00,745.20) rotate(-90)">
<text x="-155.02" y="0.00" font-size="33" textLength="310.03" lengthAdjust="spacingAndGlyphs">Total tube length/field</text>
</g>
<g transform="translate(62.50,746.60) rotate(-90)">
<text x="-38.25" y="0.00" font-size="33" textLength="76.50" lengthAdjust="spacingAndGlyphs">(mm)</text>
</g>
<g transform="translate(229.90,926.40) rotate(-45)">
<text x="-66.03" y="0.00" font-size="33">PBS</text>
</g>
<g transform="translate(310.00,925.40) rotate(-45)">
<text x="-155.90" y="0.00" font-size="33">BafA</text>
<text x="-84.35" y="7.00" font-size="22.5" font-style="italic">Bq</text>
<text x="-56.83" y="0.00" font-size="33">-PD</text>
</g>
<line x1="569.10" y1="597.60" x2="569.10" y2="898.60" stroke="#000" stroke-width="3" stroke-linecap="butt"/>
<line x1="559.30" y1="897.10" x2="569.10" y2="897.10" stroke="#000" stroke-width="3" stroke-linecap="butt"/>
<text x="531.02" y="907.40" font-size="33">0</text>
<line x1="559.30" y1="837.50" x2="569.10" y2="837.50" stroke="#000" stroke-width="3" stroke-linecap="butt"/>
<text x="494.31" y="847.80" font-size="33">200</text>
<line x1="559.30" y1="777.90" x2="569.10" y2="777.90" stroke="#000" stroke-width="3" stroke-linecap="butt"/>
<text x="494.31" y="788.20" font-size="33">400</text>
<line x1="559.30" y1="718.30" x2="569.10" y2="718.30" stroke="#000" stroke-width="3" stroke-linecap="butt"/>
<text x="494.31" y="728.60" font-size="33">600</text>
<line x1="559.30" y1="658.70" x2="569.10" y2="658.70" stroke="#000" stroke-width="3" stroke-linecap="butt"/>
<text x="494.31" y="669.00" font-size="33">800</text>
<line x1="559.30" y1="599.10" x2="569.10" y2="599.10" stroke="#000" stroke-width="3" stroke-linecap="butt"/>
<text x="476.00" y="609.40" font-size="33">1000</text>
<rect x="597.60" y="878.30" width="50.80" height="18.80" rx="0" fill="#fff" stroke="#000" stroke-width="3"/>
<line x1="623.00" y1="878.30" x2="623.00" y2="869.90" stroke="#000" stroke-width="3" stroke-linecap="butt"/>
<line x1="609.80" y1="869.90" x2="636.20" y2="869.90" stroke="#000" stroke-width="3" stroke-linecap="butt"/>
<circle cx="622.6" cy="864.4" r="5.9" fill="none" stroke="#000" stroke-width="1.4"/>
<circle cx="602.3" cy="881.4" r="5.9" fill="none" stroke="#000" stroke-width="1.4"/>
<circle cx="615.7" cy="878.5" r="5.9" fill="none" stroke="#000" stroke-width="1.4"/>
<circle cx="629.5" cy="878.8" r="5.9" fill="none" stroke="#000" stroke-width="1.4"/>
<circle cx="643.6" cy="878.8" r="5.9" fill="none" stroke="#000" stroke-width="1.4"/>
<rect x="678.20" y="678.60" width="50.80" height="218.50" rx="0" fill="#ffa0a0" stroke="#9c0000" stroke-width="3"/>
<line x1="703.60" y1="678.60" x2="703.60" y2="658.50" stroke="#9c0000" stroke-width="3" stroke-linecap="butt"/>
<line x1="690.30" y1="658.50" x2="716.90" y2="658.50" stroke="#9c0000" stroke-width="3" stroke-linecap="butt"/>
<circle cx="682.9" cy="655.4" r="5.9" fill="none" stroke="#000" stroke-width="1.4"/>
<circle cx="703.5" cy="658.0" r="5.9" fill="none" stroke="#000" stroke-width="1.4"/>
<circle cx="682.9" cy="691.5" r="5.9" fill="none" stroke="#000" stroke-width="1.4"/>
<circle cx="703.5" cy="687.4" r="5.9" fill="none" stroke="#000" stroke-width="1.4"/>
<circle cx="724.1" cy="690.5" r="5.9" fill="none" stroke="#000" stroke-width="1.4"/>
<line x1="559.30" y1="897.10" x2="759.20" y2="897.10" stroke="#000" stroke-width="3" stroke-linecap="butt"/>
<line x1="622.60" y1="897.10" x2="622.60" y2="905.60" stroke="#000" stroke-width="3" stroke-linecap="butt"/>
<line x1="703.50" y1="897.10" x2="703.50" y2="905.60" stroke="#000" stroke-width="3" stroke-linecap="butt"/>
<path d="M625.1,637.4 V631.7 H701.8 V637.4" fill="none" stroke="#000" stroke-width="3.5"/>
<text x="598.63" y="624.50" font-size="29" font-style="italic">P</text>
<text x="619.65" y="624.50" font-size="29">&lt;</text>
<text x="645.91" y="624.50" font-size="29" textLength="83.42" lengthAdjust="spacingAndGlyphs">0.0001</text>
<g transform="translate(417.90,747.50) rotate(-90)">
<text x="-131.28" y="0.00" font-size="33" textLength="262.55" lengthAdjust="spacingAndGlyphs">Number of branch</text>
</g>
<g transform="translate(457.00,747.50) rotate(-90)">
<text x="-78.41" y="0.00" font-size="33" textLength="156.83" lengthAdjust="spacingAndGlyphs">points/field</text>
</g>
<g transform="translate(642.90,927.40) rotate(-45)">
<text x="-66.03" y="0.00" font-size="33">PBS</text>
</g>
<g transform="translate(723.10,926.40) rotate(-45)">
<text x="-155.90" y="0.00" font-size="33">BafA</text>
<text x="-84.35" y="7.00" font-size="22.5" font-style="italic">Bq</text>
<text x="-56.83" y="0.00" font-size="33">-PD</text>
</g>
<line x1="175.20" y1="1101.40" x2="175.20" y2="1402.10" stroke="#000" stroke-width="3" stroke-linecap="butt"/>
<line x1="165.40" y1="1400.60" x2="175.20" y2="1400.60" stroke="#000" stroke-width="3" stroke-linecap="butt"/>
<text x="136.82" y="1410.90" font-size="33">0</text>
<line x1="165.40" y1="1341.06" x2="175.20" y2="1341.06" stroke="#000" stroke-width="3" stroke-linecap="butt"/>
<text x="118.51" y="1351.36" font-size="33">50</text>
<line x1="165.40" y1="1281.52" x2="175.20" y2="1281.52" stroke="#000" stroke-width="3" stroke-linecap="butt"/>
<text x="100.11" y="1291.82" font-size="33">100</text>
<line x1="165.40" y1="1221.98" x2="175.20" y2="1221.98" stroke="#000" stroke-width="3" stroke-linecap="butt"/>
<text x="100.11" y="1232.28" font-size="33">150</text>
<line x1="165.40" y1="1162.44" x2="175.20" y2="1162.44" stroke="#000" stroke-width="3" stroke-linecap="butt"/>
<text x="100.11" y="1172.74" font-size="33">200</text>
<line x1="165.40" y1="1102.90" x2="175.20" y2="1102.90" stroke="#000" stroke-width="3" stroke-linecap="butt"/>
<text x="100.11" y="1113.20" font-size="33">250</text>
<rect x="204.10" y="1398.00" width="50.80" height="2.60" rx="0" fill="#fff" stroke="#000" stroke-width="3"/>
<line x1="229.50" y1="1398.00" x2="229.50" y2="1393.40" stroke="#000" stroke-width="3" stroke-linecap="butt"/>
<line x1="216.10" y1="1393.40" x2="242.90" y2="1393.40" stroke="#000" stroke-width="3" stroke-linecap="butt"/>
<circle cx="208.4" cy="1397.0" r="5.9" fill="none" stroke="#000" stroke-width="1.4"/>
<circle cx="218.7" cy="1391.3" r="5.9" fill="none" stroke="#000" stroke-width="1.4"/>
<circle cx="229.2" cy="1396.0" r="5.9" fill="none" stroke="#000" stroke-width="1.4"/>
<circle cx="239.1" cy="1395.4" r="5.9" fill="none" stroke="#000" stroke-width="1.4"/>
<circle cx="249.6" cy="1397.5" r="5.9" fill="none" stroke="#000" stroke-width="1.4"/>
<rect x="284.60" y="1216.40" width="50.80" height="184.20" rx="0" fill="#ffa0a0" stroke="#9c0000" stroke-width="3"/>
<line x1="310.00" y1="1216.40" x2="310.00" y2="1179.60" stroke="#9c0000" stroke-width="3" stroke-linecap="butt"/>
<line x1="296.80" y1="1179.60" x2="323.20" y2="1179.60" stroke="#9c0000" stroke-width="3" stroke-linecap="butt"/>
<circle cx="309.9" cy="1164.4" r="5.9" fill="none" stroke="#000" stroke-width="1.4"/>
<circle cx="309.9" cy="1194.3" r="5.9" fill="none" stroke="#000" stroke-width="1.4"/>
<circle cx="309.9" cy="1224.5" r="5.9" fill="none" stroke="#000" stroke-width="1.4"/>
<circle cx="309.9" cy="1237.6" r="5.9" fill="none" stroke="#000" stroke-width="1.4"/>
<circle cx="309.9" cy="1249.4" r="5.9" fill="none" stroke="#000" stroke-width="1.4"/>
<line x1="165.40" y1="1400.60" x2="365.90" y2="1400.60" stroke="#000" stroke-width="3" stroke-linecap="butt"/>
<line x1="229.00" y1="1400.60" x2="229.00" y2="1409.30" stroke="#000" stroke-width="3" stroke-linecap="butt"/>
<line x1="309.90" y1="1400.60" x2="309.90" y2="1409.30" stroke="#000" stroke-width="3" stroke-linecap="butt"/>
<path d="M231.3,1145.6 V1140.3 H307.9 V1145.6" fill="none" stroke="#000" stroke-width="3.5"/>
<text x="202.43" y="1132.50" font-size="29" font-style="italic">P</text>
<text x="223.45" y="1132.50" font-size="29">&lt;</text>
<text x="249.71" y="1132.50" font-size="29" textLength="83.73" lengthAdjust="spacingAndGlyphs">0.0001</text>
<g transform="translate(76.90,1251.50) rotate(-90)">
<text x="-154.98" y="0.00" font-size="33" textLength="309.96" lengthAdjust="spacingAndGlyphs">Number of loops/field</text>
</g>
<g transform="translate(249.30,1431.10) rotate(-45)">
<text x="-66.03" y="0.00" font-size="33">PBS</text>
</g>
<g transform="translate(329.50,1430.10) rotate(-45)">
<text x="-155.90" y="0.00" font-size="33">BafA</text>
<text x="-84.35" y="7.00" font-size="22.5" font-style="italic">Bq</text>
<text x="-56.83" y="0.00" font-size="33">-PD</text>
</g>
<path d="M1063.0,682.4 H829.8 Q823.8,682.4 823.8,688.4 V1147.5 Q823.8,1153.5 829.8,1153.5 H1061.3 M1280.8,953.5 H1067.3 Q1061.3,953.5 1061.3,959.5 V1348.2 Q1061.3,1354.2 1067.3,1354.2 H1794.0 M1305.9,759.9 H1286.8 Q1280.8,759.9 1280.8,765.9 V1141.8 Q1280.8,1147.8 1286.8,1147.8 H1313.2 M1613.8,721.9 H1311.9 Q1305.9,721.9 1305.9,727.9 V789.5 Q1305.9,795.5 1311.9,795.5 H1351.3 M1658.0,761.6 H1357.3 Q1351.3,761.6 1351.3,767.6 V824.6 Q1351.3,830.6 1357.3,830.6 H1369.2 M1675.5,801.3 H1375.2 Q1369.2,801.3 1369.2,807.3 V853.8 Q1369.2,859.8 1375.2,859.8 H1424.9 M1672.8,840.5 H1430.9 Q1424.9,840.5 1424.9,846.5 V873.6 Q1424.9,879.6 1430.9,879.6 H1707.0 M1319.4,983.4 H1317.3 Q1313.2,983.4 1313.2,987.5 V1311.2 Q1313.2,1315.3 1317.3,1315.3 H1709.3 M1628.8,919.2 H1325.4 Q1319.4,919.2 1319.4,925.2 V1036.3 Q1319.4,1042.3 1325.4,1042.3 H1376.5 M1389.3,979.0 H1382.5 Q1376.5,979.0 1376.5,985.0 V1101.3 Q1376.5,1107.3 1382.5,1107.3 H1427.3 M1684.0,959.1 H1395.3 Q1389.3,959.1 1389.3,965.1 V992.4 Q1389.3,998.4 1395.3,998.4 H1736.8 M1679.0,1038.5 H1433.3 Q1427.3,1038.5 1427.3,1044.5 V1170.5 Q1427.3,1176.5 1433.3,1176.5 H1442.8 M1452.6,1107.9 H1448.8 Q1442.8,1107.9 1442.8,1113.9 V1239.2 Q1442.8,1245.2 1448.8,1245.2 H1497.2 M1675.7,1078.0 H1458.6 Q1452.6,1078.0 1452.6,1084.0 V1130.8 Q1452.6,1136.8 1458.6,1136.8 H1567.9 M1684.0,1117.0 H1573.9 Q1567.9,1117.0 1567.9,1123.0 V1150.5 Q1567.9,1156.5 1573.9,1156.5 H1792.7 M1534.5,1216.5 H1503.2 Q1497.2,1216.5 1497.2,1222.5 V1269.5 Q1497.2,1275.5 1503.2,1275.5 H1737.7 M1712.0,1196.0 H1540.5 Q1534.5,1196.0 1534.5,1202.0 V1229.5 Q1534.5,1235.5 1540.5,1235.5 H1741.7" fill="none" stroke="#1a1a6b" stroke-width="2.8"/>
<text x="1078.80" y="692.40" font-size="28.3" font-style="italic">B. bovis</text>
<text x="1629.60" y="731.90" font-size="28.3" font-style="italic">B. washoeensis</text>
<text x="1673.80" y="771.60" font-size="28.3" font-style="italic" fill="#ff0000">B. quintana</text>
<text x="1691.30" y="811.30" font-size="28.3" font-style="italic">B. senegalensis</text>
<text x="1688.60" y="850.50" font-size="28.3" font-style="italic" fill="#ff0000">B. henselae</text>
<text x="1722.80" y="889.60" font-size="28.3" font-style="italic">B. koehlerae</text>
<text x="1644.60" y="929.20" font-size="28.3" font-style="italic">B. vinsonii</text>
<text x="1699.80" y="969.10" font-size="28.3" font-style="italic">B. florencae</text>
<text x="1752.60" y="1008.40" font-size="28.3" font-style="italic">B. birtlesii</text>
<text x="1694.80" y="1048.50" font-size="28.3" font-style="italic">B. taylorii</text>
<text x="1691.50" y="1088.00" font-size="28.3" font-style="italic">B. massiliensis</text>
<text x="1699.80" y="1127.00" font-size="28.3" font-style="italic">B. tribocorum</text>
<text x="1808.50" y="1166.50" font-size="28.3" font-style="italic">B. rattimassiliensis</text>
<text x="1727.80" y="1206.00" font-size="28.3" font-style="italic">B. grahamii</text>
<text x="1757.50" y="1245.50" font-size="28.3" font-style="italic">B. elizabethae</text>
<text x="1753.50" y="1285.50" font-size="28.3" font-style="italic">B. mastomydis</text>
<text x="1725.10" y="1325.30" font-size="28.3" font-style="italic">B. doshiae</text>
<text x="1809.80" y="1364.20" font-size="28.3" font-style="italic">B. bacilliformis</text>
<text x="1272.81" y="752.60" font-size="22.6">74</text>
<text x="1320.73" y="790.60" font-size="22.6">95</text>
<text x="1373.81" y="837.20" font-size="22.6">76</text>
<text x="1433.63" y="867.10" font-size="22.6">97</text>
<text x="1233.01" y="941.50" font-size="22.6">100</text>
<text x="1289.49" y="978.50" font-size="22.6">46</text>
<text x="1397.47" y="986.40" font-size="22.6">63</text>
<text x="1346.53" y="1035.00" font-size="22.6">98</text>
<text x="1395.93" y="1100.70" font-size="22.6">98</text>
<text x="1460.85" y="1115.90" font-size="22.6">34</text>
<text x="1572.45" y="1145.30" font-size="22.6">39</text>
<text x="1284.84" y="1139.30" font-size="22.6">84</text>
<text x="1543.40" y="1222.70" font-size="22.6">59</text>
<text x="1463.73" y="1236.90" font-size="22.6">98</text>
<rect x="833.1" y="1321.3" width="161.2" height="5.7" fill="#595959"/>
<text x="877.84" y="1310.50" font-size="27.5" textLength="72.44" lengthAdjust="spacingAndGlyphs">0.100</text>
</svg></body></html>
